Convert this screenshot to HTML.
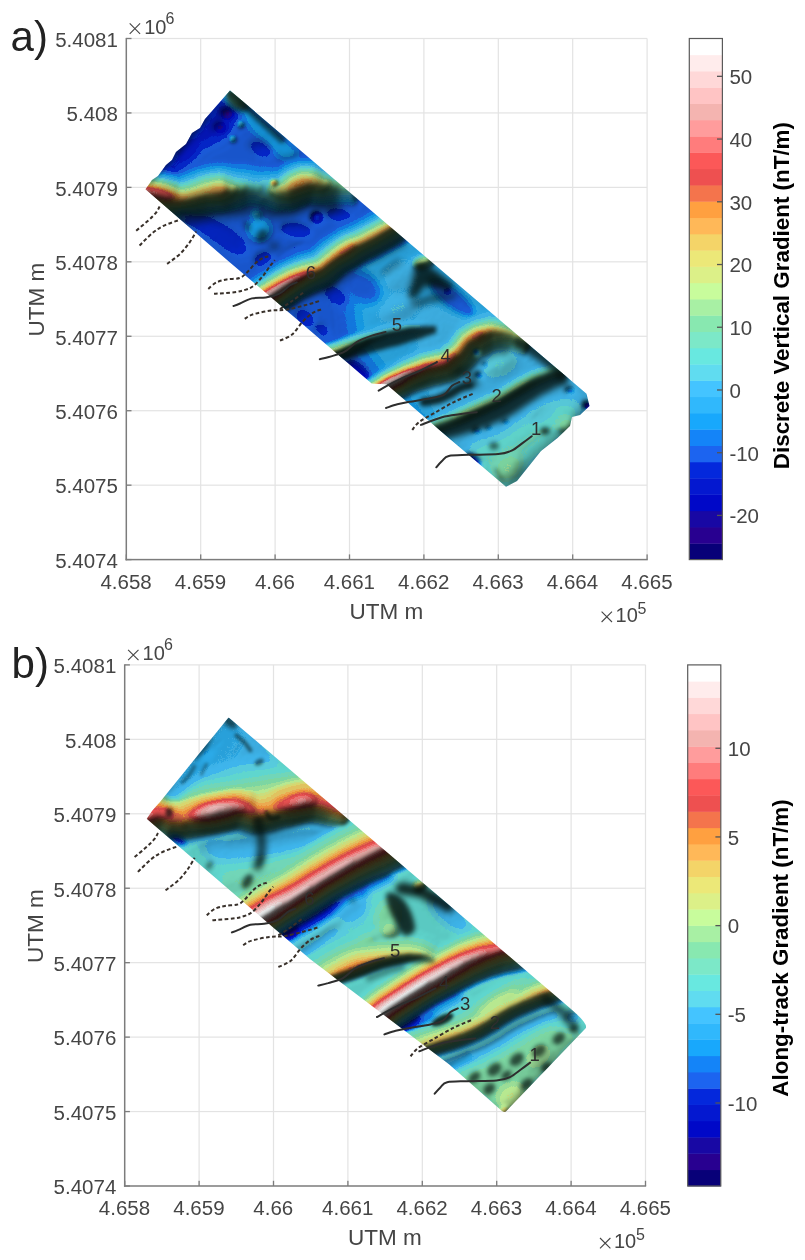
<!DOCTYPE html>
<html><head><meta charset="utf-8"><title>Gradient maps</title>
<style>
html,body{margin:0;padding:0;background:#fff;}
svg{display:block;font-family:"Liberation Sans",sans-serif;}
text{opacity:0.999;}
</style></head><body>
<svg width="805" height="1260" viewBox="0 0 805 1260">
<rect width="805" height="1260" fill="#fff"/>
<defs>
<filter id="cmap" x="100" y="60" width="540" height="460" filterUnits="userSpaceOnUse" color-interpolation-filters="sRGB"><feColorMatrix in="SourceGraphic" type="matrix" values="0 0 0 0 0  0 0 0 0 0  0 0 0 0 0  1 0 0 0 0" result="h0"/><feGaussianBlur in="h0" stdDeviation="1.2" result="h"/><feDiffuseLighting in="h" surfaceScale="26" diffuseConstant="1.3" lighting-color="#fff" result="lt0"><feDistantLight azimuth="225" elevation="45"/></feDiffuseLighting><feGaussianBlur in="lt0" stdDeviation="1.6" result="lt1"/><feComponentTransfer in="lt1" result="lt"><feFuncR type="linear" slope="0.68" intercept="0.32"/><feFuncG type="linear" slope="0.68" intercept="0.32"/><feFuncB type="linear" slope="0.68" intercept="0.32"/></feComponentTransfer><feComponentTransfer in="SourceGraphic" result="c0"><feFuncR type="discrete" tableValues="0.031 0.157 0.094 0.000 0.016 0.016 0.110 0.078 0.094 0.188 0.267 0.376 0.408 0.486 0.533 0.659 0.784 0.863 0.925 0.957 1.000 1.000 0.957 0.933 0.988 1.000 1.000 0.957 1.000 1.000 1.000 1.000"/><feFuncG type="discrete" tableValues="0.000 0.000 0.031 0.031 0.094 0.157 0.392 0.518 0.659 0.722 0.769 0.863 0.910 0.910 0.910 0.941 0.988 0.941 0.910 0.831 0.722 0.627 0.455 0.314 0.345 0.486 0.612 0.706 0.769 0.847 0.925 1.000"/><feFuncB type="discrete" tableValues="0.471 0.565 0.643 0.784 0.816 0.863 0.941 0.973 0.988 0.988 1.000 0.941 0.878 0.784 0.690 0.643 0.612 0.533 0.471 0.408 0.345 0.251 0.298 0.314 0.345 0.486 0.612 0.690 0.769 0.847 0.925 1.000"/></feComponentTransfer><feGaussianBlur in="c0" stdDeviation="0.5" result="col"/><feBlend in="col" in2="lt" mode="multiply"/></filter>
<filter id="b1" filterUnits="userSpaceOnUse" x="100" y="60" width="540" height="460" color-interpolation-filters="sRGB"><feGaussianBlur stdDeviation="1"/></filter>
<filter id="b1_5" filterUnits="userSpaceOnUse" x="100" y="60" width="540" height="460" color-interpolation-filters="sRGB"><feGaussianBlur stdDeviation="1.5"/></filter>
<filter id="b2" filterUnits="userSpaceOnUse" x="100" y="60" width="540" height="460" color-interpolation-filters="sRGB"><feGaussianBlur stdDeviation="2"/></filter>
<filter id="b2_5" filterUnits="userSpaceOnUse" x="100" y="60" width="540" height="460" color-interpolation-filters="sRGB"><feGaussianBlur stdDeviation="2.5"/></filter>
<filter id="b3" filterUnits="userSpaceOnUse" x="100" y="60" width="540" height="460" color-interpolation-filters="sRGB"><feGaussianBlur stdDeviation="3"/></filter>
<filter id="b4" filterUnits="userSpaceOnUse" x="100" y="60" width="540" height="460" color-interpolation-filters="sRGB"><feGaussianBlur stdDeviation="4"/></filter>
<filter id="b5" filterUnits="userSpaceOnUse" x="100" y="60" width="540" height="460" color-interpolation-filters="sRGB"><feGaussianBlur stdDeviation="5"/></filter>
<filter id="b6" filterUnits="userSpaceOnUse" x="100" y="60" width="540" height="460" color-interpolation-filters="sRGB"><feGaussianBlur stdDeviation="6"/></filter>
<filter id="b8" filterUnits="userSpaceOnUse" x="100" y="60" width="540" height="460" color-interpolation-filters="sRGB"><feGaussianBlur stdDeviation="8"/></filter>
<filter id="b10" filterUnits="userSpaceOnUse" x="100" y="60" width="540" height="460" color-interpolation-filters="sRGB"><feGaussianBlur stdDeviation="10"/></filter>
<filter id="b14" filterUnits="userSpaceOnUse" x="100" y="60" width="540" height="460" color-interpolation-filters="sRGB"><feGaussianBlur stdDeviation="14"/></filter>
<clipPath id="clipA"><path d="M230 90.5 L586.5 393.7 L589.5 406 L580 415 L572 417 L570 426 L557.5 438 L541 451 L517 481 L506 486.8 L449.1 438.3 L386.5 384.2 L371.7 383.5 L310 330.4 L230 262.5 L145.5 189.3 L152 180 L158 176 L166 165 L172 160 L176 152 L186 144 L192 133 L200 128 L205 119 Z"/></clipPath>
<clipPath id="clipB"><path d="M230.2 91 L572 382 Q589.5 397 587.5 401.5 L508.5 484 Q506 487 503 484.2 L450.6 437.9 L311.6 332.6 L148.3 192.4 L154 184 L162 175 Z"/></clipPath>
</defs><g id="panelA">
<text x="10.6" y="51.2" font-size="42" fill="#222">a)</text>
<rect x="126.3" y="37.9" width="520.8" height="1.2" fill="#e3e3e3"/>
<rect x="200.1" y="38.5" width="1.2" height="521.1" fill="#e3e3e3"/>
<rect x="126.3" y="112.34" width="520.8" height="1.2" fill="#e3e3e3"/>
<rect x="274.5" y="38.5" width="1.2" height="521.1" fill="#e3e3e3"/>
<rect x="126.3" y="186.79" width="520.8" height="1.2" fill="#e3e3e3"/>
<rect x="348.9" y="38.5" width="1.2" height="521.1" fill="#e3e3e3"/>
<rect x="126.3" y="261.23" width="520.8" height="1.2" fill="#e3e3e3"/>
<rect x="423.3" y="38.5" width="1.2" height="521.1" fill="#e3e3e3"/>
<rect x="126.3" y="335.67" width="520.8" height="1.2" fill="#e3e3e3"/>
<rect x="497.7" y="38.5" width="1.2" height="521.1" fill="#e3e3e3"/>
<rect x="126.3" y="410.11" width="520.8" height="1.2" fill="#e3e3e3"/>
<rect x="572.1" y="38.5" width="1.2" height="521.1" fill="#e3e3e3"/>
<rect x="126.3" y="484.56" width="520.8" height="1.2" fill="#e3e3e3"/>
<rect x="646.5" y="38.5" width="1.2" height="521.1" fill="#e3e3e3"/><g clip-path="url(#clipA)">
<g filter="url(#cmap)">
<rect x="100" y="60" width="540" height="460" fill="#353535"/>
<path d="M350 262 L400 222 L600 390 L510 500 L420 420 L360 340Z" fill="#4f4f4f" filter="url(#b10)"/>
<path d="M420 310 L520 335 L600 400 L510 500 L440 430Z" fill="#555555" filter="url(#b8)"/>
<path d="M232 88 C227.8 89 221 99.3 215 106 C209 112.7 203.2 119.7 196 128 C188.8 136.3 178 148.7 172 156 C166 163.3 159.3 168.7 160 172 C160.7 175.3 169.3 179.7 176 176 C182.7 172.3 192.3 156.3 200 150 C207.7 143.7 216 143.3 222 138 C228 132.7 233 124.3 236 118 C239 111.7 240.7 105 240 100 C239.3 95 236.2 87 232 88Z" fill="#272727" filter="url(#b4)"/>
<ellipse cx="227.5" cy="113.8" rx="6" ry="5.5" fill="#0e0e0e" filter="url(#b2)"/>
<ellipse cx="220.5" cy="127.7" rx="6.5" ry="6" fill="#171717" filter="url(#b2)"/>
<ellipse cx="188" cy="150" rx="10" ry="6" fill="#212121" transform="rotate(-45 188 150)" filter="url(#b3)"/>
<path d="M244 106 C246.7 105.7 255.7 114.7 262 120 C268.3 125.3 276 132.3 282 138 C288 143.7 298 150.7 298 154 C298 157.3 288 160.3 282 158 C276 155.7 268 146 262 140 C256 134 249 127.7 246 122 C243 116.3 241.3 106.3 244 106Z" fill="#454545" filter="url(#b3)"/>
<ellipse cx="261" cy="149" rx="11" ry="6" fill="#272727" transform="rotate(25 261 149)" filter="url(#b3)"/>
<ellipse cx="240.4" cy="123.8" rx="2.8" ry="2.8" fill="#545454" filter="url(#b1_5)"/>
<ellipse cx="232.4" cy="138.7" rx="2.6" ry="2.6" fill="#545454" filter="url(#b1_5)"/>
<ellipse cx="236" cy="99" rx="13" ry="8" fill="#707070" transform="rotate(40 236 99)" filter="url(#b3)"/>
<path d="M127.2 187.6 L143.1 189.4 L152.1 190.4 L160.2 191.9 L168.2 194.4 L174.2 195.9 L180 197.4 L185.8 195.9 L191.8 194.4 L197.8 192.7 L203.8 190.9 L209.9 189.9 L215.9 188.9 L222 188.7 L227.9 188.4 L237.9 187.4 L247 185.4 L256.1 186.4 L266.1 187.4 L277 189.4 L285.8 188.4 L293.7 184.5 L302.8 180.9 L312.1 179.9 L322.1 182.4 L331 182.9 L340 183.4 L356 184.3 L354.7 208.4 L338.7 207.5 L329.7 207.4 L318.2 207.3 L310 205.4 L309.1 206 L304.1 208 L293 212.9 L275.8 214.3 L262.7 211.1 L253.6 209.7 L248.3 209.1 L241.7 211.6 L229.9 213.6 L223 214.4 L218.6 214.5 L214.1 215.2 L209.5 215.9 L204.9 217.2 L198.5 219.1 L192 220.7 L180 223.1 L167.9 221.1 L161 219.5 L153.8 217.3 L148.3 216.3 L140.2 215.5 L124.3 213.7Z" fill="#343434" filter="url(#b2)"/>
<path d="M129.3 168.6 L145.2 170.3 L155.1 169.9 L165.6 170.3 L174.7 171.9 L180.1 172.4 L180 171.6 L179.3 170 L184.6 167.9 L189.9 165.5 L197.3 162.6 L205.1 161.1 L212.9 159.9 L220.8 159.5 L225.7 159.3 L233.5 159.8 L245.5 159 L258.7 161.3 L269.7 162.5 L278.3 164.2 L278.5 163.8 L283.1 160.5 L296.5 155.5 L314 155.2 L325.7 159.5 L332.2 161.5 L341.1 164.2 L357.1 165.1 L355.9 185.9 L340 185 L331 184.5 L321.9 184 L311.9 181.5 L303.2 182.5 L294.3 185.9 L286.2 190 L277 191 L265.9 189 L255.9 188 L247 187 L238.1 189 L228.1 190 L222 190.2 L216.1 190.5 L210.1 191.5 L204.2 192.5 L198.2 194.2 L192.2 196 L186.2 197.5 L180 199 L173.8 197.5 L167.8 196 L159.8 193.5 L151.9 192 L142.9 191 L127 189.2Z" fill="#343434" filter="url(#b2)" style="mix-blend-mode:lighten"/>
<path d="M127.2 187.6 L143.1 189.4 L152.1 190.4 L160.2 191.9 L168.2 194.4 L174.2 195.9 L180 197.4 L185.8 195.9 L191.8 194.4 L197.8 192.7 L203.8 190.9 L209.9 189.9 L215.9 188.9 L222 188.7 L227.9 188.4 L237.9 187.4 L247 185.4 L256.1 186.4 L266.1 187.4 L277 189.4 L285.8 188.4 L293.7 184.5 L302.8 180.9 L312.1 179.9 L322.1 182.4 L331 182.9 L340 183.4 L356 184.3 L354.9 205.3 L338.9 204.4 L329.8 204.5 L318.6 204.8 L310.2 203.3 L308.6 204 L303.2 206.1 L292.3 210.7 L275.9 211.7 L263.2 207.8 L254 206 L248.1 205.6 L241.2 208.7 L229.7 211.2 L223 212.3 L218.4 212.4 L213.7 213.1 L209 213.7 L204.3 215 L197.9 216.9 L191.5 218.6 L180 220.9 L168.4 219.2 L161.6 217.8 L154.3 215.6 L148.6 214.6 L140.4 213.8 L124.5 212Z" fill="#3c3c3c" filter="url(#b2)"/>
<path d="M129.1 170.5 L145 172.2 L154.8 172 L165 172.6 L174 174.2 L179.4 175 L180 174.8 L180.1 173.3 L185.5 171.3 L190.9 169 L198.1 166.2 L205.7 164.7 L213.3 163.3 L220.9 162.9 L226 163.3 L234.3 164.5 L245.8 164.4 L258.1 166.8 L269 167.3 L278.1 168.1 L279.5 167 L284.4 163.3 L297.2 158.5 L313.8 158.3 L325.2 162.7 L332 165.1 L340.9 167.8 L356.9 168.7 L355.9 185.9 L340 185 L331 184.5 L321.9 184 L311.9 181.5 L303.2 182.5 L294.3 185.9 L286.2 190 L277 191 L265.9 189 L255.9 188 L247 187 L238.1 189 L228.1 190 L222 190.2 L216.1 190.5 L210.1 191.5 L204.2 192.5 L198.2 194.2 L192.2 196 L186.2 197.5 L180 199 L173.8 197.5 L167.8 196 L159.8 193.5 L151.9 192 L142.9 191 L127 189.2Z" fill="#3c3c3c" filter="url(#b2)" style="mix-blend-mode:lighten"/>
<path d="M127.2 187.6 L143.1 189.4 L152.1 190.4 L160.2 191.9 L168.2 194.4 L174.2 195.9 L180 197.4 L185.8 195.9 L191.8 194.4 L197.8 192.7 L203.8 190.9 L209.9 189.9 L215.9 188.9 L222 188.7 L227.9 188.4 L237.9 187.4 L247 185.4 L256.1 186.4 L266.1 187.4 L277 189.4 L285.8 188.4 L293.7 184.5 L302.8 180.9 L312.1 179.9 L322.1 182.4 L331 182.9 L340 183.4 L356 184.3 L355 202.5 L339 201.6 L330 202 L318.9 202.7 L310.4 201.4 L308.1 202.3 L302.5 204.5 L291.8 208.8 L276 209.4 L263.6 205 L254.4 202.8 L247.9 202.6 L240.8 206.2 L229.5 209 L222.9 210.5 L218.2 210.6 L213.4 211.2 L208.6 211.9 L203.8 213.2 L197.4 215 L191 216.7 L180 219.1 L168.8 217.5 L162 216.2 L154.7 214.1 L148.8 213.1 L140.5 212.3 L124.6 210.5Z" fill="#444444" filter="url(#b2)"/>
<path d="M128.9 172.1 L144.8 173.9 L154.6 173.8 L164.6 174.5 L173.4 176.3 L178.8 177.3 L180 177.5 L180.8 176.1 L186.3 174.2 L191.7 172 L198.8 169.2 L206.2 167.7 L213.6 166.3 L221 165.9 L226.3 166.8 L234.9 168.6 L246 169 L257.7 171.5 L268.4 171.5 L277.9 171.4 L280.3 169.8 L285.4 165.8 L297.8 161 L313.6 161 L324.8 165.6 L331.9 168.2 L340.7 170.9 L356.7 171.8 L355.9 185.9 L340 185 L331 184.5 L321.9 184 L311.9 181.5 L303.2 182.5 L294.3 185.9 L286.2 190 L277 191 L265.9 189 L255.9 188 L247 187 L238.1 189 L228.1 190 L222 190.2 L216.1 190.5 L210.1 191.5 L204.2 192.5 L198.2 194.2 L192.2 196 L186.2 197.5 L180 199 L173.8 197.5 L167.8 196 L159.8 193.5 L151.9 192 L142.9 191 L127 189.2Z" fill="#444444" filter="url(#b2)" style="mix-blend-mode:lighten"/>
<path d="M127.2 187.6 L143.1 189.4 L152.1 190.4 L160.2 191.9 L168.2 194.4 L174.2 195.9 L180 197.4 L185.8 195.9 L191.8 194.4 L197.8 192.7 L203.8 190.9 L209.9 189.9 L215.9 188.9 L222 188.7 L227.9 188.4 L237.9 187.4 L247 185.4 L256.1 186.4 L266.1 187.4 L277 189.4 L285.8 188.4 L293.7 184.5 L302.8 180.9 L312.1 179.9 L322.1 182.4 L331 182.9 L340 183.4 L356 184.3 L355.1 200 L339.2 199.1 L330.1 199.7 L319.2 200.7 L310.5 199.6 L307.7 200.7 L301.8 203 L291.3 207.1 L276.1 207.3 L264 202.3 L254.7 199.9 L247.8 199.8 L240.5 203.8 L229.4 207.1 L222.8 208.8 L218 208.9 L213.1 209.5 L208.2 210.1 L203.2 211.4 L196.9 213.3 L190.6 215 L180 217.4 L169.2 216 L162.4 214.8 L155 212.7 L149 211.7 L140.7 210.9 L124.8 209.1Z" fill="#4c4c4c" filter="url(#b2)"/>
<path d="M128.8 173.5 L144.7 175.3 L154.3 175.3 L164.2 176.1 L172.9 178 L178.4 179.2 L180 179.7 L181.4 178.4 L187 176.6 L192.5 174.5 L199.4 171.7 L206.6 170.2 L213.8 168.8 L221.1 168.4 L226.5 169.7 L235.4 171.9 L246.3 172.8 L257.2 175.4 L267.9 175 L277.8 174.1 L281 172 L286.3 167.8 L298.4 163.2 L313.4 163.2 L324.4 167.9 L331.7 170.8 L340.6 173.4 L356.6 174.3 L355.9 185.9 L340 185 L331 184.5 L321.9 184 L311.9 181.5 L303.2 182.5 L294.3 185.9 L286.2 190 L277 191 L265.9 189 L255.9 188 L247 187 L238.1 189 L228.1 190 L222 190.2 L216.1 190.5 L210.1 191.5 L204.2 192.5 L198.2 194.2 L192.2 196 L186.2 197.5 L180 199 L173.8 197.5 L167.8 196 L159.8 193.5 L151.9 192 L142.9 191 L127 189.2Z" fill="#4c4c4c" filter="url(#b2)" style="mix-blend-mode:lighten"/>
<path d="M127.2 187.6 L143.1 189.4 L152.1 190.4 L160.2 191.9 L168.2 194.4 L174.2 195.9 L180 197.4 L185.8 195.9 L191.8 194.4 L197.8 192.7 L203.8 190.9 L209.9 189.9 L215.9 188.9 L222 188.7 L227.9 188.4 L237.9 187.4 L247 185.4 L256.1 186.4 L266.1 187.4 L277 189.4 L285.8 188.4 L293.7 184.5 L302.8 180.9 L312.1 179.9 L322.1 182.4 L331 182.9 L340 183.4 L356 184.3 L355.3 197.6 L339.3 196.7 L330.2 197.5 L319.5 198.9 L310.6 198 L307.4 199.2 L301.2 201.5 L290.8 205.4 L276.2 205.3 L264.3 199.8 L255 197.1 L247.6 197.2 L240.1 201.6 L229.3 205.3 L222.7 207.2 L217.8 207.3 L212.9 207.9 L207.9 208.5 L202.8 209.8 L196.5 211.6 L190.2 213.3 L180 215.8 L169.5 214.5 L162.8 213.4 L155.3 211.4 L149.2 210.4 L140.8 209.6 L124.9 207.8Z" fill="#545454" filter="url(#b2)"/>
<path d="M128.6 174.7 L144.5 176.5 L154.1 176.6 L163.8 177.5 L172.5 179.5 L178 180.9 L180 181.7 L182 180.5 L187.6 178.8 L193.1 176.7 L199.9 174 L207 172.5 L214.1 171 L221.2 170.6 L226.7 172.3 L235.9 174.9 L246.4 176.3 L256.9 178.9 L267.5 178 L277.7 176.5 L281.6 174.1 L287.1 169.6 L298.8 165 L313.2 165.1 L324.1 170 L331.6 173.1 L340.5 175.7 L356.4 176.6 L355.9 185.9 L340 185 L331 184.5 L321.9 184 L311.9 181.5 L303.2 182.5 L294.3 185.9 L286.2 190 L277 191 L265.9 189 L255.9 188 L247 187 L238.1 189 L228.1 190 L222 190.2 L216.1 190.5 L210.1 191.5 L204.2 192.5 L198.2 194.2 L192.2 196 L186.2 197.5 L180 199 L173.8 197.5 L167.8 196 L159.8 193.5 L151.9 192 L142.9 191 L127 189.2Z" fill="#545454" filter="url(#b2)" style="mix-blend-mode:lighten"/>
<path d="M127.2 187.6 L143.1 189.4 L152.1 190.4 L160.2 191.9 L168.2 194.4 L174.2 195.9 L180 197.4 L185.8 195.9 L191.8 194.4 L197.8 192.7 L203.8 190.9 L209.9 189.9 L215.9 188.9 L222 188.7 L227.9 188.4 L237.9 187.4 L247 185.4 L256.1 186.4 L266.1 187.4 L277 189.4 L285.8 188.4 L293.7 184.5 L302.8 180.9 L312.1 179.9 L322.1 182.4 L331 182.9 L340 183.4 L356 184.3 L355.4 195.4 L339.4 194.5 L330.3 195.4 L319.8 197.1 L310.8 196.4 L307 197.7 L300.6 200.2 L290.3 203.9 L276.3 203.4 L264.7 197.5 L255.2 194.5 L247.5 194.8 L239.8 199.6 L229.1 203.5 L222.7 205.7 L217.7 205.8 L212.6 206.4 L207.5 207 L202.3 208.3 L196 210.1 L189.8 211.8 L180 214.2 L169.9 213.2 L163.2 212.2 L155.6 210.1 L149.4 209.1 L141 208.3 L125.1 206.6Z" fill="#5c5c5c" filter="url(#b2)"/>
<path d="M128.5 175.8 L144.4 177.6 L154 177.8 L163.5 178.8 L172.1 180.9 L177.6 182.4 L180 183.6 L182.4 182.5 L188.1 180.8 L193.7 178.7 L200.4 176.1 L207.3 174.6 L214.3 173.1 L221.3 172.6 L226.9 174.6 L236.3 177.6 L246.6 179.4 L256.5 182.1 L267 180.9 L277.6 178.8 L282.1 175.9 L287.9 171.3 L299.3 166.8 L313.1 166.9 L323.8 171.9 L331.5 175.2 L340.4 177.8 L356.3 178.6 L355.9 185.9 L340 185 L331 184.5 L321.9 184 L311.9 181.5 L303.2 182.5 L294.3 185.9 L286.2 190 L277 191 L265.9 189 L255.9 188 L247 187 L238.1 189 L228.1 190 L222 190.2 L216.1 190.5 L210.1 191.5 L204.2 192.5 L198.2 194.2 L192.2 196 L186.2 197.5 L180 199 L173.8 197.5 L167.8 196 L159.8 193.5 L151.9 192 L142.9 191 L127 189.2Z" fill="#5c5c5c" filter="url(#b2)" style="mix-blend-mode:lighten"/>
<path d="M127.2 187.6 L143.1 189.4 L152.1 190.4 L160.2 191.9 L168.2 194.4 L174.2 195.9 L180 197.4 L185.8 195.9 L191.8 194.4 L197.8 192.7 L203.8 190.9 L209.9 189.9 L215.9 188.9 L222 188.7 L227.9 188.4 L237.9 187.4 L247 185.4 L256.1 186.4 L266.1 187.4 L277 189.4 L285.8 188.4 L293.7 184.5 L302.8 180.9 L312.1 179.9 L322.1 182.4 L331 182.9 L340 183.4 L356 184.3 L355.5 193.2 L339.5 192.3 L330.5 193.4 L320.1 195.4 L310.9 194.9 L306.7 196.4 L300 198.8 L289.9 202.4 L276.4 201.6 L265 195.2 L255.5 192 L247.3 192.4 L239.5 197.6 L229 201.9 L222.6 204.3 L217.5 204.4 L212.4 204.9 L207.2 205.5 L201.9 206.8 L195.6 208.6 L189.4 210.3 L180 212.8 L170.2 211.9 L163.5 210.9 L155.9 208.9 L149.5 207.9 L141.1 207.1 L125.2 205.4Z" fill="#646464" filter="url(#b2)"/>
<path d="M128.4 176.9 L144.3 178.7 L153.8 179 L163.2 180 L171.7 182.2 L177.2 183.9 L180 185.3 L182.9 184.3 L188.6 182.7 L194.3 180.6 L200.9 178 L207.6 176.5 L214.5 175 L221.4 174.5 L227 176.9 L236.7 180.2 L246.8 182.3 L256.2 185.1 L266.7 183.5 L277.5 180.9 L282.6 177.7 L288.6 172.9 L299.7 168.4 L313 168.6 L323.5 173.7 L331.4 177.2 L340.2 179.7 L356.2 180.6 L355.9 185.9 L340 185 L331 184.5 L321.9 184 L311.9 181.5 L303.2 182.5 L294.3 185.9 L286.2 190 L277 191 L265.9 189 L255.9 188 L247 187 L238.1 189 L228.1 190 L222 190.2 L216.1 190.5 L210.1 191.5 L204.2 192.5 L198.2 194.2 L192.2 196 L186.2 197.5 L180 199 L173.8 197.5 L167.8 196 L159.8 193.5 L151.9 192 L142.9 191 L127 189.2Z" fill="#646464" filter="url(#b2)" style="mix-blend-mode:lighten"/>
<path d="M127.2 187.6 L143.1 189.4 L152.1 190.4 L160.2 191.9 L168.2 194.4 L174.2 195.9 L180 197.4 L185.8 195.9 L191.8 194.4 L197.8 192.7 L203.8 190.9 L209.9 189.9 L215.9 188.9 L222 188.7 L227.9 188.4 L237.9 187.4 L247 185.4 L256 187.2 L266.1 187.4 L277 189.4 L285.8 188.4 L293.7 184.5 L302.8 180.9 L312.1 179.9 L322.1 182.4 L331 182.9 L340 183.4 L356 184.3 L355.6 191.1 L339.7 190.2 L330.6 191.5 L320.3 193.8 L311 193.5 L306.3 195.1 L299.5 197.6 L289.5 201 L276.5 199.8 L265.3 193 L256 187.2 L247.2 190.1 L239.2 195.6 L228.9 200.3 L222.6 202.9 L217.4 203 L212.1 203.5 L206.8 204.1 L201.5 205.4 L195.2 207.2 L189 208.9 L180 211.3 L170.5 210.6 L163.8 209.8 L156.2 207.8 L149.7 206.7 L141.2 206 L125.3 204.2Z" fill="#6c6c6c" filter="url(#b2)"/>
<path d="M128.3 177.9 L144.2 179.7 L153.6 180.1 L162.9 181.1 L171.3 183.5 L176.9 185.3 L180 186.9 L183.3 186 L189.1 184.4 L194.8 182.4 L201.3 179.9 L207.9 178.3 L214.7 176.8 L221.5 176.4 L227.2 179 L237.1 182.7 L246.9 185.1 L256 187.2 L266.3 186.1 L277.4 182.9 L283.1 179.4 L289.2 174.4 L300.1 170 L312.8 170.2 L323.2 175.5 L331.3 179.1 L340.1 181.6 L356.1 182.5 L355.9 185.9 L340 185 L331 184.5 L321.9 184 L311.9 181.5 L303.2 182.5 L294.3 185.9 L286.2 190 L277 191 L265.9 189 L256 187.2 L247 187 L238.1 189 L228.1 190 L222 190.2 L216.1 190.5 L210.1 191.5 L204.2 192.5 L198.2 194.2 L192.2 196 L186.2 197.5 L180 199 L173.8 197.5 L167.8 196 L159.8 193.5 L151.9 192 L142.9 191 L127 189.2Z" fill="#6c6c6c" filter="url(#b2)" style="mix-blend-mode:lighten"/>
<path d="M127.2 187.6 L143.1 189.4 L152.1 190.4 L160.2 191.9 L168.2 194.4 L174.2 195.9 L180 197.4 L185.8 195.9 L191.8 194.4 L197.8 192.7 L203.8 190.9 L209.9 189.9 L215.9 188.9 L222 188.7 L227.9 188.4 L237.9 187.4 L247 186.2 L256 187.2 L266 188.2 L277 189.4 L285.8 188.4 L293.7 184.5 L302.8 180.9 L312.1 179.9 L322.1 182.4 L331 182.9 L340 183.4 L356 184.3 L355.8 189.1 L339.8 188.2 L330.7 189.6 L320.6 192.2 L311.1 192.1 L306 193.8 L298.9 196.4 L289 199.6 L276.6 198.1 L266 188.2 L256 187.2 L247 186.2 L238.9 193.8 L228.7 198.7 L222.5 201.6 L217.2 201.7 L211.9 202.2 L206.5 202.7 L201.1 204 L194.9 205.8 L188.7 207.5 L180 210 L170.8 209.4 L164.2 208.6 L156.5 206.7 L149.9 205.6 L141.4 204.9 L125.5 203.1Z" fill="#747474" filter="url(#b2)"/>
<path d="M128.2 178.9 L144.1 180.6 L153.5 181.1 L162.6 182.3 L171 184.7 L176.5 186.6 L180 188.5 L183.7 187.6 L189.5 186.1 L195.3 184.1 L201.7 181.6 L208.2 180.1 L214.8 178.5 L221.5 178.1 L227.4 181 L237.5 185 L247 186.2 L256 187.2 L266 188.2 L277.3 184.8 L283.6 180.9 L289.8 175.8 L300.4 171.4 L312.7 171.8 L323 177.1 L331.2 180.9 L340 183.3 L356 184.2 L355.9 185.9 L340 185 L331 184.5 L321.9 184 L311.9 181.5 L303.2 182.5 L294.3 185.9 L286.2 190 L277 191 L266 188.2 L256 187.2 L247 186.2 L238.1 189 L228.1 190 L222 190.2 L216.1 190.5 L210.1 191.5 L204.2 192.5 L198.2 194.2 L192.2 196 L186.2 197.5 L180 199 L173.8 197.5 L167.8 196 L159.8 193.5 L151.9 192 L142.9 191 L127 189.2Z" fill="#747474" filter="url(#b2)" style="mix-blend-mode:lighten"/>
<path d="M127.2 187.6 L143.1 189.4 L152.1 190.4 L160.2 191.9 L168.2 194.4 L174.2 195.9 L180 197.4 L185.8 195.9 L191.8 194.4 L197.8 192.7 L203.8 190.9 L209.9 189.9 L215.9 188.9 L222 188.7 L227.9 188.4 L237.9 187.4 L247 186.2 L256 187.2 L266 188.2 L277 189.4 L285.8 188.4 L293.7 184.5 L302.8 180.9 L312.1 179.9 L322.1 182.4 L331 182.9 L340 184.2 L356 185.1 L356 185.1 L340 184.2 L330.8 187.8 L320.8 190.7 L311.2 190.7 L305.7 192.6 L298.4 195.2 L288.6 198.2 L276.7 196.5 L266 188.2 L256 187.2 L247 186.2 L238.6 191.9 L228.6 197.2 L222.5 200.3 L217.1 200.4 L211.7 200.8 L206.2 201.4 L200.7 202.7 L194.5 204.4 L188.4 206.2 L180 208.6 L171.1 208.2 L164.5 207.5 L156.8 205.6 L150 204.5 L141.5 203.8 L125.6 202Z" fill="#7c7c7c" filter="url(#b2)"/>
<path d="M128.1 179.8 L144 181.5 L153.3 182.1 L162.3 183.3 L170.7 185.8 L176.2 187.8 L180 190 L184.1 189.2 L190 187.8 L195.8 185.8 L202.1 183.3 L208.5 181.8 L215 180.2 L221.6 179.7 L227.5 182.9 L237.8 187.2 L247 186.2 L256 187.2 L266 188.2 L277.2 186.6 L284 182.5 L290.4 177.1 L300.8 172.8 L312.6 173.2 L322.7 178.7 L331.1 182.6 L340 184.2 L356 185.1 L356 185.1 L340 184.2 L331 184.5 L321.9 184 L311.9 181.5 L303.2 182.5 L294.3 185.9 L286.2 190 L277 191 L266 188.2 L256 187.2 L247 186.2 L238.1 189 L228.1 190 L222 190.2 L216.1 190.5 L210.1 191.5 L204.2 192.5 L198.2 194.2 L192.2 196 L186.2 197.5 L180 199 L173.8 197.5 L167.8 196 L159.8 193.5 L151.9 192 L142.9 191 L127 189.2Z" fill="#7c7c7c" filter="url(#b2)" style="mix-blend-mode:lighten"/>
<path d="M127.2 187.6 L143.1 189.4 L152.1 190.4 L160.2 191.9 L168.2 194.4 L174.2 195.9 L180 197.4 L185.8 195.9 L191.8 194.4 L197.8 192.7 L203.8 190.9 L209.9 189.9 L215.9 188.9 L222 188.7 L227.9 188.4 L238 188.2 L247 186.2 L256 187.2 L266 188.2 L277 189.4 L285.8 188.4 L293.7 184.5 L302.8 180.9 L312.1 179.9 L322.1 182.4 L331 183.7 L340 184.2 L356 185.1 L356 185.1 L340 184.2 L331 183.7 L321.1 189.2 L311.3 189.4 L305.4 191.4 L297.9 194 L288.3 196.9 L276.8 194.9 L266 188.2 L256 187.2 L247 186.2 L238 188.2 L228.5 195.7 L222.4 199 L217 199.1 L211.5 199.5 L205.9 200.1 L200.3 201.3 L194.1 203.1 L188 204.9 L180 207.3 L171.4 207 L164.8 206.4 L157 204.5 L150.2 203.5 L141.6 202.7 L125.7 201Z" fill="#838383" filter="url(#b2)"/>
<path d="M128 180.7 L143.9 182.4 L153.2 183.1 L162.1 184.3 L170.4 186.9 L175.9 189.1 L180 191.5 L184.5 190.7 L190.4 189.3 L196.2 187.4 L202.5 185 L208.8 183.4 L215.2 181.8 L221.7 181.3 L227.7 184.8 L238 188.2 L247 186.2 L256 187.2 L266 188.2 L277.1 188.4 L284.5 183.9 L291 178.5 L301.1 174.2 L312.5 174.7 L322.5 180.2 L331 183.7 L340 184.2 L356 185.1 L356 185.1 L340 184.2 L331 183.7 L321.9 184 L311.9 181.5 L303.2 182.5 L294.3 185.9 L286.2 190 L277 191 L266 188.2 L256 187.2 L247 186.2 L238 188.2 L228.1 190 L222 190.2 L216.1 190.5 L210.1 191.5 L204.2 192.5 L198.2 194.2 L192.2 196 L186.2 197.5 L180 199 L173.8 197.5 L167.8 196 L159.8 193.5 L151.9 192 L142.9 191 L127 189.2Z" fill="#838383" filter="url(#b2)" style="mix-blend-mode:lighten"/>
<path d="M127.2 187.6 L143.1 189.4 L152.1 190.4 L160.2 191.9 L168.2 194.4 L174.2 195.9 L180 197.4 L185.8 195.9 L191.8 194.4 L197.8 192.7 L203.8 190.9 L209.9 189.9 L215.9 188.9 L222 188.7 L227.9 188.4 L238 188.2 L247 186.2 L256 187.2 L266 188.2 L277 189.4 L285.8 188.4 L293.7 184.5 L302.8 180.9 L312.1 179.9 L322.1 182.4 L331 183.7 L340 184.2 L356 185.1 L356 185.1 L340 184.2 L331 183.7 L321.3 187.7 L311.4 188.1 L305.1 190.2 L297.4 192.9 L287.9 195.6 L276.8 193.3 L266 188.2 L256 187.2 L247 186.2 L238 188.2 L228.4 194.3 L222.3 197.8 L216.8 197.8 L211.3 198.3 L205.6 198.8 L199.9 200.1 L193.8 201.8 L187.7 203.6 L180 206.1 L171.7 205.9 L165.1 205.4 L157.3 203.5 L150.3 202.4 L141.7 201.7 L125.8 199.9Z" fill="#8b8b8b" filter="url(#b2)"/>
<path d="M127.9 181.5 L143.8 183.3 L153.1 184 L161.8 185.3 L170.1 188 L175.6 190.3 L180 192.9 L184.9 192.2 L190.8 190.9 L196.7 189 L202.8 186.6 L209.1 185 L215.3 183.4 L221.7 182.9 L227.8 186.6 L238 188.2 L247 186.2 L256 187.2 L266 188.2 L277 190.1 L284.9 185.4 L291.6 179.7 L301.5 175.6 L312.4 176.1 L322.2 181.7 L331 183.7 L340 184.2 L356 185.1 L356 185.1 L340 184.2 L331 183.7 L321.9 184 L311.9 181.5 L303.2 182.5 L294.3 185.9 L286.2 190 L277 191 L266 188.2 L256 187.2 L247 186.2 L238 188.2 L228.1 190 L222 190.2 L216.1 190.5 L210.1 191.5 L204.2 192.5 L198.2 194.2 L192.2 196 L186.2 197.5 L180 199 L173.8 197.5 L167.8 196 L159.8 193.5 L151.9 192 L142.9 191 L127 189.2Z" fill="#8b8b8b" filter="url(#b2)" style="mix-blend-mode:lighten"/>
<path d="M127.2 187.6 L143.1 189.4 L152.1 190.4 L160.2 191.9 L168.2 194.4 L174.2 195.9 L180 197.4 L185.8 195.9 L191.8 194.4 L197.8 192.7 L203.8 190.9 L209.9 189.9 L215.9 188.9 L222 188.7 L227.9 188.4 L238 188.2 L247 186.2 L256 187.2 L266 188.2 L277 190.2 L285.8 188.4 L293.7 184.5 L302.8 180.9 L312.1 179.9 L322.1 182.4 L331 183.7 L340 184.2 L356 185.1 L356 185.1 L340 184.2 L331 183.7 L321.5 186.3 L311.5 186.8 L304.8 189 L296.9 191.8 L287.5 194.3 L277 190.2 L266 188.2 L256 187.2 L247 186.2 L238 188.2 L228.3 192.9 L222.3 196.6 L216.7 196.6 L211.1 197 L205.3 197.6 L199.6 198.8 L193.4 200.6 L187.4 202.3 L180 204.8 L172 204.8 L165.4 204.3 L157.6 202.5 L150.5 201.4 L141.8 200.7 L125.9 198.9Z" fill="#939393" filter="url(#b2)"/>
<path d="M127.8 182.4 L143.7 184.1 L152.9 184.9 L161.6 186.3 L169.8 189 L175.3 191.4 L180 194.3 L185.2 193.6 L191.2 192.3 L197.1 190.5 L203.2 188.1 L209.3 186.6 L215.5 184.9 L221.8 184.4 L227.9 188.4 L238 188.2 L247 186.2 L256 187.2 L266 188.2 L277 190.2 L285.3 186.8 L292.1 181 L301.8 176.8 L312.3 177.4 L322 183.1 L331 183.7 L340 184.2 L356 185.1 L356 185.1 L340 184.2 L331 183.7 L321.9 184 L311.9 181.5 L303.2 182.5 L294.3 185.9 L286.2 190 L277 190.2 L266 188.2 L256 187.2 L247 186.2 L238 188.2 L228.1 190 L222 190.2 L216.1 190.5 L210.1 191.5 L204.2 192.5 L198.2 194.2 L192.2 196 L186.2 197.5 L180 199 L173.8 197.5 L167.8 196 L159.8 193.5 L151.9 192 L142.9 191 L127 189.2Z" fill="#939393" filter="url(#b2)" style="mix-blend-mode:lighten"/>
<path d="M127.2 187.6 L143.1 189.4 L152.1 190.4 L160.2 191.9 L168.2 194.4 L174.2 195.9 L180 197.4 L185.8 195.9 L191.8 194.4 L197.8 192.7 L203.8 190.9 L209.9 189.9 L215.9 188.9 L222 188.7 L228 189.2 L238 188.2 L247 186.2 L256 187.2 L266 188.2 L277 190.2 L285.8 188.4 L293.7 184.5 L302.8 180.9 L312.1 179.9 L322 183.2 L331 183.7 L340 184.2 L356 185.1 L356 185.1 L340 184.2 L331 183.7 L322 183.2 L311.6 185.6 L304.5 187.9 L296.4 190.7 L287.1 193.1 L277 190.2 L266 188.2 L256 187.2 L247 186.2 L238 188.2 L228 189.2 L222.2 195.4 L216.6 195.4 L210.8 195.8 L205.1 196.3 L199.2 197.6 L193.1 199.3 L187.1 201.1 L180 203.6 L172.3 203.7 L165.7 203.3 L157.8 201.5 L150.6 200.4 L141.9 199.7 L126 197.9Z" fill="#9b9b9b" filter="url(#b2)"/>
<path d="M127.7 183.2 L143.6 184.9 L152.8 185.8 L161.4 187.2 L169.5 190 L175 192.5 L180 195.6 L185.6 195 L191.6 193.8 L197.6 192 L203.5 189.6 L209.6 188.1 L215.7 186.3 L221.9 185.9 L228 189.2 L238 188.2 L247 186.2 L256 187.2 L266 188.2 L277 190.2 L285.7 188.1 L292.7 182.2 L302.1 178.1 L312.2 178.7 L322 183.2 L331 183.7 L340 184.2 L356 185.1 L356 185.1 L340 184.2 L331 183.7 L322 183.2 L311.9 181.5 L303.2 182.5 L294.3 185.9 L286.2 190 L277 190.2 L266 188.2 L256 187.2 L247 186.2 L238 188.2 L228 189.2 L222 190.2 L216.1 190.5 L210.1 191.5 L204.2 192.5 L198.2 194.2 L192.2 196 L186.2 197.5 L180 199 L173.8 197.5 L167.8 196 L159.8 193.5 L151.9 192 L142.9 191 L127 189.2Z" fill="#9b9b9b" filter="url(#b2)" style="mix-blend-mode:lighten"/>
<path d="M127.2 187.6 L143.1 189.4 L152.1 190.4 L160.2 191.9 L168.2 194.4 L174.2 195.9 L180 197.4 L185.8 195.9 L191.8 194.4 L197.8 192.7 L203.8 190.9 L209.9 189.9 L215.9 188.9 L222 188.7 L228 189.2 L238 188.2 L247 186.2 L256 187.2 L266 188.2 L277 190.2 L286 189.2 L293.7 184.5 L302.8 180.9 L312.1 179.9 L322 183.2 L331 183.7 L340 184.2 L356 185.1 L356 185.1 L340 184.2 L331 183.7 L322 183.2 L311.7 184.4 L304.3 186.8 L295.9 189.6 L286 189.2 L277 190.2 L266 188.2 L256 187.2 L247 186.2 L238 188.2 L228 189.2 L222.2 194.2 L216.5 194.3 L210.7 194.6 L204.8 195.1 L198.9 196.4 L192.8 198.1 L186.8 199.9 L180 202.4 L172.5 202.6 L166 202.3 L158.1 200.5 L150.8 199.4 L142.1 198.7 L126.2 197Z" fill="#a3a3a3" filter="url(#b2)"/>
<path d="M127.6 184 L143.5 185.7 L152.7 186.6 L161.1 188.2 L169.2 191 L174.8 193.6 L180 196.9 L185.9 196.4 L192 195.2 L198 193.4 L203.9 191.1 L209.8 189.5 L215.8 187.8 L221.9 187.3 L228 189.2 L238 188.2 L247 186.2 L256 187.2 L266 188.2 L277 190.2 L286 189.2 L293.2 183.4 L302.4 179.3 L312.1 180 L322 183.2 L331 183.7 L340 184.2 L356 185.1 L356 185.1 L340 184.2 L331 183.7 L322 183.2 L311.9 181.5 L303.2 182.5 L294.3 185.9 L286 189.2 L277 190.2 L266 188.2 L256 187.2 L247 186.2 L238 188.2 L228 189.2 L222 190.2 L216.1 190.5 L210.1 191.5 L204.2 192.5 L198.2 194.2 L192.2 196 L186.2 197.5 L180 199 L173.8 197.5 L167.8 196 L159.8 193.5 L151.9 192 L142.9 191 L127 189.2Z" fill="#a3a3a3" filter="url(#b2)" style="mix-blend-mode:lighten"/>
<path d="M127.2 187.6 L143.1 189.4 L152.1 190.4 L160.2 191.9 L168.2 194.4 L174.2 195.9 L180 197.4 L186 196.7 L192 195.2 L198 193.4 L204 191.7 L210 190.7 L215.9 188.9 L222 188.7 L228 189.2 L238 188.2 L247 186.2 L256 187.2 L266 188.2 L277 190.2 L286 189.2 L293.7 184.5 L302.8 180.9 L312 180.7 L322 183.2 L331 183.7 L340 184.2 L356 185.1 L356 185.1 L340 184.2 L331 183.7 L322 183.2 L312 180.7 L304 185.7 L295.5 188.6 L286 189.2 L277 190.2 L266 188.2 L256 187.2 L247 186.2 L238 188.2 L228 189.2 L222.1 193 L216.4 193.1 L210 190.7 L204 191.7 L198 193.4 L192 195.2 L186 196.7 L180 201.2 L172.8 201.6 L166.2 201.4 L158.3 199.5 L150.9 198.5 L142.2 197.8 L126.3 196Z" fill="#ababab" filter="url(#b2)"/>
<path d="M127.5 184.7 L143.4 186.5 L152.5 187.5 L160.9 189.1 L168.9 192 L174.5 194.7 L180 198.2 L186 196.7 L192 195.2 L198 193.4 L204 191.7 L210 190.7 L215.9 189.2 L222 188.7 L228 189.2 L238 188.2 L247 186.2 L256 187.2 L266 188.2 L277 190.2 L286 189.2 L293.7 184.5 L302.7 180.5 L312 180.7 L322 183.2 L331 183.7 L340 184.2 L356 185.1 L356 185.1 L340 184.2 L331 183.7 L322 183.2 L312 180.7 L303.2 182.5 L294.3 185.9 L286 189.2 L277 190.2 L266 188.2 L256 187.2 L247 186.2 L238 188.2 L228 189.2 L222 190.2 L216.1 190.5 L210 190.7 L204 191.7 L198 193.4 L192 195.2 L186 196.7 L180 199 L173.8 197.5 L167.8 196 L159.8 193.5 L151.9 192 L142.9 191 L127 189.2Z" fill="#ababab" filter="url(#b2)" style="mix-blend-mode:lighten"/>
<path d="M127.2 187.6 L143.1 189.4 L152.1 190.4 L160.2 191.9 L168.2 194.4 L174.2 195.9 L180 198.2 L186 196.7 L192 195.2 L198 193.4 L204 191.7 L210 190.7 L216 189.7 L222 189.4 L228 189.2 L238 188.2 L247 186.2 L256 187.2 L266 188.2 L277 190.2 L286 189.2 L294 185.2 L303 181.7 L312 180.7 L322 183.2 L331 183.7 L340 184.2 L356 185.1 L356 185.1 L340 184.2 L331 183.7 L322 183.2 L312 180.7 L303 181.7 L294 185.2 L286 189.2 L277 190.2 L266 188.2 L256 187.2 L247 186.2 L238 188.2 L228 189.2 L222 189.4 L216 189.7 L210 190.7 L204 191.7 L198 193.4 L192 195.2 L186 196.7 L180 198.2 L173 200.5 L166.5 200.4 L158.5 198.6 L151.1 197.5 L142.3 196.8 L126.4 195.1Z" fill="#b3b3b3" filter="url(#b2)"/>
<path d="M127.4 185.5 L143.3 187.3 L152.4 188.3 L160.7 189.9 L168.6 193 L174.2 195.8 L180 198.2 L186 196.7 L192 195.2 L198 193.4 L204 191.7 L210 190.7 L216 189.7 L222 189.4 L228 189.2 L238 188.2 L247 186.2 L256 187.2 L266 188.2 L277 190.2 L286 189.2 L294 185.2 L303 181.7 L312 180.7 L322 183.2 L331 183.7 L340 184.2 L356 185.1 L356 185.1 L340 184.2 L331 183.7 L322 183.2 L312 180.7 L303 181.7 L294 185.2 L286 189.2 L277 190.2 L266 188.2 L256 187.2 L247 186.2 L238 188.2 L228 189.2 L222 189.4 L216 189.7 L210 190.7 L204 191.7 L198 193.4 L192 195.2 L186 196.7 L180 198.2 L173.8 197.5 L167.8 196 L159.8 193.5 L151.9 192 L142.9 191 L127 189.2Z" fill="#b3b3b3" filter="url(#b2)" style="mix-blend-mode:lighten"/>
<path d="M127.2 187.6 L143.1 189.4 L152.1 190.4 L160.2 191.9 L168.2 194.4 L174 196.7 L180 198.2 L186 196.7 L192 195.2 L198 193.4 L204 191.7 L210 190.7 L216 189.7 L222 189.4 L228 189.2 L238 188.2 L247 186.2 L256 187.2 L266 188.2 L277 190.2 L286 189.2 L294 185.2 L303 181.7 L312 180.7 L322 183.2 L331 183.7 L340 184.2 L356 185.1 L356 185.1 L340 184.2 L331 183.7 L322 183.2 L312 180.7 L303 181.7 L294 185.2 L286 189.2 L277 190.2 L266 188.2 L256 187.2 L247 186.2 L238 188.2 L228 189.2 L222 189.4 L216 189.7 L210 190.7 L204 191.7 L198 193.4 L192 195.2 L186 196.7 L180 198.2 L174 196.7 L166.8 199.4 L158.8 197.7 L151.2 196.6 L142.4 195.9 L126.5 194.1Z" fill="#bbbbbb" filter="url(#b2)"/>
<path d="M127.3 186.3 L143.2 188 L152.3 189.1 L160.5 190.8 L168.4 193.9 L174 196.7 L180 198.2 L186 196.7 L192 195.2 L198 193.4 L204 191.7 L210 190.7 L216 189.7 L222 189.4 L228 189.2 L238 188.2 L247 186.2 L256 187.2 L266 188.2 L277 190.2 L286 189.2 L294 185.2 L303 181.7 L312 180.7 L322 183.2 L331 183.7 L340 184.2 L356 185.1 L356 185.1 L340 184.2 L331 183.7 L322 183.2 L312 180.7 L303 181.7 L294 185.2 L286 189.2 L277 190.2 L266 188.2 L256 187.2 L247 186.2 L238 188.2 L228 189.2 L222 189.4 L216 189.7 L210 190.7 L204 191.7 L198 193.4 L192 195.2 L186 196.7 L180 198.2 L174 196.7 L167.8 196 L159.8 193.5 L151.9 192 L142.9 191 L127 189.2Z" fill="#bbbbbb" filter="url(#b2)" style="mix-blend-mode:lighten"/>
<path d="M127.2 187.6 L143.1 189.4 L152.1 190.4 L160.2 191.9 L168.2 194.4 L174 196.7 L180 198.2 L186 196.7 L192 195.2 L198 193.4 L204 191.7 L210 190.7 L216 189.7 L222 189.4 L228 189.2 L238 188.2 L247 186.2 L256 187.2 L266 188.2 L277 190.2 L286 189.2 L294 185.2 L303 181.7 L312 180.7 L322 183.2 L331 183.7 L340 184.2 L356 185.1 L356 185.1 L340 184.2 L331 183.7 L322 183.2 L312 180.7 L303 181.7 L294 185.2 L286 189.2 L277 190.2 L266 188.2 L256 187.2 L247 186.2 L238 188.2 L228 189.2 L222 189.4 L216 189.7 L210 190.7 L204 191.7 L198 193.4 L192 195.2 L186 196.7 L180 198.2 L174 196.7 L167.1 198.5 L159 196.7 L151.3 195.6 L142.5 195 L126.6 193.2Z" fill="#c3c3c3" filter="url(#b2)"/>
<path d="M127.3 187 L143.2 188.8 L152.2 189.9 L160.3 191.7 L168.1 194.8 L174 196.7 L180 198.2 L186 196.7 L192 195.2 L198 193.4 L204 191.7 L210 190.7 L216 189.7 L222 189.4 L228 189.2 L238 188.2 L247 186.2 L256 187.2 L266 188.2 L277 190.2 L286 189.2 L294 185.2 L303 181.7 L312 180.7 L322 183.2 L331 183.7 L340 184.2 L356 185.1 L356 185.1 L340 184.2 L331 183.7 L322 183.2 L312 180.7 L303 181.7 L294 185.2 L286 189.2 L277 190.2 L266 188.2 L256 187.2 L247 186.2 L238 188.2 L228 189.2 L222 189.4 L216 189.7 L210 190.7 L204 191.7 L198 193.4 L192 195.2 L186 196.7 L180 198.2 L174 196.7 L167.8 196 L159.8 193.5 L151.9 192 L142.9 191 L127 189.2Z" fill="#c3c3c3" filter="url(#b2)" style="mix-blend-mode:lighten"/>
<path d="M127.2 187.6 L143.1 189.4 L152.1 190.4 L160.2 191.9 L168 195.2 L174 196.7 L180 198.2 L186 196.7 L192 195.2 L198 193.4 L204 191.7 L210 190.7 L216 189.7 L222 189.4 L228 189.2 L238 188.2 L247 186.2 L256 187.2 L266 188.2 L277 190.2 L286 189.2 L294 185.2 L303 181.7 L312 180.7 L322 183.2 L331 183.7 L340 184.2 L356 185.1 L356 185.1 L340 184.2 L331 183.7 L322 183.2 L312 180.7 L303 181.7 L294 185.2 L286 189.2 L277 190.2 L266 188.2 L256 187.2 L247 186.2 L238 188.2 L228 189.2 L222 189.4 L216 189.7 L210 190.7 L204 191.7 L198 193.4 L192 195.2 L186 196.7 L180 198.2 L174 196.7 L168 195.2 L159.2 195.8 L151.5 194.7 L142.6 194.1 L126.7 192.3Z" fill="#cbcbcb" filter="url(#b2)"/>
<path d="M127.2 187.7 L143.1 189.5 L152.1 190.7 L160 192.5 L168 195.2 L174 196.7 L180 198.2 L186 196.7 L192 195.2 L198 193.4 L204 191.7 L210 190.7 L216 189.7 L222 189.4 L228 189.2 L238 188.2 L247 186.2 L256 187.2 L266 188.2 L277 190.2 L286 189.2 L294 185.2 L303 181.7 L312 180.7 L322 183.2 L331 183.7 L340 184.2 L356 185.1 L356 185.1 L340 184.2 L331 183.7 L322 183.2 L312 180.7 L303 181.7 L294 185.2 L286 189.2 L277 190.2 L266 188.2 L256 187.2 L247 186.2 L238 188.2 L228 189.2 L222 189.4 L216 189.7 L210 190.7 L204 191.7 L198 193.4 L192 195.2 L186 196.7 L180 198.2 L174 196.7 L168 195.2 L159.8 193.5 L151.9 192 L142.9 191 L127 189.2Z" fill="#cbcbcb" filter="url(#b2)" style="mix-blend-mode:lighten"/>
<path d="M127.2 187.6 L143.1 189.4 L152 191.2 L160 192.7 L168 195.2 L174 196.7 L180 198.2 L186 196.7 L192 195.2 L198 193.4 L204 191.7 L210 190.7 L216 189.7 L222 189.4 L228 189.2 L238 188.2 L247 186.2 L256 187.2 L266 188.2 L277 190.2 L286 189.2 L294 185.2 L303 181.7 L312 180.7 L322 183.2 L331 183.7 L340 184.2 L356 185.1 L356 185.1 L340 184.2 L331 183.7 L322 183.2 L312 180.7 L303 181.7 L294 185.2 L286 189.2 L277 190.2 L266 188.2 L256 187.2 L247 186.2 L238 188.2 L228 189.2 L222 189.4 L216 189.7 L210 190.7 L204 191.7 L198 193.4 L192 195.2 L186 196.7 L180 198.2 L174 196.7 L168 195.2 L160 192.7 L152 191.2 L142.7 193.2 L126.8 191.4Z" fill="#d3d3d3" filter="url(#b2)"/>
<path d="M127.1 188.4 L143 190.2 L152 191.2 L160 192.7 L168 195.2 L174 196.7 L180 198.2 L186 196.7 L192 195.2 L198 193.4 L204 191.7 L210 190.7 L216 189.7 L222 189.4 L228 189.2 L238 188.2 L247 186.2 L256 187.2 L266 188.2 L277 190.2 L286 189.2 L294 185.2 L303 181.7 L312 180.7 L322 183.2 L331 183.7 L340 184.2 L356 185.1 L356 185.1 L340 184.2 L331 183.7 L322 183.2 L312 180.7 L303 181.7 L294 185.2 L286 189.2 L277 190.2 L266 188.2 L256 187.2 L247 186.2 L238 188.2 L228 189.2 L222 189.4 L216 189.7 L210 190.7 L204 191.7 L198 193.4 L192 195.2 L186 196.7 L180 198.2 L174 196.7 L168 195.2 L160 192.7 L152 191.2 L142.9 191 L127 189.2Z" fill="#d3d3d3" filter="url(#b2)" style="mix-blend-mode:lighten"/>
<ellipse cx="273.6" cy="183" rx="3.4" ry="3" fill="#a3a3a3" filter="url(#b1_5)"/>
<ellipse cx="264" cy="189" rx="3.5" ry="11" fill="#5c5c5c" transform="rotate(8 264 189)" filter="url(#b2)"/>
<path d="M176 212 C178 211 188.3 212 196 214 C203.7 216 214.7 220 222 224 C229.3 228 236 233.3 240 238 C244 242.7 247.3 249.7 246 252 C244.7 254.3 238.7 255 232 252 C225.3 249 214 239.3 206 234 C198 228.7 189 223.7 184 220 C179 216.3 174 213 176 212Z" fill="#292929" filter="url(#b3)"/>
<ellipse cx="259" cy="229" rx="12" ry="11" fill="#454545" filter="url(#b3)"/>
<ellipse cx="256" cy="214" rx="5" ry="4" fill="#4c4c4c" filter="url(#b2)"/>
<ellipse cx="296" cy="230" rx="15" ry="6.5" fill="#292929" transform="rotate(8 296 230)" filter="url(#b2)"/>
<ellipse cx="317" cy="217.5" rx="7" ry="7" fill="#373737" filter="url(#b1)"/>
<ellipse cx="317" cy="217.5" rx="5.8" ry="5.8" fill="#1c1c1c" filter="url(#b1)"/>
<ellipse cx="317.5" cy="218" rx="3" ry="3" fill="#2c2c2c" filter="url(#b1)"/>
<ellipse cx="339" cy="215" rx="12" ry="6" fill="#292929" transform="rotate(12 339 215)" filter="url(#b2)"/>
<ellipse cx="263" cy="259" rx="9" ry="6" fill="#292929" transform="rotate(-35 263 259)" filter="url(#b2)"/>
<ellipse cx="296" cy="252" rx="14" ry="6" fill="#2c2c2c" transform="rotate(-25 296 252)" filter="url(#b3)"/>
<path d="M248.4 307.4 L261.5 298.3 L269.6 292.8 L279.6 286.3 L285.6 282.6 L291.6 278.8 L298.2 275.8 L304.7 272.8 L312.2 270 L319.6 267.3 L326.8 261.6 L334.1 255.8 L342.2 250.8 L350.3 245.8 L356.6 242.8 L362.8 239.8 L369 236.8 L376.3 232.8 L383.6 228.8 L389.6 225.5 L395.6 222.3 L409.7 214.7 L420.9 235.4 L406.9 243.1 L400.9 246.4 L395 249.7 L387.8 253.7 L380 257.9 L373.1 261.2 L366.9 264.2 L362 266.8 L354.9 271.3 L347.9 275.4 L341.6 280.4 L331.5 288 L320.5 292.5 L313.9 295.1 L308.3 297.8 L303.2 300.2 L298.5 303.3 L292.8 307 L283.2 313.3 L275.5 318.6 L262.3 327.7Z" fill="#343434" filter="url(#b1_5)"/>
<path d="M233.5 285.8 L246.7 276.8 L255 271 L265.4 264.3 L271.7 260.4 L279.2 255.7 L287.2 252 L294.7 248.5 L303.2 245.4 L306.6 244.6 L310.6 241 L319.1 234.4 L328.4 228.6 L337.5 222.9 L345.2 219.2 L351.5 216.2 L357 213.5 L363.7 209.8 L371.1 205.8 L377.1 202.5 L383.1 199.3 L397.2 191.6 L410.4 216.1 L396.4 223.7 L390.4 227 L384.4 230.2 L377.1 234.2 L369.8 238.2 L363.5 241.2 L357.3 244.2 L351.1 247.2 L343.1 252.2 L335.1 257.2 L327.8 262.9 L320.4 268.7 L312.8 271.5 L305.3 274.2 L298.8 277.2 L292.4 280.2 L286.4 283.9 L280.4 287.7 L270.4 294.2 L262.5 299.7 L249.3 308.7Z" fill="#343434" filter="url(#b1_5)" style="mix-blend-mode:lighten"/>
<path d="M248.4 307.4 L261.5 298.3 L269.6 292.8 L279.6 286.3 L285.6 282.6 L291.6 278.8 L298.2 275.8 L304.7 272.8 L312.2 270 L319.6 267.3 L326.8 261.6 L334.1 255.8 L342.2 250.8 L350.3 245.8 L356.6 242.8 L362.8 239.8 L369 236.8 L376.3 232.8 L383.6 228.8 L389.6 225.5 L395.6 222.3 L409.7 214.7 L419.8 233.3 L405.7 240.9 L399.8 244.3 L393.9 247.6 L386.6 251.7 L378.9 255.9 L372.1 259.1 L365.9 262.2 L361 264.9 L353.8 269.5 L346.6 273.6 L340.2 278.6 L330.4 286.1 L319.8 290.5 L313.1 293.3 L307.5 296.1 L302.3 298.6 L297.6 301.8 L291.9 305.5 L282.3 311.9 L274.6 317.3 L261.4 326.3Z" fill="#3c3c3c" filter="url(#b1_5)"/>
<path d="M235.9 289.3 L249.1 280.2 L257.4 274.6 L267.8 267.9 L274.1 264.1 L281.3 259.8 L289.2 256.3 L296.6 253.1 L305 250.2 L309.2 249.2 L313.9 245.3 L322.2 238.7 L331.1 232.9 L340 227.4 L347.6 224.1 L353.8 221.1 L359.5 218.3 L366.4 214.6 L373.7 210.6 L379.8 207.5 L385.9 204.3 L399.9 196.7 L410.4 216.1 L396.4 223.7 L390.4 227 L384.4 230.2 L377.1 234.2 L369.8 238.2 L363.5 241.2 L357.3 244.2 L351.1 247.2 L343.1 252.2 L335.1 257.2 L327.8 262.9 L320.4 268.7 L312.8 271.5 L305.3 274.2 L298.8 277.2 L292.4 280.2 L286.4 283.9 L280.4 287.7 L270.4 294.2 L262.5 299.7 L249.3 308.7Z" fill="#3c3c3c" filter="url(#b1_5)" style="mix-blend-mode:lighten"/>
<path d="M248.4 307.4 L261.5 298.3 L269.6 292.8 L279.6 286.3 L285.6 282.6 L291.6 278.8 L298.2 275.8 L304.7 272.8 L312.2 270 L319.6 267.3 L326.8 261.6 L334.1 255.8 L342.2 250.8 L350.3 245.8 L356.6 242.8 L362.8 239.8 L369 236.8 L376.3 232.8 L383.6 228.8 L389.6 225.5 L395.6 222.3 L409.7 214.7 L418.8 231.5 L404.7 239.1 L398.8 242.5 L392.9 245.9 L385.7 250 L378.1 254.2 L371.3 257.4 L365.1 260.5 L360.1 263.3 L352.9 268 L345.5 272.1 L339 277.1 L329.5 284.5 L319.1 288.8 L312.5 291.7 L306.9 294.6 L301.6 297.2 L296.8 300.5 L291.1 304.3 L281.5 310.7 L273.8 316.1 L260.6 325.2Z" fill="#444444" filter="url(#b1_5)"/>
<path d="M237.2 291.2 L250.4 282.1 L258.7 276.6 L269.1 270 L275.4 266.3 L282.6 262 L290.3 258.7 L297.6 255.6 L306 253 L310.7 251.8 L315.8 247.7 L323.9 241.2 L332.6 235.3 L341.4 229.9 L348.9 226.8 L355.2 223.9 L360.9 221.1 L367.8 217.3 L375.2 213.4 L381.3 210.2 L387.4 207.2 L401.5 199.5 L410.4 216.1 L396.4 223.7 L390.4 227 L384.4 230.2 L377.1 234.2 L369.8 238.2 L363.5 241.2 L357.3 244.2 L351.1 247.2 L343.1 252.2 L335.1 257.2 L327.8 262.9 L320.4 268.7 L312.8 271.5 L305.3 274.2 L298.8 277.2 L292.4 280.2 L286.4 283.9 L280.4 287.7 L270.4 294.2 L262.5 299.7 L249.3 308.7Z" fill="#444444" filter="url(#b1_5)" style="mix-blend-mode:lighten"/>
<path d="M248.4 307.4 L261.5 298.3 L269.6 292.8 L279.6 286.3 L285.6 282.6 L291.6 278.8 L298.2 275.8 L304.7 272.8 L312.2 270 L319.6 267.3 L326.8 261.6 L334.1 255.8 L342.2 250.8 L350.3 245.8 L356.6 242.8 L362.8 239.8 L369 236.8 L376.3 232.8 L383.6 228.8 L389.6 225.5 L395.6 222.3 L409.7 214.7 L417.9 229.9 L403.9 237.5 L398 241 L392.1 244.4 L384.9 248.5 L377.3 252.7 L370.5 255.8 L364.4 258.9 L359.4 262 L352.1 266.7 L344.6 270.8 L337.9 275.8 L328.6 283 L318.6 287.3 L311.9 290.3 L306.3 293.3 L300.9 296 L296.1 299.4 L290.4 303.2 L280.8 309.6 L273.1 315.1 L259.9 324.2Z" fill="#4c4c4c" filter="url(#b1_5)"/>
<path d="M238.2 292.7 L251.4 283.6 L259.7 278.1 L270.1 271.5 L276.4 267.9 L283.5 263.8 L291.1 260.5 L298.4 257.5 L306.7 255 L311.9 253.8 L317.2 249.5 L325.2 243 L333.7 237.1 L342.5 231.9 L349.9 228.9 L356.2 226 L362 223.1 L369 219.4 L376.3 215.5 L382.5 212.4 L388.6 209.3 L402.7 201.7 L410.4 216.1 L396.4 223.7 L390.4 227 L384.4 230.2 L377.1 234.2 L369.8 238.2 L363.5 241.2 L357.3 244.2 L351.1 247.2 L343.1 252.2 L335.1 257.2 L327.8 262.9 L320.4 268.7 L312.8 271.5 L305.3 274.2 L298.8 277.2 L292.4 280.2 L286.4 283.9 L280.4 287.7 L270.4 294.2 L262.5 299.7 L249.3 308.7Z" fill="#4c4c4c" filter="url(#b1_5)" style="mix-blend-mode:lighten"/>
<path d="M248.4 307.4 L261.5 298.3 L269.6 292.8 L279.6 286.3 L285.6 282.6 L291.6 278.8 L298.2 275.8 L304.7 272.8 L312.2 270 L319.6 267.3 L326.8 261.6 L334.1 255.8 L342.2 250.8 L350.3 245.8 L356.6 242.8 L362.8 239.8 L369 236.8 L376.3 232.8 L383.6 228.8 L389.6 225.5 L395.6 222.3 L409.7 214.7 L417.1 228.4 L403.1 236 L397.2 239.5 L391.3 243 L384.1 247.1 L376.5 251.3 L369.9 254.4 L363.7 257.5 L358.6 260.7 L351.3 265.4 L343.7 269.5 L337 274.5 L327.8 281.7 L318.1 286 L311.4 289 L305.7 292.1 L300.3 294.9 L295.4 298.3 L289.7 302.2 L280.1 308.7 L272.4 314.2 L259.2 323.2Z" fill="#545454" filter="url(#b1_5)"/>
<path d="M239.1 293.9 L252.3 284.9 L260.6 279.4 L271 272.9 L277.3 269.3 L284.3 265.2 L291.8 262.1 L299.1 259.2 L307.4 256.8 L312.8 255.5 L318.5 251 L326.3 244.6 L334.7 238.7 L343.4 233.5 L350.8 230.7 L357.1 227.8 L362.9 224.9 L369.9 221.1 L377.3 217.2 L383.5 214.2 L389.6 211.2 L403.7 203.6 L410.4 216.1 L396.4 223.7 L390.4 227 L384.4 230.2 L377.1 234.2 L369.8 238.2 L363.5 241.2 L357.3 244.2 L351.1 247.2 L343.1 252.2 L335.1 257.2 L327.8 262.9 L320.4 268.7 L312.8 271.5 L305.3 274.2 L298.8 277.2 L292.4 280.2 L286.4 283.9 L280.4 287.7 L270.4 294.2 L262.5 299.7 L249.3 308.7Z" fill="#545454" filter="url(#b1_5)" style="mix-blend-mode:lighten"/>
<path d="M248.4 307.4 L261.5 298.3 L269.6 292.8 L279.6 286.3 L285.6 282.6 L291.6 278.8 L298.2 275.8 L304.7 272.8 L312.2 270 L319.6 267.3 L326.8 261.6 L334.1 255.8 L342.2 250.8 L350.3 245.8 L356.6 242.8 L362.8 239.8 L369 236.8 L376.3 232.8 L383.6 228.8 L389.6 225.5 L395.6 222.3 L409.7 214.7 L416.4 227 L402.3 234.6 L396.5 238.2 L390.6 241.7 L383.4 245.8 L375.9 250 L369.2 253.1 L363 256.2 L358 259.5 L350.6 264.3 L342.9 268.3 L336.1 273.4 L327.1 280.4 L317.6 284.7 L310.9 287.8 L305.2 291 L299.7 293.8 L294.8 297.3 L289.1 301.2 L279.5 307.7 L271.8 313.3 L258.6 322.3Z" fill="#5c5c5c" filter="url(#b1_5)"/>
<path d="M239.9 295 L253 286 L261.3 280.5 L271.7 274.1 L278 270.5 L285 266.6 L292.5 263.5 L299.7 260.7 L308 258.4 L313.7 257 L319.5 252.4 L327.3 246 L335.6 240.1 L344.2 234.9 L351.5 232.3 L357.8 229.4 L363.7 226.5 L370.8 222.7 L378.2 218.8 L384.3 215.8 L390.5 212.8 L404.6 205.2 L410.4 216.1 L396.4 223.7 L390.4 227 L384.4 230.2 L377.1 234.2 L369.8 238.2 L363.5 241.2 L357.3 244.2 L351.1 247.2 L343.1 252.2 L335.1 257.2 L327.8 262.9 L320.4 268.7 L312.8 271.5 L305.3 274.2 L298.8 277.2 L292.4 280.2 L286.4 283.9 L280.4 287.7 L270.4 294.2 L262.5 299.7 L249.3 308.7Z" fill="#5c5c5c" filter="url(#b1_5)" style="mix-blend-mode:lighten"/>
<path d="M248.4 307.4 L261.5 298.3 L269.6 292.8 L279.6 286.3 L285.6 282.6 L291.6 278.8 L298.2 275.8 L304.7 272.8 L312.2 270 L319.6 267.3 L326.8 261.6 L334.1 255.8 L342.2 250.8 L350.3 245.8 L356.6 242.8 L362.8 239.8 L369 236.8 L376.3 232.8 L383.6 228.8 L389.6 225.5 L395.6 222.3 L409.7 214.7 L415.7 225.7 L401.6 233.3 L395.8 236.9 L389.9 240.4 L382.7 244.5 L375.2 248.8 L368.6 251.8 L362.4 254.9 L357.3 258.3 L349.9 263.2 L342.1 267.2 L335.2 272.3 L326.4 279.2 L317.1 283.4 L310.4 286.7 L304.7 289.9 L299.2 292.8 L294.2 296.4 L288.5 300.3 L278.9 306.9 L271.2 312.4 L258 321.5Z" fill="#646464" filter="url(#b1_5)"/>
<path d="M240.6 296.1 L253.7 287 L262 281.6 L272.4 275.1 L278.7 271.6 L285.6 267.7 L293.1 264.7 L300.3 262 L308.5 259.8 L314.5 258.4 L320.5 253.6 L328.1 247.3 L336.3 241.4 L345 236.3 L352.2 233.7 L358.5 230.9 L364.4 227.9 L371.5 224.1 L378.9 220.2 L385.1 217.2 L391.3 214.3 L405.4 206.7 L410.4 216.1 L396.4 223.7 L390.4 227 L384.4 230.2 L377.1 234.2 L369.8 238.2 L363.5 241.2 L357.3 244.2 L351.1 247.2 L343.1 252.2 L335.1 257.2 L327.8 262.9 L320.4 268.7 L312.8 271.5 L305.3 274.2 L298.8 277.2 L292.4 280.2 L286.4 283.9 L280.4 287.7 L270.4 294.2 L262.5 299.7 L249.3 308.7Z" fill="#646464" filter="url(#b1_5)" style="mix-blend-mode:lighten"/>
<path d="M248.4 307.4 L261.5 298.3 L269.6 292.8 L279.6 286.3 L285.6 282.6 L291.6 278.8 L298.2 275.8 L304.7 272.8 L312.2 270 L319.6 267.3 L326.8 261.6 L334.1 255.8 L342.2 250.8 L350.3 245.8 L356.6 242.8 L362.8 239.8 L369 236.8 L376.3 232.8 L383.6 228.8 L389.6 225.5 L395.6 222.3 L409.7 214.7 L415 224.4 L400.9 232.1 L395.1 235.7 L389.3 239.2 L382.1 243.3 L374.6 247.6 L368 250.5 L361.9 253.7 L356.7 257.2 L349.3 262.1 L341.4 266.1 L334.4 271.2 L325.8 278.1 L316.7 282.2 L310 285.6 L304.2 288.8 L298.7 291.9 L293.7 295.5 L288 299.5 L278.4 306 L270.7 311.6 L257.5 320.7Z" fill="#6c6c6c" filter="url(#b1_5)"/>
<path d="M241.2 297 L254.4 287.9 L262.7 282.5 L273 276.1 L279.4 272.6 L286.2 268.8 L293.6 265.9 L300.8 263.2 L309 261.1 L315.2 259.6 L321.4 254.8 L329 248.5 L337.1 242.5 L345.6 237.5 L352.9 235 L359.2 232.2 L365.1 229.2 L372.3 225.4 L379.7 221.5 L385.8 218.6 L392 215.7 L406.1 208.1 L410.4 216.1 L396.4 223.7 L390.4 227 L384.4 230.2 L377.1 234.2 L369.8 238.2 L363.5 241.2 L357.3 244.2 L351.1 247.2 L343.1 252.2 L335.1 257.2 L327.8 262.9 L320.4 268.7 L312.8 271.5 L305.3 274.2 L298.8 277.2 L292.4 280.2 L286.4 283.9 L280.4 287.7 L270.4 294.2 L262.5 299.7 L249.3 308.7Z" fill="#6c6c6c" filter="url(#b1_5)" style="mix-blend-mode:lighten"/>
<path d="M248.4 307.4 L261.5 298.3 L269.6 292.8 L279.6 286.3 L285.6 282.6 L291.6 278.8 L298.2 275.8 L304.7 272.8 L312.2 270 L319.6 267.3 L326.8 261.6 L334.1 255.8 L342.2 250.8 L350.3 245.8 L356.6 242.8 L362.8 239.8 L369 236.8 L376.3 232.8 L383.6 228.8 L389.6 225.5 L395.6 222.3 L409.7 214.7 L414.3 223.2 L400.2 230.8 L394.4 234.5 L388.7 238 L381.5 242.2 L374 246.4 L367.4 249.4 L361.3 252.6 L356.1 256.2 L348.6 261.1 L340.6 265.1 L333.6 270.2 L325.1 277 L316.3 281.1 L309.5 284.5 L303.7 287.9 L298.2 290.9 L293.1 294.6 L287.5 298.6 L277.8 305.2 L270.1 310.8 L257 319.9Z" fill="#747474" filter="url(#b1_5)"/>
<path d="M241.8 297.9 L255 288.8 L263.3 283.4 L273.6 277.1 L280 273.6 L286.8 269.9 L294.1 267 L301.3 264.4 L309.4 262.3 L315.9 260.8 L322.3 255.9 L329.7 249.6 L337.8 243.6 L346.3 238.6 L353.5 236.3 L359.8 233.5 L365.7 230.4 L372.9 226.6 L380.3 222.8 L386.5 219.8 L392.7 217 L406.8 209.3 L410.4 216.1 L396.4 223.7 L390.4 227 L384.4 230.2 L377.1 234.2 L369.8 238.2 L363.5 241.2 L357.3 244.2 L351.1 247.2 L343.1 252.2 L335.1 257.2 L327.8 262.9 L320.4 268.7 L312.8 271.5 L305.3 274.2 L298.8 277.2 L292.4 280.2 L286.4 283.9 L280.4 287.7 L270.4 294.2 L262.5 299.7 L249.3 308.7Z" fill="#747474" filter="url(#b1_5)" style="mix-blend-mode:lighten"/>
<path d="M248.4 307.4 L261.5 298.3 L269.6 292.8 L279.6 286.3 L285.6 282.6 L291.6 278.8 L298.2 275.8 L304.7 272.8 L312.2 270 L319.6 267.3 L326.8 261.6 L334.1 255.8 L342.2 250.8 L350.3 245.8 L356.6 242.8 L362.8 239.8 L369 236.8 L376.3 232.8 L383.6 228.8 L389.6 225.5 L395.6 222.3 L409.7 214.7 L413.7 222 L399.6 229.7 L393.8 233.3 L388 236.9 L380.9 241.1 L373.4 245.3 L366.9 248.2 L360.7 251.4 L355.5 255.1 L348 260.1 L339.9 264.1 L332.8 269.3 L324.5 275.9 L315.9 280 L309.1 283.5 L303.3 286.9 L297.7 290 L292.6 293.8 L286.9 297.8 L277.3 304.5 L269.6 310.1 L256.4 319.2Z" fill="#7c7c7c" filter="url(#b1_5)"/>
<path d="M242.4 298.7 L255.6 289.6 L263.9 284.3 L274.2 277.9 L280.5 274.5 L287.3 270.8 L294.6 268 L301.7 265.5 L309.8 263.5 L316.5 261.9 L323.1 256.9 L330.5 250.6 L338.4 244.6 L346.9 239.7 L354 237.5 L360.4 234.7 L366.3 231.6 L373.6 227.8 L381 223.9 L387.2 221 L393.4 218.2 L407.5 210.6 L410.4 216.1 L396.4 223.7 L390.4 227 L384.4 230.2 L377.1 234.2 L369.8 238.2 L363.5 241.2 L357.3 244.2 L351.1 247.2 L343.1 252.2 L335.1 257.2 L327.8 262.9 L320.4 268.7 L312.8 271.5 L305.3 274.2 L298.8 277.2 L292.4 280.2 L286.4 283.9 L280.4 287.7 L270.4 294.2 L262.5 299.7 L249.3 308.7Z" fill="#7c7c7c" filter="url(#b1_5)" style="mix-blend-mode:lighten"/>
<path d="M248.4 307.4 L261.5 298.3 L269.6 292.8 L279.6 286.3 L285.6 282.6 L291.6 278.8 L298.2 275.8 L304.7 272.8 L312.2 270 L319.6 267.3 L326.8 261.6 L334.1 255.8 L342.2 250.8 L350.3 245.8 L356.6 242.8 L362.8 239.8 L369 236.8 L376.3 232.8 L383.6 228.8 L389.6 225.5 L395.6 222.3 L409.7 214.7 L413.1 220.9 L399 228.5 L393.2 232.2 L387.5 235.8 L380.3 240 L372.9 244.2 L366.4 247.1 L360.2 250.3 L355 254.2 L347.4 259.2 L339.3 263.2 L332.1 268.3 L323.9 274.9 L315.5 278.9 L308.7 282.5 L302.9 286 L297.2 289.2 L292.1 293 L286.4 297.1 L276.8 303.7 L269.1 309.4 L255.9 318.4Z" fill="#838383" filter="url(#b1_5)"/>
<path d="M242.9 299.5 L256.1 290.4 L264.4 285.1 L274.7 278.8 L281.1 275.4 L287.8 271.8 L295 269 L302.1 266.5 L310.2 264.6 L317.1 263 L323.8 257.9 L331.2 251.6 L339 245.6 L347.5 240.7 L354.6 238.6 L360.9 235.8 L366.9 232.7 L374.1 228.8 L381.6 225 L387.8 222.2 L394 219.3 L408.1 211.7 L410.4 216.1 L396.4 223.7 L390.4 227 L384.4 230.2 L377.1 234.2 L369.8 238.2 L363.5 241.2 L357.3 244.2 L351.1 247.2 L343.1 252.2 L335.1 257.2 L327.8 262.9 L320.4 268.7 L312.8 271.5 L305.3 274.2 L298.8 277.2 L292.4 280.2 L286.4 283.9 L280.4 287.7 L270.4 294.2 L262.5 299.7 L249.3 308.7Z" fill="#838383" filter="url(#b1_5)" style="mix-blend-mode:lighten"/>
<path d="M248.4 307.4 L261.5 298.3 L269.6 292.8 L279.6 286.3 L285.6 282.6 L291.6 278.8 L298.2 275.8 L304.7 272.8 L312.2 270 L319.6 267.3 L326.8 261.6 L334.1 255.8 L342.2 250.8 L350.3 245.8 L356.6 242.8 L362.8 239.8 L369 236.8 L376.3 232.8 L383.6 228.8 L389.6 225.5 L395.6 222.3 L409.7 214.7 L412.5 219.8 L398.4 227.4 L392.6 231.1 L386.9 234.8 L379.7 239 L372.3 243.2 L365.8 246 L359.7 249.3 L354.5 253.2 L346.9 258.3 L338.6 262.2 L331.4 267.4 L323.4 273.9 L315.1 277.9 L308.3 281.5 L302.5 285.1 L296.8 288.3 L291.6 292.2 L286 296.3 L276.3 303 L268.6 308.7 L255.5 317.7Z" fill="#8b8b8b" filter="url(#b1_5)"/>
<path d="M243.4 300.2 L256.6 291.2 L264.9 285.9 L275.2 279.6 L281.6 276.2 L288.3 272.6 L295.5 269.9 L302.5 267.5 L310.6 265.7 L317.7 264 L324.6 258.8 L331.8 252.5 L339.6 246.6 L348 241.7 L355.1 239.6 L361.4 236.9 L367.4 233.7 L374.7 229.9 L382.1 226.1 L388.4 223.2 L394.6 220.4 L408.7 212.8 L410.4 216.1 L396.4 223.7 L390.4 227 L384.4 230.2 L377.1 234.2 L369.8 238.2 L363.5 241.2 L357.3 244.2 L351.1 247.2 L343.1 252.2 L335.1 257.2 L327.8 262.9 L320.4 268.7 L312.8 271.5 L305.3 274.2 L298.8 277.2 L292.4 280.2 L286.4 283.9 L280.4 287.7 L270.4 294.2 L262.5 299.7 L249.3 308.7Z" fill="#8b8b8b" filter="url(#b1_5)" style="mix-blend-mode:lighten"/>
<path d="M248.4 307.4 L261.5 298.3 L269.6 292.8 L279.6 286.3 L285.6 282.6 L291.6 278.8 L298.2 275.8 L304.7 272.8 L312.2 270 L319.6 267.3 L326.8 261.6 L334.1 255.8 L342.2 250.8 L350.3 245.8 L356.6 242.8 L362.8 239.8 L369 236.8 L376.3 232.8 L383.6 228.8 L389.6 225.5 L395.6 222.3 L409.7 214.7 L411.9 218.7 L397.8 226.3 L392.1 230.1 L386.3 233.8 L379.1 238 L371.8 242.2 L365.3 245 L359.2 248.2 L353.9 252.3 L346.3 257.4 L338 261.3 L330.6 266.5 L322.8 272.9 L314.7 276.9 L307.9 280.6 L302 284.2 L296.3 287.5 L291.1 291.4 L285.5 295.6 L275.9 302.3 L268.2 308 L255 317Z" fill="#939393" filter="url(#b1_5)"/>
<path d="M243.9 300.9 L257.1 291.9 L265.4 286.6 L275.7 280.3 L282.1 277 L288.7 273.5 L295.9 270.8 L302.9 268.4 L311 266.7 L318.3 265 L325.3 259.7 L332.5 253.4 L340.1 247.5 L348.5 242.6 L355.6 240.7 L361.9 237.9 L368 234.7 L375.3 230.9 L382.7 227.1 L388.9 224.3 L395.2 221.5 L409.2 213.9 L410.4 216.1 L396.4 223.7 L390.4 227 L384.4 230.2 L377.1 234.2 L369.8 238.2 L363.5 241.2 L357.3 244.2 L351.1 247.2 L343.1 252.2 L335.1 257.2 L327.8 262.9 L320.4 268.7 L312.8 271.5 L305.3 274.2 L298.8 277.2 L292.4 280.2 L286.4 283.9 L280.4 287.7 L270.4 294.2 L262.5 299.7 L249.3 308.7Z" fill="#939393" filter="url(#b1_5)" style="mix-blend-mode:lighten"/>
<path d="M248.4 307.4 L261.5 298.3 L269.6 292.8 L279.6 286.3 L285.6 282.6 L291.6 278.8 L298.2 275.8 L304.7 272.8 L312.2 270 L319.6 267.3 L326.8 261.6 L334.1 255.8 L342.2 250.8 L350.3 245.8 L356.6 242.8 L362.8 239.8 L369 236.8 L376.3 232.8 L383.6 228.8 L389.6 225.5 L395.6 222.3 L409.7 214.7 L411.3 217.7 L397.2 225.3 L391.5 229 L385.8 232.7 L378.6 237 L371.3 241.2 L364.8 244 L358.7 247.2 L353.4 251.3 L345.8 256.5 L337.3 260.4 L330 265.6 L322.3 271.9 L314.4 275.9 L307.5 279.7 L301.6 283.3 L295.9 286.7 L290.6 290.7 L285 294.8 L275.4 301.6 L267.7 307.3 L254.5 316.4Z" fill="#9b9b9b" filter="url(#b1_5)"/>
<path d="M244.4 301.6 L257.6 292.6 L265.9 287.3 L276.2 281.1 L282.5 277.7 L289.2 274.3 L296.3 271.7 L303.3 269.3 L311.4 267.6 L318.8 265.9 L325.9 260.5 L333.1 254.3 L340.7 248.3 L349 243.5 L356 241.7 L362.4 238.9 L368.5 235.7 L375.8 231.9 L383.2 228.1 L389.5 225.3 L395.7 222.5 L409.8 214.9 L410.4 216.1 L396.4 223.7 L390.4 227 L384.4 230.2 L377.1 234.2 L369.8 238.2 L363.5 241.2 L357.3 244.2 L351.1 247.2 L343.1 252.2 L335.1 257.2 L327.8 262.9 L320.4 268.7 L312.8 271.5 L305.3 274.2 L298.8 277.2 L292.4 280.2 L286.4 283.9 L280.4 287.7 L270.4 294.2 L262.5 299.7 L249.3 308.7Z" fill="#9b9b9b" filter="url(#b1_5)" style="mix-blend-mode:lighten"/>
<path d="M248.4 307.4 L261.5 298.3 L269.6 292.8 L279.6 286.3 L285.6 282.6 L291.6 278.8 L298.2 275.8 L304.7 272.8 L312.2 270 L319.6 267.3 L326.8 261.6 L334.1 255.8 L342.2 250.8 L350.3 245.8 L356.6 242.8 L362.8 239.8 L369 236.8 L376.3 232.8 L383.6 228.8 L389.6 225.5 L396 223 L410.1 215.4 L410.1 215.4 L396 223 L391 228 L385.2 231.8 L378.1 236 L370.8 240.2 L364.4 243 L358.3 246.2 L352.9 250.5 L345.2 255.7 L336.7 259.5 L329.3 264.8 L321.7 271 L314 274.9 L307.2 278.8 L301.3 282.5 L295.5 285.9 L290.2 289.9 L284.6 294.1 L274.9 300.9 L267.3 306.6 L254.1 315.7Z" fill="#a3a3a3" filter="url(#b1_5)"/>
<path d="M244.9 302.3 L258 293.2 L266.3 288 L276.7 281.8 L283 278.5 L289.6 275.1 L296.7 272.5 L303.7 270.2 L311.7 268.6 L319.3 266.8 L326.6 261.4 L333.7 255.2 L341.2 249.2 L349.5 244.4 L356.5 242.6 L362.9 239.9 L369 236.6 L376.3 232.8 L383.7 229 L390 226.2 L396 223 L410.1 215.4 L410.1 215.4 L396 223 L390.4 227 L384.4 230.2 L377.1 234.2 L369.8 238.2 L363.5 241.2 L357.3 244.2 L351.1 247.2 L343.1 252.2 L335.1 257.2 L327.8 262.9 L320.4 268.7 L312.8 271.5 L305.3 274.2 L298.8 277.2 L292.4 280.2 L286.4 283.9 L280.4 287.7 L270.4 294.2 L262.5 299.7 L249.3 308.7Z" fill="#a3a3a3" filter="url(#b1_5)" style="mix-blend-mode:lighten"/>
<path d="M248.4 307.4 L261.5 298.3 L269.6 292.8 L279.6 286.3 L285.6 282.6 L291.6 278.8 L298.2 275.8 L304.7 272.8 L312.2 270 L319.6 267.3 L326.8 261.6 L334.1 255.8 L342.2 250.8 L350.3 245.8 L356.9 243.5 L363.2 240.5 L369.4 237.5 L376.7 233.5 L384 229.5 L390 226.2 L396 223 L410.1 215.4 L410.1 215.4 L396 223 L390 226.2 L384 229.5 L376.7 233.5 L369.4 237.5 L363.2 240.5 L356.9 243.5 L352.4 249.6 L344.7 254.8 L336.1 258.7 L328.6 263.9 L321.2 270.1 L313.7 274 L306.8 277.9 L300.9 281.7 L295 285.1 L289.7 289.2 L284.1 293.4 L274.5 300.2 L266.8 306 L253.6 315.1Z" fill="#ababab" filter="url(#b1_5)"/>
<path d="M245.3 302.9 L258.5 293.9 L266.8 288.7 L277.1 282.5 L283.5 279.2 L290 275.8 L297 273.3 L304 271.1 L312 269.5 L319.8 267.7 L327.2 262.1 L334.2 256 L341.7 250 L350 245.2 L356.9 243.5 L363.2 240.5 L369.4 237.5 L376.7 233.5 L384 229.5 L390 226.2 L396 223 L410.1 215.4 L410.1 215.4 L396 223 L390 226.2 L384 229.5 L376.7 233.5 L369.4 237.5 L363.2 240.5 L356.9 243.5 L351.1 247.2 L343.1 252.2 L335.1 257.2 L327.8 262.9 L320.4 268.7 L312.8 271.5 L305.3 274.2 L298.8 277.2 L292.4 280.2 L286.4 283.9 L280.4 287.7 L270.4 294.2 L262.5 299.7 L249.3 308.7Z" fill="#ababab" filter="url(#b1_5)" style="mix-blend-mode:lighten"/>
<path d="M248.4 307.4 L261.5 298.3 L269.6 292.8 L279.6 286.3 L285.6 282.6 L291.6 278.8 L298.2 275.8 L304.7 272.8 L312.2 270 L320 268 L327.3 262.2 L334.6 256.5 L342.2 250.8 L350.3 245.8 L356.9 243.5 L363.2 240.5 L369.4 237.5 L376.7 233.5 L384 229.5 L390 226.2 L396 223 L410.1 215.4 L410.1 215.4 L396 223 L390 226.2 L384 229.5 L376.7 233.5 L369.4 237.5 L363.2 240.5 L356.9 243.5 L351.9 248.7 L344.2 254 L334.6 256.5 L327.3 262.2 L320 268 L313.3 273 L306.5 277.1 L300.5 280.8 L294.6 284.4 L289.3 288.5 L283.7 292.8 L274.1 299.6 L266.4 305.4 L253.2 314.4Z" fill="#b3b3b3" filter="url(#b1_5)"/>
<path d="M245.7 303.6 L258.9 294.5 L267.2 289.3 L277.5 283.1 L283.9 279.9 L290.4 276.6 L297.4 274.1 L304.3 271.9 L312.4 270.4 L320 268 L327.3 262.2 L334.6 256.5 L342.2 250.8 L350.5 246.1 L356.9 243.5 L363.2 240.5 L369.4 237.5 L376.7 233.5 L384 229.5 L390 226.2 L396 223 L410.1 215.4 L410.1 215.4 L396 223 L390 226.2 L384 229.5 L376.7 233.5 L369.4 237.5 L363.2 240.5 L356.9 243.5 L351.1 247.2 L343.1 252.2 L334.6 256.5 L327.3 262.2 L320 268 L312.8 271.5 L305.3 274.2 L298.8 277.2 L292.4 280.2 L286.4 283.9 L280.4 287.7 L270.4 294.2 L262.5 299.7 L249.3 308.7Z" fill="#b3b3b3" filter="url(#b1_5)" style="mix-blend-mode:lighten"/>
<path d="M248.4 307.4 L261.5 298.3 L269.6 292.8 L279.6 286.3 L285.6 282.6 L291.6 278.8 L298.2 275.8 L304.7 272.8 L312.5 270.8 L320 268 L327.3 262.2 L334.6 256.5 L342.6 251.5 L350.7 246.5 L356.9 243.5 L363.2 240.5 L369.4 237.5 L376.7 233.5 L384 229.5 L390 226.2 L396 223 L410.1 215.4 L410.1 215.4 L396 223 L390 226.2 L384 229.5 L376.7 233.5 L369.4 237.5 L363.2 240.5 L356.9 243.5 L350.7 246.5 L342.6 251.5 L334.6 256.5 L327.3 262.2 L320 268 L312.5 270.8 L306.1 276.2 L300.1 280 L294.2 283.6 L288.9 287.8 L283.3 292.1 L273.6 298.9 L265.9 304.7 L252.8 313.8Z" fill="#bbbbbb" filter="url(#b1_5)"/>
<path d="M246.1 304.2 L259.3 295.1 L267.6 289.9 L277.9 283.8 L284.3 280.5 L290.8 277.3 L297.7 274.9 L304.7 272.7 L312.5 270.8 L320 268 L327.3 262.2 L334.6 256.5 L342.6 251.5 L350.7 246.5 L356.9 243.5 L363.2 240.5 L369.4 237.5 L376.7 233.5 L384 229.5 L390 226.2 L396 223 L410.1 215.4 L410.1 215.4 L396 223 L390 226.2 L384 229.5 L376.7 233.5 L369.4 237.5 L363.2 240.5 L356.9 243.5 L350.7 246.5 L342.6 251.5 L334.6 256.5 L327.3 262.2 L320 268 L312.5 270.8 L305.3 274.2 L298.8 277.2 L292.4 280.2 L286.4 283.9 L280.4 287.7 L270.4 294.2 L262.5 299.7 L249.3 308.7Z" fill="#bbbbbb" filter="url(#b1_5)" style="mix-blend-mode:lighten"/>
<path d="M248.4 307.4 L261.5 298.3 L269.6 292.8 L279.6 286.3 L285.6 282.6 L291.6 278.8 L298.2 275.8 L304.7 272.8 L312.5 270.8 L320 268 L327.3 262.2 L334.6 256.5 L342.6 251.5 L350.7 246.5 L356.9 243.5 L363.2 240.5 L369.4 237.5 L376.7 233.5 L384 229.5 L390 226.2 L396 223 L410.1 215.4 L410.1 215.4 L396 223 L390 226.2 L384 229.5 L376.7 233.5 L369.4 237.5 L363.2 240.5 L356.9 243.5 L350.7 246.5 L342.6 251.5 L334.6 256.5 L327.3 262.2 L320 268 L312.5 270.8 L305.8 275.4 L299.8 279.3 L293.8 282.9 L288.4 287.1 L282.8 291.4 L273.2 298.3 L265.5 304.1 L252.3 313.2Z" fill="#c3c3c3" filter="url(#b1_5)"/>
<path d="M246.6 304.8 L259.7 295.7 L268 290.5 L278.3 284.4 L284.7 281.2 L291.2 278 L298.1 275.6 L305 273.5 L312.5 270.8 L320 268 L327.3 262.2 L334.6 256.5 L342.6 251.5 L350.7 246.5 L356.9 243.5 L363.2 240.5 L369.4 237.5 L376.7 233.5 L384 229.5 L390 226.2 L396 223 L410.1 215.4 L410.1 215.4 L396 223 L390 226.2 L384 229.5 L376.7 233.5 L369.4 237.5 L363.2 240.5 L356.9 243.5 L350.7 246.5 L342.6 251.5 L334.6 256.5 L327.3 262.2 L320 268 L312.5 270.8 L305.3 274.2 L298.8 277.2 L292.4 280.2 L286.4 283.9 L280.4 287.7 L270.4 294.2 L262.5 299.7 L249.3 308.7Z" fill="#c3c3c3" filter="url(#b1_5)" style="mix-blend-mode:lighten"/>
<path d="M248.4 307.4 L261.5 298.3 L269.6 292.8 L279.6 286.3 L285.6 282.6 L291.6 278.8 L298.2 275.8 L305 273.5 L312.5 270.8 L320 268 L327.3 262.2 L334.6 256.5 L342.6 251.5 L350.7 246.5 L356.9 243.5 L363.2 240.5 L369.4 237.5 L376.7 233.5 L384 229.5 L390 226.2 L396 223 L410.1 215.4 L410.1 215.4 L396 223 L390 226.2 L384 229.5 L376.7 233.5 L369.4 237.5 L363.2 240.5 L356.9 243.5 L350.7 246.5 L342.6 251.5 L334.6 256.5 L327.3 262.2 L320 268 L312.5 270.8 L305 273.5 L299.4 278.5 L293.4 282.2 L288 286.5 L282.4 290.8 L272.8 297.7 L265.1 303.5 L251.9 312.6Z" fill="#cbcbcb" filter="url(#b1_5)"/>
<path d="M247 305.4 L260.1 296.3 L268.4 291.1 L278.7 285 L285.1 281.8 L291.5 278.6 L298.4 276.3 L305 273.5 L312.5 270.8 L320 268 L327.3 262.2 L334.6 256.5 L342.6 251.5 L350.7 246.5 L356.9 243.5 L363.2 240.5 L369.4 237.5 L376.7 233.5 L384 229.5 L390 226.2 L396 223 L410.1 215.4 L410.1 215.4 L396 223 L390 226.2 L384 229.5 L376.7 233.5 L369.4 237.5 L363.2 240.5 L356.9 243.5 L350.7 246.5 L342.6 251.5 L334.6 256.5 L327.3 262.2 L320 268 L312.5 270.8 L305 273.5 L298.8 277.2 L292.4 280.2 L286.4 283.9 L280.4 287.7 L270.4 294.2 L262.5 299.7 L249.3 308.7Z" fill="#cbcbcb" filter="url(#b1_5)" style="mix-blend-mode:lighten"/>
<path d="M248.4 307.4 L261.5 298.3 L269.6 292.8 L279.6 286.3 L285.6 282.6 L291.6 278.8 L298.5 276.5 L305 273.5 L312.5 270.8 L320 268 L327.3 262.2 L334.6 256.5 L342.6 251.5 L350.7 246.5 L356.9 243.5 L363.2 240.5 L369.4 237.5 L376.7 233.5 L384 229.5 L390 226.2 L396 223 L410.1 215.4 L410.1 215.4 L396 223 L390 226.2 L384 229.5 L376.7 233.5 L369.4 237.5 L363.2 240.5 L356.9 243.5 L350.7 246.5 L342.6 251.5 L334.6 256.5 L327.3 262.2 L320 268 L312.5 270.8 L305 273.5 L298.5 276.5 L293.1 281.5 L287.6 285.8 L282 290.2 L272.4 297.1 L264.7 302.9 L251.5 312Z" fill="#d3d3d3" filter="url(#b1_5)"/>
<path d="M247.3 305.9 L260.5 296.9 L268.8 291.7 L279.1 285.6 L285.5 282.4 L291.9 279.3 L298.5 276.5 L305 273.5 L312.5 270.8 L320 268 L327.3 262.2 L334.6 256.5 L342.6 251.5 L350.7 246.5 L356.9 243.5 L363.2 240.5 L369.4 237.5 L376.7 233.5 L384 229.5 L390 226.2 L396 223 L410.1 215.4 L410.1 215.4 L396 223 L390 226.2 L384 229.5 L376.7 233.5 L369.4 237.5 L363.2 240.5 L356.9 243.5 L350.7 246.5 L342.6 251.5 L334.6 256.5 L327.3 262.2 L320 268 L312.5 270.8 L305 273.5 L298.5 276.5 L292.4 280.2 L286.4 283.9 L280.4 287.7 L270.4 294.2 L262.5 299.7 L249.3 308.7Z" fill="#d3d3d3" filter="url(#b1_5)" style="mix-blend-mode:lighten"/>
<path d="M248.4 307.4 L261.5 298.3 L269.6 292.8 L279.6 286.3 L285.6 282.6 L292 279.5 L298.5 276.5 L305 273.5 L312.5 270.8 L320 268 L327.3 262.2 L334.6 256.5 L342.6 251.5 L350.7 246.5 L356.9 243.5 L363.2 240.5 L369.4 237.5 L376.7 233.5 L384 229.5 L390 226.2 L396 223 L410.1 215.4 L410.1 215.4 L396 223 L390 226.2 L384 229.5 L376.7 233.5 L369.4 237.5 L363.2 240.5 L356.9 243.5 L350.7 246.5 L342.6 251.5 L334.6 256.5 L327.3 262.2 L320 268 L312.5 270.8 L305 273.5 L298.5 276.5 L292 279.5 L287.2 285.2 L281.6 289.5 L272 296.5 L264.3 302.4 L251.1 311.4Z" fill="#dbdbdb" filter="url(#b1_5)"/>
<path d="M247.7 306.5 L260.9 297.4 L269.2 292.3 L279.5 286.2 L285.9 283 L292 279.5 L298.5 276.5 L305 273.5 L312.5 270.8 L320 268 L327.3 262.2 L334.6 256.5 L342.6 251.5 L350.7 246.5 L356.9 243.5 L363.2 240.5 L369.4 237.5 L376.7 233.5 L384 229.5 L390 226.2 L396 223 L410.1 215.4 L410.1 215.4 L396 223 L390 226.2 L384 229.5 L376.7 233.5 L369.4 237.5 L363.2 240.5 L356.9 243.5 L350.7 246.5 L342.6 251.5 L334.6 256.5 L327.3 262.2 L320 268 L312.5 270.8 L305 273.5 L298.5 276.5 L292 279.5 L286.4 283.9 L280.4 287.7 L270.4 294.2 L262.5 299.7 L249.3 308.7Z" fill="#dbdbdb" filter="url(#b1_5)" style="mix-blend-mode:lighten"/>
<path d="M248.4 307.4 L261.5 298.3 L269.6 292.8 L279.6 286.3 L286 283.2 L292 279.5 L298.5 276.5 L305 273.5 L312.5 270.8 L320 268 L327.3 262.2 L334.6 256.5 L342.6 251.5 L350.7 246.5 L356.9 243.5 L363.2 240.5 L369.4 237.5 L376.7 233.5 L384 229.5 L390 226.2 L396 223 L410.1 215.4 L410.1 215.4 L396 223 L390 226.2 L384 229.5 L376.7 233.5 L369.4 237.5 L363.2 240.5 L356.9 243.5 L350.7 246.5 L342.6 251.5 L334.6 256.5 L327.3 262.2 L320 268 L312.5 270.8 L305 273.5 L298.5 276.5 L292 279.5 L286 283.2 L281.2 288.9 L271.6 295.9 L263.9 301.8 L250.7 310.8Z" fill="#e3e3e3" filter="url(#b1_5)"/>
<path d="M248.1 307 L261.3 298 L269.6 292.8 L279.9 286.8 L286 283.2 L292 279.5 L298.5 276.5 L305 273.5 L312.5 270.8 L320 268 L327.3 262.2 L334.6 256.5 L342.6 251.5 L350.7 246.5 L356.9 243.5 L363.2 240.5 L369.4 237.5 L376.7 233.5 L384 229.5 L390 226.2 L396 223 L410.1 215.4 L410.1 215.4 L396 223 L390 226.2 L384 229.5 L376.7 233.5 L369.4 237.5 L363.2 240.5 L356.9 243.5 L350.7 246.5 L342.6 251.5 L334.6 256.5 L327.3 262.2 L320 268 L312.5 270.8 L305 273.5 L298.5 276.5 L292 279.5 L286 283.2 L280.4 287.7 L270.4 294.2 L262.5 299.7 L249.3 308.7Z" fill="#e3e3e3" filter="url(#b1_5)" style="mix-blend-mode:lighten"/>
<path d="M248.4 307.4 L261.5 298.3 L269.6 292.8 L280 287 L286 283.2 L292 279.5 L298.5 276.5 L305 273.5 L312.5 270.8 L320 268 L327.3 262.2 L334.6 256.5 L342.6 251.5 L350.7 246.5 L356.9 243.5 L363.2 240.5 L369.4 237.5 L376.7 233.5 L384 229.5 L390 226.2 L396 223 L410.1 215.4 L410.1 215.4 L396 223 L390 226.2 L384 229.5 L376.7 233.5 L369.4 237.5 L363.2 240.5 L356.9 243.5 L350.7 246.5 L342.6 251.5 L334.6 256.5 L327.3 262.2 L320 268 L312.5 270.8 L305 273.5 L298.5 276.5 L292 279.5 L286 283.2 L280 287 L271.2 295.3 L263.5 301.2 L250.3 310.3Z" fill="#ebebeb" filter="url(#b1_5)"/>
<path d="M248.5 307.5 L261.6 298.5 L269.9 293.4 L280 287 L286 283.2 L292 279.5 L298.5 276.5 L305 273.5 L312.5 270.8 L320 268 L327.3 262.2 L334.6 256.5 L342.6 251.5 L350.7 246.5 L356.9 243.5 L363.2 240.5 L369.4 237.5 L376.7 233.5 L384 229.5 L390 226.2 L396 223 L410.1 215.4 L410.1 215.4 L396 223 L390 226.2 L384 229.5 L376.7 233.5 L369.4 237.5 L363.2 240.5 L356.9 243.5 L350.7 246.5 L342.6 251.5 L334.6 256.5 L327.3 262.2 L320 268 L312.5 270.8 L305 273.5 L298.5 276.5 L292 279.5 L286 283.2 L280 287 L270.4 294.2 L262.5 299.7 L249.3 308.7Z" fill="#ebebeb" filter="url(#b1_5)" style="mix-blend-mode:lighten"/>
<path d="M248.4 307.4 L261.5 298.3 L270 293.5 L280 287 L286 283.2 L292 279.5 L298.5 276.5 L305 273.5 L312.5 270.8 L320 268 L327.3 262.2 L334.6 256.5 L342.6 251.5 L350.7 246.5 L356.9 243.5 L363.2 240.5 L369.4 237.5 L376.7 233.5 L384 229.5 L390 226.2 L396 223 L410.1 215.4 L410.1 215.4 L396 223 L390 226.2 L384 229.5 L376.7 233.5 L369.4 237.5 L363.2 240.5 L356.9 243.5 L350.7 246.5 L342.6 251.5 L334.6 256.5 L327.3 262.2 L320 268 L312.5 270.8 L305 273.5 L298.5 276.5 L292 279.5 L286 283.2 L280 287 L270 293.5 L263.1 300.6 L249.9 309.7Z" fill="#f3f3f3" filter="url(#b1_5)"/>
<path d="M248.8 308.1 L262 299 L270 293.5 L280 287 L286 283.2 L292 279.5 L298.5 276.5 L305 273.5 L312.5 270.8 L320 268 L327.3 262.2 L334.6 256.5 L342.6 251.5 L350.7 246.5 L356.9 243.5 L363.2 240.5 L369.4 237.5 L376.7 233.5 L384 229.5 L390 226.2 L396 223 L410.1 215.4 L410.1 215.4 L396 223 L390 226.2 L384 229.5 L376.7 233.5 L369.4 237.5 L363.2 240.5 L356.9 243.5 L350.7 246.5 L342.6 251.5 L334.6 256.5 L327.3 262.2 L320 268 L312.5 270.8 L305 273.5 L298.5 276.5 L292 279.5 L286 283.2 L280 287 L270 293.5 L262.5 299.7 L249.3 308.7Z" fill="#f3f3f3" filter="url(#b1_5)" style="mix-blend-mode:lighten"/>
<ellipse cx="362" cy="287" rx="22" ry="15" fill="#353535" transform="rotate(35 362 287)" filter="url(#b4)"/>
<ellipse cx="336" cy="296" rx="12" ry="7" fill="#292929" transform="rotate(35 336 296)" filter="url(#b3)"/>
<ellipse cx="305" cy="318" rx="10" ry="7" fill="#292929" transform="rotate(40 305 318)" filter="url(#b3)"/>
<ellipse cx="322" cy="330" rx="8" ry="5" fill="#2a2a2a" transform="rotate(40 322 330)" filter="url(#b3)"/>
<ellipse cx="400" cy="277" rx="14" ry="9" fill="#545454" transform="rotate(-30 400 277)" filter="url(#b4)"/>
<ellipse cx="398" cy="308" rx="16" ry="9" fill="#585858" transform="rotate(-20 398 308)" filter="url(#b4)"/>
<ellipse cx="423" cy="261.5" rx="10" ry="5" fill="#838383" transform="rotate(-15 423 261.5)" filter="url(#b2)"/>
<ellipse cx="452" cy="298" rx="28" ry="9" fill="#313131" transform="rotate(38 452 298)" filter="url(#b3)"/>
<ellipse cx="448" cy="291" rx="2.5" ry="2.5" fill="#242424" filter="url(#b1)"/>
<path d="M325.7 353.2 L331.7 351.2 L337.7 349.3 L344.7 346.3 L351.7 343.3 L358.7 340.3 L365.7 337.2 L372.4 335.2 L379.1 333.2 L385.8 331.2 L393.8 329.6 L401.8 327.9 L409.9 326.2 L418.6 325.9 L427.3 325.5 L436 325.2 L436.1 328.7 L427.5 330.1 L418.8 331.2 L410.6 331.9 L403 333.7 L395.1 335.6 L387.3 337.3 L381 339.4 L374.4 341.6 L368.1 343.8 L361.5 346.9 L354.6 350.2 L347.7 353.4 L340.5 356.6 L334.3 358.8 L328.3 360.8Z" fill="#545454" filter="url(#b1_5)"/>
<path d="M323.2 345.5 L329.2 343.5 L334.8 341.8 L341.6 339.1 L348.7 336.3 L355.8 333.6 L363.3 330.7 L370.5 328.9 L377.3 327.2 L384.3 325.3 L392.6 323.8 L400.7 322.4 L409.3 320.9 L418.4 321 L427.2 321.6 L435.9 322.7 L436 326.8 L427.4 327.1 L418.7 327.5 L410.1 327.8 L402.2 329.4 L394.2 331.1 L386.2 332.8 L379.6 334.8 L372.9 336.8 L366.3 338.8 L359.3 341.7 L352.3 344.7 L345.3 347.7 L338.3 350.7 L332.3 352.8 L326.3 354.8Z" fill="#545454" filter="url(#b1_5)" style="mix-blend-mode:lighten"/>
<path d="M325.7 353.2 L331.7 351.2 L337.7 349.3 L344.7 346.3 L351.7 343.3 L358.7 340.3 L365.7 337.2 L372.4 335.2 L379.1 333.2 L385.8 331.2 L393.8 329.6 L401.8 327.9 L409.9 326.2 L418.6 325.9 L427.3 326.3 L436 326 L436 326 L427.3 326.3 L418.7 327.7 L410.2 328.8 L402.5 330.9 L394.5 332.9 L386.7 334.9 L380.3 337.2 L373.8 339.6 L367.5 342.1 L360.9 345.4 L354.1 349 L347.3 352.4 L340.2 355.7 L334 357.9 L328 360.1Z" fill="#5c5c5c" filter="url(#b1_5)"/>
<path d="M323.5 346.4 L329.5 344.6 L335.3 342.9 L342.1 340.3 L349.3 337.8 L356.6 335.5 L364.1 332.9 L371.3 331.5 L378.2 330.1 L385.1 328.4 L393.3 327.1 L401.4 325.9 L409.7 324.7 L418.6 325.4 L427.3 326.3 L436 326 L436 326 L427.3 326.3 L418.7 327.5 L410.1 327.8 L402.2 329.4 L394.2 331.1 L386.2 332.8 L379.6 334.8 L372.9 336.8 L366.3 338.8 L359.3 341.7 L352.3 344.7 L345.3 347.7 L338.3 350.7 L332.3 352.8 L326.3 354.8Z" fill="#5c5c5c" filter="url(#b1_5)" style="mix-blend-mode:lighten"/>
<path d="M325.7 353.2 L331.7 351.2 L337.7 349.3 L344.7 346.3 L351.7 343.3 L358.7 340.3 L365.7 337.2 L372.4 335.2 L379.1 333.2 L385.8 331.2 L394 330.3 L402 328.7 L410 327 L418.7 326.7 L427.3 326.3 L436 326 L436 326 L427.3 326.3 L418.7 326.7 L410 327 L402 328.7 L394 330.3 L386.1 332.5 L379.6 334.9 L373.2 337.6 L366.9 340.4 L360.3 343.9 L353.6 347.8 L346.9 351.4 L339.8 354.8 L333.7 357.1 L327.8 359.3Z" fill="#646464" filter="url(#b1_5)"/>
<path d="M323.8 347.4 L329.9 345.6 L335.7 344 L342.7 341.5 L350 339.3 L357.4 337.3 L364.9 335 L372.1 334 L379 332.9 L385.8 331.4 L394 330.3 L402 328.7 L410 327 L418.7 326.7 L427.3 326.3 L436 326 L436 326 L427.3 326.3 L418.7 326.7 L410 327 L402 328.7 L394 330.3 L386.2 332.8 L379.6 334.8 L372.9 336.8 L366.3 338.8 L359.3 341.7 L352.3 344.7 L345.3 347.7 L338.3 350.7 L332.3 352.8 L326.3 354.8Z" fill="#646464" filter="url(#b1_5)" style="mix-blend-mode:lighten"/>
<path d="M325.7 353.2 L331.7 351.2 L337.7 349.3 L344.7 346.3 L351.7 343.3 L358.7 340.3 L365.7 337.2 L372.7 336 L379.3 334 L386 332 L394 330.3 L402 328.7 L410 327 L418.7 326.7 L427.3 326.3 L436 326 L436 326 L427.3 326.3 L418.7 326.7 L410 327 L402 328.7 L394 330.3 L386 332 L379.3 334 L372.7 336 L366.2 338.7 L359.6 342.5 L353.1 346.6 L346.4 350.4 L339.5 353.9 L333.4 356.3 L327.5 358.6Z" fill="#6c6c6c" filter="url(#b1_5)"/>
<path d="M324.1 348.3 L330.2 346.6 L336.1 345.1 L343.2 342.8 L350.6 340.7 L358.2 339.2 L365.7 337.1 L372.7 336 L379.3 334 L386 332 L394 330.3 L402 328.7 L410 327 L418.7 326.7 L427.3 326.3 L436 326 L436 326 L427.3 326.3 L418.7 326.7 L410 327 L402 328.7 L394 330.3 L386 332 L379.3 334 L372.7 336 L366.3 338.8 L359.3 341.7 L352.3 344.7 L345.3 347.7 L338.3 350.7 L332.3 352.8 L326.3 354.8Z" fill="#6c6c6c" filter="url(#b1_5)" style="mix-blend-mode:lighten"/>
<path d="M325.7 353.2 L331.7 351.2 L337.7 349.3 L344.7 346.3 L351.7 343.3 L359 341 L366 338 L372.7 336 L379.3 334 L386 332 L394 330.3 L402 328.7 L410 327 L418.7 326.7 L427.3 326.3 L436 326 L436 326 L427.3 326.3 L418.7 326.7 L410 327 L402 328.7 L394 330.3 L386 332 L379.3 334 L372.7 336 L366 338 L359 341 L352.6 345.4 L346 349.4 L339.2 353 L333.2 355.5 L327.3 357.8Z" fill="#747474" filter="url(#b1_5)"/>
<path d="M324.4 349.3 L330.6 347.7 L336.5 346.2 L343.7 344 L351.2 342.2 L359 341 L366 338 L372.7 336 L379.3 334 L386 332 L394 330.3 L402 328.7 L410 327 L418.7 326.7 L427.3 326.3 L436 326 L436 326 L427.3 326.3 L418.7 326.7 L410 327 L402 328.7 L394 330.3 L386 332 L379.3 334 L372.7 336 L366 338 L359 341 L352.3 344.7 L345.3 347.7 L338.3 350.7 L332.3 352.8 L326.3 354.8Z" fill="#747474" filter="url(#b1_5)" style="mix-blend-mode:lighten"/>
<path d="M325.7 353.2 L331.7 351.2 L337.7 349.3 L344.7 346.3 L351.7 343.3 L359 341 L366 338 L372.7 336 L379.3 334 L386 332 L394 330.3 L402 328.7 L410 327 L418.7 326.7 L427.3 326.3 L436 326 L436 326 L427.3 326.3 L418.7 326.7 L410 327 L402 328.7 L394 330.3 L386 332 L379.3 334 L372.7 336 L366 338 L359 341 L352.1 344.2 L345.6 348.4 L338.8 352.1 L332.9 354.6 L327 357Z" fill="#7c7c7c" filter="url(#b1_5)"/>
<path d="M324.7 350.2 L330.9 348.7 L337 347.3 L344.3 345.3 L351.9 343.7 L359 341 L366 338 L372.7 336 L379.3 334 L386 332 L394 330.3 L402 328.7 L410 327 L418.7 326.7 L427.3 326.3 L436 326 L436 326 L427.3 326.3 L418.7 326.7 L410 327 L402 328.7 L394 330.3 L386 332 L379.3 334 L372.7 336 L366 338 L359 341 L352.3 344.7 L345.3 347.7 L338.3 350.7 L332.3 352.8 L326.3 354.8Z" fill="#7c7c7c" filter="url(#b1_5)" style="mix-blend-mode:lighten"/>
<path d="M325.7 353.2 L331.7 351.2 L337.7 349.3 L344.7 346.3 L352 344 L359 341 L366 338 L372.7 336 L379.3 334 L386 332 L394 330.3 L402 328.7 L410 327 L418.7 326.7 L427.3 326.3 L436 326 L436 326 L427.3 326.3 L418.7 326.7 L410 327 L402 328.7 L394 330.3 L386 332 L379.3 334 L372.7 336 L366 338 L359 341 L352 344 L345.2 347.4 L338.5 351.2 L332.6 353.8 L326.8 356.3Z" fill="#838383" filter="url(#b1_5)"/>
<path d="M325.1 351.2 L331.2 349.7 L337.4 348.4 L344.8 346.5 L352 344 L359 341 L366 338 L372.7 336 L379.3 334 L386 332 L394 330.3 L402 328.7 L410 327 L418.7 326.7 L427.3 326.3 L436 326 L436 326 L427.3 326.3 L418.7 326.7 L410 327 L402 328.7 L394 330.3 L386 332 L379.3 334 L372.7 336 L366 338 L359 341 L352 344 L345.3 347.7 L338.3 350.7 L332.3 352.8 L326.3 354.8Z" fill="#838383" filter="url(#b1_5)" style="mix-blend-mode:lighten"/>
<path d="M325.7 353.2 L331.7 351.2 L337.7 349.3 L345 347 L352 344 L359 341 L366 338 L372.7 336 L379.3 334 L386 332 L394 330.3 L402 328.7 L410 327 L418.7 326.7 L427.3 326.3 L436 326 L436 326 L427.3 326.3 L418.7 326.7 L410 327 L402 328.7 L394 330.3 L386 332 L379.3 334 L372.7 336 L366 338 L359 341 L352 344 L345 347 L338.1 350.4 L332.3 353 L326.5 355.5Z" fill="#8b8b8b" filter="url(#b1_5)"/>
<path d="M325.4 352.1 L331.6 350.8 L337.8 349.6 L345 347 L352 344 L359 341 L366 338 L372.7 336 L379.3 334 L386 332 L394 330.3 L402 328.7 L410 327 L418.7 326.7 L427.3 326.3 L436 326 L436 326 L427.3 326.3 L418.7 326.7 L410 327 L402 328.7 L394 330.3 L386 332 L379.3 334 L372.7 336 L366 338 L359 341 L352 344 L345 347 L338.3 350.7 L332.3 352.8 L326.3 354.8Z" fill="#8b8b8b" filter="url(#b1_5)" style="mix-blend-mode:lighten"/>
<path d="M325.7 353.2 L331.7 351.2 L338 350 L345 347 L352 344 L359 341 L366 338 L372.7 336 L379.3 334 L386 332 L394 330.3 L402 328.7 L410 327 L418.7 326.7 L427.3 326.3 L436 326 L436 326 L427.3 326.3 L418.7 326.7 L410 327 L402 328.7 L394 330.3 L386 332 L379.3 334 L372.7 336 L366 338 L359 341 L352 344 L345 347 L338 350 L332.1 352.2 L326.3 354.8Z" fill="#939393" filter="url(#b1_5)"/>
<path d="M325.7 353.1 L331.9 351.8 L338 350 L345 347 L352 344 L359 341 L366 338 L372.7 336 L379.3 334 L386 332 L394 330.3 L402 328.7 L410 327 L418.7 326.7 L427.3 326.3 L436 326 L436 326 L427.3 326.3 L418.7 326.7 L410 327 L402 328.7 L394 330.3 L386 332 L379.3 334 L372.7 336 L366 338 L359 341 L352 344 L345 347 L338 350 L332.3 352.8 L326.3 354.8Z" fill="#939393" filter="url(#b1_5)" style="mix-blend-mode:lighten"/>
<ellipse cx="347" cy="372" rx="12" ry="6" fill="#343434" transform="rotate(-30 347 372)" filter="url(#b3)"/>
<ellipse cx="365" cy="385" rx="8" ry="5" fill="#272727" transform="rotate(-30 365 385)" filter="url(#b3)"/>
<ellipse cx="358" cy="371" rx="13" ry="5.5" fill="#191919" transform="rotate(41 358 371)" filter="url(#b2_5)"/>
<path d="M366 395.8 L379.6 387.3 L388.2 381.9 L397.6 377.3 L406.9 372.6 L413.1 370.1 L419.4 367.6 L425.7 365.1 L435 362.9 L444.2 360.8 L450.5 356.1 L456.9 351.3 L461.5 345.4 L466.3 339.2 L472 336.2 L477.7 333.3 L484.2 331 L490.9 328.8 L497.6 329.5 L504.2 330.2 L514.2 333.2 L529.6 337.8 L523.5 358.1 L508.1 353.5 L499.2 352.3 L495 353.2 L493.7 353.2 L492.3 354.9 L487.6 356.8 L483.7 358.8 L482.8 358.1 L481.1 360.4 L474 368.9 L465.2 375.9 L454.1 383.2 L440.6 386.4 L432.5 387.8 L427.9 389.1 L421.3 390.8 L415.9 392 L406.9 395.8 L397.8 399.1 L389.5 403.2 L376 411.7Z" fill="#545454" filter="url(#b1_5)"/>
<path d="M359 384.7 L372.6 376.1 L381.5 369.9 L391.2 364.4 L400.6 359 L407.4 355.7 L413.5 352.7 L421 349.6 L431.3 347.2 L437.6 346 L440.9 343 L445.6 339.7 L448.4 335.3 L455 326.3 L464.1 320.9 L471 317.4 L478.7 314.8 L489 312 L499.3 313.2 L507.5 315.2 L518.3 319.6 L533.6 324.2 L529.1 339.4 L513.8 334.8 L503.8 331.8 L497.4 331.1 L491.1 330.4 L484.8 332.6 L478.3 334.7 L472.8 337.6 L467.3 340.4 L462.8 346.3 L458.1 352.5 L451.5 357.3 L444.8 362.2 L435.4 364.5 L426.1 366.7 L420 369.1 L413.7 371.6 L407.5 374 L398.4 378.7 L389 383.3 L380.4 388.7 L366.9 397.2Z" fill="#545454" filter="url(#b1_5)" style="mix-blend-mode:lighten"/>
<path d="M366 395.8 L379.6 387.3 L388.2 381.9 L397.6 377.3 L406.9 372.6 L413.1 370.1 L419.4 367.6 L425.7 365.1 L435 362.9 L444.2 360.8 L450.5 356.1 L456.9 351.3 L461.5 345.4 L466.3 339.2 L472 336.2 L477.7 333.3 L484.2 331 L490.9 328.8 L497.6 329.5 L504.2 330.2 L514.2 333.2 L529.6 337.8 L524.5 354.8 L509.1 350.2 L500 349 L495.4 350 L493.4 350.1 L491.4 352.2 L486.6 354.4 L482.5 356.4 L480.9 356 L478.8 358.7 L472.1 366.9 L463.7 373.9 L453.1 381 L440 384.1 L431.8 385.6 L427.1 387.1 L420.6 388.9 L415.1 390.4 L406.2 394.4 L397.1 397.9 L388.8 402.1 L375.3 410.6Z" fill="#5c5c5c" filter="url(#b1_5)"/>
<path d="M360.2 386.6 L373.8 378.1 L382.7 371.9 L392.4 366.7 L401.8 361.6 L408.6 358.6 L414.7 355.8 L422 352.9 L432.1 350.6 L439 349.2 L443.1 345.9 L448.3 342.5 L451.6 337.7 L457.7 329.4 L465.9 324.4 L472.5 320.9 L480.1 318.7 L489.5 316.4 L498.9 317.7 L506.5 319.7 L517 324.1 L532.3 328.7 L529.1 339.4 L513.8 334.8 L503.8 331.8 L497.4 331.1 L491.1 330.4 L484.8 332.6 L478.3 334.7 L472.8 337.6 L467.3 340.4 L462.8 346.3 L458.1 352.5 L451.5 357.3 L444.8 362.2 L435.4 364.5 L426.1 366.7 L420 369.1 L413.7 371.6 L407.5 374 L398.4 378.7 L389 383.3 L380.4 388.7 L366.9 397.2Z" fill="#5c5c5c" filter="url(#b1_5)" style="mix-blend-mode:lighten"/>
<path d="M366 395.8 L379.6 387.3 L388.2 381.9 L397.6 377.3 L406.9 372.6 L413.1 370.1 L419.4 367.6 L425.7 365.1 L435 362.9 L444.2 360.8 L450.5 356.1 L456.9 351.3 L461.5 345.4 L466.3 339.2 L472 336.2 L477.7 333.3 L484.2 331 L490.9 328.8 L497.6 329.5 L504.2 330.2 L514.2 333.2 L529.6 337.8 L525.3 351.9 L510 347.3 L500.6 346.3 L495.7 347.3 L493.1 347.5 L490.6 349.8 L485.7 352.3 L481.4 354.3 L479.3 354.1 L476.9 357.2 L470.5 365.3 L462.4 372.1 L452.3 379.1 L439.6 382.1 L431.3 383.7 L426.4 385.4 L420 387.4 L414.5 389 L405.6 393.2 L396.5 396.9 L388.3 401.2 L374.7 409.7Z" fill="#646464" filter="url(#b1_5)"/>
<path d="M360.8 387.5 L374.4 379 L383.3 373 L393 367.9 L402.4 363 L409.2 360.1 L415.3 357.4 L422.5 354.6 L432.5 352.3 L439.8 350.9 L444.2 347.5 L449.7 343.9 L453.2 339 L459.1 331 L466.9 326.2 L473.3 322.8 L480.8 320.7 L489.7 318.6 L498.6 320.1 L506 322 L516.3 326.4 L531.6 331 L529.1 339.4 L513.8 334.8 L503.8 331.8 L497.4 331.1 L491.1 330.4 L484.8 332.6 L478.3 334.7 L472.8 337.6 L467.3 340.4 L462.8 346.3 L458.1 352.5 L451.5 357.3 L444.8 362.2 L435.4 364.5 L426.1 366.7 L420 369.1 L413.7 371.6 L407.5 374 L398.4 378.7 L389 383.3 L380.4 388.7 L366.9 397.2Z" fill="#646464" filter="url(#b1_5)" style="mix-blend-mode:lighten"/>
<path d="M366 395.8 L379.6 387.3 L388.2 381.9 L397.6 377.3 L406.9 372.6 L413.1 370.1 L419.4 367.6 L425.7 365.1 L435 362.9 L444.2 360.8 L450.5 356.1 L456.9 351.3 L461.5 345.4 L466.3 339.2 L472 336.2 L477.7 333.3 L484.2 331 L490.9 328.8 L497.6 329.5 L504.2 330.2 L514.2 333.2 L529.6 337.8 L526.1 349.4 L510.8 344.8 L501.1 343.8 L495.9 344.8 L492.8 345.2 L489.9 347.7 L484.9 350.5 L480.5 352.4 L477.9 352.5 L475.2 355.9 L469 363.8 L461.2 370.6 L451.5 377.3 L439.1 380.3 L430.8 382.1 L425.8 383.8 L419.4 385.9 L413.9 387.8 L405.1 392.1 L396 395.9 L387.7 400.3 L374.2 408.8Z" fill="#6c6c6c" filter="url(#b1_5)"/>
<path d="M361.3 388.3 L374.9 379.8 L383.8 373.9 L393.4 368.9 L402.9 364.1 L409.7 361.3 L415.8 358.7 L422.9 356 L432.8 353.7 L440.4 352.2 L445.1 348.7 L450.8 345 L454.5 340 L460.3 332.3 L467.6 327.7 L473.9 324.2 L481.3 322.4 L489.9 320.5 L498.4 321.9 L505.6 323.9 L515.7 328.3 L531 332.9 L529.1 339.4 L513.8 334.8 L503.8 331.8 L497.4 331.1 L491.1 330.4 L484.8 332.6 L478.3 334.7 L472.8 337.6 L467.3 340.4 L462.8 346.3 L458.1 352.5 L451.5 357.3 L444.8 362.2 L435.4 364.5 L426.1 366.7 L420 369.1 L413.7 371.6 L407.5 374 L398.4 378.7 L389 383.3 L380.4 388.7 L366.9 397.2Z" fill="#6c6c6c" filter="url(#b1_5)" style="mix-blend-mode:lighten"/>
<path d="M366 395.8 L379.6 387.3 L388.2 381.9 L397.6 377.3 L406.9 372.6 L413.1 370.1 L419.4 367.6 L425.7 365.1 L435 362.9 L444.2 360.8 L450.5 356.1 L456.9 351.3 L461.5 345.4 L466.3 339.2 L472 336.2 L477.7 333.3 L484.2 331 L490.9 328.8 L497.6 329.5 L504.2 330.2 L514.2 333.2 L529.6 337.8 L526.8 347 L511.5 342.4 L501.7 341.4 L496.2 342.5 L492.5 343 L489.2 345.8 L484.2 348.7 L479.6 350.7 L476.5 350.9 L473.6 354.7 L467.7 362.4 L460.2 369.1 L450.8 375.7 L438.8 378.7 L430.3 380.5 L425.2 382.4 L418.9 384.6 L413.4 386.7 L404.6 391.2 L395.5 395 L387.2 399.5 L373.7 408Z" fill="#747474" filter="url(#b1_5)"/>
<path d="M361.8 389 L375.3 380.5 L384.2 374.6 L393.9 369.7 L403.3 365 L410.1 362.4 L416.3 359.9 L423.3 357.2 L433.1 355 L440.9 353.4 L445.9 349.7 L451.8 346 L455.7 340.9 L461.3 333.5 L468.3 329 L474.4 325.5 L481.8 323.8 L490.1 322.1 L498.2 323.6 L505.2 325.5 L515.2 329.9 L530.6 334.5 L529.1 339.4 L513.8 334.8 L503.8 331.8 L497.4 331.1 L491.1 330.4 L484.8 332.6 L478.3 334.7 L472.8 337.6 L467.3 340.4 L462.8 346.3 L458.1 352.5 L451.5 357.3 L444.8 362.2 L435.4 364.5 L426.1 366.7 L420 369.1 L413.7 371.6 L407.5 374 L398.4 378.7 L389 383.3 L380.4 388.7 L366.9 397.2Z" fill="#747474" filter="url(#b1_5)" style="mix-blend-mode:lighten"/>
<path d="M366 395.8 L379.6 387.3 L388.2 381.9 L397.6 377.3 L406.9 372.6 L413.1 370.1 L419.4 367.6 L425.7 365.1 L435 362.9 L444.2 360.8 L450.5 356.1 L456.9 351.3 L461.5 345.4 L466.3 339.2 L472 336.2 L477.7 333.3 L484.2 331 L490.9 328.8 L497.6 329.5 L504.2 330.2 L514.2 333.2 L529.6 337.8 L527.5 344.7 L512.2 340.1 L502.2 339.2 L496.4 340.4 L492.3 340.9 L488.6 343.9 L483.5 347.1 L478.7 349.1 L475.2 349.5 L472.1 353.5 L466.4 361.1 L459.1 367.7 L450.1 374.2 L438.4 377.2 L429.9 379.1 L424.7 381 L418.4 383.4 L412.9 385.6 L404.1 390.2 L395.1 394.2 L386.8 398.8 L373.2 407.3Z" fill="#7c7c7c" filter="url(#b1_5)"/>
<path d="M362.2 389.7 L375.7 381.2 L384.6 375.3 L394.2 370.5 L403.7 365.9 L410.5 363.3 L416.7 360.9 L423.6 358.3 L433.4 356.1 L441.4 354.5 L446.6 350.7 L452.7 347 L456.7 341.7 L462.2 334.5 L468.9 330.1 L474.9 326.7 L482.2 325.1 L490.3 323.5 L498.1 325 L504.9 327 L514.8 331.4 L530.1 336 L529.1 339.4 L513.8 334.8 L503.8 331.8 L497.4 331.1 L491.1 330.4 L484.8 332.6 L478.3 334.7 L472.8 337.6 L467.3 340.4 L462.8 346.3 L458.1 352.5 L451.5 357.3 L444.8 362.2 L435.4 364.5 L426.1 366.7 L420 369.1 L413.7 371.6 L407.5 374 L398.4 378.7 L389 383.3 L380.4 388.7 L366.9 397.2Z" fill="#7c7c7c" filter="url(#b1_5)" style="mix-blend-mode:lighten"/>
<path d="M366 395.8 L379.6 387.3 L388.2 381.9 L397.6 377.3 L406.9 372.6 L413.1 370.1 L419.4 367.6 L425.7 365.1 L435 362.9 L444.2 360.8 L450.5 356.1 L456.9 351.3 L461.5 345.4 L466.3 339.2 L472 336.2 L477.7 333.3 L484.2 331 L490.9 328.8 L497.6 329.5 L504.2 330.2 L514.2 333.2 L529.6 337.8 L528.1 342.6 L512.8 338 L502.6 337.2 L496.6 338.4 L492.1 338.9 L488 342.2 L482.9 345.5 L477.9 347.6 L474 348.1 L470.7 352.4 L465.2 359.8 L458.2 366.4 L449.5 372.8 L438 375.7 L429.4 377.7 L424.2 379.8 L417.9 382.2 L412.4 384.6 L403.7 389.4 L394.6 393.4 L386.3 398.1 L372.8 406.6Z" fill="#838383" filter="url(#b1_5)"/>
<path d="M362.5 390.2 L376.1 381.7 L384.9 376 L394.6 371.2 L404.1 366.7 L410.8 364.2 L417.1 361.8 L423.9 359.3 L433.6 357.1 L441.8 355.4 L447.2 351.6 L453.5 347.8 L457.7 342.4 L463 335.4 L469.4 331.2 L475.4 327.8 L482.6 326.3 L490.5 324.9 L497.9 326.4 L504.6 328.3 L514.4 332.7 L529.7 337.3 L529.1 339.4 L513.8 334.8 L503.8 331.8 L497.4 331.1 L491.1 330.4 L484.8 332.6 L478.3 334.7 L472.8 337.6 L467.3 340.4 L462.8 346.3 L458.1 352.5 L451.5 357.3 L444.8 362.2 L435.4 364.5 L426.1 366.7 L420 369.1 L413.7 371.6 L407.5 374 L398.4 378.7 L389 383.3 L380.4 388.7 L366.9 397.2Z" fill="#838383" filter="url(#b1_5)" style="mix-blend-mode:lighten"/>
<path d="M366 395.8 L379.6 387.3 L388.2 381.9 L397.6 377.3 L406.9 372.6 L413.1 370.1 L419.4 367.6 L425.7 365.1 L435 362.9 L444.2 360.8 L450.5 356.1 L456.9 351.3 L461.5 345.4 L466.3 339.2 L472 336.2 L477.7 333.3 L484.2 331 L490.9 328.8 L497.6 329.5 L504.2 330.2 L514.2 333.2 L529.6 337.8 L528.8 340.5 L513.4 335.9 L503.1 335.2 L496.8 336.4 L491.9 337 L487.4 340.5 L482.2 344.1 L477.2 346.1 L472.9 346.8 L469.3 351.4 L464.1 358.6 L457.2 365.1 L448.9 371.4 L437.7 374.3 L429 376.3 L423.7 378.5 L417.5 381.1 L412 383.6 L403.3 388.5 L394.2 392.7 L385.9 397.4 L372.4 405.9Z" fill="#8b8b8b" filter="url(#b1_5)"/>
<path d="M362.9 390.8 L376.4 382.3 L385.2 376.6 L394.9 371.8 L404.5 367.4 L411.2 365.1 L417.4 362.7 L424.2 360.2 L433.9 358.1 L442.2 356.4 L447.8 352.4 L454.3 348.6 L458.6 343.1 L463.8 336.3 L470 332.2 L475.8 328.8 L483 327.4 L490.6 326.1 L497.8 327.7 L504.3 329.6 L514 334 L529.3 338.6 L529.1 339.4 L513.8 334.8 L503.8 331.8 L497.4 331.1 L491.1 330.4 L484.8 332.6 L478.3 334.7 L472.8 337.6 L467.3 340.4 L462.8 346.3 L458.1 352.5 L451.5 357.3 L444.8 362.2 L435.4 364.5 L426.1 366.7 L420 369.1 L413.7 371.6 L407.5 374 L398.4 378.7 L389 383.3 L380.4 388.7 L366.9 397.2Z" fill="#8b8b8b" filter="url(#b1_5)" style="mix-blend-mode:lighten"/>
<path d="M366 395.8 L379.6 387.3 L388.2 381.9 L397.6 377.3 L406.9 372.6 L413.1 370.1 L419.4 367.6 L425.7 365.1 L435 362.9 L444.2 360.8 L450.5 356.1 L456.9 351.3 L461.5 345.4 L466.3 339.2 L472 336.2 L477.7 333.3 L484.2 331 L490.9 328.8 L497.6 329.5 L504.2 330.2 L514 334 L529.3 338.6 L529.3 338.6 L514 334 L503.5 333.2 L497 334.5 L491.6 335.2 L486.9 338.9 L481.6 342.6 L476.4 344.6 L471.8 345.5 L468 350.4 L462.9 357.5 L456.3 363.9 L448.3 370.1 L437.4 373 L428.7 375.1 L423.2 377.3 L417.1 380 L411.5 382.6 L402.9 387.7 L393.8 392 L385.5 396.8 L372 405.3Z" fill="#939393" filter="url(#b1_5)"/>
<path d="M363.2 391.3 L376.7 382.8 L385.6 377.1 L395.2 372.4 L404.8 368.1 L411.5 365.9 L417.8 363.6 L424.5 361.1 L434.1 359 L442.6 357.2 L448.4 353.2 L455 349.3 L459.5 343.8 L464.5 337.2 L470.4 333.1 L476.2 329.7 L483.4 328.5 L490.7 327.3 L497.7 328.9 L504 330.8 L514 334 L529.3 338.6 L529.3 338.6 L514 334 L503.8 331.8 L497.4 331.1 L491.1 330.4 L484.8 332.6 L478.3 334.7 L472.8 337.6 L467.3 340.4 L462.8 346.3 L458.1 352.5 L451.5 357.3 L444.8 362.2 L435.4 364.5 L426.1 366.7 L420 369.1 L413.7 371.6 L407.5 374 L398.4 378.7 L389 383.3 L380.4 388.7 L366.9 397.2Z" fill="#939393" filter="url(#b1_5)" style="mix-blend-mode:lighten"/>
<path d="M366 395.8 L379.6 387.3 L388.2 381.9 L397.6 377.3 L406.9 372.6 L413.1 370.1 L419.4 367.6 L425.7 365.1 L435 362.9 L444.2 360.8 L450.5 356.1 L456.9 351.3 L461.5 345.4 L466.3 339.2 L472 336.2 L477.7 333.3 L484.2 331 L490.9 328.8 L497.6 329.5 L504 331 L514 334 L529.3 338.6 L529.3 338.6 L514 334 L504 331 L497.2 332.7 L491.4 333.5 L486.4 337.3 L481.1 341.2 L475.7 343.3 L470.7 344.2 L466.8 349.4 L461.9 356.4 L455.5 362.8 L447.8 368.9 L437.1 371.6 L428.3 373.8 L422.8 376.2 L416.6 378.9 L411.1 381.7 L402.5 386.9 L393.4 391.3 L385.1 396.2 L371.6 404.7Z" fill="#9b9b9b" filter="url(#b1_5)"/>
<path d="M363.5 391.8 L377 383.3 L385.9 377.7 L395.5 373 L405.1 368.8 L411.8 366.6 L418.1 364.4 L424.7 362 L434.3 359.9 L443 358 L449 354 L455.7 350 L460.3 344.4 L465.2 338 L470.9 334 L476.6 330.6 L483.7 329.5 L490.9 328.4 L497.5 330 L504 331 L514 334 L529.3 338.6 L529.3 338.6 L514 334 L504 331 L497.4 331.1 L491.1 330.4 L484.8 332.6 L478.3 334.7 L472.8 337.6 L467.3 340.4 L462.8 346.3 L458.1 352.5 L451.5 357.3 L444.8 362.2 L435.4 364.5 L426.1 366.7 L420 369.1 L413.7 371.6 L407.5 374 L398.4 378.7 L389 383.3 L380.4 388.7 L366.9 397.2Z" fill="#9b9b9b" filter="url(#b1_5)" style="mix-blend-mode:lighten"/>
<path d="M366 395.8 L379.6 387.3 L388.2 381.9 L397.6 377.3 L406.9 372.6 L413.1 370.1 L419.4 367.6 L425.7 365.1 L435 362.9 L444.2 360.8 L450.5 356.1 L456.9 351.3 L461.5 345.4 L466.3 339.2 L472 336.2 L477.7 333.3 L484.2 331 L490.9 328.8 L497.5 330.3 L504 331 L514 334 L529.3 338.6 L529.3 338.6 L514 334 L504 331 L497.5 330.3 L491.2 331.8 L485.9 335.8 L480.5 339.9 L475 341.9 L469.6 343 L465.5 348.4 L460.8 355.3 L454.6 361.6 L447.2 367.6 L436.8 370.4 L427.9 372.6 L422.3 375.1 L416.2 377.9 L410.7 380.8 L402.1 386.2 L393 390.6 L384.7 395.6 L371.2 404.1Z" fill="#a3a3a3" filter="url(#b1_5)"/>
<path d="M363.8 392.2 L377.3 383.7 L386.1 378.2 L395.8 373.6 L405.4 369.4 L412 367.3 L418.4 365.1 L425 362.8 L434.5 360.7 L443.3 358.8 L449.5 354.7 L456.3 350.7 L461 345 L465.9 338.7 L471.3 334.9 L476.9 331.5 L484.1 330.5 L491 329.5 L497.5 330.3 L504 331 L514 334 L529.3 338.6 L529.3 338.6 L514 334 L504 331 L497.5 330.3 L491.1 330.4 L484.8 332.6 L478.3 334.7 L472.8 337.6 L467.3 340.4 L462.8 346.3 L458.1 352.5 L451.5 357.3 L444.8 362.2 L435.4 364.5 L426.1 366.7 L420 369.1 L413.7 371.6 L407.5 374 L398.4 378.7 L389 383.3 L380.4 388.7 L366.9 397.2Z" fill="#a3a3a3" filter="url(#b1_5)" style="mix-blend-mode:lighten"/>
<path d="M366 395.8 L379.6 387.3 L388.2 381.9 L397.6 377.3 L406.9 372.6 L413.1 370.1 L419.4 367.6 L425.7 365.1 L435 362.9 L444.2 360.8 L450.5 356.1 L456.9 351.3 L461.5 345.4 L466.3 339.2 L472 336.2 L477.7 333.3 L484.2 331 L491 329.6 L497.5 330.3 L504 331 L514 334 L529.3 338.6 L529.3 338.6 L514 334 L504 331 L497.5 330.3 L491 329.6 L485.4 334.3 L479.9 338.6 L474.3 340.6 L468.6 341.9 L464.3 347.5 L459.8 354.3 L453.8 360.5 L446.7 366.4 L436.5 369.1 L427.6 371.4 L421.9 374 L415.8 376.9 L410.3 380 L401.7 385.4 L392.7 389.9 L384.4 395 L370.8 403.5Z" fill="#ababab" filter="url(#b1_5)"/>
<path d="M364.1 392.7 L377.6 384.2 L386.4 378.6 L396 374.1 L405.7 370 L412.3 368 L418.7 365.9 L425.2 363.6 L434.7 361.5 L443.7 359.6 L450 355.4 L456.9 351.3 L461.8 345.6 L466.5 339.4 L471.8 335.7 L477.3 332.3 L484.4 331.4 L491 329.6 L497.5 330.3 L504 331 L514 334 L529.3 338.6 L529.3 338.6 L514 334 L504 331 L497.5 330.3 L491 329.6 L484.8 332.6 L478.3 334.7 L472.8 337.6 L467.3 340.4 L462.8 346.3 L458.1 352.5 L451.5 357.3 L444.8 362.2 L435.4 364.5 L426.1 366.7 L420 369.1 L413.7 371.6 L407.5 374 L398.4 378.7 L389 383.3 L380.4 388.7 L366.9 397.2Z" fill="#ababab" filter="url(#b1_5)" style="mix-blend-mode:lighten"/>
<path d="M366 395.8 L379.6 387.3 L388.2 381.9 L397.6 377.3 L406.9 372.6 L413.1 370.1 L419.4 367.6 L425.7 365.1 L435 362.9 L444.2 360.8 L450.5 356.1 L457.5 351.9 L462.1 345.9 L466.8 339.8 L472 336.2 L477.7 333.3 L484.5 331.8 L491 329.6 L497.5 330.3 L504 331 L514 334 L529.3 338.6 L529.3 338.6 L514 334 L504 331 L497.5 330.3 L491 329.6 L484.5 331.8 L479.4 337.3 L473.7 339.4 L466.8 339.8 L462.1 345.9 L457.5 351.9 L453 359.4 L446.2 365.2 L436.2 367.9 L427.2 370.3 L421.5 372.9 L415.5 375.9 L409.9 379.1 L401.3 384.7 L392.3 389.3 L384 394.4 L370.5 402.9Z" fill="#b3b3b3" filter="url(#b1_5)"/>
<path d="M364.3 393.1 L377.9 384.6 L386.7 379.1 L396.3 374.6 L405.9 370.6 L412.6 368.7 L419 366.6 L425.4 364.3 L434.9 362.3 L444 360.3 L450.5 356 L457.5 351.9 L462.1 345.9 L466.8 339.8 L472.2 336.5 L477.6 333.1 L484.5 331.8 L491 329.6 L497.5 330.3 L504 331 L514 334 L529.3 338.6 L529.3 338.6 L514 334 L504 331 L497.5 330.3 L491 329.6 L484.5 331.8 L478.3 334.7 L472.8 337.6 L466.8 339.8 L462.1 345.9 L457.5 351.9 L451.5 357.3 L444.8 362.2 L435.4 364.5 L426.1 366.7 L420 369.1 L413.7 371.6 L407.5 374 L398.4 378.7 L389 383.3 L380.4 388.7 L366.9 397.2Z" fill="#b3b3b3" filter="url(#b1_5)" style="mix-blend-mode:lighten"/>
<path d="M366 395.8 L379.6 387.3 L388.2 381.9 L397.6 377.3 L406.9 372.6 L413.1 370.1 L419.4 367.6 L425.7 365.1 L435 362.9 L444.2 360.8 L450.5 356.1 L457.5 351.9 L462.1 345.9 L466.8 339.8 L472.4 336.9 L477.7 333.3 L484.5 331.8 L491 329.6 L497.5 330.3 L504 331 L514 334 L529.3 338.6 L529.3 338.6 L514 334 L504 331 L497.5 330.3 L491 329.6 L484.5 331.8 L478.9 336.1 L472.4 336.9 L466.8 339.8 L462.1 345.9 L457.5 351.9 L452.2 358.4 L445.7 364.1 L435.9 366.8 L426.9 369.2 L421.1 371.9 L415.1 375 L409.5 378.3 L401 384 L392 388.7 L383.7 393.8 L370.1 402.3Z" fill="#bbbbbb" filter="url(#b1_5)"/>
<path d="M364.6 393.5 L378.1 385 L386.9 379.6 L396.6 375.1 L406.2 371.2 L412.8 369.3 L419.2 367.3 L425.6 365 L435 363 L444.3 361 L451 356.7 L457.5 351.9 L462.1 345.9 L466.8 339.8 L472.4 336.9 L477.9 333.9 L484.5 331.8 L491 329.6 L497.5 330.3 L504 331 L514 334 L529.3 338.6 L529.3 338.6 L514 334 L504 331 L497.5 330.3 L491 329.6 L484.5 331.8 L478.3 334.7 L472.4 336.9 L466.8 339.8 L462.1 345.9 L457.5 351.9 L451.5 357.3 L444.8 362.2 L435.4 364.5 L426.1 366.7 L420 369.1 L413.7 371.6 L407.5 374 L398.4 378.7 L389 383.3 L380.4 388.7 L366.9 397.2Z" fill="#bbbbbb" filter="url(#b1_5)" style="mix-blend-mode:lighten"/>
<path d="M366 395.8 L379.6 387.3 L388.2 381.9 L397.6 377.3 L406.9 372.6 L413.1 370.1 L419.4 367.6 L425.7 365.1 L435.2 363.7 L444.5 361.5 L451 356.7 L457.5 351.9 L462.1 345.9 L466.8 339.8 L472.4 336.9 L478 334 L484.5 331.8 L491 329.6 L497.5 330.3 L504 331 L514 334 L529.3 338.6 L529.3 338.6 L514 334 L504 331 L497.5 330.3 L491 329.6 L484.5 331.8 L478 334 L472.4 336.9 L466.8 339.8 L462.1 345.9 L457.5 351.9 L451 356.7 L444.5 361.5 L435.2 363.7 L426.6 368.1 L420.7 370.9 L414.7 374.1 L409.1 377.5 L400.6 383.3 L391.6 388 L383.3 393.3 L369.8 401.8Z" fill="#c3c3c3" filter="url(#b1_5)"/>
<path d="M364.8 393.9 L378.4 385.4 L387.2 380 L396.8 375.6 L406.5 371.7 L413.1 369.9 L419.5 367.9 L425.8 365.7 L435.2 363.7 L444.5 361.5 L451 356.7 L457.5 351.9 L462.1 345.9 L466.8 339.8 L472.4 336.9 L478 334 L484.5 331.8 L491 329.6 L497.5 330.3 L504 331 L514 334 L529.3 338.6 L529.3 338.6 L514 334 L504 331 L497.5 330.3 L491 329.6 L484.5 331.8 L478 334 L472.4 336.9 L466.8 339.8 L462.1 345.9 L457.5 351.9 L451 356.7 L444.5 361.5 L435.2 363.7 L426.1 366.7 L420 369.1 L413.7 371.6 L407.5 374 L398.4 378.7 L389 383.3 L380.4 388.7 L366.9 397.2Z" fill="#c3c3c3" filter="url(#b1_5)" style="mix-blend-mode:lighten"/>
<path d="M366 395.8 L379.6 387.3 L388.2 381.9 L397.6 377.3 L406.9 372.6 L413.1 370.1 L419.7 368.4 L425.9 365.9 L435.2 363.7 L444.5 361.5 L451 356.7 L457.5 351.9 L462.1 345.9 L466.8 339.8 L472.4 336.9 L478 334 L484.5 331.8 L491 329.6 L497.5 330.3 L504 331 L514 334 L529.3 338.6 L529.3 338.6 L514 334 L504 331 L497.5 330.3 L491 329.6 L484.5 331.8 L478 334 L472.4 336.9 L466.8 339.8 L462.1 345.9 L457.5 351.9 L451 356.7 L444.5 361.5 L435.2 363.7 L425.9 365.9 L419.7 368.4 L414.4 373.2 L408.8 376.7 L400.3 382.6 L391.3 387.4 L383 392.7 L369.4 401.2Z" fill="#cbcbcb" filter="url(#b1_5)"/>
<path d="M365.1 394.3 L378.6 385.8 L387.4 380.4 L397 376.1 L406.7 372.2 L413.3 370.5 L419.7 368.4 L425.9 365.9 L435.2 363.7 L444.5 361.5 L451 356.7 L457.5 351.9 L462.1 345.9 L466.8 339.8 L472.4 336.9 L478 334 L484.5 331.8 L491 329.6 L497.5 330.3 L504 331 L514 334 L529.3 338.6 L529.3 338.6 L514 334 L504 331 L497.5 330.3 L491 329.6 L484.5 331.8 L478 334 L472.4 336.9 L466.8 339.8 L462.1 345.9 L457.5 351.9 L451 356.7 L444.5 361.5 L435.2 363.7 L425.9 365.9 L419.7 368.4 L413.7 371.6 L407.5 374 L398.4 378.7 L389 383.3 L380.4 388.7 L366.9 397.2Z" fill="#cbcbcb" filter="url(#b1_5)" style="mix-blend-mode:lighten"/>
<path d="M366 395.8 L379.6 387.3 L388.2 381.9 L397.6 377.3 L406.9 372.6 L413.4 370.8 L419.7 368.4 L425.9 365.9 L435.2 363.7 L444.5 361.5 L451 356.7 L457.5 351.9 L462.1 345.9 L466.8 339.8 L472.4 336.9 L478 334 L484.5 331.8 L491 329.6 L497.5 330.3 L504 331 L514 334 L529.3 338.6 L529.3 338.6 L514 334 L504 331 L497.5 330.3 L491 329.6 L484.5 331.8 L478 334 L472.4 336.9 L466.8 339.8 L462.1 345.9 L457.5 351.9 L451 356.7 L444.5 361.5 L435.2 363.7 L425.9 365.9 L419.7 368.4 L413.4 370.8 L408.4 375.9 L400 381.9 L391 386.9 L382.6 392.2 L369.1 400.7Z" fill="#d3d3d3" filter="url(#b1_5)"/>
<path d="M365.3 394.7 L378.9 386.2 L387.6 380.9 L397.3 376.5 L407 372.8 L413.4 370.8 L419.7 368.4 L425.9 365.9 L435.2 363.7 L444.5 361.5 L451 356.7 L457.5 351.9 L462.1 345.9 L466.8 339.8 L472.4 336.9 L478 334 L484.5 331.8 L491 329.6 L497.5 330.3 L504 331 L514 334 L529.3 338.6 L529.3 338.6 L514 334 L504 331 L497.5 330.3 L491 329.6 L484.5 331.8 L478 334 L472.4 336.9 L466.8 339.8 L462.1 345.9 L457.5 351.9 L451 356.7 L444.5 361.5 L435.2 363.7 L425.9 365.9 L419.7 368.4 L413.4 370.8 L407.5 374 L398.4 378.7 L389 383.3 L380.4 388.7 L366.9 397.2Z" fill="#d3d3d3" filter="url(#b1_5)" style="mix-blend-mode:lighten"/>
<path d="M366 395.8 L379.6 387.3 L388.2 381.9 L397.6 377.3 L406.9 372.6 L413.4 370.8 L419.7 368.4 L425.9 365.9 L435.2 363.7 L444.5 361.5 L451 356.7 L457.5 351.9 L462.1 345.9 L466.8 339.8 L472.4 336.9 L478 334 L484.5 331.8 L491 329.6 L497.5 330.3 L504 331 L514 334 L529.3 338.6 L529.3 338.6 L514 334 L504 331 L497.5 330.3 L491 329.6 L484.5 331.8 L478 334 L472.4 336.9 L466.8 339.8 L462.1 345.9 L457.5 351.9 L451 356.7 L444.5 361.5 L435.2 363.7 L425.9 365.9 L419.7 368.4 L413.4 370.8 L408.1 375.2 L399.6 381.3 L390.6 386.3 L382.3 391.7 L368.8 400.2Z" fill="#dbdbdb" filter="url(#b1_5)"/>
<path d="M365.6 395.1 L379.1 386.6 L387.9 381.3 L397.5 377 L407.2 373.3 L413.4 370.8 L419.7 368.4 L425.9 365.9 L435.2 363.7 L444.5 361.5 L451 356.7 L457.5 351.9 L462.1 345.9 L466.8 339.8 L472.4 336.9 L478 334 L484.5 331.8 L491 329.6 L497.5 330.3 L504 331 L514 334 L529.3 338.6 L529.3 338.6 L514 334 L504 331 L497.5 330.3 L491 329.6 L484.5 331.8 L478 334 L472.4 336.9 L466.8 339.8 L462.1 345.9 L457.5 351.9 L451 356.7 L444.5 361.5 L435.2 363.7 L425.9 365.9 L419.7 368.4 L413.4 370.8 L407.5 374 L398.4 378.7 L389 383.3 L380.4 388.7 L366.9 397.2Z" fill="#dbdbdb" filter="url(#b1_5)" style="mix-blend-mode:lighten"/>
<path d="M366 395.8 L379.6 387.3 L388.2 381.9 L397.6 377.3 L407.2 373.3 L413.4 370.8 L419.7 368.4 L425.9 365.9 L435.2 363.7 L444.5 361.5 L451 356.7 L457.5 351.9 L462.1 345.9 L466.8 339.8 L472.4 336.9 L478 334 L484.5 331.8 L491 329.6 L497.5 330.3 L504 331 L514 334 L529.3 338.6 L529.3 338.6 L514 334 L504 331 L497.5 330.3 L491 329.6 L484.5 331.8 L478 334 L472.4 336.9 L466.8 339.8 L462.1 345.9 L457.5 351.9 L451 356.7 L444.5 361.5 L435.2 363.7 L425.9 365.9 L419.7 368.4 L413.4 370.8 L407.2 373.3 L399.3 380.7 L390.3 385.7 L382 391.2 L368.4 399.7Z" fill="#e3e3e3" filter="url(#b1_5)"/>
<path d="M365.8 395.5 L379.3 387 L388.1 381.7 L397.7 377.4 L407.2 373.3 L413.4 370.8 L419.7 368.4 L425.9 365.9 L435.2 363.7 L444.5 361.5 L451 356.7 L457.5 351.9 L462.1 345.9 L466.8 339.8 L472.4 336.9 L478 334 L484.5 331.8 L491 329.6 L497.5 330.3 L504 331 L514 334 L529.3 338.6 L529.3 338.6 L514 334 L504 331 L497.5 330.3 L491 329.6 L484.5 331.8 L478 334 L472.4 336.9 L466.8 339.8 L462.1 345.9 L457.5 351.9 L451 356.7 L444.5 361.5 L435.2 363.7 L425.9 365.9 L419.7 368.4 L413.4 370.8 L407.2 373.3 L398.4 378.7 L389 383.3 L380.4 388.7 L366.9 397.2Z" fill="#e3e3e3" filter="url(#b1_5)" style="mix-blend-mode:lighten"/>
<path d="M366 395.8 L379.6 387.3 L388.2 381.9 L397.6 377.3 L407.2 373.3 L413.4 370.8 L419.7 368.4 L425.9 365.9 L435.2 363.7 L444.5 361.5 L451 356.7 L457.5 351.9 L462.1 345.9 L466.8 339.8 L472.4 336.9 L478 334 L484.5 331.8 L491 329.6 L497.5 330.3 L504 331 L514 334 L529.3 338.6 L529.3 338.6 L514 334 L504 331 L497.5 330.3 L491 329.6 L484.5 331.8 L478 334 L472.4 336.9 L466.8 339.8 L462.1 345.9 L457.5 351.9 L451 356.7 L444.5 361.5 L435.2 363.7 L425.9 365.9 L419.7 368.4 L413.4 370.8 L407.2 373.3 L399 380 L390 385.1 L381.7 390.7 L368.1 399.2Z" fill="#ebebeb" filter="url(#b1_5)"/>
<path d="M366 395.8 L379.6 387.3 L388.3 382.1 L397.9 377.8 L407.2 373.3 L413.4 370.8 L419.7 368.4 L425.9 365.9 L435.2 363.7 L444.5 361.5 L451 356.7 L457.5 351.9 L462.1 345.9 L466.8 339.8 L472.4 336.9 L478 334 L484.5 331.8 L491 329.6 L497.5 330.3 L504 331 L514 334 L529.3 338.6 L529.3 338.6 L514 334 L504 331 L497.5 330.3 L491 329.6 L484.5 331.8 L478 334 L472.4 336.9 L466.8 339.8 L462.1 345.9 L457.5 351.9 L451 356.7 L444.5 361.5 L435.2 363.7 L425.9 365.9 L419.7 368.4 L413.4 370.8 L407.2 373.3 L398.4 378.7 L389 383.3 L380.4 388.7 L366.9 397.2Z" fill="#ebebeb" filter="url(#b1_5)" style="mix-blend-mode:lighten"/>
<path d="M366 395.8 L379.6 387.3 L388.2 381.9 L398 378 L407.2 373.3 L413.4 370.8 L419.7 368.4 L425.9 365.9 L435.2 363.7 L444.5 361.5 L451 356.7 L457.5 351.9 L462.1 345.9 L466.8 339.8 L472.4 336.9 L478 334 L484.5 331.8 L491 329.6 L497.5 330.3 L504 331 L514 334 L529.3 338.6 L529.3 338.6 L514 334 L504 331 L497.5 330.3 L491 329.6 L484.5 331.8 L478 334 L472.4 336.9 L466.8 339.8 L462.1 345.9 L457.5 351.9 L451 356.7 L444.5 361.5 L435.2 363.7 L425.9 365.9 L419.7 368.4 L413.4 370.8 L407.2 373.3 L398 378 L389.7 384.6 L381.4 390.2 L367.8 398.7Z" fill="#f3f3f3" filter="url(#b1_5)"/>
<path d="M366.2 396.2 L379.8 387.7 L388.5 382.4 L398 378 L407.2 373.3 L413.4 370.8 L419.7 368.4 L425.9 365.9 L435.2 363.7 L444.5 361.5 L451 356.7 L457.5 351.9 L462.1 345.9 L466.8 339.8 L472.4 336.9 L478 334 L484.5 331.8 L491 329.6 L497.5 330.3 L504 331 L514 334 L529.3 338.6 L529.3 338.6 L514 334 L504 331 L497.5 330.3 L491 329.6 L484.5 331.8 L478 334 L472.4 336.9 L466.8 339.8 L462.1 345.9 L457.5 351.9 L451 356.7 L444.5 361.5 L435.2 363.7 L425.9 365.9 L419.7 368.4 L413.4 370.8 L407.2 373.3 L398 378 L389 383.3 L380.4 388.7 L366.9 397.2Z" fill="#f3f3f3" filter="url(#b1_5)" style="mix-blend-mode:lighten"/>
<path d="M366 395.8 L379.6 387.3 L388.6 382.6 L398 378 L407.2 373.3 L413.4 370.8 L419.7 368.4 L425.9 365.9 L435.2 363.7 L444.5 361.5 L451 356.7 L457.5 351.9 L462.1 345.9 L466.8 339.8 L472.4 336.9 L478 334 L484.5 331.8 L491 329.6 L497.5 330.3 L504 331 L514 334 L529.3 338.6 L529.3 338.6 L514 334 L504 331 L497.5 330.3 L491 329.6 L484.5 331.8 L478 334 L472.4 336.9 L466.8 339.8 L462.1 345.9 L457.5 351.9 L451 356.7 L444.5 361.5 L435.2 363.7 L425.9 365.9 L419.7 368.4 L413.4 370.8 L407.2 373.3 L398 378 L388.6 382.6 L381.1 389.7 L367.5 398.2Z" fill="#fbfbfb" filter="url(#b1_5)"/>
<path d="M366.4 396.5 L380 388 L388.6 382.6 L398 378 L407.2 373.3 L413.4 370.8 L419.7 368.4 L425.9 365.9 L435.2 363.7 L444.5 361.5 L451 356.7 L457.5 351.9 L462.1 345.9 L466.8 339.8 L472.4 336.9 L478 334 L484.5 331.8 L491 329.6 L497.5 330.3 L504 331 L514 334 L529.3 338.6 L529.3 338.6 L514 334 L504 331 L497.5 330.3 L491 329.6 L484.5 331.8 L478 334 L472.4 336.9 L466.8 339.8 L462.1 345.9 L457.5 351.9 L451 356.7 L444.5 361.5 L435.2 363.7 L425.9 365.9 L419.7 368.4 L413.4 370.8 L407.2 373.3 L398 378 L388.6 382.6 L380.4 388.7 L366.9 397.2Z" fill="#fbfbfb" filter="url(#b1_5)" style="mix-blend-mode:lighten"/>
<ellipse cx="479" cy="375.5" rx="3" ry="3" fill="#3c3c3c" filter="url(#b1)"/>
<ellipse cx="485.5" cy="364.5" rx="2.6" ry="2.6" fill="#3c3c3c" filter="url(#b1)"/>
<ellipse cx="476" cy="352" rx="3" ry="3" fill="#3c3c3c" filter="url(#b1)"/>
<ellipse cx="500" cy="364" rx="16" ry="9" fill="#606060" transform="rotate(-25 500 364)" filter="url(#b4)"/>
<path d="M388.9 442.3 L403.7 436.3 L411 433.3 L418.4 430.3 L425.7 427.3 L434.4 424.2 L443.1 421.2 L451.7 418.3 L458.4 415.3 L465.2 412.3 L471.9 409.3 L478.7 406.3 L485.3 403.3 L492 400.3 L498.6 397.3 L504.6 393.7 L510.6 390 L516.6 386.3 L525.1 381.6 L533.7 376.8 L542.7 373.5 L551.8 370.2 L558.9 369.2 L565.9 368.2 L581.7 365.9 L582.5 371.7 L566.7 373.9 L559.9 376.3 L553.8 377.9 L545.6 381.4 L537.3 384.7 L529.5 389.4 L521.2 394.2 L515.3 397.7 L509.3 401.3 L502.8 405.3 L495.7 408.6 L489.1 411.6 L482.4 414.7 L475.7 417.7 L468.9 420.7 L462.1 423.6 L454.9 426.6 L445.9 429.5 L437.2 432.3 L428.7 435.1 L421.4 437.6 L413.7 439.9 L405.9 441.6 L391.1 447.7Z" fill="#5c5c5c" filter="url(#b1_5)"/>
<path d="M387.5 438.9 L402.3 432.8 L409.2 428.7 L416.2 425.1 L423.6 421.6 L432.4 418.4 L441 415.3 L449.4 412.2 L455.7 409.2 L462.4 406.1 L469.2 403.1 L475.9 400.1 L482.6 397.2 L489.3 394.2 L495.6 391.4 L501.2 388 L507.1 384.3 L513.2 380.5 L521.9 375.8 L531 371 L540.7 367.8 L550.4 364.8 L558.2 364.4 L565.4 364.5 L581.2 362.3 L582 367.5 L566.1 369.8 L559.1 370.8 L552.2 371.8 L543.3 375 L534.3 378.2 L525.9 382.9 L517.4 387.7 L511.4 391.3 L505.4 395 L499.4 398.7 L492.7 401.7 L486 404.7 L479.3 407.7 L472.6 410.7 L465.8 413.7 L459.1 416.7 L452.3 419.7 L443.6 422.8 L434.9 425.8 L426.3 428.7 L419 431.7 L411.6 434.7 L404.3 437.7 L389.5 443.8Z" fill="#5c5c5c" filter="url(#b1_5)" style="mix-blend-mode:lighten"/>
<path d="M389.2 443.1 L404 437 L411 433.3 L418.4 430.3 L425.7 427.3 L434.4 424.2 L443.1 421.2 L451.7 418.3 L458.4 415.3 L465.2 412.3 L471.9 409.3 L478.7 406.3 L485.3 403.3 L492 400.3 L498.6 397.3 L504.6 393.7 L510.6 390 L516.6 386.3 L525.1 381.6 L533.7 376.8 L542.7 373.5 L551.8 370.2 L558.9 369.2 L566 369 L581.8 366.7 L581.8 366.7 L566 369 L559.4 372.6 L553.1 375.1 L544.8 379.2 L536.5 382.9 L528.6 387.9 L520.3 392.7 L514.4 396.2 L508.3 399.8 L502 403.7 L495 407 L488.4 410.1 L481.8 413.2 L475 416.3 L468.3 419.3 L461.4 422 L454.3 424.8 L445.2 427.5 L436.5 430.2 L427.8 432.8 L420.3 434.9 L412.3 436.5 L404 437 L389.2 443.1Z" fill="#646464" filter="url(#b1_5)"/>
<path d="M389.2 443.1 L404 437 L410.4 431.8 L417.2 427.5 L424.4 423.7 L433 420.3 L441.6 417 L450 413.8 L456.4 410.6 L463 407.4 L469.7 404.4 L476.5 401.4 L483.2 398.5 L489.9 395.6 L496.3 392.9 L502 389.4 L507.9 385.7 L514 381.9 L522.7 377.2 L531.8 372.6 L541.4 369.8 L551 367.3 L558.7 367.6 L566 369 L581.8 366.7 L581.8 366.7 L566 369 L559.1 370.8 L552.2 371.8 L543.3 375 L534.3 378.2 L525.9 382.9 L517.4 387.7 L511.4 391.3 L505.4 395 L499.4 398.7 L492.7 401.7 L486 404.7 L479.3 407.7 L472.6 410.7 L465.8 413.7 L459.1 416.7 L452.3 419.7 L443.6 422.8 L434.9 425.8 L426.3 428.7 L419 431.7 L411.6 434.7 L404 437 L389.2 443.1Z" fill="#646464" filter="url(#b1_5)" style="mix-blend-mode:lighten"/>
<path d="M389.2 443.1 L404 437 L411.3 434 L418.4 430.3 L425.7 427.3 L434.4 424.2 L443.1 421.2 L451.7 418.3 L458.4 415.3 L465.2 412.3 L471.9 409.3 L478.7 406.3 L485.3 403.3 L492 400.3 L498.6 397.3 L504.6 393.7 L510.6 390 L516.6 386.3 L525.1 381.6 L533.7 376.8 L542.7 373.5 L551.8 370.2 L559 370 L566 369 L581.8 366.7 L581.8 366.7 L566 369 L559 370 L552.3 372.3 L544 376.9 L535.6 381 L527.8 386.3 L519.5 391.3 L513.5 394.7 L507.4 398.3 L501.2 402.1 L494.3 405.4 L487.7 408.6 L481.1 411.7 L474.4 414.8 L467.6 417.8 L460.7 420.4 L453.6 423 L444.6 425.6 L435.7 428.1 L426.9 430.5 L419.2 432.2 L411.3 434 L404 437 L389.2 443.1Z" fill="#6c6c6c" filter="url(#b1_5)"/>
<path d="M389.2 443.1 L404 437 L411.3 434 L418.2 429.9 L425.2 425.8 L433.7 422.2 L442.2 418.8 L450.6 415.4 L457 412 L463.6 408.7 L470.3 405.7 L477.1 402.8 L483.8 399.9 L490.5 397 L497 394.3 L502.8 390.8 L508.8 387 L514.8 383.2 L523.4 378.6 L532.5 374.3 L542.1 371.9 L551.7 369.9 L559 370 L566 369 L581.8 366.7 L581.8 366.7 L566 369 L559 370 L552.2 371.8 L543.3 375 L534.3 378.2 L525.9 382.9 L517.4 387.7 L511.4 391.3 L505.4 395 L499.4 398.7 L492.7 401.7 L486 404.7 L479.3 407.7 L472.6 410.7 L465.8 413.7 L459.1 416.7 L452.3 419.7 L443.6 422.8 L434.9 425.8 L426.3 428.7 L419 431.7 L411.3 434 L404 437 L389.2 443.1Z" fill="#6c6c6c" filter="url(#b1_5)" style="mix-blend-mode:lighten"/>
<path d="M389.2 443.1 L404 437 L411.3 434 L418.7 431 L425.7 427.3 L434.4 424.2 L443.1 421.2 L451.7 418.3 L458.4 415.3 L465.2 412.3 L471.9 409.3 L478.7 406.3 L485.3 403.3 L492 400.3 L498.6 397.3 L504.6 393.7 L510.6 390 L516.6 386.3 L525.1 381.6 L533.7 376.8 L542.7 373.5 L552 371 L559 370 L566 369 L581.8 366.7 L581.8 366.7 L566 369 L559 370 L552 371 L543.1 374.7 L534.8 379.2 L526.9 384.8 L518.6 389.8 L512.6 393.2 L506.5 396.7 L500.4 400.6 L493.6 403.8 L487 407 L480.4 410.2 L473.8 413.4 L467 416.4 L460 418.9 L452.9 421.2 L443.9 423.6 L435 426 L426.1 428.2 L418.7 431 L411.3 434 L404 437 L389.2 443.1Z" fill="#747474" filter="url(#b1_5)"/>
<path d="M389.2 443.1 L404 437 L411.3 434 L418.7 431 L425.9 427.8 L434.4 424.1 L442.8 420.6 L451.2 417 L457.6 413.4 L464.1 409.9 L470.9 406.9 L477.7 404.1 L484.4 401.3 L491.2 398.4 L497.8 395.7 L503.7 392.2 L509.6 388.4 L515.5 384.5 L524.2 380 L533.3 376 L542.9 373.9 L552 371 L559 370 L566 369 L581.8 366.7 L581.8 366.7 L566 369 L559 370 L552 371 L543.3 375 L534.3 378.2 L525.9 382.9 L517.4 387.7 L511.4 391.3 L505.4 395 L499.4 398.7 L492.7 401.7 L486 404.7 L479.3 407.7 L472.6 410.7 L465.8 413.7 L459.1 416.7 L452.3 419.7 L443.6 422.8 L434.9 425.8 L426.3 428.7 L418.7 431 L411.3 434 L404 437 L389.2 443.1Z" fill="#747474" filter="url(#b1_5)" style="mix-blend-mode:lighten"/>
<path d="M389.2 443.1 L404 437 L411.3 434 L418.7 431 L426 428 L434.7 425 L443.3 422 L451.7 418.3 L458.4 415.3 L465.2 412.3 L471.9 409.3 L478.7 406.3 L485.3 403.3 L492 400.3 L498.6 397.3 L504.6 393.7 L510.6 390 L516.6 386.3 L525.1 381.6 L534 377.5 L543 374.2 L552 371 L559 370 L566 369 L581.8 366.7 L581.8 366.7 L566 369 L559 370 L552 371 L543 374.2 L534 377.5 L526.1 383.2 L517.8 388.3 L511.7 391.8 L505.5 395.2 L499.5 399 L492.9 402.3 L486.4 405.5 L479.8 408.7 L473.1 412 L466.4 415 L459.3 417.3 L452.2 419.5 L443.3 422 L434.7 425 L426 428 L418.7 431 L411.3 434 L404 437 L389.2 443.1Z" fill="#7c7c7c" filter="url(#b1_5)"/>
<path d="M389.2 443.1 L404 437 L411.3 434 L418.7 431 L426 428 L434.7 425 L443.3 422 L451.8 418.6 L458.2 414.8 L464.7 411.2 L471.5 408.2 L478.3 405.4 L485.1 402.6 L491.8 399.8 L498.5 397.1 L504.5 393.6 L510.4 389.7 L516.3 385.8 L525 381.4 L534 377.5 L543 374.2 L552 371 L559 370 L566 369 L581.8 366.7 L581.8 366.7 L566 369 L559 370 L552 371 L543 374.2 L534 377.5 L525.9 382.9 L517.4 387.7 L511.4 391.3 L505.4 395 L499.4 398.7 L492.7 401.7 L486 404.7 L479.3 407.7 L472.6 410.7 L465.8 413.7 L459.1 416.7 L452.3 419.7 L443.3 422 L434.7 425 L426 428 L418.7 431 L411.3 434 L404 437 L389.2 443.1Z" fill="#7c7c7c" filter="url(#b1_5)" style="mix-blend-mode:lighten"/>
<path d="M389.2 443.1 L404 437 L411.3 434 L418.7 431 L426 428 L434.7 425 L443.3 422 L452 419 L458.8 416 L465.2 412.3 L471.9 409.3 L478.7 406.3 L485.7 404 L492.3 401 L499 398 L505 394.3 L511 390.7 L517 387 L525.5 382.2 L534 377.5 L543 374.2 L552 371 L559 370 L566 369 L581.8 366.7 L581.8 366.7 L566 369 L559 370 L552 371 L543 374.2 L534 377.5 L525.5 382.2 L517 387 L511 390.7 L505 394.3 L499 398 L492.3 401 L485.7 404 L479.1 407.3 L472.5 410.5 L465.7 413.5 L458.8 416 L452 419 L443.3 422 L434.7 425 L426 428 L418.7 431 L411.3 434 L404 437 L389.2 443.1Z" fill="#838383" filter="url(#b1_5)"/>
<path d="M389.2 443.1 L404 437 L411.3 434 L418.7 431 L426 428 L434.7 425 L443.3 422 L452 419 L458.8 416 L465.3 412.5 L472 409.5 L478.9 406.8 L485.7 404 L492.3 401 L499 398 L505 394.3 L511 390.7 L517 387 L525.5 382.2 L534 377.5 L543 374.2 L552 371 L559 370 L566 369 L581.8 366.7 L581.8 366.7 L566 369 L559 370 L552 371 L543 374.2 L534 377.5 L525.5 382.2 L517 387 L511 390.7 L505 394.3 L499 398 L492.3 401 L485.7 404 L479.3 407.7 L472.6 410.7 L465.8 413.7 L458.8 416 L452 419 L443.3 422 L434.7 425 L426 428 L418.7 431 L411.3 434 L404 437 L389.2 443.1Z" fill="#838383" filter="url(#b1_5)" style="mix-blend-mode:lighten"/>
<ellipse cx="570" cy="390.5" rx="4" ry="3" fill="#3c3c3c" filter="url(#b1_5)"/>
<ellipse cx="587.5" cy="406" rx="3.5" ry="3" fill="#0c0c0c" transform="rotate(40 587.5 406)" filter="url(#b1_5)"/>
<path d="M470 452 C471.7 445.7 490 445.3 500 440 C510 434.7 520 425.8 530 420 C540 414.2 551.7 406.7 560 405 C568.3 403.3 580 404.8 580 410 C580 415.2 568.3 427.3 560 436 C551.7 444.7 538.7 453.3 530 462 C521.3 470.7 514.7 485.3 508 488 C501.3 490.7 496.3 484 490 478 C483.7 472 468.3 458.3 470 452Z" fill="#686868" filter="url(#b6)"/>
<ellipse cx="508" cy="468" rx="14" ry="10" fill="#787878" transform="rotate(-40 508 468)" filter="url(#b4)"/>
<ellipse cx="566" cy="425" rx="8" ry="6" fill="#787878" transform="rotate(-40 566 425)" filter="url(#b3)"/>
<ellipse cx="541" cy="414" rx="14" ry="8" fill="#585858" transform="rotate(-30 541 414)" filter="url(#b4)"/>
<ellipse cx="477" cy="431" rx="4" ry="3" fill="#3c3c3c" filter="url(#b1_5)"/>
<ellipse cx="489" cy="428" rx="3" ry="2.5" fill="#404040" filter="url(#b1_5)"/>
<ellipse cx="506" cy="422" rx="3" ry="2.5" fill="#404040" filter="url(#b1_5)"/>
<ellipse cx="474" cy="461" rx="8" ry="4" fill="#1c1c1c" transform="rotate(40 474 461)" filter="url(#b2)"/>
</g>
<path d="M143 190.2 L152 191.2 L160 192.7 L168 195.2 L174 196.7 L180 198.2 L186 196.7 L192 195.2 L198 193.4 L204 191.7 L210 190.7 L216 189.7 L222 189.4 L228 189.2 L238 188.2 L247 186.2 L256 187.2 L266 188.2 L277 190.2 L286 189.2 L294 185.2 L303 181.7 L312 180.7 L322 183.2 L331 183.7 L340 184.2 L338.4 213.2 L329.4 212.7 L317.5 211.8 L309.7 209.6 L310 209.8 L305.7 211.7 L294.2 217 L275.6 219.2 L261.9 216.9 L253 216 L248.6 215.2 L242.5 216.8 L230.3 218.1 L223.2 218.4 L219 218.5 L214.8 219.3 L210.5 220 L206.1 221.3 L199.6 223.2 L193 224.8 L180 227.2 L167 224.8 L160 223.1 L153 220.8 L147.8 219.9 L139.8 219Z" fill="#06120e" opacity="0.56" filter="url(#b4)"/>
<ellipse cx="262" cy="236" rx="5" ry="7" fill="#06120e" transform="rotate(20 262 236)" filter="url(#b2)" opacity="0.55"/>
<ellipse cx="247" cy="226" rx="4" ry="6" fill="#06120e" transform="rotate(-20 247 226)" filter="url(#b2)" opacity="0.4"/>
<ellipse cx="274" cy="246" rx="6" ry="5" fill="#06120e" filter="url(#b3)" opacity="0.4"/>
<path d="M262.3 299.4 L270.3 293.9 L280.3 287.4 L286.3 283.7 L292.2 279.9 L298.7 277 L305.2 274 L312.7 271.2 L320.2 268.4 L327.6 262.6 L334.9 256.9 L342.9 251.9 L350.9 246.9 L357.2 244 L363.4 241 L369.6 237.9 L376.9 233.9 L384.2 229.9 L390.2 226.7 L396.2 223.4 L407.9 245 L401.9 248.2 L396 251.5 L388.7 255.4 L380.9 259.7 L374 263 L367.8 266 L362.9 268.3 L355.8 272.7 L348.9 277 L342.8 281.9 L332.5 289.7 L321.1 294.2 L314.5 296.6 L309 299.2 L303.9 301.5 L299.2 304.4 L293.5 308.1 L283.9 314.3 L276.2 319.6Z" fill="#06120e" opacity="0.49" filter="url(#b3)"/>
<path d="M417 262.6 C419.4 262 424.8 263.8 429.1 266.1 C433.4 268.4 438.9 273 443 276.5 C447.1 280 454.1 284.7 453.5 287 C452.9 289.3 444 290.7 439.6 290.4 C435.2 290.1 430.6 284.9 427.4 285.2 C424.2 285.5 422.7 289.9 420.4 292.2 C418.1 294.5 415.5 298.8 413.5 299.1 C411.5 299.4 408.7 297.1 408.5 293.9 C408.3 290.7 411.5 284.1 412.5 280 C413.5 275.9 413.9 272.5 414.6 269.6 C415.4 266.7 414.6 263.2 417 262.6Z" fill="#06120e" filter="url(#b3)" opacity="0.82"/>
<path d="M384 272 L398 262" fill="none" stroke="#06120e" stroke-width="7" stroke-linecap="round" stroke-linejoin="round" filter="url(#b3)" opacity="0.35"/>
<path d="M416 304 C419 303 428 299.3 434 298 C440 296.7 449 296.3 452 296" fill="none" stroke="#06120e" stroke-width="8" stroke-linecap="round" stroke-linejoin="round" filter="url(#b3)" opacity="0.5"/>
<path d="M326 354 L332 352 L338 350 L345 347 L352 344 L359 341 L366 338 L372.7 336 L379.3 334 L386 332 L394 330.3 L402 328.7 L410 327 L418.7 326.7 L427.3 326.3 L436 326 L436.3 333 L427.7 336.1 L419.2 339.3 L411.7 341.3 L405.1 343.5 L397.3 346 L389.9 347.5 L383.9 349.3 L377.2 351.1 L371.3 352.5 L364.9 354.8 L357.6 357.1 L350.3 359.3 L342.5 361.6 L335.5 362.6 L329.2 363.5Z" fill="#06120e" opacity="0.82" filter="url(#b2)"/>
<path d="M380.3 388.4 L388.8 383 L398.2 378.4 L407.4 373.8 L413.6 371.3 L419.9 368.8 L426 366.4 L435.3 364.2 L444.7 362 L451.3 357.1 L457.8 352.3 L462.5 346.2 L467.1 340.2 L472.6 337.3 L478.2 334.5 L484.7 332.3 L491.1 330.1 L497.4 330.8 L503.9 331.5 L513.9 334.5 L507.7 355.1 L498.8 354.2 L494.8 355.3 L494 355.2 L492.8 356.4 L488.1 358 L484.1 359.6 L483.2 358.6 L481.5 360.7 L474.1 368.9 L464.8 375.4 L453.7 382.2 L440.3 385.2 L432.1 386.5 L427.3 387.7 L420.7 389.1 L414.9 389.8 L405.4 392.7 L396 395.9 L387.4 399.9Z" fill="#06120e" opacity="0.49" filter="url(#b3)"/>
<path d="M424 402 C426.3 401.6 433.7 400.8 438 399.5 C442.3 398.2 446.3 395.9 450 394 C453.7 392.1 456.7 389.5 460 388 C463.3 386.5 468.3 385.5 470 385" fill="none" stroke="#06120e" stroke-width="9" stroke-linecap="round" stroke-linejoin="round" filter="url(#b2)" opacity="0.85"/>
<path d="M458 372 C460 372.3 467 372 470 374 C473 376 475 382.3 476 384" fill="none" stroke="#06120e" stroke-width="7" stroke-linecap="round" stroke-linejoin="round" filter="url(#b3)" opacity="0.5"/>
<path d="M404 437 L411.3 434 L418.7 431 L426 428 L434.7 425 L443.3 422 L452 419 L458.8 416 L465.5 413 L472.2 410 L479 407 L485.7 404 L492.3 401 L499 398 L505 394.3 L511 390.7 L517 387 L525.5 382.2 L534 377.5 L543 374.2 L552 371 L559 370 L566 369 L568.1 383.8 L561.3 385.9 L556.4 387.6 L549.2 391.4 L541.9 394.7 L535.1 399.4 L527.1 404.5 L521.7 408.2 L515.9 412.2 L508.8 416.6 L501 420.2 L494.3 423.2 L487.4 425.8 L480.5 428.5 L473.5 431.1 L466.5 433.4 L458.7 436.1 L449 438.5 L440 440.5 L431.4 442.3 L424 444.1 L416.3 446.1 L408.5 448.1Z" fill="#06120e" opacity="0.82" filter="url(#b3)"/>
<path d="M518 342 C521 343.7 530.3 348.3 536 352 C541.7 355.7 547.7 360.3 552 364 C556.3 367.7 560.3 372.3 562 374" fill="none" stroke="#06120e" stroke-width="12" stroke-linecap="round" stroke-linejoin="round" filter="url(#b3)" opacity="0.78"/>
<ellipse cx="545" cy="431" rx="5" ry="4" fill="#06120e" filter="url(#b2)" opacity="0.7"/>
<ellipse cx="494" cy="446" rx="5" ry="4" fill="#06120e" filter="url(#b2)" opacity="0.55"/>
<ellipse cx="562" cy="431" rx="4" ry="3" fill="#06120e" filter="url(#b2)" opacity="0.5"/>
<path d="M496 470 L502 480" fill="none" stroke="#06120e" stroke-width="4" stroke-linecap="round" stroke-linejoin="round" filter="url(#b2)" opacity="0.4"/>
<path d="M231 93 C233.5 95.2 240.8 101.3 246 106 C251.2 110.7 256 115.5 262 121 C268 126.5 278.7 136 282 139" fill="none" stroke="#06120e" stroke-width="8" stroke-linecap="round" stroke-linejoin="round" filter="url(#b2)" opacity="0.62"/>
<ellipse cx="235" cy="99" rx="11" ry="7" fill="#06120e" transform="rotate(40 235 99)" filter="url(#b2)" opacity="0.6"/>
<path d="M150 183 C153.3 179.2 163.3 167.8 170 160 C176.7 152.2 184 143 190 136 C196 129 203.3 121 206 118" fill="none" stroke="#06120e" stroke-width="4" stroke-linecap="round" stroke-linejoin="round" filter="url(#b2)" opacity="0.45"/>
<rect x="100" y="60" width="540" height="460" fill="#06120e" opacity="0.1"/>
</g>
<path d="M136.2 230.7 C138.2 229 145.2 223.3 148.5 220.3 C151.8 217.3 154.1 215.1 155.9 212.8 C157.8 210.5 159 207.6 159.6 206.5" fill="none" stroke="#38302a" stroke-width="2.0" stroke-linecap="butt" stroke-linejoin="round" stroke-dasharray="3.7 2.4"/>
<path d="M139.5 245.5 C141.6 243.5 148.2 236.6 152.2 233.3 C156.2 230 159.1 228.1 163.4 225.9 C167.8 223.7 175.8 221.2 178.3 220.3" fill="none" stroke="#38302a" stroke-width="2.0" stroke-linecap="butt" stroke-linejoin="round" stroke-dasharray="3.7 2.4"/>
<path d="M167.1 263.9 C169.3 262.2 176.4 257.4 180.1 253.8 C183.8 250.2 186.8 246.3 189.5 242.6 C192.2 238.9 195.1 233.3 196.2 231.4" fill="none" stroke="#38302a" stroke-width="2.0" stroke-linecap="butt" stroke-linejoin="round" stroke-dasharray="3.7 2.4"/>
<path d="M208.3 288.9 C209.6 287.8 213.1 284.2 216.1 282.6 C219.1 281 222.6 280.3 226.5 279.5 C230.4 278.7 236.1 279.2 239.6 278 C243.1 276.8 244.8 274.4 247.4 272 C250 269.6 252.8 265.6 255.2 263.4 C257.6 261.1 259.8 259.7 262 258.5 C264.2 257.3 267.2 256.7 268.3 256.3" fill="none" stroke="#38302a" stroke-width="2.0" stroke-linecap="butt" stroke-linejoin="round" stroke-dasharray="3.7 2.4"/>
<path d="M214 293.8 C217.4 293.5 229.1 292.9 234.4 292.2 C239.7 291.5 242.7 290.7 246 289.6 C249.3 288.5 251.2 287.8 254 285.5 C256.8 283.2 260.3 279.1 263 275.9 C265.7 272.6 268 268.6 270 266 C272 263.4 274 261.2 274.8 260.2" fill="none" stroke="#38302a" stroke-width="2.0" stroke-linecap="butt" stroke-linejoin="round" stroke-dasharray="3.7 2.4"/>
<path d="M233.5 306 C234.6 305.6 236.9 304.8 240 303.5 C243.1 302.2 247.7 299.4 252 298.4 C256.3 297.4 261.2 298.2 265.8 297.4 C270.4 296.6 275.8 295.4 279.8 293.4 C283.8 291.4 286.9 287.2 289.7 285.4 C292.5 283.6 295.5 282.9 296.7 282.4" fill="none" stroke="#2e2e2e" stroke-width="2.0" stroke-linecap="round" stroke-linejoin="round"/>
<path d="M244.8 318.9 C245.5 318.4 247.3 316.9 249 316 C250.7 315.1 251.5 314.6 255.2 313.7 C258.8 312.8 265.7 311.2 270.9 310.5 C276.1 309.8 280.4 310.6 286.5 309.6 C292.6 308.6 301.8 306.1 307.4 304.6 C313 303.1 318.2 301.4 320.4 300.7" fill="none" stroke="#38302a" stroke-width="2.0" stroke-linecap="butt" stroke-linejoin="round" stroke-dasharray="3.7 2.4"/>
<path d="M280 340.6 C282.1 339.6 288.7 337.4 292.4 334.3 C296.1 331.2 299.1 325.5 302.4 322 C305.7 318.5 309.2 315.3 312.3 313.2 C315.4 311.1 319.6 310.1 321 309.5" fill="none" stroke="#38302a" stroke-width="2.0" stroke-linecap="butt" stroke-linejoin="round" stroke-dasharray="3.7 2.4"/>
<path d="M280 309 C281.9 307.7 287.8 304.1 291.7 301.3 C295.6 298.5 301.6 293.9 303.6 292.4" fill="none" stroke="#38302a" stroke-width="2.0" stroke-linecap="butt" stroke-linejoin="round" stroke-dasharray="3.7 2.4"/>
<path d="M319.8 359.2 C321.4 358.8 325.6 357.9 329.7 356.7 C333.8 355.4 340.1 354.2 344.6 351.7 C349.2 349.2 352.4 344.5 357 341.8 C361.6 339.1 367.1 337.2 371.9 335.6 C376.7 334 383.3 332.5 385.6 331.9" fill="none" stroke="#2e2e2e" stroke-width="2.0" stroke-linecap="round" stroke-linejoin="round"/>
<path d="M378.6 390.6 C380.1 389.8 383.4 387.8 387.3 385.7 C391.2 383.6 397.2 380.5 402.2 378.2 C407.2 375.9 411.3 374.7 417.1 372 C422.9 369.3 433.7 363.7 437 362" fill="none" stroke="#2e2e2e" stroke-width="2.0" stroke-linecap="round" stroke-linejoin="round"/>
<path d="M386 408 C387.9 407.4 393.4 405.3 397.3 404.3 C401.2 403.3 403.9 402.9 409.7 401.8 C415.5 400.8 426.2 399.2 432 398 C437.8 396.8 441.2 396.4 444.5 394.3 C447.8 392.2 449.5 387.8 452 385.7 C454.5 383.6 458.2 382.6 459.4 382" fill="none" stroke="#2e2e2e" stroke-width="2.0" stroke-linecap="round" stroke-linejoin="round"/>
<path d="M412.2 429.9 C413.4 428.5 415.9 424.5 419.6 421.7 C423.3 418.9 428.7 416.3 434.5 413 C440.3 409.7 447.8 405.1 454.4 401.8 C461 398.5 471 394.6 474.3 393.1" fill="none" stroke="#38302a" stroke-width="2.0" stroke-linecap="butt" stroke-linejoin="round" stroke-dasharray="3.7 2.4"/>
<path d="M420.9 424.9 C424.4 423.6 435.6 419 442 417.2 C448.4 415.4 453.6 415 459.4 414.2 C465.2 413.4 473.9 412.5 476.8 412.2" fill="none" stroke="#2e2e2e" stroke-width="2.0" stroke-linecap="round" stroke-linejoin="round"/>
<path d="M436.3 467.3 C437.2 466.2 439.9 462.9 442 461 C444.1 459.1 444.4 456.9 448.8 455.9 C453.2 454.9 460.4 455.1 468.6 454.8 C476.8 454.5 491 454.8 498.2 454.1 C505.4 453.4 507.5 452.6 511.6 450.7 C515.7 448.8 519.4 445.3 522.8 442.9 C526.1 440.5 530.2 437.3 531.7 436.2" fill="none" stroke="#2e2e2e" stroke-width="2.0" stroke-linecap="round" stroke-linejoin="round"/>
<text x="311" y="278.6" text-anchor="middle" font-size="18.5" fill="#2e2e2e">6</text>
<text x="396.8" y="331" text-anchor="middle" font-size="18.5" fill="#2e2e2e">5</text>
<text x="445.7" y="362.3" text-anchor="middle" font-size="18.5" fill="#2e2e2e">4</text>
<text x="466.8" y="383.5" text-anchor="middle" font-size="18.5" fill="#2e2e2e">3</text>
<text x="496.6" y="402.2" text-anchor="middle" font-size="18.5" fill="#2e2e2e">2</text>
<text x="536.2" y="435" text-anchor="middle" font-size="18.5" fill="#2e2e2e">1</text>
<rect x="125.65" y="554.4" width="1.3" height="5.2" fill="#7c7c7c"/>
<rect x="126.3" y="37.85" width="5.2" height="1.3" fill="#7c7c7c"/>
<rect x="200.05" y="554.4" width="1.3" height="5.2" fill="#7c7c7c"/>
<rect x="126.3" y="112.29" width="5.2" height="1.3" fill="#7c7c7c"/>
<rect x="274.45" y="554.4" width="1.3" height="5.2" fill="#7c7c7c"/>
<rect x="126.3" y="186.74" width="5.2" height="1.3" fill="#7c7c7c"/>
<rect x="348.85" y="554.4" width="1.3" height="5.2" fill="#7c7c7c"/>
<rect x="126.3" y="261.18" width="5.2" height="1.3" fill="#7c7c7c"/>
<rect x="423.25" y="554.4" width="1.3" height="5.2" fill="#7c7c7c"/>
<rect x="126.3" y="335.62" width="5.2" height="1.3" fill="#7c7c7c"/>
<rect x="497.65" y="554.4" width="1.3" height="5.2" fill="#7c7c7c"/>
<rect x="126.3" y="410.06" width="5.2" height="1.3" fill="#7c7c7c"/>
<rect x="572.05" y="554.4" width="1.3" height="5.2" fill="#7c7c7c"/>
<rect x="126.3" y="484.51" width="5.2" height="1.3" fill="#7c7c7c"/>
<rect x="646.45" y="554.4" width="1.3" height="5.2" fill="#7c7c7c"/>
<rect x="126.3" y="558.95" width="5.2" height="1.3" fill="#7c7c7c"/>
<rect x="125.55" y="37.9" width="1.5" height="522.45" fill="#7c7c7c"/>
<rect x="125.55" y="558.85" width="522.2" height="1.5" fill="#7c7c7c"/>
<text x="126.1" y="589" text-anchor="middle" font-size="20.5" fill="#454545">4.658</text>
<text x="117.9" y="46.8" text-anchor="end" font-size="20.5" fill="#454545">5.4081</text>
<text x="200.5" y="589" text-anchor="middle" font-size="20.5" fill="#454545">4.659</text>
<text x="117.9" y="121.24" text-anchor="end" font-size="20.5" fill="#454545">5.408</text>
<text x="274.9" y="589" text-anchor="middle" font-size="20.5" fill="#454545">4.66</text>
<text x="117.9" y="195.69" text-anchor="end" font-size="20.5" fill="#454545">5.4079</text>
<text x="349.3" y="589" text-anchor="middle" font-size="20.5" fill="#454545">4.661</text>
<text x="117.9" y="270.13" text-anchor="end" font-size="20.5" fill="#454545">5.4078</text>
<text x="423.7" y="589" text-anchor="middle" font-size="20.5" fill="#454545">4.662</text>
<text x="117.9" y="344.57" text-anchor="end" font-size="20.5" fill="#454545">5.4077</text>
<text x="498.1" y="589" text-anchor="middle" font-size="20.5" fill="#454545">4.663</text>
<text x="117.9" y="419.01" text-anchor="end" font-size="20.5" fill="#454545">5.4076</text>
<text x="572.5" y="589" text-anchor="middle" font-size="20.5" fill="#454545">4.664</text>
<text x="117.9" y="493.46" text-anchor="end" font-size="20.5" fill="#454545">5.4075</text>
<text x="646.9" y="589" text-anchor="middle" font-size="20.5" fill="#454545">4.665</text>
<text x="117.9" y="567.9" text-anchor="end" font-size="20.5" fill="#454545">5.4074</text>
<text x="386.4" y="618.9" text-anchor="middle" font-size="22.5" fill="#454545">UTM m</text>
<text transform="translate(44.2 299.65) rotate(-90)" text-anchor="middle" font-size="22.5" fill="#454545">UTM m</text>
<path d="M129.7 33.8L140.1 23.4M129.7 23.4L140.1 33.8" stroke="#454545" stroke-width="1.1" fill="none"/>
<text x="144.2" y="33.6" font-size="20" fill="#454545">10</text>
<text x="165.6" y="24" font-size="16" fill="#454545">6</text>
<path d="M601.6 622L612 611.6M601.6 611.6L612 622" stroke="#454545" stroke-width="1.1" fill="none"/>
<text x="615.6" y="621.9" font-size="20" fill="#454545">10</text>
<text x="637.5" y="613.8" font-size="16" fill="#454545">5</text><rect x="689.3" y="543.32" width="33.1" height="16.68" fill="#080078"/>
<rect x="689.3" y="527.03" width="33.1" height="16.68" fill="#280090"/>
<rect x="689.3" y="510.75" width="33.1" height="16.68" fill="#1808a4"/>
<rect x="689.3" y="494.46" width="33.1" height="16.68" fill="#0008c8"/>
<rect x="689.3" y="478.18" width="33.1" height="16.68" fill="#0418d0"/>
<rect x="689.3" y="461.89" width="33.1" height="16.68" fill="#0428dc"/>
<rect x="689.3" y="445.61" width="33.1" height="16.68" fill="#1c64f0"/>
<rect x="689.3" y="429.33" width="33.1" height="16.68" fill="#1484f8"/>
<rect x="689.3" y="413.04" width="33.1" height="16.68" fill="#18a8fc"/>
<rect x="689.3" y="396.76" width="33.1" height="16.68" fill="#30b8fc"/>
<rect x="689.3" y="380.47" width="33.1" height="16.68" fill="#44c4ff"/>
<rect x="689.3" y="364.19" width="33.1" height="16.68" fill="#60dcf0"/>
<rect x="689.3" y="347.9" width="33.1" height="16.68" fill="#68e8e0"/>
<rect x="689.3" y="331.62" width="33.1" height="16.68" fill="#7ce8c8"/>
<rect x="689.3" y="315.33" width="33.1" height="16.68" fill="#88e8b0"/>
<rect x="689.3" y="299.05" width="33.1" height="16.68" fill="#a8f0a4"/>
<rect x="689.3" y="282.77" width="33.1" height="16.68" fill="#c8fc9c"/>
<rect x="689.3" y="266.48" width="33.1" height="16.68" fill="#dcf088"/>
<rect x="689.3" y="250.2" width="33.1" height="16.68" fill="#ece878"/>
<rect x="689.3" y="233.91" width="33.1" height="16.68" fill="#f4d468"/>
<rect x="689.3" y="217.63" width="33.1" height="16.68" fill="#ffb858"/>
<rect x="689.3" y="201.34" width="33.1" height="16.68" fill="#ffa040"/>
<rect x="689.3" y="185.06" width="33.1" height="16.68" fill="#f4744c"/>
<rect x="689.3" y="168.77" width="33.1" height="16.68" fill="#ee5050"/>
<rect x="689.3" y="152.49" width="33.1" height="16.68" fill="#fc5858"/>
<rect x="689.3" y="136.21" width="33.1" height="16.68" fill="#ff7c7c"/>
<rect x="689.3" y="119.92" width="33.1" height="16.68" fill="#ff9c9c"/>
<rect x="689.3" y="103.64" width="33.1" height="16.68" fill="#f4b4b0"/>
<rect x="689.3" y="87.35" width="33.1" height="16.68" fill="#ffc4c4"/>
<rect x="689.3" y="71.07" width="33.1" height="16.68" fill="#ffd8d8"/>
<rect x="689.3" y="54.78" width="33.1" height="16.68" fill="#ffecec"/>
<rect x="689.3" y="38.5" width="33.1" height="16.68" fill="#ffffff"/>
<rect x="689.3" y="38.5" width="33.1" height="521.1" fill="none" stroke="#5a5a5a" stroke-width="1.2"/>
<rect x="717" y="75.68" width="5.4" height="1.3" fill="#555"/>
<text x="729.4" y="84.13" font-size="20.5" fill="#454545">50</text>
<rect x="717" y="138.41" width="5.4" height="1.3" fill="#555"/>
<text x="729.4" y="146.86" font-size="20.5" fill="#454545">40</text>
<rect x="717" y="201.14" width="5.4" height="1.3" fill="#555"/>
<text x="729.4" y="209.59" font-size="20.5" fill="#454545">30</text>
<rect x="717" y="263.87" width="5.4" height="1.3" fill="#555"/>
<text x="729.4" y="272.32" font-size="20.5" fill="#454545">20</text>
<rect x="717" y="326.6" width="5.4" height="1.3" fill="#555"/>
<text x="729.4" y="335.05" font-size="20.5" fill="#454545">10</text>
<rect x="717" y="389.33" width="5.4" height="1.3" fill="#555"/>
<text x="729.4" y="397.78" font-size="20.5" fill="#454545">0</text>
<rect x="717" y="452.06" width="5.4" height="1.3" fill="#555"/>
<text x="729.4" y="460.51" font-size="20.5" fill="#454545">-10</text>
<rect x="717" y="514.79" width="5.4" height="1.3" fill="#555"/>
<text x="729.4" y="523.24" font-size="20.5" fill="#454545">-20</text>
<text transform="translate(789.2 295.6) rotate(-90)" text-anchor="middle" font-size="22.4" font-weight="bold" fill="#000">Discrete Vertical Gradient (nT/m)</text></g>
<g id="panelB" transform="translate(-1.6 626.4)">
<text x="13.2" y="51.2" font-size="42" fill="#222">b)</text>
<rect x="126.3" y="37.9" width="520.8" height="1.2" fill="#e3e3e3"/>
<rect x="200.1" y="38.5" width="1.2" height="521.1" fill="#e3e3e3"/>
<rect x="126.3" y="112.34" width="520.8" height="1.2" fill="#e3e3e3"/>
<rect x="274.5" y="38.5" width="1.2" height="521.1" fill="#e3e3e3"/>
<rect x="126.3" y="186.79" width="520.8" height="1.2" fill="#e3e3e3"/>
<rect x="348.9" y="38.5" width="1.2" height="521.1" fill="#e3e3e3"/>
<rect x="126.3" y="261.23" width="520.8" height="1.2" fill="#e3e3e3"/>
<rect x="423.3" y="38.5" width="1.2" height="521.1" fill="#e3e3e3"/>
<rect x="126.3" y="335.67" width="520.8" height="1.2" fill="#e3e3e3"/>
<rect x="497.7" y="38.5" width="1.2" height="521.1" fill="#e3e3e3"/>
<rect x="126.3" y="410.11" width="520.8" height="1.2" fill="#e3e3e3"/>
<rect x="572.1" y="38.5" width="1.2" height="521.1" fill="#e3e3e3"/>
<rect x="126.3" y="484.56" width="520.8" height="1.2" fill="#e3e3e3"/>
<rect x="646.5" y="38.5" width="1.2" height="521.1" fill="#e3e3e3"/><g clip-path="url(#clipB)">
<g filter="url(#cmap)">
<rect x="100" y="60" width="540" height="460" fill="#626262"/>
<path d="M232 86 C221.7 87 210.3 110 200 122 C189.7 134 170 151.7 170 158 C170 164.3 188.3 163 200 160 C211.7 157 227.5 143.7 240 140 C252.5 136.3 271.3 142 275 138 C278.7 134 269.2 124.7 262 116 C254.8 107.3 242.3 85 232 86Z" fill="#505050" filter="url(#b6)"/>
<path d="M126 201.1 L135.9 199.2 L143.9 197.7 L151.9 196.2 L159.9 194.7 L167.9 193.2 L175.9 191.7 L183.9 190.2 L191.9 188.7 L199.9 187.2 L207.4 186.3 L214.9 185.5 L222.4 184.6 L229.9 183.7 L237.4 182.8 L244.9 182 L252.4 181.1 L259.9 180.2 L267.5 179.1 L275.2 178 L282.8 176.9 L290.4 175.8 L298.1 174.8 L305.7 173.7 L313.3 172.6 L321 171.5 L328.6 170.4 L336.3 169.3 L343.9 168.2 L353.8 166.8 L356.8 187.6 L346.9 189.1 L339.2 190.1 L331.6 191.2 L324 192.3 L316.3 193.4 L308.7 194.5 L301 195.6 L293.4 196.7 L285.8 197.8 L278.1 198.9 L270.5 200 L262.6 201.1 L254.8 202 L247.3 202.9 L239.8 203.7 L232.3 204.6 L224.8 205.5 L217.3 206.4 L209.8 207.2 L203.1 208 L195.7 209.4 L187.7 210.9 L179.7 212.4 L171.7 213.9 L163.7 215.4 L155.7 216.9 L147.7 218.4 L139.7 219.9 L129.9 221.8Z" fill="#4c4c4c" filter="url(#b2_5)"/>
<path d="M118.8 162.5 L128.6 160.7 L136.5 158.5 L144.4 156.4 L152.3 154.2 L160.1 152.1 L168 149.9 L175.9 147.8 L183.8 145.6 L193.1 143.2 L202.2 141.4 L209.6 140.1 L217.1 138.8 L224.5 137.5 L232 136.2 L239.4 134.9 L246.9 133.5 L253.7 132.3 L260.6 130.9 L268.2 129.3 L275.8 128.2 L283.5 127.1 L291.1 126 L298.7 125 L306.4 123.9 L314 122.8 L321.7 121.7 L329.3 120.6 L336.9 119.5 L346.8 118.1 L354 168.4 L344.1 169.8 L336.5 170.9 L328.8 172 L321.2 173.1 L313.6 174.2 L305.9 175.2 L298.3 176.3 L290.7 177.4 L283 178.5 L275.4 179.6 L267.7 180.7 L260.1 181.8 L252.6 182.7 L245.1 183.5 L237.6 184.4 L230.1 185.3 L222.6 186.2 L215.1 187 L207.6 187.9 L200.1 188.8 L192.1 190.3 L184.1 191.8 L176.1 193.3 L168.1 194.8 L160.1 196.3 L152.1 197.8 L144.1 199.3 L136.1 200.8 L126.3 202.6Z" fill="#4c4c4c" filter="url(#b2_5)" style="mix-blend-mode:lighten"/>
<path d="M126 201.1 L135.9 199.2 L143.9 197.7 L151.9 196.2 L159.9 194.7 L167.9 193.2 L175.9 191.7 L183.9 190.2 L191.9 188.7 L199.9 187.2 L207.4 186.3 L214.9 185.5 L222.4 184.6 L229.9 183.7 L237.4 182.8 L244.9 182 L252.4 181.1 L259.9 180.2 L267.5 179.1 L275.2 178 L282.8 176.9 L290.4 175.8 L298.1 174.8 L305.7 173.7 L313.3 172.6 L321 171.5 L328.6 170.4 L336.3 169.3 L343.9 168.2 L353.8 166.8 L356.4 185.2 L346.5 186.6 L338.9 187.7 L331.2 188.8 L323.6 189.9 L316 191 L308.3 192.1 L300.7 193.2 L293.1 194.3 L285.4 195.4 L277.8 196.4 L270.2 197.5 L262.3 198.7 L254.6 199.6 L247.1 200.4 L239.6 201.3 L232.1 202.2 L224.6 203.1 L217.1 203.9 L209.6 204.8 L202.7 205.6 L195.3 207 L187.3 208.5 L179.3 210 L171.3 211.5 L163.3 213 L155.3 214.5 L147.3 216 L139.3 217.5 L129.5 219.3Z" fill="#545454" filter="url(#b2_5)"/>
<path d="M118.8 162.5 L128.6 160.7 L136.5 158.5 L144.4 156.4 L152.3 154.2 L160.1 152.1 L168 149.9 L175.9 147.8 L183.8 145.6 L193.1 143.2 L202.2 141.4 L209.6 140.1 L217.1 138.8 L224.5 137.5 L232 136.2 L239.4 134.9 L246.9 133.5 L253.7 132.3 L260.6 130.9 L268.2 129.3 L275.8 128.2 L283.5 127.1 L291.1 126 L298.7 125 L306.4 123.9 L314 122.8 L321.7 121.7 L329.3 120.6 L336.9 119.5 L346.8 118.1 L354 168.4 L344.1 169.8 L336.5 170.9 L328.8 172 L321.2 173.1 L313.6 174.2 L305.9 175.2 L298.3 176.3 L290.7 177.4 L283 178.5 L275.4 179.6 L267.7 180.7 L260.1 181.8 L252.6 182.7 L245.1 183.5 L237.6 184.4 L230.1 185.3 L222.6 186.2 L215.1 187 L207.6 187.9 L200.1 188.8 L192.1 190.3 L184.1 191.8 L176.1 193.3 L168.1 194.8 L160.1 196.3 L152.1 197.8 L144.1 199.3 L136.1 200.8 L126.3 202.6Z" fill="#545454" filter="url(#b2_5)" style="mix-blend-mode:lighten"/>
<path d="M126 201.1 L135.9 199.2 L143.9 197.7 L151.9 196.2 L159.9 194.7 L167.9 193.2 L175.9 191.7 L183.9 190.2 L191.9 188.7 L199.9 187.2 L207.4 186.3 L214.9 185.5 L222.4 184.6 L229.9 183.7 L237.4 182.8 L244.9 182 L252.4 181.1 L259.9 180.2 L267.5 179.1 L275.2 178 L282.8 176.9 L290.4 175.8 L298.1 174.8 L305.7 173.7 L313.3 172.6 L321 171.5 L328.6 170.4 L336.3 169.3 L343.9 168.2 L353.8 166.8 L356.1 183.1 L346.2 184.5 L338.6 185.6 L330.9 186.7 L323.3 187.8 L315.7 188.9 L308 190 L300.4 191.1 L292.8 192.2 L285.1 193.3 L277.5 194.3 L269.9 195.4 L262 196.6 L254.3 197.5 L246.8 198.3 L239.3 199.2 L231.8 200.1 L224.3 201 L216.8 201.8 L209.3 202.7 L202.4 203.5 L194.9 204.9 L186.9 206.4 L178.9 207.9 L170.9 209.4 L162.9 210.9 L154.9 212.4 L146.9 213.9 L138.9 215.4 L129.1 217.3Z" fill="#5c5c5c" filter="url(#b2_5)"/>
<path d="M120 168.9 L129.8 167 L137.7 165 L145.6 162.9 L153.5 160.9 L161.4 158.8 L169.3 156.8 L177.2 154.7 L185.1 152.7 L194.2 150.4 L203 148.8 L210.5 147.5 L217.9 146.3 L225.4 145.1 L232.9 143.8 L240.3 142.6 L247.8 141.3 L254.7 140.1 L261.8 138.7 L269.3 137.3 L277 136.2 L284.6 135.1 L292.2 134 L299.9 132.9 L307.5 131.8 L315.2 130.7 L322.8 129.7 L330.4 128.6 L338.1 127.5 L348 126.1 L354 168.4 L344.1 169.8 L336.5 170.9 L328.8 172 L321.2 173.1 L313.6 174.2 L305.9 175.2 L298.3 176.3 L290.7 177.4 L283 178.5 L275.4 179.6 L267.7 180.7 L260.1 181.8 L252.6 182.7 L245.1 183.5 L237.6 184.4 L230.1 185.3 L222.6 186.2 L215.1 187 L207.6 187.9 L200.1 188.8 L192.1 190.3 L184.1 191.8 L176.1 193.3 L168.1 194.8 L160.1 196.3 L152.1 197.8 L144.1 199.3 L136.1 200.8 L126.3 202.6Z" fill="#5c5c5c" filter="url(#b2_5)" style="mix-blend-mode:lighten"/>
<path d="M126 201.1 L135.9 199.2 L143.9 197.7 L151.9 196.2 L159.9 194.7 L167.9 193.2 L175.9 191.7 L183.9 190.2 L191.9 188.7 L199.9 187.2 L207.4 186.3 L214.9 185.5 L222.4 184.6 L229.9 183.7 L237.4 182.8 L244.9 182 L252.4 181.1 L259.9 180.2 L267.5 179.1 L275.2 178 L282.8 176.9 L290.4 175.8 L298.1 174.8 L305.7 173.7 L313.3 172.6 L321 171.5 L328.6 170.4 L336.3 169.3 L343.9 168.2 L353.8 166.8 L355.8 181.2 L345.9 182.6 L338.3 183.7 L330.7 184.8 L323 185.9 L315.4 187 L307.8 188.1 L300.1 189.1 L292.5 190.2 L284.9 191.3 L277.2 192.4 L269.6 193.5 L261.8 194.6 L254.1 195.5 L246.6 196.4 L239.1 197.3 L231.6 198.1 L224.1 199 L216.6 199.9 L209.1 200.8 L202.1 201.6 L194.5 203 L186.5 204.5 L178.5 206 L170.5 207.5 L162.5 209 L154.5 210.5 L146.5 212 L138.5 213.5 L128.7 215.3Z" fill="#646464" filter="url(#b2_5)"/>
<path d="M120.8 173.4 L130.7 171.6 L138.6 169.6 L146.5 167.6 L154.4 165.6 L162.3 163.7 L170.2 161.7 L178.1 159.7 L186 157.7 L195 155.6 L203.6 154.1 L211.1 152.9 L218.6 151.7 L226 150.5 L233.5 149.3 L241 148.1 L248.4 146.9 L255.4 145.8 L262.6 144.4 L270.2 143 L277.8 141.9 L285.4 140.8 L293.1 139.7 L300.7 138.6 L308.3 137.5 L316 136.5 L323.6 135.4 L331.2 134.3 L338.9 133.2 L348.8 131.8 L354 168.4 L344.1 169.8 L336.5 170.9 L328.8 172 L321.2 173.1 L313.6 174.2 L305.9 175.2 L298.3 176.3 L290.7 177.4 L283 178.5 L275.4 179.6 L267.7 180.7 L260.1 181.8 L252.6 182.7 L245.1 183.5 L237.6 184.4 L230.1 185.3 L222.6 186.2 L215.1 187 L207.6 187.9 L200.1 188.8 L192.1 190.3 L184.1 191.8 L176.1 193.3 L168.1 194.8 L160.1 196.3 L152.1 197.8 L144.1 199.3 L136.1 200.8 L126.3 202.6Z" fill="#646464" filter="url(#b2_5)" style="mix-blend-mode:lighten"/>
<path d="M126 201.1 L135.9 199.2 L143.9 197.7 L151.9 196.2 L159.9 194.7 L167.9 193.2 L175.9 191.7 L183.9 190.2 L191.9 188.7 L199.9 187.2 L207.4 186.3 L214.9 185.5 L222.4 184.6 L229.9 183.7 L237.4 182.8 L244.9 182 L252.4 181.1 L259.9 180.2 L267.5 179.1 L275.2 178 L282.8 176.9 L290.4 175.8 L298.1 174.8 L305.7 173.7 L313.3 172.6 L321 171.5 L328.6 170.4 L336.3 169.3 L343.9 168.2 L353.8 166.8 L355.6 179.4 L345.7 180.8 L338 181.9 L330.4 183 L322.8 184 L315.1 185.1 L307.5 186.2 L299.9 187.3 L292.2 188.4 L284.6 189.5 L277 190.6 L269.3 191.7 L261.5 192.8 L253.9 193.7 L246.4 194.6 L238.9 195.4 L231.4 196.3 L223.9 197.2 L216.4 198.1 L208.9 198.9 L201.8 199.8 L194.2 201.2 L186.2 202.7 L178.2 204.2 L170.2 205.7 L162.2 207.2 L154.2 208.7 L146.2 210.2 L138.2 211.7 L128.4 213.5Z" fill="#6c6c6c" filter="url(#b2_5)"/>
<path d="M121.6 177.4 L131.4 175.6 L139.3 173.7 L147.3 171.8 L155.2 169.9 L163.1 168 L171 166.1 L179 164.2 L186.9 162.2 L195.7 160.2 L204.2 158.8 L211.7 157.6 L219.1 156.5 L226.6 155.3 L234.1 154.2 L241.5 153 L249 151.9 L256.1 150.8 L263.3 149.5 L270.9 148.1 L278.5 147 L286.2 145.9 L293.8 144.8 L301.4 143.7 L309.1 142.6 L316.7 141.5 L324.3 140.5 L332 139.4 L339.6 138.3 L349.5 136.9 L354 168.4 L344.1 169.8 L336.5 170.9 L328.8 172 L321.2 173.1 L313.6 174.2 L305.9 175.2 L298.3 176.3 L290.7 177.4 L283 178.5 L275.4 179.6 L267.7 180.7 L260.1 181.8 L252.6 182.7 L245.1 183.5 L237.6 184.4 L230.1 185.3 L222.6 186.2 L215.1 187 L207.6 187.9 L200.1 188.8 L192.1 190.3 L184.1 191.8 L176.1 193.3 L168.1 194.8 L160.1 196.3 L152.1 197.8 L144.1 199.3 L136.1 200.8 L126.3 202.6Z" fill="#6c6c6c" filter="url(#b2_5)" style="mix-blend-mode:lighten"/>
<path d="M126 201.1 L135.9 199.2 L143.9 197.7 L151.9 196.2 L159.9 194.7 L167.9 193.2 L175.9 191.7 L183.9 190.2 L191.9 188.7 L199.9 187.2 L207.4 186.3 L214.9 185.5 L222.4 184.6 L229.9 183.7 L237.4 182.8 L244.9 182 L252.4 181.1 L259.9 180.2 L267.5 179.1 L275.2 178 L282.8 176.9 L290.4 175.8 L298.1 174.8 L305.7 173.7 L313.3 172.6 L321 171.5 L328.6 170.4 L336.3 169.3 L343.9 168.2 L353.8 166.8 L355.3 177.6 L345.4 179 L337.8 180.1 L330.2 181.2 L322.5 182.3 L314.9 183.4 L307.3 184.5 L299.6 185.6 L292 186.7 L284.3 187.8 L276.7 188.9 L269.1 189.9 L261.3 191.1 L253.7 191.9 L246.2 192.8 L238.7 193.7 L231.2 194.6 L223.7 195.4 L216.2 196.3 L208.7 197.2 L201.5 198 L193.9 199.5 L185.9 201 L177.9 202.5 L169.9 204 L161.9 205.5 L153.9 207 L145.9 208.5 L137.9 210 L128 211.8Z" fill="#747474" filter="url(#b2_5)"/>
<path d="M122.3 181.2 L132.1 179.3 L140.1 177.5 L148 175.7 L155.9 173.8 L163.9 172 L171.8 170.1 L179.7 168.3 L187.7 166.4 L196.4 164.5 L204.7 163.1 L212.2 162 L219.6 160.9 L227.1 159.8 L234.6 158.7 L242.1 157.6 L249.5 156.5 L256.7 155.4 L264 154.1 L271.6 152.8 L279.2 151.7 L286.8 150.6 L294.5 149.5 L302.1 148.4 L309.7 147.4 L317.4 146.3 L325 145.2 L332.6 144.1 L340.3 143 L350.2 141.6 L354 168.4 L344.1 169.8 L336.5 170.9 L328.8 172 L321.2 173.1 L313.6 174.2 L305.9 175.2 L298.3 176.3 L290.7 177.4 L283 178.5 L275.4 179.6 L267.7 180.7 L260.1 181.8 L252.6 182.7 L245.1 183.5 L237.6 184.4 L230.1 185.3 L222.6 186.2 L215.1 187 L207.6 187.9 L200.1 188.8 L192.1 190.3 L184.1 191.8 L176.1 193.3 L168.1 194.8 L160.1 196.3 L152.1 197.8 L144.1 199.3 L136.1 200.8 L126.3 202.6Z" fill="#747474" filter="url(#b2_5)" style="mix-blend-mode:lighten"/>
<path d="M126 201.1 L135.9 199.2 L143.9 197.7 L151.9 196.2 L159.9 194.7 L167.9 193.2 L175.9 191.7 L183.9 190.2 L191.9 188.7 L199.9 187.2 L207.4 186.3 L214.9 185.5 L222.4 184.6 L229.9 183.7 L237.4 182.8 L244.9 182 L252.4 181.1 L259.9 180.2 L267.5 179.1 L275.2 178 L282.8 176.9 L290.4 175.8 L298.1 174.8 L305.7 173.7 L313.3 172.6 L321 171.5 L328.6 170.4 L336.3 169.3 L343.9 168.2 L353.8 166.8 L355.1 175.9 L345.2 177.4 L337.6 178.4 L329.9 179.5 L322.3 180.6 L314.6 181.7 L307 182.8 L299.4 183.9 L291.7 185 L284.1 186.1 L276.5 187.2 L268.8 188.3 L261.1 189.4 L253.5 190.3 L246 191.1 L238.5 192 L231 192.9 L223.5 193.8 L216 194.6 L208.5 195.5 L201.3 196.3 L193.6 197.8 L185.6 199.3 L177.6 200.8 L169.6 202.3 L161.6 203.8 L153.6 205.3 L145.6 206.8 L137.6 208.3 L127.7 210.1Z" fill="#7c7c7c" filter="url(#b2_5)"/>
<path d="M123 184.7 L132.8 182.9 L140.7 181.1 L148.7 179.3 L156.6 177.5 L164.6 175.8 L172.5 174 L180.5 172.2 L188.4 170.4 L197 168.5 L205.2 167.2 L212.7 166.2 L220.1 165.1 L227.6 164 L235.1 163 L242.6 161.9 L250 160.8 L257.2 159.8 L264.6 158.6 L272.2 157.3 L279.8 156.2 L287.5 155.1 L295.1 154 L302.7 152.9 L310.4 151.8 L318 150.7 L325.7 149.6 L333.3 148.6 L340.9 147.5 L350.8 146 L354 168.4 L344.1 169.8 L336.5 170.9 L328.8 172 L321.2 173.1 L313.6 174.2 L305.9 175.2 L298.3 176.3 L290.7 177.4 L283 178.5 L275.4 179.6 L267.7 180.7 L260.1 181.8 L252.6 182.7 L245.1 183.5 L237.6 184.4 L230.1 185.3 L222.6 186.2 L215.1 187 L207.6 187.9 L200.1 188.8 L192.1 190.3 L184.1 191.8 L176.1 193.3 L168.1 194.8 L160.1 196.3 L152.1 197.8 L144.1 199.3 L136.1 200.8 L126.3 202.6Z" fill="#7c7c7c" filter="url(#b2_5)" style="mix-blend-mode:lighten"/>
<path d="M126 201.1 L135.9 199.2 L143.9 197.7 L151.9 196.2 L159.9 194.7 L167.9 193.2 L175.9 191.7 L183.9 190.2 L191.9 188.7 L199.9 187.2 L207.4 186.3 L214.9 185.5 L222.4 184.6 L229.9 183.7 L237.4 182.8 L244.9 182 L252.4 181.1 L259.9 180.2 L267.5 179.1 L275.2 178 L282.8 176.9 L290.4 175.8 L298.1 174.8 L305.7 173.7 L313.3 172.6 L321 171.5 L328.6 170.4 L336.3 169.3 L343.9 168.2 L353.8 166.8 L354.9 174.3 L345 175.7 L337.3 176.8 L329.7 177.9 L322.1 179 L314.4 180.1 L306.8 181.2 L299.1 182.3 L291.5 183.4 L283.9 184.5 L276.2 185.5 L268.6 186.6 L260.9 187.7 L253.3 188.6 L245.8 189.5 L238.3 190.4 L230.8 191.2 L223.3 192.1 L215.8 193 L208.3 193.9 L201 194.7 L193.3 196.2 L185.3 197.7 L177.3 199.2 L169.3 200.7 L161.3 202.2 L153.3 203.7 L145.3 205.2 L137.3 206.7 L127.4 208.5Z" fill="#838383" filter="url(#b2_5)"/>
<path d="M123.6 188.1 L133.4 186.3 L141.4 184.6 L149.3 182.8 L157.3 181.1 L165.3 179.4 L173.2 177.6 L181.2 175.9 L189.1 174.2 L197.6 172.4 L205.6 171.2 L213.1 170.2 L220.6 169.1 L228.1 168.1 L235.6 167.1 L243.1 166 L250.5 165 L257.8 164 L265.2 162.8 L272.8 161.6 L280.4 160.5 L288.1 159.4 L295.7 158.3 L303.4 157.2 L311 156.1 L318.6 155 L326.3 153.9 L333.9 152.8 L341.5 151.7 L351.4 150.3 L354 168.4 L344.1 169.8 L336.5 170.9 L328.8 172 L321.2 173.1 L313.6 174.2 L305.9 175.2 L298.3 176.3 L290.7 177.4 L283 178.5 L275.4 179.6 L267.7 180.7 L260.1 181.8 L252.6 182.7 L245.1 183.5 L237.6 184.4 L230.1 185.3 L222.6 186.2 L215.1 187 L207.6 187.9 L200.1 188.8 L192.1 190.3 L184.1 191.8 L176.1 193.3 L168.1 194.8 L160.1 196.3 L152.1 197.8 L144.1 199.3 L136.1 200.8 L126.3 202.6Z" fill="#838383" filter="url(#b2_5)" style="mix-blend-mode:lighten"/>
<path d="M126 201.1 L135.9 199.2 L143.9 197.7 L151.9 196.2 L159.9 194.7 L167.9 193.2 L175.9 191.7 L183.9 190.2 L191.9 188.7 L199.9 187.2 L207.4 186.3 L214.9 185.5 L222.4 184.6 L229.9 183.7 L237.4 182.8 L244.9 182 L252.4 181.1 L259.9 180.2 L267.5 179.1 L275.2 178 L282.8 176.9 L290.4 175.8 L298.1 174.8 L305.7 173.7 L313.3 172.6 L321 171.5 L328.6 170.4 L336.3 169.3 L343.9 168.2 L353.8 166.8 L354.6 172.7 L344.7 174.1 L337.1 175.2 L329.5 176.3 L321.8 177.4 L314.2 178.5 L306.6 179.6 L298.9 180.7 L291.3 181.8 L283.6 182.9 L276 184 L268.4 185 L260.7 186.1 L253.1 187 L245.6 187.9 L238.1 188.8 L230.6 189.7 L223.1 190.5 L215.6 191.4 L208.1 192.3 L200.8 193.1 L193 194.6 L185 196.1 L177 197.6 L169 199.1 L161 200.6 L153 202.1 L145 203.6 L137 205.1 L127.1 206.9Z" fill="#8b8b8b" filter="url(#b2_5)"/>
<path d="M124.2 191.4 L134 189.6 L142 187.9 L150 186.2 L157.9 184.5 L165.9 182.9 L173.9 181.2 L181.8 179.5 L189.8 177.8 L198.2 176.1 L206.1 175 L213.6 174 L221.1 173 L228.5 172 L236 171 L243.5 170 L251 169 L258.3 168.1 L265.8 166.9 L273.4 165.7 L281 164.6 L288.7 163.5 L296.3 162.4 L303.9 161.3 L311.6 160.2 L319.2 159.1 L326.8 158 L334.5 156.9 L342.1 155.8 L352 154.4 L354 168.4 L344.1 169.8 L336.5 170.9 L328.8 172 L321.2 173.1 L313.6 174.2 L305.9 175.2 L298.3 176.3 L290.7 177.4 L283 178.5 L275.4 179.6 L267.7 180.7 L260.1 181.8 L252.6 182.7 L245.1 183.5 L237.6 184.4 L230.1 185.3 L222.6 186.2 L215.1 187 L207.6 187.9 L200.1 188.8 L192.1 190.3 L184.1 191.8 L176.1 193.3 L168.1 194.8 L160.1 196.3 L152.1 197.8 L144.1 199.3 L136.1 200.8 L126.3 202.6Z" fill="#8b8b8b" filter="url(#b2_5)" style="mix-blend-mode:lighten"/>
<path d="M126 201.1 L135.9 199.2 L143.9 197.7 L151.9 196.2 L159.9 194.7 L167.9 193.2 L175.9 191.7 L183.9 190.2 L191.9 188.7 L199.9 187.2 L207.4 186.3 L214.9 185.5 L222.4 184.6 L229.9 183.7 L237.4 182.8 L244.9 182 L252.4 181.1 L259.9 180.2 L267.5 179.1 L275.2 178 L282.8 176.9 L290.4 175.8 L298.1 174.8 L305.7 173.7 L313.3 172.6 L321 171.5 L328.6 170.4 L336.3 169.3 L343.9 168.2 L353.8 166.8 L354.4 171.2 L344.5 172.6 L336.9 173.7 L329.2 174.8 L321.6 175.9 L314 177 L306.3 178 L298.7 179.1 L291.1 180.2 L283.4 181.3 L275.8 182.4 L268.1 183.5 L260.5 184.6 L252.9 185.5 L245.4 186.4 L237.9 187.2 L230.4 188.1 L222.9 189 L215.4 189.9 L207.9 190.7 L200.5 191.6 L192.7 193.1 L184.7 194.6 L176.7 196.1 L168.7 197.6 L160.7 199.1 L152.7 200.6 L144.7 202.1 L136.7 203.6 L126.8 205.4Z" fill="#939393" filter="url(#b2_5)"/>
<path d="M124.8 194.6 L134.6 192.7 L142.6 191.1 L150.6 189.5 L158.6 187.9 L166.5 186.2 L174.5 184.6 L182.5 183 L190.5 181.4 L198.7 179.7 L206.5 178.7 L214 177.7 L221.5 176.8 L229 175.8 L236.5 174.8 L244 173.9 L251.5 172.9 L258.8 172 L266.3 170.8 L274 169.7 L281.6 168.6 L289.2 167.5 L296.9 166.4 L304.5 165.3 L312.1 164.2 L319.8 163.1 L327.4 162 L335.1 160.9 L342.7 159.8 L352.6 158.4 L354 168.4 L344.1 169.8 L336.5 170.9 L328.8 172 L321.2 173.1 L313.6 174.2 L305.9 175.2 L298.3 176.3 L290.7 177.4 L283 178.5 L275.4 179.6 L267.7 180.7 L260.1 181.8 L252.6 182.7 L245.1 183.5 L237.6 184.4 L230.1 185.3 L222.6 186.2 L215.1 187 L207.6 187.9 L200.1 188.8 L192.1 190.3 L184.1 191.8 L176.1 193.3 L168.1 194.8 L160.1 196.3 L152.1 197.8 L144.1 199.3 L136.1 200.8 L126.3 202.6Z" fill="#939393" filter="url(#b2_5)" style="mix-blend-mode:lighten"/>
<path d="M126 201.1 L135.9 199.2 L143.9 197.7 L151.9 196.2 L159.9 194.7 L167.9 193.2 L175.9 191.7 L183.9 190.2 L191.9 188.7 L199.9 187.2 L207.4 186.3 L214.9 185.5 L222.4 184.6 L229.9 183.7 L237.4 182.8 L244.9 182 L252.4 181.1 L259.9 180.2 L267.5 179.1 L275.2 178 L282.8 176.9 L290.4 175.8 L298.1 174.8 L305.7 173.7 L313.3 172.6 L321 171.5 L328.6 170.4 L336.3 169.3 L343.9 168.2 L353.8 166.8 L354.2 169.7 L344.3 171.1 L336.7 172.2 L329 173.3 L321.4 174.3 L313.8 175.4 L306.1 176.5 L298.5 177.6 L290.8 178.7 L283.2 179.8 L275.6 180.9 L267.9 182 L260.3 183.1 L252.7 184 L245.2 184.8 L237.7 185.7 L230.2 186.6 L222.7 187.5 L215.2 188.3 L207.7 189.2 L200.3 190.1 L192.4 191.6 L184.4 193.1 L176.4 194.6 L168.4 196.1 L160.4 197.6 L152.4 199.1 L144.4 200.6 L136.4 202.1 L126.6 203.9Z" fill="#9b9b9b" filter="url(#b2_5)"/>
<path d="M125.4 197.7 L135.2 195.8 L143.2 194.2 L151.2 192.7 L159.2 191.1 L167.2 189.5 L175.1 188 L183.1 186.4 L191.1 184.8 L199.3 183.2 L206.9 182.3 L214.4 181.3 L221.9 180.4 L229.4 179.5 L236.9 178.6 L244.4 177.6 L251.9 176.7 L259.3 175.8 L266.9 174.7 L274.5 173.5 L282.2 172.4 L289.8 171.4 L297.4 170.3 L305.1 169.2 L312.7 168.1 L320.3 167 L328 165.9 L335.6 164.8 L343.2 163.7 L353.1 162.3 L354 168.4 L344.1 169.8 L336.5 170.9 L328.8 172 L321.2 173.1 L313.6 174.2 L305.9 175.2 L298.3 176.3 L290.7 177.4 L283 178.5 L275.4 179.6 L267.7 180.7 L260.1 181.8 L252.6 182.7 L245.1 183.5 L237.6 184.4 L230.1 185.3 L222.6 186.2 L215.1 187 L207.6 187.9 L200.1 188.8 L192.1 190.3 L184.1 191.8 L176.1 193.3 L168.1 194.8 L160.1 196.3 L152.1 197.8 L144.1 199.3 L136.1 200.8 L126.3 202.6Z" fill="#9b9b9b" filter="url(#b2_5)" style="mix-blend-mode:lighten"/>
<path d="M126 201.1 L135.9 199.2 L143.9 197.7 L151.9 196.2 L159.9 194.7 L167.9 193.2 L175.9 191.7 L183.9 190.2 L191.9 188.7 L199.9 187.2 L207.4 186.3 L214.9 185.5 L222.4 184.6 L229.9 183.7 L237.4 182.8 L244.9 182 L252.4 181.1 L259.9 180.2 L267.5 179.1 L275.2 178 L282.8 176.9 L290.4 175.8 L298.1 174.8 L305.7 173.7 L313.3 172.6 L321 171.5 L328.6 170.4 L336.3 169.3 L343.9 168.2 L353.8 166.8 L354 168.2 L344.1 169.6 L336.4 170.7 L328.8 171.8 L321.2 172.9 L313.5 174 L305.9 175 L298.3 176.1 L290.6 177.2 L283 178.3 L275.4 179.4 L267.7 180.5 L260.1 181.6 L252.6 182.5 L245.1 183.3 L237.6 184.2 L230.1 185.1 L222.6 186 L215.1 186.8 L207.6 187.7 L200.1 188.6 L192.1 190.1 L184.1 191.6 L176.1 193.1 L168.1 194.6 L160.1 196.1 L152.1 197.6 L144.1 199.1 L136.1 200.6 L126.3 202.4Z" fill="#a3a3a3" filter="url(#b2_5)"/>
<path d="M125.9 200.7 L135.8 198.8 L143.8 197.3 L151.8 195.8 L159.8 194.3 L167.8 192.7 L175.8 191.2 L183.8 189.7 L191.8 188.2 L199.8 186.6 L207.3 185.7 L214.8 184.9 L222.3 184 L229.8 183.1 L237.3 182.2 L244.8 181.3 L252.3 180.4 L259.8 179.5 L267.4 178.4 L275.1 177.3 L282.7 176.2 L290.3 175.1 L298 174.1 L305.6 173 L313.2 171.9 L320.9 170.8 L328.5 169.7 L336.2 168.6 L343.8 167.5 L353.7 166.1 L354 168.4 L344.1 169.8 L336.5 170.9 L328.8 172 L321.2 173.1 L313.6 174.2 L305.9 175.2 L298.3 176.3 L290.7 177.4 L283 178.5 L275.4 179.6 L267.7 180.7 L260.1 181.8 L252.6 182.7 L245.1 183.5 L237.6 184.4 L230.1 185.3 L222.6 186.2 L215.1 187 L207.6 187.9 L200.1 188.8 L192.1 190.3 L184.1 191.8 L176.1 193.3 L168.1 194.8 L160.1 196.3 L152.1 197.8 L144.1 199.3 L136.1 200.8 L126.3 202.6Z" fill="#a3a3a3" filter="url(#b2_5)" style="mix-blend-mode:lighten"/>
<path d="M128.7 195.9 L143.7 190.3 L151.7 187.2 L159.9 184.7 L168.3 185.7 L174.3 189.7 L182 190.7 L188.8 189 L195.8 187.2 L202.8 185.5 L209.8 183.7 L216.8 182.2 L223.8 180.7 L230.9 179.5 L238 178.2 L248.2 180.2 L258.1 184.7 L267.8 183.2 L273.7 181 L279.8 178.7 L286.3 177 L292.8 175.2 L299.3 173.7 L305.9 172.2 L312.1 172.7 L318.2 173.2 L326.2 175.5 L334.2 177.7 L349.6 182.1 L342.4 207.8 L327 203.5 L319 201.2 L313 199.5 L309.8 199.5 L308.1 199 L305.4 200 L299.3 201.3 L293.3 202.9 L287.9 204.2 L283 205.9 L273.9 209.1 L254.2 211.1 L240 205.7 L236.8 205.1 L235.6 206 L229.1 207.3 L222.5 208.7 L215.9 210.1 L209.3 211.6 L202.3 213.2 L195.3 214.8 L183.3 217.3 L165.3 214.9 L159.3 211 L162.4 211.4 L160.5 212.6 L153.1 215.4 L138.2 221Z" fill="#4c4c4c" filter="url(#b2)"/>
<path d="M123.8 182.6 L138.7 177 L147.1 173.8 L158.6 170.6 L173 172.4 L179 176.4 L181.3 176.5 L185.4 175.2 L192.4 173.4 L199.4 171.7 L206.6 169.9 L213.9 168.3 L221.1 166.8 L228.4 165.5 L238.7 164 L252.6 166.7 L260.2 170.7 L264.6 169.4 L268.7 167.7 L275.4 165.2 L282.6 163.3 L289.4 161.4 L296.1 159.9 L304.8 158 L313.2 158.6 L320.9 159.3 L330.1 161.8 L338.1 164.1 L353.5 168.4 L349.2 183.6 L333.8 179.3 L325.8 177 L317.8 174.8 L311.9 174.3 L306.1 173.8 L299.7 175.3 L293.2 176.8 L286.7 178.5 L280.2 180.3 L274.3 182.5 L268.2 184.8 L257.9 186.3 L247.8 181.8 L238 179.8 L231.1 181 L224.2 182.3 L217.2 183.8 L210.2 185.3 L203.2 187 L196.2 188.8 L189.2 190.5 L182 192.3 L173.7 191.3 L167.7 187.3 L160.1 186.3 L152.3 188.8 L144.3 191.7 L129.3 197.4Z" fill="#4c4c4c" filter="url(#b2)" style="mix-blend-mode:lighten"/>
<path d="M128.7 195.9 L143.7 190.3 L151.7 187.2 L159.9 184.7 L168.3 185.7 L174.3 189.7 L182 190.7 L188.8 189 L195.8 187.2 L202.8 185.5 L209.8 183.7 L216.8 182.2 L223.8 180.7 L230.9 179.5 L238 178.2 L248.2 180.2 L258.1 184.7 L267.8 183.2 L273.7 181 L279.8 178.7 L286.3 177 L292.8 175.2 L299.3 173.7 L305.9 172.2 L312.1 172.7 L318.2 173.2 L326.2 175.5 L334.2 177.7 L349.6 182.1 L343 205.6 L327.6 201.3 L319.6 199 L313.4 197.3 L310 197.5 L307.9 197.1 L304.9 198.1 L298.8 199.4 L292.7 200.8 L287.2 202.1 L282.2 203.6 L273.3 206.8 L254.5 208.8 L240.6 203.7 L236.9 203.2 L235.3 204.3 L228.7 205.5 L222.1 207 L215.5 208.4 L208.9 209.8 L201.8 211.2 L194.7 212.5 L183.2 215 L166 212.8 L160 209 L162.2 209.3 L159.8 210.7 L152.4 213.4 L137.4 219.1Z" fill="#545454" filter="url(#b2)"/>
<path d="M123.8 182.6 L138.7 177 L147.1 173.8 L158.6 170.6 L173 172.4 L179 176.4 L181.3 176.5 L185.4 175.2 L192.4 173.4 L199.4 171.7 L206.6 169.9 L213.9 168.3 L221.1 166.8 L228.4 165.5 L238.7 164 L252.6 166.7 L260.2 170.7 L264.6 169.4 L268.7 167.7 L275.4 165.2 L282.6 163.3 L289.4 161.4 L296.1 159.9 L304.8 158 L313.2 158.6 L320.9 159.3 L330.1 161.8 L338.1 164.1 L353.5 168.4 L349.2 183.6 L333.8 179.3 L325.8 177 L317.8 174.8 L311.9 174.3 L306.1 173.8 L299.7 175.3 L293.2 176.8 L286.7 178.5 L280.2 180.3 L274.3 182.5 L268.2 184.8 L257.9 186.3 L247.8 181.8 L238 179.8 L231.1 181 L224.2 182.3 L217.2 183.8 L210.2 185.3 L203.2 187 L196.2 188.8 L189.2 190.5 L182 192.3 L173.7 191.3 L167.7 187.3 L160.1 186.3 L152.3 188.8 L144.3 191.7 L129.3 197.4Z" fill="#545454" filter="url(#b2)" style="mix-blend-mode:lighten"/>
<path d="M128.7 195.9 L143.7 190.3 L151.7 187.2 L159.9 184.7 L168.3 185.7 L174.3 189.7 L182 190.7 L188.8 189 L195.8 187.2 L202.8 185.5 L209.8 183.7 L216.8 182.2 L223.8 180.7 L230.9 179.5 L238 178.2 L248.2 180.2 L258.1 184.7 L267.8 183.2 L273.7 181 L279.8 178.7 L286.3 177 L292.8 175.2 L299.3 173.7 L305.9 172.2 L312.1 172.7 L318.2 173.2 L326.2 175.5 L334.2 177.7 L349.6 182.1 L343.5 203.8 L328.1 199.5 L320.1 197.1 L313.8 195.4 L310.1 195.7 L307.8 195.5 L304.6 196.5 L298.4 197.7 L292.2 199.1 L286.6 200.2 L281.4 201.6 L272.9 204.7 L254.8 206.9 L241.2 202 L237 201.5 L235 202.7 L228.4 204.1 L221.8 205.5 L215.2 206.9 L208.5 208.2 L201.4 209.5 L194.2 210.6 L183.1 213 L166.7 211 L160.6 207.3 L162.1 207.6 L159.2 209 L151.8 211.8 L136.8 217.4Z" fill="#5c5c5c" filter="url(#b2)"/>
<path d="M123.8 182.6 L138.7 177 L147.1 173.8 L158.6 170.6 L173 172.4 L179 176.4 L181.3 176.5 L185.4 175.2 L192.4 173.4 L199.4 171.7 L206.6 169.9 L213.9 168.3 L221.1 166.8 L228.4 165.5 L238.7 164 L252.6 166.7 L260.2 170.7 L264.6 169.4 L268.7 167.7 L275.4 165.2 L282.6 163.3 L289.4 161.4 L296.1 159.9 L304.8 158 L313.2 158.6 L320.9 159.3 L330.1 161.8 L338.1 164.1 L353.5 168.4 L349.2 183.6 L333.8 179.3 L325.8 177 L317.8 174.8 L311.9 174.3 L306.1 173.8 L299.7 175.3 L293.2 176.8 L286.7 178.5 L280.2 180.3 L274.3 182.5 L268.2 184.8 L257.9 186.3 L247.8 181.8 L238 179.8 L231.1 181 L224.2 182.3 L217.2 183.8 L210.2 185.3 L203.2 187 L196.2 188.8 L189.2 190.5 L182 192.3 L173.7 191.3 L167.7 187.3 L160.1 186.3 L152.3 188.8 L144.3 191.7 L129.3 197.4Z" fill="#5c5c5c" filter="url(#b2)" style="mix-blend-mode:lighten"/>
<path d="M128.7 195.9 L143.7 190.3 L151.7 187.2 L159.9 184.7 L168.3 185.7 L174.3 189.7 L182 190.7 L188.8 189 L195.8 187.2 L202.8 185.5 L209.8 183.7 L216.8 182.2 L223.8 180.7 L230.9 179.5 L238 178.2 L248.2 180.2 L258.1 184.7 L267.8 183.2 L273.7 181 L279.8 178.7 L286.3 177 L292.8 175.2 L299.3 173.7 L305.9 172.2 L312.1 172.7 L318.2 173.2 L326.2 175.5 L334.2 177.7 L349.6 182.1 L344 202.1 L328.6 197.8 L320.6 195.4 L314.1 193.7 L310.3 194.1 L307.7 193.9 L304.2 195 L298 196.1 L291.8 197.5 L286.1 198.5 L280.8 199.8 L272.4 202.9 L255.1 205.1 L241.7 200.4 L237.1 199.9 L234.8 201.3 L228.2 202.7 L221.5 204.2 L214.9 205.5 L208.1 206.8 L201 207.9 L193.8 208.8 L183 211.2 L167.3 209.4 L161.1 205.7 L161.9 205.9 L158.7 207.4 L151.2 210.2 L136.2 215.9Z" fill="#646464" filter="url(#b2)"/>
<path d="M123.8 182.6 L138.7 177 L147.1 173.8 L158.6 170.6 L173 172.4 L179 176.4 L181.3 176.5 L185.4 175.2 L192.4 173.4 L199.4 171.7 L206.6 169.9 L213.9 168.3 L221.1 166.8 L228.4 165.5 L238.7 164 L252.6 166.7 L260.2 170.7 L264.6 169.4 L268.7 167.7 L275.4 165.2 L282.6 163.3 L289.4 161.4 L296.1 159.9 L304.8 158 L313.2 158.6 L320.9 159.3 L330.1 161.8 L338.1 164.1 L353.5 168.4 L349.2 183.6 L333.8 179.3 L325.8 177 L317.8 174.8 L311.9 174.3 L306.1 173.8 L299.7 175.3 L293.2 176.8 L286.7 178.5 L280.2 180.3 L274.3 182.5 L268.2 184.8 L257.9 186.3 L247.8 181.8 L238 179.8 L231.1 181 L224.2 182.3 L217.2 183.8 L210.2 185.3 L203.2 187 L196.2 188.8 L189.2 190.5 L182 192.3 L173.7 191.3 L167.7 187.3 L160.1 186.3 L152.3 188.8 L144.3 191.7 L129.3 197.4Z" fill="#646464" filter="url(#b2)" style="mix-blend-mode:lighten"/>
<path d="M128.7 195.9 L143.7 190.3 L151.7 187.2 L159.9 184.7 L168.3 185.7 L174.3 189.7 L182 190.7 L188.8 189 L195.8 187.2 L202.8 185.5 L209.8 183.7 L216.8 182.2 L223.8 180.7 L230.9 179.5 L238 178.2 L248.2 180.2 L258.1 184.7 L267.8 183.2 L273.7 181 L279.8 178.7 L286.3 177 L292.8 175.2 L299.3 173.7 L305.9 172.2 L312.1 172.7 L318.2 173.2 L326.2 175.5 L334.2 177.7 L349.6 182.1 L344.4 200.5 L329 196.2 L321.1 193.7 L314.4 192.1 L310.4 192.6 L307.6 192.5 L303.9 193.6 L297.7 194.7 L291.4 196 L285.6 196.9 L280.1 198 L272 201.1 L255.3 203.4 L242.2 198.9 L237.1 198.5 L234.5 199.9 L227.9 201.4 L221.3 202.9 L214.6 204.3 L207.8 205.4 L200.6 206.4 L193.3 207.1 L182.9 209.5 L167.8 207.8 L161.7 204.2 L161.8 204.4 L158.2 206 L150.7 208.8 L135.7 214.4Z" fill="#6c6c6c" filter="url(#b2)"/>
<path d="M123.8 182.6 L138.7 177 L147.1 173.8 L158.6 170.6 L173 172.4 L179 176.4 L181.3 176.5 L185.4 175.2 L192.4 173.4 L199.4 171.7 L206.6 169.9 L213.9 168.3 L221.1 166.8 L228.4 165.5 L238.7 164 L252.6 166.7 L260.2 170.7 L264.6 169.4 L268.7 167.7 L275.4 165.2 L282.6 163.3 L289.4 161.4 L296.1 159.9 L304.8 158 L313.2 158.6 L320.9 159.3 L330.1 161.8 L338.1 164.1 L353.5 168.4 L349.2 183.6 L333.8 179.3 L325.8 177 L317.8 174.8 L311.9 174.3 L306.1 173.8 L299.7 175.3 L293.2 176.8 L286.7 178.5 L280.2 180.3 L274.3 182.5 L268.2 184.8 L257.9 186.3 L247.8 181.8 L238 179.8 L231.1 181 L224.2 182.3 L217.2 183.8 L210.2 185.3 L203.2 187 L196.2 188.8 L189.2 190.5 L182 192.3 L173.7 191.3 L167.7 187.3 L160.1 186.3 L152.3 188.8 L144.3 191.7 L129.3 197.4Z" fill="#6c6c6c" filter="url(#b2)" style="mix-blend-mode:lighten"/>
<path d="M128.7 195.9 L143.7 190.3 L151.7 187.2 L159.9 184.7 L168.3 185.7 L174.3 189.7 L182 190.7 L188.8 189 L195.8 187.2 L202.8 185.5 L209.8 183.7 L216.8 182.2 L223.8 180.7 L230.9 179.5 L238 178.2 L248.2 180.2 L258.1 184.7 L267.8 183.2 L273.7 181 L279.8 178.7 L286.3 177 L292.8 175.2 L299.3 173.7 L305.9 172.2 L312.1 172.7 L318.2 173.2 L326.2 175.5 L334.2 177.7 L349.6 182.1 L344.9 199 L329.5 194.6 L321.5 192.2 L314.7 190.6 L310.5 191.2 L307.4 191.1 L303.6 192.3 L297.3 193.3 L291 194.5 L285.1 195.4 L279.5 196.4 L271.6 199.4 L255.6 201.8 L242.6 197.5 L237.2 197.1 L234.3 198.6 L227.7 200.2 L221 201.7 L214.3 203 L207.5 204.1 L200.2 204.9 L192.9 205.4 L182.8 207.8 L168.4 206.3 L162.2 202.8 L161.6 202.9 L157.7 204.6 L150.2 207.4 L135.2 213Z" fill="#747474" filter="url(#b2)"/>
<path d="M123.8 182.6 L138.7 177 L147.1 173.8 L158.6 170.6 L173 172.4 L179 176.4 L181.3 176.5 L185.4 175.2 L192.4 173.4 L199.4 171.7 L206.6 169.9 L213.9 168.3 L221.1 166.8 L228.4 165.5 L238.7 164 L252.6 166.7 L260.2 170.7 L264.6 169.4 L268.7 167.7 L275.4 165.2 L282.6 163.3 L289.4 161.4 L296.1 159.9 L304.8 158 L313.2 158.6 L320.9 159.3 L330.1 161.8 L338.1 164.1 L353.5 168.4 L349.2 183.6 L333.8 179.3 L325.8 177 L317.8 174.8 L311.9 174.3 L306.1 173.8 L299.7 175.3 L293.2 176.8 L286.7 178.5 L280.2 180.3 L274.3 182.5 L268.2 184.8 L257.9 186.3 L247.8 181.8 L238 179.8 L231.1 181 L224.2 182.3 L217.2 183.8 L210.2 185.3 L203.2 187 L196.2 188.8 L189.2 190.5 L182 192.3 L173.7 191.3 L167.7 187.3 L160.1 186.3 L152.3 188.8 L144.3 191.7 L129.3 197.4Z" fill="#747474" filter="url(#b2)" style="mix-blend-mode:lighten"/>
<path d="M128.7 195.9 L143.7 190.3 L151.7 187.2 L159.9 184.7 L168.3 185.7 L174.3 189.7 L182 190.7 L188.8 189 L195.8 187.2 L202.8 185.5 L209.8 183.7 L216.8 182.2 L223.8 180.7 L230.9 179.5 L238 178.2 L248.2 180.2 L258.1 184.7 L267.8 183.2 L273.7 181 L279.8 178.7 L286.3 177 L292.8 175.2 L299.3 173.7 L305.9 172.2 L312.1 172.7 L318.2 173.2 L326.2 175.5 L334.2 177.7 L349.6 182.1 L345.3 197.5 L329.9 193.1 L321.9 190.7 L315 189.1 L310.6 189.8 L307.3 189.8 L303.3 191 L297 191.9 L290.6 193.1 L284.6 193.9 L278.9 194.8 L271.2 197.8 L255.8 200.2 L243.1 196.1 L237.3 195.7 L234.1 197.4 L227.4 199 L220.8 200.5 L214 201.9 L207.2 202.9 L199.9 203.5 L192.5 203.9 L182.7 206.3 L168.9 204.9 L162.7 201.4 L161.5 201.5 L157.2 203.2 L149.7 206.1 L134.7 211.7Z" fill="#7c7c7c" filter="url(#b2)"/>
<path d="M123.8 182.6 L138.7 177 L147.1 173.8 L158.6 170.6 L173 172.4 L179 176.4 L181.3 176.5 L185.4 175.2 L192.4 173.4 L199.4 171.7 L206.6 169.9 L213.9 168.3 L221.1 166.8 L228.4 165.5 L238.7 164 L252.6 166.7 L260.2 170.7 L264.6 169.4 L268.7 167.7 L275.4 165.2 L282.6 163.3 L289.4 161.4 L296.1 159.9 L304.8 158 L313.2 158.6 L320.9 159.3 L330.1 161.8 L338.1 164.1 L353.5 168.4 L349.2 183.6 L333.8 179.3 L325.8 177 L317.8 174.8 L311.9 174.3 L306.1 173.8 L299.7 175.3 L293.2 176.8 L286.7 178.5 L280.2 180.3 L274.3 182.5 L268.2 184.8 L257.9 186.3 L247.8 181.8 L238 179.8 L231.1 181 L224.2 182.3 L217.2 183.8 L210.2 185.3 L203.2 187 L196.2 188.8 L189.2 190.5 L182 192.3 L173.7 191.3 L167.7 187.3 L160.1 186.3 L152.3 188.8 L144.3 191.7 L129.3 197.4Z" fill="#7c7c7c" filter="url(#b2)" style="mix-blend-mode:lighten"/>
<path d="M128.7 195.9 L143.7 190.3 L151.7 187.2 L159.9 184.7 L168.3 185.7 L174.3 189.7 L182 190.7 L188.8 189 L195.8 187.2 L202.8 185.5 L209.8 183.7 L216.8 182.2 L223.8 180.7 L230.9 179.5 L238 178.2 L248.2 180.2 L258.1 184.7 L267.8 183.2 L273.7 181 L279.8 178.7 L286.3 177 L292.8 175.2 L299.3 173.7 L305.9 172.2 L312.1 172.7 L318.2 173.2 L326.2 175.5 L334.2 177.7 L349.6 182.1 L345.7 196 L330.3 191.7 L322.4 189.2 L315.3 187.6 L310.8 188.4 L307.2 188.5 L303 189.7 L296.7 190.6 L290.3 191.7 L284.2 192.5 L278.3 193.3 L270.9 196.2 L256 198.7 L243.5 194.8 L237.3 194.4 L233.8 196.2 L227.2 197.8 L220.5 199.4 L213.8 200.7 L206.9 201.7 L199.5 202.2 L192.1 202.3 L182.7 204.7 L169.4 203.5 L163.1 200.1 L161.4 200.1 L156.8 201.9 L149.2 204.8 L134.2 210.4Z" fill="#838383" filter="url(#b2)"/>
<path d="M123.8 182.6 L138.7 177 L147.1 173.8 L158.6 170.6 L173 172.4 L179 176.4 L181.3 176.5 L185.4 175.2 L192.4 173.4 L199.4 171.7 L206.6 169.9 L213.9 168.3 L221.1 166.8 L228.4 165.5 L238.7 164 L252.6 166.7 L260.2 170.7 L264.6 169.4 L268.7 167.7 L275.4 165.2 L282.6 163.3 L289.4 161.4 L296.1 159.9 L304.8 158 L313.2 158.6 L320.9 159.3 L330.1 161.8 L338.1 164.1 L353.5 168.4 L349.2 183.6 L333.8 179.3 L325.8 177 L317.8 174.8 L311.9 174.3 L306.1 173.8 L299.7 175.3 L293.2 176.8 L286.7 178.5 L280.2 180.3 L274.3 182.5 L268.2 184.8 L257.9 186.3 L247.8 181.8 L238 179.8 L231.1 181 L224.2 182.3 L217.2 183.8 L210.2 185.3 L203.2 187 L196.2 188.8 L189.2 190.5 L182 192.3 L173.7 191.3 L167.7 187.3 L160.1 186.3 L152.3 188.8 L144.3 191.7 L129.3 197.4Z" fill="#838383" filter="url(#b2)" style="mix-blend-mode:lighten"/>
<path d="M128.7 195.9 L143.7 190.3 L151.7 187.2 L159.9 184.7 L168.3 185.7 L174.3 189.7 L182 190.7 L188.8 189 L195.8 187.2 L202.8 185.5 L209.8 183.7 L216.8 182.2 L223.8 180.7 L230.9 179.5 L238 178.2 L248.2 180.2 L258.1 184.7 L267.8 183.2 L273.7 181 L279.8 178.7 L286.3 177 L292.8 175.2 L299.3 173.7 L305.9 172.2 L312.1 172.7 L318.2 173.2 L326.2 175.5 L334.2 177.7 L349.6 182.1 L346.1 194.6 L330.7 190.3 L322.8 187.8 L315.6 186.2 L310.9 187.1 L307.1 187.2 L302.7 188.5 L296.3 189.4 L289.9 190.4 L283.7 191.1 L277.8 191.8 L270.5 194.7 L256.2 197.2 L243.9 193.5 L237.4 193.2 L233.6 195 L227 196.7 L220.3 198.3 L213.5 199.6 L206.6 200.5 L199.2 200.9 L191.8 200.8 L182.6 203.2 L169.9 202.1 L163.6 198.8 L161.2 198.7 L156.4 200.7 L148.7 203.5 L133.7 209.1Z" fill="#8b8b8b" filter="url(#b2)"/>
<path d="M123.8 182.6 L138.7 177 L147.1 173.8 L158.6 170.6 L173 172.4 L179 176.4 L181.3 176.5 L185.4 175.2 L192.4 173.4 L199.4 171.7 L206.6 169.9 L213.9 168.3 L221.1 166.8 L228.4 165.5 L238.7 164 L252.6 166.7 L260.2 170.7 L264.6 169.4 L268.7 167.7 L275.4 165.2 L282.6 163.3 L289.4 161.4 L296.1 159.9 L304.8 158 L313.2 158.6 L320.9 159.3 L330.1 161.8 L338.1 164.1 L353.5 168.4 L349.2 183.6 L333.8 179.3 L325.8 177 L317.8 174.8 L311.9 174.3 L306.1 173.8 L299.7 175.3 L293.2 176.8 L286.7 178.5 L280.2 180.3 L274.3 182.5 L268.2 184.8 L257.9 186.3 L247.8 181.8 L238 179.8 L231.1 181 L224.2 182.3 L217.2 183.8 L210.2 185.3 L203.2 187 L196.2 188.8 L189.2 190.5 L182 192.3 L173.7 191.3 L167.7 187.3 L160.1 186.3 L152.3 188.8 L144.3 191.7 L129.3 197.4Z" fill="#8b8b8b" filter="url(#b2)" style="mix-blend-mode:lighten"/>
<path d="M128.7 195.9 L143.7 190.3 L151.7 187.2 L159.9 184.7 L168.3 185.7 L174.3 189.7 L182 190.7 L188.8 189 L195.8 187.2 L202.8 185.5 L209.8 183.7 L216.8 182.2 L223.8 180.7 L230.9 179.5 L238 178.2 L248.2 180.2 L258.1 184.7 L267.8 183.2 L273.7 181 L279.8 178.7 L286.3 177 L292.8 175.2 L299.3 173.7 L305.9 172.2 L312.1 172.7 L318.2 173.2 L326.2 175.5 L334.2 177.7 L349.6 182.1 L346.5 193.3 L331.1 188.9 L323.1 186.4 L315.9 184.9 L311 185.8 L307 186 L302.5 187.3 L296 188.1 L289.6 189.1 L283.3 189.8 L277.2 190.3 L270.2 193.2 L256.5 195.8 L244.4 192.2 L237.4 191.9 L233.4 193.9 L226.8 195.6 L220 197.2 L213.3 198.5 L206.3 199.3 L198.9 199.6 L191.4 199.4 L182.5 201.7 L170.3 200.8 L164.1 197.5 L161.1 197.4 L155.9 199.4 L148.2 202.3 L133.3 207.9Z" fill="#939393" filter="url(#b2)"/>
<path d="M123.8 182.6 L138.7 177 L147.1 173.8 L158.6 170.6 L173 172.4 L179 176.4 L181.3 176.5 L185.4 175.2 L192.4 173.4 L199.4 171.7 L206.6 169.9 L213.9 168.3 L221.1 166.8 L228.4 165.5 L238.7 164 L252.6 166.7 L260.2 170.7 L264.6 169.4 L268.7 167.7 L275.4 165.2 L282.6 163.3 L289.4 161.4 L296.1 159.9 L304.8 158 L313.2 158.6 L320.9 159.3 L330.1 161.8 L338.1 164.1 L353.5 168.4 L349.2 183.6 L333.8 179.3 L325.8 177 L317.8 174.8 L311.9 174.3 L306.1 173.8 L299.7 175.3 L293.2 176.8 L286.7 178.5 L280.2 180.3 L274.3 182.5 L268.2 184.8 L257.9 186.3 L247.8 181.8 L238 179.8 L231.1 181 L224.2 182.3 L217.2 183.8 L210.2 185.3 L203.2 187 L196.2 188.8 L189.2 190.5 L182 192.3 L173.7 191.3 L167.7 187.3 L160.1 186.3 L152.3 188.8 L144.3 191.7 L129.3 197.4Z" fill="#939393" filter="url(#b2)" style="mix-blend-mode:lighten"/>
<path d="M128.7 195.9 L143.7 190.3 L151.7 187.2 L159.9 184.7 L168.3 185.7 L174.3 189.7 L182 190.7 L188.8 189 L195.8 187.2 L202.8 185.5 L209.8 183.7 L216.8 182.2 L223.8 180.7 L230.9 179.5 L238 178.2 L248.2 180.2 L258.1 184.7 L267.8 183.2 L273.7 181 L279.8 178.7 L286.3 177 L292.8 175.2 L299.3 173.7 L305.9 172.2 L312.1 172.7 L318.2 173.2 L326.2 175.5 L334.2 177.7 L349.6 182.1 L346.8 191.9 L331.4 187.6 L323.5 185 L316.1 183.5 L311.1 184.6 L306.9 184.8 L302.2 186.2 L295.7 186.9 L289.2 187.9 L282.9 188.4 L276.7 188.9 L269.8 191.7 L256.7 194.3 L244.8 191 L237.5 190.7 L233.2 192.8 L226.6 194.5 L219.8 196.1 L213 197.4 L206 198.2 L198.6 198.3 L191.1 198 L182.4 200.3 L170.8 199.5 L164.5 196.3 L161 196.1 L155.5 198.2 L147.8 201.1 L132.8 206.7Z" fill="#9b9b9b" filter="url(#b2)"/>
<path d="M124.5 184.6 L139.5 179 L147.8 175.9 L158.8 172.8 L172.3 174.5 L178.2 178.8 L181.4 179.4 L186.1 178.1 L192.9 175.6 L199.8 173.4 L207 171.4 L214.2 169.8 L221.4 168.3 L228.7 167.1 L238.6 165.9 L251.9 168.9 L259.8 173.4 L265.3 172.6 L270 171 L276.2 167.7 L283.2 165.4 L289.9 163.4 L296.5 161.7 L305 159.9 L313.1 160.6 L320.4 161.7 L329.3 164.4 L337.4 166.6 L352.8 170.9 L349.2 183.6 L333.8 179.3 L325.8 177 L317.8 174.8 L311.9 174.3 L306.1 173.8 L299.7 175.3 L293.2 176.8 L286.7 178.5 L280.2 180.3 L274.3 182.5 L268.2 184.8 L257.9 186.3 L247.8 181.8 L238 179.8 L231.1 181 L224.2 182.3 L217.2 183.8 L210.2 185.3 L203.2 187 L196.2 188.8 L189.2 190.5 L182 192.3 L173.7 191.3 L167.7 187.3 L160.1 186.3 L152.3 188.8 L144.3 191.7 L129.3 197.4Z" fill="#9b9b9b" filter="url(#b2)" style="mix-blend-mode:lighten"/>
<path d="M128.7 195.9 L143.7 190.3 L151.7 187.2 L159.9 184.7 L168.3 185.7 L174.3 189.7 L182 190.7 L188.8 189 L195.8 187.2 L202.8 185.5 L209.8 183.7 L216.8 182.2 L223.8 180.7 L230.9 179.5 L238 178.2 L248.2 180.2 L258.1 184.7 L267.8 183.2 L273.7 181 L279.8 178.7 L286.3 177 L292.8 175.2 L299.3 173.7 L305.9 172.2 L312.1 172.7 L318.2 173.2 L326.2 175.5 L334.2 177.7 L349.6 182.1 L347.2 190.6 L331.8 186.3 L323.9 183.7 L316.4 182.2 L311.2 183.3 L306.9 183.6 L301.9 185 L295.4 185.7 L288.9 186.6 L282.4 187.1 L276.1 187.5 L269.5 190.3 L256.9 193 L245.2 189.7 L237.5 189.5 L233 191.7 L226.4 193.5 L219.6 195.1 L212.8 196.4 L205.7 197.1 L198.3 197.1 L190.7 196.6 L182.4 198.9 L171.3 198.2 L164.9 195.1 L160.9 194.8 L155.1 197 L147.3 199.9 L132.4 205.5Z" fill="#a3a3a3" filter="url(#b2)"/>
<path d="M125.4 186.9 L140.4 181.3 L148.6 178.2 L159 175.3 L171.4 177 L177.2 181.6 L181.6 182.7 L186.9 181.5 L193.5 178.1 L200.3 175.4 L207.4 173.2 L214.6 171.6 L221.8 170.1 L229 169.1 L238.5 168.1 L251.1 171.4 L259.3 176.6 L266.2 176.3 L271.4 174.7 L277.2 170.6 L283.9 167.9 L290.4 165.7 L297 163.8 L305.1 162.1 L312.9 163 L319.9 164.6 L328.5 167.5 L336.5 169.4 L351.9 173.8 L349.2 183.6 L333.8 179.3 L325.8 177 L317.8 174.8 L311.9 174.3 L306.1 173.8 L299.7 175.3 L293.2 176.8 L286.7 178.5 L280.2 180.3 L274.3 182.5 L268.2 184.8 L257.9 186.3 L247.8 181.8 L238 179.8 L231.1 181 L224.2 182.3 L217.2 183.8 L210.2 185.3 L203.2 187 L196.2 188.8 L189.2 190.5 L182 192.3 L173.7 191.3 L167.7 187.3 L160.1 186.3 L152.3 188.8 L144.3 191.7 L129.3 197.4Z" fill="#a3a3a3" filter="url(#b2)" style="mix-blend-mode:lighten"/>
<path d="M128.7 195.9 L143.7 190.3 L151.7 187.2 L159.9 184.7 L168.3 185.7 L174.3 189.7 L182 190.7 L188.8 189 L195.8 187.2 L202.8 185.5 L209.8 183.7 L216.8 182.2 L223.8 180.7 L230.9 179.5 L238 178.2 L248.2 180.2 L258.1 184.7 L267.8 183.2 L273.7 181 L279.8 178.7 L286.3 177 L292.8 175.2 L299.3 173.7 L305.9 172.2 L312.1 172.7 L318.2 173.2 L326.2 175.5 L334.2 177.7 L349.6 182.1 L347.6 189.3 L332.2 185 L324.3 182.4 L316.6 180.9 L311.3 182.1 L306.8 182.5 L301.7 183.9 L295.1 184.6 L288.6 185.4 L282 185.9 L275.6 186.1 L269.1 188.9 L257.1 191.6 L245.6 188.5 L237.6 188.4 L232.8 190.6 L226.2 192.5 L219.4 194.1 L212.5 195.4 L205.4 196 L198 195.9 L190.4 195.2 L182.3 197.5 L171.7 196.9 L165.4 193.9 L160.8 193.6 L154.7 195.8 L146.9 198.8 L131.9 204.4Z" fill="#ababab" filter="url(#b2)"/>
<path d="M126.1 188.8 L141.1 183.2 L149.3 180.1 L159.2 177.3 L170.7 179 L176.4 183.8 L181.7 185.3 L187.6 184.2 L194 180 L200.7 177 L207.7 174.6 L214.9 173 L222 171.5 L229.3 170.6 L238.4 169.9 L250.5 173.3 L258.9 179.2 L266.9 179.3 L272.5 177.8 L277.9 172.9 L284.4 170 L290.9 167.5 L297.4 165.4 L305.3 163.8 L312.7 164.9 L319.4 166.9 L327.8 169.9 L335.9 171.8 L351.3 176.1 L349.2 183.6 L333.8 179.3 L325.8 177 L317.8 174.8 L311.9 174.3 L306.1 173.8 L299.7 175.3 L293.2 176.8 L286.7 178.5 L280.2 180.3 L274.3 182.5 L268.2 184.8 L257.9 186.3 L247.8 181.8 L238 179.8 L231.1 181 L224.2 182.3 L217.2 183.8 L210.2 185.3 L203.2 187 L196.2 188.8 L189.2 190.5 L182 192.3 L173.7 191.3 L167.7 187.3 L160.1 186.3 L152.3 188.8 L144.3 191.7 L129.3 197.4Z" fill="#ababab" filter="url(#b2)" style="mix-blend-mode:lighten"/>
<path d="M128.7 195.9 L143.7 190.3 L151.7 187.2 L159.9 184.7 L168.3 185.7 L174.3 189.7 L182 190.7 L188.8 189 L195.8 187.2 L202.8 185.5 L209.8 183.7 L216.8 182.2 L223.8 180.7 L230.9 179.5 L238 178.2 L248.2 180.2 L258.1 184.7 L267.8 183.2 L274 181.8 L279.8 178.7 L286.3 177 L292.8 175.2 L299.3 173.7 L305.9 172.2 L312.1 172.7 L318.2 173.2 L326.2 175.5 L334.2 177.7 L349.6 182.1 L347.9 188.1 L332.5 183.7 L324.6 181.1 L316.9 179.6 L311.4 180.9 L306.7 181.3 L301.4 182.8 L294.9 183.4 L288.2 184.2 L281.6 184.6 L274 181.8 L268.8 187.5 L257.3 190.3 L245.9 187.3 L237.6 187.2 L232.7 189.5 L226 191.4 L219.2 193.1 L212.3 194.4 L205.2 194.9 L197.7 194.7 L190 193.9 L182.2 196.2 L172.1 195.7 L165.8 192.7 L160.6 192.4 L154.3 194.7 L146.5 197.6 L131.5 203.2Z" fill="#b3b3b3" filter="url(#b2)"/>
<path d="M126.7 190.5 L141.7 184.8 L149.9 181.8 L159.4 179.1 L170.1 180.8 L175.7 185.8 L181.8 187.6 L188.2 186.6 L194.4 181.8 L201 178.4 L208 175.9 L215.1 174.2 L222.3 172.8 L229.5 172 L238.3 171.5 L249.9 175.1 L258.6 181.5 L267.5 182 L274 181.8 L278.5 175 L284.9 171.7 L291.3 169.1 L297.8 166.9 L305.4 165.4 L312.6 166.6 L319 168.9 L327.2 172 L335.3 173.8 L350.7 178.1 L349.2 183.6 L333.8 179.3 L325.8 177 L317.8 174.8 L311.9 174.3 L306.1 173.8 L299.7 175.3 L293.2 176.8 L286.7 178.5 L280.2 180.3 L274 181.8 L268.2 184.8 L257.9 186.3 L247.8 181.8 L238 179.8 L231.1 181 L224.2 182.3 L217.2 183.8 L210.2 185.3 L203.2 187 L196.2 188.8 L189.2 190.5 L182 192.3 L173.7 191.3 L167.7 187.3 L160.1 186.3 L152.3 188.8 L144.3 191.7 L129.3 197.4Z" fill="#b3b3b3" filter="url(#b2)" style="mix-blend-mode:lighten"/>
<path d="M128.7 195.9 L143.7 190.3 L151.7 187.2 L159.9 184.7 L168.3 185.7 L174.3 189.7 L182 191.5 L189 189.8 L195.8 187.2 L202.8 185.5 L209.8 183.7 L216.8 182.2 L223.8 180.7 L230.9 179.5 L238 178.2 L248.2 180.2 L258 185.5 L268 184 L274 181.8 L279.8 178.7 L286.3 177 L292.8 175.2 L299.3 173.7 L305.9 172.2 L312.1 172.7 L318.2 173.2 L326.2 175.5 L334.2 177.7 L349.6 182.1 L348.3 186.8 L332.9 182.5 L325 179.8 L317.1 178.4 L311.5 179.7 L306.6 180.2 L301.2 181.7 L294.6 182.3 L287.9 183 L281.2 183.4 L274 181.8 L268 184 L258 185.5 L246.3 186.2 L237.7 186.1 L232.5 188.5 L225.8 190.4 L219 192.1 L212.1 193.4 L204.9 193.8 L197.4 193.5 L189 189.8 L182 191.5 L172.6 194.5 L166.2 191.5 L160.5 191.2 L153.9 193.5 L146.1 196.5 L131.1 202.1Z" fill="#bbbbbb" filter="url(#b2)"/>
<path d="M127.3 192 L142.3 186.4 L150.4 183.3 L159.6 180.7 L169.5 182.4 L175 187.6 L182 191.5 L189 189.8 L194.9 183.4 L201.4 179.7 L208.3 177 L215.4 175.4 L222.5 174 L229.7 173.2 L238.3 172.9 L249.4 176.7 L258 185.5 L268 184 L274 181.8 L279.1 176.8 L285.3 173.4 L291.6 170.6 L298.1 168.3 L305.5 166.8 L312.4 168.2 L318.6 170.7 L326.6 174 L334.8 175.7 L350.2 180 L349.2 183.6 L333.8 179.3 L325.8 177 L317.8 174.8 L311.9 174.3 L306.1 173.8 L299.7 175.3 L293.2 176.8 L286.7 178.5 L280.2 180.3 L274 181.8 L268 184 L258 185.5 L247.8 181.8 L238 179.8 L231.1 181 L224.2 182.3 L217.2 183.8 L210.2 185.3 L203.2 187 L196.2 188.8 L189 189.8 L182 191.5 L173.7 191.3 L167.7 187.3 L160.1 186.3 L152.3 188.8 L144.3 191.7 L129.3 197.4Z" fill="#bbbbbb" filter="url(#b2)" style="mix-blend-mode:lighten"/>
<path d="M128.7 195.9 L143.7 190.3 L151.7 187.2 L159.9 184.7 L168.3 185.7 L174 190.5 L182 191.5 L189 189.8 L195.8 187.2 L202.8 185.5 L209.8 183.7 L216.8 182.2 L223.8 180.7 L230.9 179.5 L238 178.2 L248.2 180.2 L258 185.5 L268 184 L274 181.8 L280 179.5 L286.3 177 L292.8 175.2 L299.3 173.7 L305.9 172.2 L312.1 172.7 L318 174 L326 176.2 L334 178.5 L349.4 182.8 L349.4 182.8 L334 178.5 L326 176.2 L318 174 L311.6 178.6 L306.5 179.1 L300.9 180.6 L294.3 181.2 L287.6 181.9 L280 179.5 L274 181.8 L268 184 L258 185.5 L246.7 185 L237.7 185 L232.3 187.4 L225.6 189.4 L218.7 191.1 L211.8 192.4 L204.6 192.8 L197.1 192.3 L189 189.8 L182 191.5 L174 190.5 L166.6 190.4 L160.4 190 L153.5 192.4 L145.6 195.4 L130.7 201Z" fill="#c3c3c3" filter="url(#b2)"/>
<path d="M127.8 193.4 L142.8 187.8 L150.9 184.8 L159.7 182.3 L168.9 183.9 L174 190.5 L182 191.5 L189 189.8 L195.2 184.9 L201.7 180.9 L208.5 178.1 L215.6 176.4 L222.7 175.1 L230 174.4 L238.2 174.2 L248.9 178.2 L258 185.5 L268 184 L274 181.8 L280 179.5 L285.7 174.9 L292 172 L298.4 169.5 L305.6 168.1 L312.3 169.6 L318 174 L326 176.2 L334 178.5 L349.4 182.8 L349.4 182.8 L334 178.5 L326 176.2 L318 174 L311.9 174.3 L306.1 173.8 L299.7 175.3 L293.2 176.8 L286.7 178.5 L280 179.5 L274 181.8 L268 184 L258 185.5 L247.8 181.8 L238 179.8 L231.1 181 L224.2 182.3 L217.2 183.8 L210.2 185.3 L203.2 187 L196.2 188.8 L189 189.8 L182 191.5 L174 190.5 L167.7 187.3 L160.1 186.3 L152.3 188.8 L144.3 191.7 L129.3 197.4Z" fill="#c3c3c3" filter="url(#b2)" style="mix-blend-mode:lighten"/>
<path d="M128.7 195.9 L143.7 190.3 L151.7 187.2 L160 185.5 L168 186.5 L174 190.5 L182 191.5 L189 189.8 L196 188 L202.8 185.5 L209.8 183.7 L216.8 182.2 L223.8 180.7 L230.9 179.5 L238 178.2 L248 181 L258 185.5 L268 184 L274 181.8 L280 179.5 L286.5 177.8 L292.8 175.2 L299.3 173.7 L305.9 172.2 L312.1 172.7 L318 174 L326 176.2 L334 178.5 L349.4 182.8 L349.4 182.8 L334 178.5 L326 176.2 L318 174 L311.7 177.4 L306.4 178 L300.7 179.6 L294 180.1 L286.5 177.8 L280 179.5 L274 181.8 L268 184 L258 185.5 L248 181 L237.8 183.9 L232.1 186.4 L225.4 188.5 L218.5 190.2 L211.6 191.4 L204.4 191.8 L196 188 L189 189.8 L182 191.5 L174 190.5 L168 186.5 L160 185.5 L153.1 191.3 L145.2 194.3 L130.2 199.9Z" fill="#cbcbcb" filter="url(#b2)"/>
<path d="M128.3 194.7 L143.3 189.1 L151.3 186.1 L160 185.5 L168 186.5 L174 190.5 L182 191.5 L189 189.8 L196 188 L202 182.1 L208.8 179.1 L215.8 177.4 L222.9 176.1 L230.2 175.5 L238.2 175.5 L248 181 L258 185.5 L268 184 L274 181.8 L280 179.5 L286.5 177.8 L292.3 173.3 L298.6 170.7 L305.7 169.3 L312.2 171 L318 174 L326 176.2 L334 178.5 L349.4 182.8 L349.4 182.8 L334 178.5 L326 176.2 L318 174 L311.9 174.3 L306.1 173.8 L299.7 175.3 L293.2 176.8 L286.5 177.8 L280 179.5 L274 181.8 L268 184 L258 185.5 L248 181 L238 179.8 L231.1 181 L224.2 182.3 L217.2 183.8 L210.2 185.3 L203.2 187 L196 188 L189 189.8 L182 191.5 L174 190.5 L168 186.5 L160 185.5 L152.3 188.8 L144.3 191.7 L129.3 197.4Z" fill="#cbcbcb" filter="url(#b2)" style="mix-blend-mode:lighten"/>
<path d="M129 196.6 L144 191 L152 188 L160 185.5 L168 186.5 L174 190.5 L182 191.5 L189 189.8 L196 188 L202.8 185.5 L209.8 183.7 L216.8 182.2 L223.8 180.7 L230.9 179.5 L238 178.2 L248 181 L258 185.5 L268 184 L274 181.8 L280 179.5 L286.5 177.8 L293 176 L299.3 173.7 L305.9 172.2 L312 173.5 L318 174 L326 176.2 L334 178.5 L349.4 182.8 L349.4 182.8 L334 178.5 L326 176.2 L318 174 L312 173.5 L306.3 176.9 L300.4 178.5 L293 176 L286.5 177.8 L280 179.5 L274 181.8 L268 184 L258 185.5 L248 181 L237.8 182.8 L231.9 185.4 L225.2 187.5 L218.3 189.2 L211.4 190.5 L204.1 190.7 L196 188 L189 189.8 L182 191.5 L174 190.5 L168 186.5 L160 185.5 L152 188 L144 191 L129 196.6Z" fill="#d3d3d3" filter="url(#b2)"/>
<path d="M129 196.6 L144 191 L152 188 L160 185.5 L168 186.5 L174 190.5 L182 191.5 L189 189.8 L196 188 L202.2 183.2 L209 180.1 L216 178.4 L223.1 177.1 L230.3 176.5 L238.1 176.7 L248 181 L258 185.5 L268 184 L274 181.8 L280 179.5 L286.5 177.8 L293 176 L298.9 171.9 L305.8 170.5 L312 173.5 L318 174 L326 176.2 L334 178.5 L349.4 182.8 L349.4 182.8 L334 178.5 L326 176.2 L318 174 L312 173.5 L306.1 173.8 L299.7 175.3 L293 176 L286.5 177.8 L280 179.5 L274 181.8 L268 184 L258 185.5 L248 181 L238 179.8 L231.1 181 L224.2 182.3 L217.2 183.8 L210.2 185.3 L203.2 187 L196 188 L189 189.8 L182 191.5 L174 190.5 L168 186.5 L160 185.5 L152 188 L144 191 L129 196.6Z" fill="#d3d3d3" filter="url(#b2)" style="mix-blend-mode:lighten"/>
<path d="M129 196.6 L144 191 L152 188 L160 185.5 L168 186.5 L174 190.5 L182 191.5 L189 189.8 L196 188 L202.8 185.5 L209.8 183.7 L216.8 182.2 L223.8 180.7 L230.9 179.5 L238 179 L248 181 L258 185.5 L268 184 L274 181.8 L280 179.5 L286.5 177.8 L293 176 L299.5 174.5 L306 173 L312 173.5 L318 174 L326 176.2 L334 178.5 L349.4 182.8 L349.4 182.8 L334 178.5 L326 176.2 L318 174 L312 173.5 L306 173 L299.5 174.5 L293 176 L286.5 177.8 L280 179.5 L274 181.8 L268 184 L258 185.5 L248 181 L238 179 L231.7 184.4 L225 186.5 L218.1 188.3 L211.2 189.5 L203.9 189.7 L196 188 L189 189.8 L182 191.5 L174 190.5 L168 186.5 L160 185.5 L152 188 L144 191 L129 196.6Z" fill="#dbdbdb" filter="url(#b2)"/>
<path d="M129 196.6 L144 191 L152 188 L160 185.5 L168 186.5 L174 190.5 L182 191.5 L189 189.8 L196 188 L202.5 184.2 L209.2 181 L216.2 179.3 L223.3 178 L230.5 177.6 L238 179 L248 181 L258 185.5 L268 184 L274 181.8 L280 179.5 L286.5 177.8 L293 176 L299.5 174.5 L306 173 L312 173.5 L318 174 L326 176.2 L334 178.5 L349.4 182.8 L349.4 182.8 L334 178.5 L326 176.2 L318 174 L312 173.5 L306 173 L299.5 174.5 L293 176 L286.5 177.8 L280 179.5 L274 181.8 L268 184 L258 185.5 L248 181 L238 179 L231.1 181 L224.2 182.3 L217.2 183.8 L210.2 185.3 L203.2 187 L196 188 L189 189.8 L182 191.5 L174 190.5 L168 186.5 L160 185.5 L152 188 L144 191 L129 196.6Z" fill="#dbdbdb" filter="url(#b2)" style="mix-blend-mode:lighten"/>
<path d="M129 196.6 L144 191 L152 188 L160 185.5 L168 186.5 L174 190.5 L182 191.5 L189 189.8 L196 188 L203 186.2 L209.8 183.7 L216.8 182.2 L223.8 180.7 L231 180.2 L238 179 L248 181 L258 185.5 L268 184 L274 181.8 L280 179.5 L286.5 177.8 L293 176 L299.5 174.5 L306 173 L312 173.5 L318 174 L326 176.2 L334 178.5 L349.4 182.8 L349.4 182.8 L334 178.5 L326 176.2 L318 174 L312 173.5 L306 173 L299.5 174.5 L293 176 L286.5 177.8 L280 179.5 L274 181.8 L268 184 L258 185.5 L248 181 L238 179 L231 180.2 L224.8 185.6 L217.9 187.3 L210.9 188.6 L203 186.2 L196 188 L189 189.8 L182 191.5 L174 190.5 L168 186.5 L160 185.5 L152 188 L144 191 L129 196.6Z" fill="#e3e3e3" filter="url(#b2)"/>
<path d="M129 196.6 L144 191 L152 188 L160 185.5 L168 186.5 L174 190.5 L182 191.5 L189 189.8 L196 188 L203 186.2 L209.4 181.9 L216.4 180.2 L223.5 178.9 L231 180.2 L238 179 L248 181 L258 185.5 L268 184 L274 181.8 L280 179.5 L286.5 177.8 L293 176 L299.5 174.5 L306 173 L312 173.5 L318 174 L326 176.2 L334 178.5 L349.4 182.8 L349.4 182.8 L334 178.5 L326 176.2 L318 174 L312 173.5 L306 173 L299.5 174.5 L293 176 L286.5 177.8 L280 179.5 L274 181.8 L268 184 L258 185.5 L248 181 L238 179 L231 180.2 L224.2 182.3 L217.2 183.8 L210.2 185.3 L203 186.2 L196 188 L189 189.8 L182 191.5 L174 190.5 L168 186.5 L160 185.5 L152 188 L144 191 L129 196.6Z" fill="#e3e3e3" filter="url(#b2)" style="mix-blend-mode:lighten"/>
<path d="M129 196.6 L144 191 L152 188 L160 185.5 L168 186.5 L174 190.5 L182 191.5 L189 189.8 L196 188 L203 186.2 L210 184.5 L216.8 182.2 L224 181.5 L231 180.2 L238 179 L248 181 L258 185.5 L268 184 L274 181.8 L280 179.5 L286.5 177.8 L293 176 L299.5 174.5 L306 173 L312 173.5 L318 174 L326 176.2 L334 178.5 L349.4 182.8 L349.4 182.8 L334 178.5 L326 176.2 L318 174 L312 173.5 L306 173 L299.5 174.5 L293 176 L286.5 177.8 L280 179.5 L274 181.8 L268 184 L258 185.5 L248 181 L238 179 L231 180.2 L224 181.5 L217.7 186.4 L210 184.5 L203 186.2 L196 188 L189 189.8 L182 191.5 L174 190.5 L168 186.5 L160 185.5 L152 188 L144 191 L129 196.6Z" fill="#ebebeb" filter="url(#b2)"/>
<path d="M129 196.6 L144 191 L152 188 L160 185.5 L168 186.5 L174 190.5 L182 191.5 L189 189.8 L196 188 L203 186.2 L210 184.5 L216.6 181 L224 181.5 L231 180.2 L238 179 L248 181 L258 185.5 L268 184 L274 181.8 L280 179.5 L286.5 177.8 L293 176 L299.5 174.5 L306 173 L312 173.5 L318 174 L326 176.2 L334 178.5 L349.4 182.8 L349.4 182.8 L334 178.5 L326 176.2 L318 174 L312 173.5 L306 173 L299.5 174.5 L293 176 L286.5 177.8 L280 179.5 L274 181.8 L268 184 L258 185.5 L248 181 L238 179 L231 180.2 L224 181.5 L217.2 183.8 L210 184.5 L203 186.2 L196 188 L189 189.8 L182 191.5 L174 190.5 L168 186.5 L160 185.5 L152 188 L144 191 L129 196.6Z" fill="#ebebeb" filter="url(#b2)" style="mix-blend-mode:lighten"/>
<path d="M230 92 C225.7 92.7 218.3 103 212 110 C205.7 117 198 127 192 134 C186 141 180.7 146.3 176 152 C171.3 157.7 164 164.3 164 168 C164 171.7 171 175.7 176 174 C181 172.3 188 163.3 194 158 C200 152.7 206.3 147.7 212 142 C217.7 136.3 223.7 130 228 124 C232.3 118 237.7 111.3 238 106 C238.3 100.7 234.3 91.3 230 92Z" fill="#4f4f4f" filter="url(#b4)"/>
<ellipse cx="207" cy="126" rx="7" ry="5" fill="#474747" transform="rotate(-40 207 126)" filter="url(#b2)"/>
<g style="mix-blend-mode:lighten"><ellipse cx="300" cy="166" rx="26" ry="9" fill="#9f9f9f" transform="rotate(-12 300 166)" filter="url(#b5)"/></g>
<ellipse cx="180" cy="213.5" rx="9" ry="4" fill="#272727" transform="rotate(25 180 213.5)" filter="url(#b2)"/>
<path d="M205 214 C209.2 210.7 225.8 213.5 240 212 C254.2 210.5 273.3 207 290 205 C306.7 203 328.3 198.5 340 200 C351.7 201.5 366.7 209.7 360 214 C353.3 218.3 318.3 223 300 226 C281.7 229 264.2 231 250 232 C235.8 233 222.5 235 215 232 C207.5 229 200.8 217.3 205 214Z" fill="#525252" filter="url(#b5)"/>
<path d="M222 250 C224.8 244.2 247.3 244.2 262 240 C276.7 235.8 295.3 229.2 310 225 C324.7 220.8 339.2 213.8 350 215 C360.8 216.2 380 224.2 375 232 C370 239.8 337.5 253.2 320 262 C302.5 270.8 282.5 282.8 270 285 C257.5 287.2 253 280.8 245 275 C237 269.2 219.2 255.8 222 250Z" fill="#707070" filter="url(#b6)"/>
<path d="M275.4 316.9 C276.5 316.3 279.9 314.3 281.9 313.2 C283.8 312.1 285.3 311.1 286.9 310.1 C288.5 309.1 290.1 308.2 291.5 307.3 C293 306.4 294.4 305.5 295.7 304.7 C297.1 303.9 298.3 303.2 299.8 302.4 C301.2 301.6 302.7 300.8 304.2 299.9 C305.8 299 307.5 298.1 309.2 297.1 C310.9 296.1 312.6 295 314.2 294 C315.8 293 317.2 292.1 318.8 291.2 C320.3 290.2 322 289.2 323.7 288.1 C325.3 287.1 327 285.9 328.6 284.9 C330.2 283.9 331.7 282.8 333.2 281.9 C334.6 281 335.8 280.1 337.1 279.3 C338.5 278.4 339.8 277.7 341.3 276.8 C342.8 275.9 344.5 274.9 346.1 274 C347.6 273.1 349 272.2 350.6 271.3 C352.2 270.3 353.9 269.4 355.6 268.4 C357.3 267.4 359.9 265.9 360.8 265.5" fill="none" stroke="#242424" stroke-width="13" stroke-linecap="round" stroke-linejoin="round" filter="url(#b3)"/>
<path d="M360.3 264.6 C361.1 264.1 363.5 262.7 365 261.9 C366.4 261.1 367.6 260.5 369 259.8 C370.4 259 372.1 258.2 373.5 257.4 C374.9 256.7 376.1 256 377.4 255.3 C378.8 254.7 380 254.1 381.5 253.4 C383 252.7 384.7 251.9 386.1 251.2 C387.6 250.5 389.5 249.6 390.1 249.3" fill="none" stroke="#383838" stroke-width="10" stroke-linecap="round" stroke-linejoin="round" filter="url(#b3)"/>
<ellipse cx="293" cy="306" rx="8" ry="5" fill="#101010" transform="rotate(-35 293 306)" filter="url(#b2)"/>
<path d="M245.7 297.3 L259.6 289.3 L265.7 285.8 L272.6 281.6 L279.6 277.3 L286.3 273.5 L293 269.7 L299.8 265.5 L306.6 261.3 L313.4 256.8 L320.3 252.3 L327.4 248.1 L334.6 243.8 L342.4 239.4 L350.1 234.9 L356.9 231.3 L363.6 227.8 L370.6 224.5 L377.6 221.2 L384.6 218.2 L391.7 215.3 L397.7 212.8 L403.7 210.3 L418.5 204.1 L429.9 231.6 L415.2 237.8 L409.2 240.3 L403.2 242.8 L396.1 245.7 L389.7 248.4 L383.4 251.4 L377 254.4 L370.7 257.7 L364.5 261 L357.2 265.2 L349.6 269.5 L342.7 273.7 L335.9 277.4 L329.4 281.2 L322.2 285.8 L315 290.2 L307.8 294.7 L300.6 298.8 L294.4 302.3 L287.8 306.4 L280.5 310.8 L274.1 314.5 L260.2 322.5Z" fill="#2c2c2c" filter="url(#b1_5)"/>
<path d="M228.7 267.6 L242.6 259.6 L248.2 256.4 L254.8 252.4 L262.2 247.9 L269.4 243.8 L275.6 240.3 L281.8 236.4 L288.2 232.5 L294.6 228.2 L302.2 223.3 L310 218.7 L317.4 214.3 L325.3 209.7 L333.6 205 L341 201.1 L348.3 197.2 L355.9 193.6 L363.6 189.9 L371.4 186.7 L378.5 183.7 L384.5 181.2 L390.5 178.7 L405.3 172.5 L419.1 205.6 L404.3 211.7 L398.3 214.2 L392.3 216.7 L385.3 219.7 L378.2 222.6 L371.3 225.9 L364.4 229.2 L357.6 232.8 L350.9 236.3 L343.1 240.7 L335.4 245.2 L328.3 249.4 L321.1 253.7 L314.3 258.2 L307.4 262.7 L300.6 266.9 L293.8 271.1 L287.1 274.9 L280.4 278.7 L273.5 282.9 L266.5 287.2 L260.4 290.7 L246.5 298.7Z" fill="#2c2c2c" filter="url(#b1_5)" style="mix-blend-mode:lighten"/>
<path d="M245.7 297.3 L259.6 289.3 L265.7 285.8 L272.6 281.6 L279.6 277.3 L286.3 273.5 L293 269.7 L299.8 265.5 L306.6 261.3 L313.4 256.8 L320.3 252.3 L327.4 248.1 L334.6 243.8 L342.4 239.4 L350.1 234.9 L356.9 231.3 L363.6 227.8 L370.6 224.5 L377.6 221.2 L384.6 218.2 L391.7 215.3 L397.7 212.8 L403.7 210.3 L418.5 204.1 L429.9 231.6 L415.2 237.8 L409.2 240.3 L403.2 242.8 L396.1 245.7 L389.7 248.4 L383.4 251.4 L377 254.4 L370.7 257.7 L364.5 261 L357.2 265.2 L349.4 269.2 L342.1 272.6 L335.2 276.2 L328.7 280.1 L321.5 284.7 L314.3 289.1 L307.1 293.6 L300 297.7 L293.7 301.3 L287.2 305.3 L279.9 309.8 L273.5 313.5 L259.6 321.4Z" fill="#343434" filter="url(#b1_5)"/>
<path d="M228.7 267.6 L242.6 259.6 L248.2 256.4 L254.8 252.4 L262.2 247.9 L269.4 243.8 L275.6 240.3 L281.8 236.4 L288.2 232.5 L294.6 228.2 L302.2 223.3 L310 218.7 L317.4 214.3 L325.3 209.7 L333.6 205 L341 201.1 L348.3 197.2 L355.9 193.6 L363.6 189.9 L371.4 186.7 L378.5 183.7 L384.5 181.2 L390.5 178.7 L405.3 172.5 L419.1 205.6 L404.3 211.7 L398.3 214.2 L392.3 216.7 L385.3 219.7 L378.2 222.6 L371.3 225.9 L364.4 229.2 L357.6 232.8 L350.9 236.3 L343.1 240.7 L335.4 245.2 L328.3 249.4 L321.1 253.7 L314.3 258.2 L307.4 262.7 L300.6 266.9 L293.8 271.1 L287.1 274.9 L280.4 278.7 L273.5 282.9 L266.5 287.2 L260.4 290.7 L246.5 298.7Z" fill="#343434" filter="url(#b1_5)" style="mix-blend-mode:lighten"/>
<path d="M245.7 297.3 L259.6 289.3 L265.7 285.8 L272.6 281.6 L279.6 277.3 L286.3 273.5 L293 269.7 L299.8 265.5 L306.6 261.3 L313.4 256.8 L320.3 252.3 L327.4 248.1 L334.6 243.8 L342.4 239.4 L350.1 234.9 L356.9 231.3 L363.6 227.8 L370.6 224.5 L377.6 221.2 L384.6 218.2 L391.7 215.3 L397.7 212.8 L403.7 210.3 L418.5 204.1 L429.9 231.6 L415.2 237.8 L409.2 240.3 L403.2 242.8 L396.1 245.7 L389.7 248.4 L383.4 251.4 L377 254.4 L370.7 257.7 L364.3 260.7 L356.6 264.2 L348.7 267.9 L341.4 271.5 L334.5 275.1 L328 279 L320.8 283.6 L313.7 288 L306.5 292.5 L299.4 296.6 L293.1 300.3 L286.6 304.4 L279.3 308.8 L272.9 312.5 L259 320.5Z" fill="#3c3c3c" filter="url(#b1_5)"/>
<path d="M228.7 267.6 L242.6 259.6 L248.2 256.4 L254.8 252.4 L262.2 247.9 L269.4 243.8 L275.6 240.3 L281.8 236.4 L288.2 232.5 L294.6 228.2 L302.2 223.3 L310 218.7 L317.4 214.3 L325.3 209.7 L333.6 205 L341 201.1 L348.3 197.2 L355.9 193.6 L363.6 189.9 L371.4 186.7 L378.5 183.7 L384.5 181.2 L390.5 178.7 L405.3 172.5 L419.1 205.6 L404.3 211.7 L398.3 214.2 L392.3 216.7 L385.3 219.7 L378.2 222.6 L371.3 225.9 L364.4 229.2 L357.6 232.8 L350.9 236.3 L343.1 240.7 L335.4 245.2 L328.3 249.4 L321.1 253.7 L314.3 258.2 L307.4 262.7 L300.6 266.9 L293.8 271.1 L287.1 274.9 L280.4 278.7 L273.5 282.9 L266.5 287.2 L260.4 290.7 L246.5 298.7Z" fill="#3c3c3c" filter="url(#b1_5)" style="mix-blend-mode:lighten"/>
<path d="M245.7 297.3 L259.6 289.3 L265.7 285.8 L272.6 281.6 L279.6 277.3 L286.3 273.5 L293 269.7 L299.8 265.5 L306.6 261.3 L313.4 256.8 L320.3 252.3 L327.4 248.1 L334.6 243.8 L342.4 239.4 L350.1 234.9 L356.9 231.3 L363.6 227.8 L370.6 224.5 L377.6 221.2 L384.6 218.2 L391.7 215.3 L397.7 212.8 L403.7 210.3 L418.5 204.1 L429.9 231.6 L415.2 237.8 L409.2 240.3 L403.2 242.8 L396.1 245.7 L389.7 248.4 L383.4 251.4 L376.8 254.2 L370.2 256.7 L363.6 259.3 L355.9 262.9 L348 266.8 L340.7 270.4 L333.8 274 L327.3 278 L320.2 282.7 L313.1 287 L305.9 291.5 L298.9 295.6 L292.6 299.3 L286 303.5 L278.8 307.9 L272.4 311.6 L258.5 319.5Z" fill="#444444" filter="url(#b1_5)"/>
<path d="M228.7 267.6 L242.6 259.6 L248.2 256.4 L254.8 252.4 L262.2 247.9 L269.4 243.8 L275.6 240.3 L281.8 236.4 L288.2 232.5 L294.6 228.2 L302.2 223.3 L310 218.7 L317.4 214.3 L325.3 209.7 L333.6 205 L341 201.1 L348.3 197.2 L355.9 193.6 L363.6 189.9 L371.4 186.7 L378.5 183.7 L384.5 181.2 L390.5 178.7 L405.3 172.5 L419.1 205.6 L404.3 211.7 L398.3 214.2 L392.3 216.7 L385.3 219.7 L378.2 222.6 L371.3 225.9 L364.4 229.2 L357.6 232.8 L350.9 236.3 L343.1 240.7 L335.4 245.2 L328.3 249.4 L321.1 253.7 L314.3 258.2 L307.4 262.7 L300.6 266.9 L293.8 271.1 L287.1 274.9 L280.4 278.7 L273.5 282.9 L266.5 287.2 L260.4 290.7 L246.5 298.7Z" fill="#444444" filter="url(#b1_5)" style="mix-blend-mode:lighten"/>
<path d="M245.7 297.3 L259.6 289.3 L265.7 285.8 L272.6 281.6 L279.6 277.3 L286.3 273.5 L293 269.7 L299.8 265.5 L306.6 261.3 L313.4 256.8 L320.3 252.3 L327.4 248.1 L334.6 243.8 L342.4 239.4 L350.1 234.9 L356.9 231.3 L363.6 227.8 L370.6 224.5 L377.6 221.2 L384.6 218.2 L391.7 215.3 L397.7 212.8 L403.7 210.3 L418.5 204.1 L429.9 231.6 L415.2 237.8 L409.2 240.3 L403.2 242.8 L396.1 245.7 L389.6 248.2 L382.9 250.3 L376.1 252.6 L369.5 255.3 L362.9 258.1 L355.2 261.8 L347.4 265.7 L340.1 269.3 L333.2 273 L326.7 277.1 L319.5 281.7 L312.5 286.1 L305.3 290.5 L298.3 294.7 L292 298.4 L285.5 302.6 L278.3 307 L271.9 310.7 L258 318.6Z" fill="#4c4c4c" filter="url(#b1_5)"/>
<path d="M228.7 267.6 L242.6 259.6 L248.2 256.4 L254.8 252.4 L262.2 247.9 L269.4 243.8 L275.6 240.3 L281.8 236.4 L288.2 232.5 L294.6 228.2 L302.2 223.3 L310 218.7 L317.4 214.3 L325.3 209.7 L333.6 205 L341 201.1 L348.3 197.2 L355.9 193.6 L363.6 189.9 L371.4 186.7 L378.5 183.7 L384.5 181.2 L390.5 178.7 L405.3 172.5 L419.1 205.6 L404.3 211.7 L398.3 214.2 L392.3 216.7 L385.3 219.7 L378.2 222.6 L371.3 225.9 L364.4 229.2 L357.6 232.8 L350.9 236.3 L343.1 240.7 L335.4 245.2 L328.3 249.4 L321.1 253.7 L314.3 258.2 L307.4 262.7 L300.6 266.9 L293.8 271.1 L287.1 274.9 L280.4 278.7 L273.5 282.9 L266.5 287.2 L260.4 290.7 L246.5 298.7Z" fill="#4c4c4c" filter="url(#b1_5)" style="mix-blend-mode:lighten"/>
<path d="M245.7 297.3 L259.6 289.3 L265.7 285.8 L272.6 281.6 L279.6 277.3 L286.3 273.5 L293 269.7 L299.8 265.5 L306.6 261.3 L313.4 256.8 L320.3 252.3 L327.4 248.1 L334.6 243.8 L342.4 239.4 L350.1 234.9 L356.9 231.3 L363.6 227.8 L370.6 224.5 L377.6 221.2 L384.6 218.2 L391.7 215.3 L397.7 212.8 L403.7 210.3 L418.5 204.1 L429.1 229.7 L414.4 235.8 L408.4 238.4 L402.4 240.9 L395.4 243.9 L388.9 246.5 L382.2 248.8 L375.4 251.3 L368.8 254 L362.2 256.9 L354.6 260.7 L346.7 264.6 L339.5 268.3 L332.6 272 L326.1 276.1 L318.9 280.7 L311.9 285.1 L304.8 289.6 L297.8 293.7 L291.5 297.5 L284.9 301.7 L277.7 306.1 L271.3 309.8 L257.5 317.7Z" fill="#545454" filter="url(#b1_5)"/>
<path d="M228.7 267.6 L242.6 259.6 L248.2 256.4 L254.8 252.4 L262.2 247.9 L269.4 243.8 L275.6 240.3 L281.8 236.4 L288.2 232.5 L294.6 228.2 L302.2 223.3 L310 218.7 L317.4 214.3 L325.3 209.7 L333.6 205 L341 201.1 L348.3 197.2 L355.9 193.6 L363.6 189.9 L371.4 186.7 L378.5 183.7 L384.5 181.2 L390.5 178.7 L405.3 172.5 L419.1 205.6 L404.3 211.7 L398.3 214.2 L392.3 216.7 L385.3 219.7 L378.2 222.6 L371.3 225.9 L364.4 229.2 L357.6 232.8 L350.9 236.3 L343.1 240.7 L335.4 245.2 L328.3 249.4 L321.1 253.7 L314.3 258.2 L307.4 262.7 L300.6 266.9 L293.8 271.1 L287.1 274.9 L280.4 278.7 L273.5 282.9 L266.5 287.2 L260.4 290.7 L246.5 298.7Z" fill="#545454" filter="url(#b1_5)" style="mix-blend-mode:lighten"/>
<path d="M245.7 297.3 L259.6 289.3 L265.7 285.8 L272.6 281.6 L279.6 277.3 L286.3 273.5 L293 269.7 L299.8 265.5 L306.6 261.3 L313.4 256.8 L320.3 252.3 L327.4 248.1 L334.6 243.8 L342.4 239.4 L350.1 234.9 L356.9 231.3 L363.6 227.8 L370.6 224.5 L377.6 221.2 L384.6 218.2 L391.7 215.3 L397.7 212.8 L403.7 210.3 L418.5 204.1 L428.4 228 L413.7 234.2 L407.7 236.7 L401.7 239.3 L394.7 242.3 L388.2 245 L381.5 247.4 L374.7 250 L368.2 252.8 L361.6 255.7 L354 259.6 L346.1 263.6 L338.9 267.3 L332 271.1 L325.5 275.2 L318.4 279.8 L311.3 284.2 L304.2 288.7 L297.2 292.8 L291 296.6 L284.4 300.8 L277.2 305.2 L270.8 308.9 L257 316.9Z" fill="#5c5c5c" filter="url(#b1_5)"/>
<path d="M228.7 267.6 L242.6 259.6 L248.2 256.4 L254.8 252.4 L262.2 247.9 L269.4 243.8 L275.6 240.3 L281.8 236.4 L288.2 232.5 L294.6 228.2 L302.2 223.3 L310 218.7 L317.4 214.3 L325.3 209.7 L333.6 205 L341 201.1 L348.3 197.2 L355.9 193.6 L363.6 189.9 L371.4 186.7 L378.5 183.7 L384.5 181.2 L390.5 178.7 L405.3 172.5 L419.1 205.6 L404.3 211.7 L398.3 214.2 L392.3 216.7 L385.3 219.7 L378.2 222.6 L371.3 225.9 L364.4 229.2 L357.6 232.8 L350.9 236.3 L343.1 240.7 L335.4 245.2 L328.3 249.4 L321.1 253.7 L314.3 258.2 L307.4 262.7 L300.6 266.9 L293.8 271.1 L287.1 274.9 L280.4 278.7 L273.5 282.9 L266.5 287.2 L260.4 290.7 L246.5 298.7Z" fill="#5c5c5c" filter="url(#b1_5)" style="mix-blend-mode:lighten"/>
<path d="M245.7 297.3 L259.6 289.3 L265.7 285.8 L272.6 281.6 L279.6 277.3 L286.3 273.5 L293 269.7 L299.8 265.5 L306.6 261.3 L313.4 256.8 L320.3 252.3 L327.4 248.1 L334.6 243.8 L342.4 239.4 L350.1 234.9 L356.9 231.3 L363.6 227.8 L370.6 224.5 L377.6 221.2 L384.6 218.2 L391.7 215.3 L397.7 212.8 L403.7 210.3 L418.5 204.1 L427.8 226.4 L413 232.6 L407 235.2 L401.1 237.7 L394.1 240.8 L387.6 243.5 L380.9 246.1 L374.1 248.7 L367.6 251.6 L361 254.6 L353.4 258.5 L345.5 262.5 L338.3 266.3 L331.4 270.1 L324.9 274.3 L317.8 278.9 L310.7 283.3 L303.7 287.7 L296.7 291.9 L290.4 295.7 L283.9 300 L276.7 304.4 L270.3 308 L256.5 316Z" fill="#646464" filter="url(#b1_5)"/>
<path d="M228.7 267.6 L242.6 259.6 L248.2 256.4 L254.8 252.4 L262.2 247.9 L269.4 243.8 L275.6 240.3 L281.8 236.4 L288.2 232.5 L294.6 228.2 L302.2 223.3 L310 218.7 L317.4 214.3 L325.3 209.7 L333.6 205 L341 201.1 L348.3 197.2 L355.9 193.6 L363.6 189.9 L371.4 186.7 L378.5 183.7 L384.5 181.2 L390.5 178.7 L405.3 172.5 L419.1 205.6 L404.3 211.7 L398.3 214.2 L392.3 216.7 L385.3 219.7 L378.2 222.6 L371.3 225.9 L364.4 229.2 L357.6 232.8 L350.9 236.3 L343.1 240.7 L335.4 245.2 L328.3 249.4 L321.1 253.7 L314.3 258.2 L307.4 262.7 L300.6 266.9 L293.8 271.1 L287.1 274.9 L280.4 278.7 L273.5 282.9 L266.5 287.2 L260.4 290.7 L246.5 298.7Z" fill="#646464" filter="url(#b1_5)" style="mix-blend-mode:lighten"/>
<path d="M245.7 297.3 L259.6 289.3 L265.7 285.8 L272.6 281.6 L279.6 277.3 L286.3 273.5 L293 269.7 L299.8 265.5 L306.6 261.3 L313.4 256.8 L320.3 252.3 L327.4 248.1 L334.6 243.8 L342.4 239.4 L350.1 234.9 L356.9 231.3 L363.6 227.8 L370.6 224.5 L377.6 221.2 L384.6 218.2 L391.7 215.3 L397.7 212.8 L403.7 210.3 L418.5 204.1 L427.1 224.9 L412.4 231.1 L406.4 233.7 L400.5 236.3 L393.5 239.4 L386.9 242.2 L380.3 244.8 L373.5 247.5 L366.9 250.5 L360.4 253.5 L352.8 257.5 L344.9 261.5 L337.7 265.4 L330.8 269.2 L324.3 273.4 L317.2 278 L310.2 282.3 L303.1 286.8 L296.2 291 L289.9 294.8 L283.4 299.1 L276.2 303.5 L269.9 307.2 L256 315.1Z" fill="#6c6c6c" filter="url(#b1_5)"/>
<path d="M230.4 270.6 L244.3 262.6 L250 259.4 L256.6 255.3 L264 250.9 L271.2 246.9 L277.5 243.5 L283.8 239.6 L290.2 235.7 L296.7 231.4 L304.2 226.6 L311.9 222 L319.3 217.6 L327.2 213.1 L335.5 208.4 L342.8 204.6 L350.1 200.8 L357.7 197.2 L365.3 193.7 L373 190.5 L380.2 187.6 L386.2 185.2 L392.2 182.7 L407 176.6 L419.1 205.6 L404.3 211.7 L398.3 214.2 L392.3 216.7 L385.3 219.7 L378.2 222.6 L371.3 225.9 L364.4 229.2 L357.6 232.8 L350.9 236.3 L343.1 240.7 L335.4 245.2 L328.3 249.4 L321.1 253.7 L314.3 258.2 L307.4 262.7 L300.6 266.9 L293.8 271.1 L287.1 274.9 L280.4 278.7 L273.5 282.9 L266.5 287.2 L260.4 290.7 L246.5 298.7Z" fill="#6c6c6c" filter="url(#b1_5)" style="mix-blend-mode:lighten"/>
<path d="M245.7 297.3 L259.6 289.3 L265.7 285.8 L272.6 281.6 L279.6 277.3 L286.3 273.5 L293 269.7 L299.8 265.5 L306.6 261.3 L313.4 256.8 L320.3 252.3 L327.4 248.1 L334.6 243.8 L342.4 239.4 L350.1 234.9 L356.9 231.3 L363.6 227.8 L370.6 224.5 L377.6 221.2 L384.6 218.2 L391.7 215.3 L397.7 212.8 L403.7 210.3 L418.5 204.1 L426.5 223.4 L411.7 229.6 L405.8 232.2 L399.9 234.8 L392.9 238 L386.3 240.8 L379.7 243.5 L372.9 246.3 L366.3 249.3 L359.8 252.4 L352.2 256.4 L344.4 260.5 L337.2 264.4 L330.2 268.3 L323.7 272.5 L316.6 277.1 L309.6 281.4 L302.6 285.9 L295.7 290.1 L289.4 294 L282.9 298.3 L275.7 302.7 L269.4 306.3 L255.5 314.3Z" fill="#747474" filter="url(#b1_5)"/>
<path d="M232.1 273.5 L246 265.6 L251.7 262.3 L258.4 258.2 L265.8 253.9 L273 250 L279.3 246.6 L285.7 242.8 L292.2 238.8 L298.7 234.5 L306.2 229.7 L313.9 225.2 L321.2 220.8 L329.1 216.3 L337.3 211.7 L344.6 208 L351.9 204.3 L359.4 200.8 L366.9 197.3 L374.6 194.3 L381.8 191.5 L387.8 189.1 L393.9 186.7 L408.6 180.5 L419.1 205.6 L404.3 211.7 L398.3 214.2 L392.3 216.7 L385.3 219.7 L378.2 222.6 L371.3 225.9 L364.4 229.2 L357.6 232.8 L350.9 236.3 L343.1 240.7 L335.4 245.2 L328.3 249.4 L321.1 253.7 L314.3 258.2 L307.4 262.7 L300.6 266.9 L293.8 271.1 L287.1 274.9 L280.4 278.7 L273.5 282.9 L266.5 287.2 L260.4 290.7 L246.5 298.7Z" fill="#747474" filter="url(#b1_5)" style="mix-blend-mode:lighten"/>
<path d="M245.7 297.3 L259.6 289.3 L265.7 285.8 L272.6 281.6 L279.6 277.3 L286.3 273.5 L293 269.7 L299.8 265.5 L306.6 261.3 L313.4 256.8 L320.3 252.3 L327.4 248.1 L334.6 243.8 L342.4 239.4 L350.1 234.9 L356.9 231.3 L363.6 227.8 L370.6 224.5 L377.6 221.2 L384.6 218.2 L391.7 215.3 L397.7 212.8 L403.7 210.3 L418.5 204.1 L425.9 222 L411.1 228.1 L405.2 230.7 L399.3 233.4 L392.3 236.6 L385.8 239.5 L379.1 242.3 L372.3 245.1 L365.8 248.2 L359.2 251.4 L351.6 255.4 L343.8 259.6 L336.6 263.4 L329.7 267.4 L323.1 271.6 L316.1 276.2 L309.1 280.6 L302.1 285.1 L295.2 289.2 L288.9 293.1 L282.4 297.5 L275.2 301.9 L268.9 305.5 L255 313.5Z" fill="#7c7c7c" filter="url(#b1_5)"/>
<path d="M233.4 275.7 L247.3 267.8 L253 264.5 L259.7 260.4 L267.1 256.2 L274.3 252.4 L280.7 249 L287.2 245.1 L293.7 241.1 L300.3 236.8 L307.7 232.1 L315.3 227.6 L322.6 223.3 L330.5 218.8 L338.7 214.2 L345.9 210.6 L353.2 206.9 L360.6 203.5 L368.1 200.1 L375.8 197.1 L383 194.4 L389 192 L395.1 189.7 L409.9 183.5 L419.1 205.6 L404.3 211.7 L398.3 214.2 L392.3 216.7 L385.3 219.7 L378.2 222.6 L371.3 225.9 L364.4 229.2 L357.6 232.8 L350.9 236.3 L343.1 240.7 L335.4 245.2 L328.3 249.4 L321.1 253.7 L314.3 258.2 L307.4 262.7 L300.6 266.9 L293.8 271.1 L287.1 274.9 L280.4 278.7 L273.5 282.9 L266.5 287.2 L260.4 290.7 L246.5 298.7Z" fill="#7c7c7c" filter="url(#b1_5)" style="mix-blend-mode:lighten"/>
<path d="M245.7 297.3 L259.6 289.3 L265.7 285.8 L272.6 281.6 L279.6 277.3 L286.3 273.5 L293 269.7 L299.8 265.5 L306.6 261.3 L313.4 256.8 L320.3 252.3 L327.4 248.1 L334.6 243.8 L342.4 239.4 L350.1 234.9 L356.9 231.3 L363.6 227.8 L370.6 224.5 L377.6 221.2 L384.6 218.2 L391.7 215.3 L397.7 212.8 L403.7 210.3 L418.5 204.1 L425.3 220.5 L410.5 226.7 L404.6 229.3 L398.7 232 L391.8 235.2 L385.2 238.2 L378.5 241 L371.7 243.9 L365.2 247.1 L358.6 250.3 L351 254.4 L343.2 258.6 L336 262.5 L329.1 266.4 L322.5 270.7 L315.5 275.4 L308.5 279.7 L301.6 284.2 L294.7 288.3 L288.4 292.3 L281.9 296.7 L274.7 301.1 L268.4 304.7 L254.6 312.7Z" fill="#838383" filter="url(#b1_5)"/>
<path d="M234.5 277.6 L248.3 269.7 L254.1 266.3 L260.8 262.3 L268.3 258.1 L275.5 254.4 L281.9 251 L288.4 247.2 L295 243.1 L301.6 238.8 L308.9 234.2 L316.5 229.7 L323.8 225.4 L331.8 220.9 L339.9 216.4 L347.1 212.8 L354.3 209.1 L361.7 205.8 L369.2 202.4 L376.8 199.5 L384 196.9 L390.1 194.5 L396.2 192.2 L410.9 186 L419.1 205.6 L404.3 211.7 L398.3 214.2 L392.3 216.7 L385.3 219.7 L378.2 222.6 L371.3 225.9 L364.4 229.2 L357.6 232.8 L350.9 236.3 L343.1 240.7 L335.4 245.2 L328.3 249.4 L321.1 253.7 L314.3 258.2 L307.4 262.7 L300.6 266.9 L293.8 271.1 L287.1 274.9 L280.4 278.7 L273.5 282.9 L266.5 287.2 L260.4 290.7 L246.5 298.7Z" fill="#838383" filter="url(#b1_5)" style="mix-blend-mode:lighten"/>
<path d="M245.7 297.3 L259.6 289.3 L265.7 285.8 L272.6 281.6 L279.6 277.3 L286.3 273.5 L293 269.7 L299.8 265.5 L306.6 261.3 L313.4 256.8 L320.3 252.3 L327.4 248.1 L334.6 243.8 L342.4 239.4 L350.1 234.9 L356.9 231.3 L363.6 227.8 L370.6 224.5 L377.6 221.2 L384.6 218.2 L391.7 215.3 L397.7 212.8 L403.7 210.3 L418.5 204.1 L424.7 219.1 L409.9 225.3 L404 227.9 L398.1 230.6 L391.2 233.9 L384.6 236.9 L377.9 239.8 L371.1 242.8 L364.6 246 L358 249.3 L350.4 253.4 L342.7 257.6 L335.5 261.6 L328.5 265.6 L322 269.9 L315 274.5 L308 278.8 L301.1 283.3 L294.2 287.5 L287.9 291.5 L281.4 295.9 L274.3 300.3 L268 303.9 L254.1 311.8Z" fill="#8b8b8b" filter="url(#b1_5)"/>
<path d="M235.4 279.3 L249.3 271.4 L255.1 268 L261.9 263.9 L269.3 259.8 L276.5 256.2 L283 252.8 L289.6 249 L296.1 244.9 L302.8 240.6 L310.1 236 L317.6 231.6 L324.9 227.3 L332.8 222.8 L341 218.3 L348.1 214.7 L355.3 211.1 L362.7 207.8 L370.1 204.5 L377.7 201.7 L384.9 199.1 L391 196.8 L397.1 194.5 L411.9 188.3 L419.1 205.6 L404.3 211.7 L398.3 214.2 L392.3 216.7 L385.3 219.7 L378.2 222.6 L371.3 225.9 L364.4 229.2 L357.6 232.8 L350.9 236.3 L343.1 240.7 L335.4 245.2 L328.3 249.4 L321.1 253.7 L314.3 258.2 L307.4 262.7 L300.6 266.9 L293.8 271.1 L287.1 274.9 L280.4 278.7 L273.5 282.9 L266.5 287.2 L260.4 290.7 L246.5 298.7Z" fill="#8b8b8b" filter="url(#b1_5)" style="mix-blend-mode:lighten"/>
<path d="M245.7 297.3 L259.6 289.3 L265.7 285.8 L272.6 281.6 L279.6 277.3 L286.3 273.5 L293 269.7 L299.8 265.5 L306.6 261.3 L313.4 256.8 L320.3 252.3 L327.4 248.1 L334.6 243.8 L342.4 239.4 L350.1 234.9 L356.9 231.3 L363.6 227.8 L370.6 224.5 L377.6 221.2 L384.6 218.2 L391.7 215.3 L397.7 212.8 L403.7 210.3 L418.5 204.1 L424.1 217.7 L409.4 223.9 L403.4 226.6 L397.5 229.3 L390.6 232.6 L384 235.6 L377.3 238.6 L370.6 241.7 L364 244.9 L357.5 248.2 L349.9 252.4 L342.1 256.7 L334.9 260.7 L328 264.7 L321.4 269 L314.4 273.6 L307.4 277.9 L300.5 282.4 L293.7 286.6 L287.4 290.6 L280.9 295.1 L273.8 299.5 L267.5 303.1 L253.6 311Z" fill="#939393" filter="url(#b1_5)"/>
<path d="M236.3 280.9 L250.2 272.9 L256 269.6 L262.8 265.5 L270.2 261.4 L277.4 257.8 L284 254.5 L290.6 250.6 L297.2 246.6 L303.8 242.3 L311.1 237.7 L318.7 233.3 L325.9 229 L333.8 224.5 L341.9 220.1 L349.1 216.5 L356.2 213 L363.6 209.7 L371 206.4 L378.6 203.7 L385.8 201.1 L391.9 198.8 L398 196.6 L412.8 190.4 L419.1 205.6 L404.3 211.7 L398.3 214.2 L392.3 216.7 L385.3 219.7 L378.2 222.6 L371.3 225.9 L364.4 229.2 L357.6 232.8 L350.9 236.3 L343.1 240.7 L335.4 245.2 L328.3 249.4 L321.1 253.7 L314.3 258.2 L307.4 262.7 L300.6 266.9 L293.8 271.1 L287.1 274.9 L280.4 278.7 L273.5 282.9 L266.5 287.2 L260.4 290.7 L246.5 298.7Z" fill="#939393" filter="url(#b1_5)" style="mix-blend-mode:lighten"/>
<path d="M245.7 297.3 L259.6 289.3 L265.7 285.8 L272.6 281.6 L279.6 277.3 L286.3 273.5 L293 269.7 L299.8 265.5 L306.6 261.3 L313.4 256.8 L320.3 252.3 L327.4 248.1 L334.6 243.8 L342.4 239.4 L350.1 234.9 L356.9 231.3 L363.6 227.8 L370.6 224.5 L377.6 221.2 L384.6 218.2 L391.7 215.3 L397.7 212.8 L403.7 210.3 L418.5 204.1 L423.6 216.3 L408.8 222.5 L402.9 225.2 L397 227.9 L390.1 231.3 L383.5 234.4 L376.8 237.4 L370 240.5 L363.5 243.9 L356.9 247.2 L349.3 251.5 L341.6 255.7 L334.4 259.7 L327.4 263.8 L320.9 268.2 L313.9 272.8 L306.9 277.1 L300 281.6 L293.3 285.8 L287 289.8 L280.4 294.3 L273.3 298.7 L267 302.3 L253.2 310.2Z" fill="#9b9b9b" filter="url(#b1_5)"/>
<path d="M237.1 282.3 L251 274.4 L256.9 271 L263.7 266.9 L271.1 262.9 L278.3 259.3 L284.9 256 L291.5 252.2 L298.1 248.1 L304.8 243.8 L312.1 239.2 L319.6 234.9 L326.9 230.6 L334.8 226.2 L342.9 221.7 L350 218.2 L357.1 214.7 L364.4 211.5 L371.8 208.2 L379.3 205.5 L386.6 203 L392.7 200.8 L398.8 198.5 L413.6 192.4 L419.1 205.6 L404.3 211.7 L398.3 214.2 L392.3 216.7 L385.3 219.7 L378.2 222.6 L371.3 225.9 L364.4 229.2 L357.6 232.8 L350.9 236.3 L343.1 240.7 L335.4 245.2 L328.3 249.4 L321.1 253.7 L314.3 258.2 L307.4 262.7 L300.6 266.9 L293.8 271.1 L287.1 274.9 L280.4 278.7 L273.5 282.9 L266.5 287.2 L260.4 290.7 L246.5 298.7Z" fill="#9b9b9b" filter="url(#b1_5)" style="mix-blend-mode:lighten"/>
<path d="M245.7 297.3 L259.6 289.3 L265.7 285.8 L272.6 281.6 L279.6 277.3 L286.3 273.5 L293 269.7 L299.8 265.5 L306.6 261.3 L313.4 256.8 L320.3 252.3 L327.4 248.1 L334.6 243.8 L342.4 239.4 L350.1 234.9 L356.9 231.3 L363.6 227.8 L370.6 224.5 L377.6 221.2 L384.6 218.2 L391.7 215.3 L397.7 212.8 L403.7 210.3 L418.5 204.1 L423 215 L408.2 221.1 L402.3 223.8 L396.4 226.6 L389.6 230 L382.9 233.1 L376.2 236.3 L369.5 239.4 L362.9 242.8 L356.3 246.2 L348.8 250.5 L341 254.8 L333.8 258.8 L326.9 262.9 L320.3 267.3 L313.3 271.9 L306.4 276.2 L299.5 280.7 L292.8 284.9 L286.5 289 L279.9 293.5 L272.9 297.9 L266.6 301.5 L252.7 309.4Z" fill="#a3a3a3" filter="url(#b1_5)"/>
<path d="M237.9 283.7 L251.8 275.7 L257.7 272.4 L264.5 268.2 L271.9 264.3 L279.1 260.8 L285.7 257.5 L292.4 253.6 L299.1 249.6 L305.8 245.2 L313 240.7 L320.5 236.4 L327.8 232.1 L335.7 227.7 L343.7 223.3 L350.8 219.8 L357.9 216.3 L365.2 213.1 L372.6 209.9 L380.1 207.3 L387.3 204.8 L393.5 202.6 L399.6 200.4 L414.3 194.2 L419.1 205.6 L404.3 211.7 L398.3 214.2 L392.3 216.7 L385.3 219.7 L378.2 222.6 L371.3 225.9 L364.4 229.2 L357.6 232.8 L350.9 236.3 L343.1 240.7 L335.4 245.2 L328.3 249.4 L321.1 253.7 L314.3 258.2 L307.4 262.7 L300.6 266.9 L293.8 271.1 L287.1 274.9 L280.4 278.7 L273.5 282.9 L266.5 287.2 L260.4 290.7 L246.5 298.7Z" fill="#a3a3a3" filter="url(#b1_5)" style="mix-blend-mode:lighten"/>
<path d="M245.7 297.3 L259.6 289.3 L265.7 285.8 L272.6 281.6 L279.6 277.3 L286.3 273.5 L293 269.7 L299.8 265.5 L306.6 261.3 L313.4 256.8 L320.3 252.3 L327.4 248.1 L334.6 243.8 L342.4 239.4 L350.1 234.9 L356.9 231.3 L363.6 227.8 L370.6 224.5 L377.6 221.2 L384.6 218.2 L391.7 215.3 L397.7 212.8 L403.7 210.3 L418.5 204.1 L422.4 213.6 L407.6 219.7 L401.8 222.5 L395.9 225.3 L389 228.7 L382.4 231.9 L375.6 235.1 L368.9 238.3 L362.3 241.7 L355.8 245.2 L348.2 249.5 L340.5 253.9 L333.3 257.9 L326.3 262 L319.8 266.5 L312.8 271.1 L305.9 275.4 L299 279.9 L292.3 284.1 L286 288.2 L279.5 292.7 L272.4 297.1 L266.1 300.7 L252.2 308.6Z" fill="#ababab" filter="url(#b1_5)"/>
<path d="M238.7 285 L252.6 277 L258.5 273.6 L265.3 269.5 L272.7 265.6 L279.9 262.2 L286.6 258.8 L293.3 255 L299.9 250.9 L306.7 246.6 L313.9 242.1 L321.4 237.8 L328.6 233.5 L336.5 229.1 L344.5 224.8 L351.6 221.3 L358.7 217.9 L366 214.7 L373.3 211.5 L380.8 208.9 L388 206.5 L394.2 204.3 L400.3 202.1 L415.1 195.9 L419.1 205.6 L404.3 211.7 L398.3 214.2 L392.3 216.7 L385.3 219.7 L378.2 222.6 L371.3 225.9 L364.4 229.2 L357.6 232.8 L350.9 236.3 L343.1 240.7 L335.4 245.2 L328.3 249.4 L321.1 253.7 L314.3 258.2 L307.4 262.7 L300.6 266.9 L293.8 271.1 L287.1 274.9 L280.4 278.7 L273.5 282.9 L266.5 287.2 L260.4 290.7 L246.5 298.7Z" fill="#ababab" filter="url(#b1_5)" style="mix-blend-mode:lighten"/>
<path d="M245.7 297.3 L259.6 289.3 L265.7 285.8 L272.6 281.6 L279.6 277.3 L286.3 273.5 L293 269.7 L299.8 265.5 L306.6 261.3 L313.4 256.8 L320.3 252.3 L327.4 248.1 L334.6 243.8 L342.4 239.4 L350.1 234.9 L356.9 231.3 L363.6 227.8 L370.6 224.5 L377.6 221.2 L384.6 218.2 L391.7 215.3 L397.7 212.8 L403.7 210.3 L418.5 204.1 L421.9 212.3 L407.1 218.4 L401.2 221.2 L395.3 224 L388.5 227.4 L381.8 230.7 L375.1 233.9 L368.3 237.2 L361.8 240.7 L355.2 244.2 L347.7 248.6 L339.9 253 L332.8 257 L325.8 261.2 L319.2 265.7 L312.3 270.3 L305.3 274.5 L298.5 279.1 L291.8 283.3 L285.5 287.4 L279 291.9 L271.9 296.3 L265.7 299.9 L251.8 307.9Z" fill="#b3b3b3" filter="url(#b1_5)"/>
<path d="M239.4 286.2 L253.3 278.3 L259.2 274.9 L266 270.8 L273.4 266.9 L280.6 263.5 L287.3 260.2 L294.1 256.4 L300.8 252.2 L307.5 247.9 L314.7 243.5 L322.2 239.2 L329.4 234.9 L337.3 230.5 L345.3 226.2 L352.4 222.8 L359.4 219.4 L366.7 216.2 L374 213.1 L381.4 210.5 L388.7 208.1 L394.9 206 L401 203.8 L415.8 197.6 L419.1 205.6 L404.3 211.7 L398.3 214.2 L392.3 216.7 L385.3 219.7 L378.2 222.6 L371.3 225.9 L364.4 229.2 L357.6 232.8 L350.9 236.3 L343.1 240.7 L335.4 245.2 L328.3 249.4 L321.1 253.7 L314.3 258.2 L307.4 262.7 L300.6 266.9 L293.8 271.1 L287.1 274.9 L280.4 278.7 L273.5 282.9 L266.5 287.2 L260.4 290.7 L246.5 298.7Z" fill="#b3b3b3" filter="url(#b1_5)" style="mix-blend-mode:lighten"/>
<path d="M245.7 297.3 L259.6 289.3 L265.7 285.8 L272.6 281.6 L279.6 277.3 L286.3 273.5 L293 269.7 L299.8 265.5 L306.6 261.3 L313.4 256.8 L320.3 252.3 L327.4 248.1 L334.6 243.8 L342.4 239.4 L350.1 234.9 L356.9 231.3 L363.6 227.8 L370.6 224.5 L377.6 221.2 L384.6 218.2 L391.7 215.3 L397.7 212.8 L403.7 210.3 L418.5 204.1 L421.3 210.9 L406.5 217.1 L400.6 219.9 L394.8 222.7 L388 226.2 L381.3 229.5 L374.6 232.8 L367.8 236.1 L361.2 239.7 L354.7 243.2 L347.1 247.6 L339.4 252 L332.2 256.1 L325.3 260.3 L318.7 264.8 L311.7 269.4 L304.8 273.7 L298 278.2 L291.4 282.4 L285.1 286.6 L278.5 291.2 L271.5 295.5 L265.2 299.1 L251.3 307.1Z" fill="#bbbbbb" filter="url(#b1_5)"/>
<path d="M240.1 287.4 L254 279.5 L259.9 276.1 L266.7 271.9 L274.2 268.1 L281.3 264.7 L288.1 261.4 L294.9 257.6 L301.6 253.5 L308.4 249.2 L315.5 244.8 L323 240.5 L330.2 236.2 L338 231.9 L346.1 227.6 L353.1 224.2 L360.1 220.8 L367.4 217.7 L374.6 214.6 L382.1 212.1 L389.4 209.7 L395.5 207.5 L401.7 205.4 L416.4 199.2 L419.1 205.6 L404.3 211.7 L398.3 214.2 L392.3 216.7 L385.3 219.7 L378.2 222.6 L371.3 225.9 L364.4 229.2 L357.6 232.8 L350.9 236.3 L343.1 240.7 L335.4 245.2 L328.3 249.4 L321.1 253.7 L314.3 258.2 L307.4 262.7 L300.6 266.9 L293.8 271.1 L287.1 274.9 L280.4 278.7 L273.5 282.9 L266.5 287.2 L260.4 290.7 L246.5 298.7Z" fill="#bbbbbb" filter="url(#b1_5)" style="mix-blend-mode:lighten"/>
<path d="M245.7 297.3 L259.6 289.3 L265.7 285.8 L272.6 281.6 L279.6 277.3 L286.3 273.5 L293 269.7 L299.8 265.5 L306.6 261.3 L313.4 256.8 L320.3 252.3 L327.4 248.1 L334.6 243.8 L342.4 239.4 L350.1 234.9 L356.9 231.3 L363.6 227.8 L370.6 224.5 L377.6 221.2 L384.6 218.2 L391.7 215.3 L397.7 212.8 L403.7 210.3 L418.5 204.1 L420.7 209.6 L406 215.7 L400.1 218.6 L394.2 221.4 L387.4 224.9 L380.7 228.3 L374 231.6 L367.3 235 L360.7 238.6 L354.1 242.2 L346.6 246.7 L338.9 251.1 L331.7 255.3 L324.7 259.5 L318.1 264 L311.2 268.6 L304.3 272.9 L297.5 277.4 L290.9 281.6 L284.6 285.8 L278 290.4 L271 294.8 L264.8 298.3 L250.9 306.3Z" fill="#c3c3c3" filter="url(#b1_5)"/>
<path d="M240.7 288.6 L254.6 280.6 L260.6 277.2 L267.4 273.1 L274.9 269.3 L282 266 L288.8 262.7 L295.7 258.9 L302.4 254.7 L309.2 250.4 L316.3 246 L323.7 241.8 L330.9 237.5 L338.8 233.1 L346.8 228.9 L353.8 225.5 L360.8 222.2 L368 219.1 L375.3 216 L382.7 213.5 L390 211.2 L396.2 209.1 L402.3 206.9 L417.1 200.8 L419.1 205.6 L404.3 211.7 L398.3 214.2 L392.3 216.7 L385.3 219.7 L378.2 222.6 L371.3 225.9 L364.4 229.2 L357.6 232.8 L350.9 236.3 L343.1 240.7 L335.4 245.2 L328.3 249.4 L321.1 253.7 L314.3 258.2 L307.4 262.7 L300.6 266.9 L293.8 271.1 L287.1 274.9 L280.4 278.7 L273.5 282.9 L266.5 287.2 L260.4 290.7 L246.5 298.7Z" fill="#c3c3c3" filter="url(#b1_5)" style="mix-blend-mode:lighten"/>
<path d="M245.7 297.3 L259.6 289.3 L265.7 285.8 L272.6 281.6 L279.6 277.3 L286.3 273.5 L293 269.7 L299.8 265.5 L306.6 261.3 L313.4 256.8 L320.3 252.3 L327.4 248.1 L334.6 243.8 L342.4 239.4 L350.1 234.9 L356.9 231.3 L363.6 227.8 L370.6 224.5 L377.6 221.2 L384.6 218.2 L391.7 215.3 L397.7 212.8 L403.7 210.3 L418.5 204.1 L420.2 208.3 L405.4 214.4 L399.6 217.3 L393.7 220.1 L386.9 223.7 L380.2 227.1 L373.5 230.5 L366.7 233.9 L360.2 237.6 L353.6 241.2 L346 245.8 L338.3 250.2 L331.2 254.4 L324.2 258.6 L317.6 263.2 L310.7 267.8 L303.8 272 L297 276.6 L290.4 280.8 L284.1 285 L277.6 289.6 L270.5 294 L264.3 297.6 L250.5 305.5Z" fill="#cbcbcb" filter="url(#b1_5)"/>
<path d="M241.4 289.7 L255.2 281.7 L261.2 278.3 L268.1 274.2 L275.5 270.4 L282.7 267.1 L289.5 263.9 L296.4 260.1 L303.1 255.9 L309.9 251.6 L317.1 247.2 L324.4 243 L331.6 238.7 L339.5 234.4 L347.5 230.1 L354.5 226.8 L361.5 223.5 L368.7 220.4 L375.9 217.4 L383.3 215 L390.6 212.7 L396.8 210.6 L402.9 208.4 L417.7 202.3 L419.1 205.6 L404.3 211.7 L398.3 214.2 L392.3 216.7 L385.3 219.7 L378.2 222.6 L371.3 225.9 L364.4 229.2 L357.6 232.8 L350.9 236.3 L343.1 240.7 L335.4 245.2 L328.3 249.4 L321.1 253.7 L314.3 258.2 L307.4 262.7 L300.6 266.9 L293.8 271.1 L287.1 274.9 L280.4 278.7 L273.5 282.9 L266.5 287.2 L260.4 290.7 L246.5 298.7Z" fill="#cbcbcb" filter="url(#b1_5)" style="mix-blend-mode:lighten"/>
<path d="M245.7 297.3 L259.6 289.3 L265.7 285.8 L272.6 281.6 L279.6 277.3 L286.3 273.5 L293 269.7 L299.8 265.5 L306.6 261.3 L313.4 256.8 L320.3 252.3 L327.4 248.1 L334.6 243.8 L342.4 239.4 L350.1 234.9 L356.9 231.3 L363.6 227.8 L370.6 224.5 L377.6 221.2 L384.6 218.2 L391.7 215.3 L398 213.5 L404 211 L418.8 204.8 L418.8 204.8 L404 211 L398 213.5 L393.2 218.8 L386.4 222.4 L379.7 225.9 L372.9 229.4 L366.2 232.9 L359.6 236.6 L353.1 240.3 L345.5 244.8 L337.8 249.3 L330.7 253.5 L323.7 257.8 L317 262.4 L310.2 267 L303.3 271.2 L296.6 275.7 L290 280 L283.7 284.2 L277.1 288.9 L270.1 293.2 L263.9 296.8 L250 304.7Z" fill="#d3d3d3" filter="url(#b1_5)"/>
<path d="M242 290.8 L255.9 282.8 L261.9 279.4 L268.8 275.2 L276.2 271.5 L283.3 268.3 L290.2 265 L297.1 261.2 L303.9 257.1 L310.7 252.7 L317.8 248.4 L325.1 244.2 L332.3 239.9 L340.2 235.6 L348.2 231.4 L355.2 228.1 L362.1 224.8 L369.3 221.7 L376.5 218.7 L383.9 216.3 L391.2 214.1 L398 213.5 L404 211 L418.8 204.8 L418.8 204.8 L404 211 L398 213.5 L392.3 216.7 L385.3 219.7 L378.2 222.6 L371.3 225.9 L364.4 229.2 L357.6 232.8 L350.9 236.3 L343.1 240.7 L335.4 245.2 L328.3 249.4 L321.1 253.7 L314.3 258.2 L307.4 262.7 L300.6 266.9 L293.8 271.1 L287.1 274.9 L280.4 278.7 L273.5 282.9 L266.5 287.2 L260.4 290.7 L246.5 298.7Z" fill="#d3d3d3" filter="url(#b1_5)" style="mix-blend-mode:lighten"/>
<path d="M245.7 297.3 L259.6 289.3 L265.7 285.8 L272.6 281.6 L279.6 277.3 L286.3 273.5 L293 269.7 L299.8 265.5 L306.6 261.3 L313.4 256.8 L320.3 252.3 L327.4 248.1 L334.6 243.8 L342.4 239.4 L350.1 234.9 L356.9 231.3 L363.6 227.8 L370.6 224.5 L377.6 221.2 L384.9 218.9 L392 216 L398 213.5 L404 211 L418.8 204.8 L418.8 204.8 L404 211 L398 213.5 L392 216 L384.9 218.9 L379.1 224.7 L372.4 228.3 L365.6 231.8 L359.1 235.5 L352.5 239.3 L345 243.9 L337.3 248.4 L330.2 252.6 L323.1 256.9 L316.5 261.5 L309.6 266.1 L302.8 270.4 L296.1 274.9 L289.5 279.2 L283.2 283.4 L276.6 288.1 L269.6 292.5 L263.5 296 L249.6 304Z" fill="#dbdbdb" filter="url(#b1_5)"/>
<path d="M242.6 291.8 L256.5 283.8 L262.5 280.4 L269.4 276.3 L276.8 272.6 L284 269.4 L290.9 266.1 L297.8 262.3 L304.6 258.2 L311.4 253.8 L318.5 249.5 L325.8 245.4 L333 241.1 L340.9 236.8 L348.8 232.6 L355.8 229.3 L362.8 226 L369.9 223 L377.1 220 L384.9 218.9 L392 216 L398 213.5 L404 211 L418.8 204.8 L418.8 204.8 L404 211 L398 213.5 L392 216 L384.9 218.9 L378.2 222.6 L371.3 225.9 L364.4 229.2 L357.6 232.8 L350.9 236.3 L343.1 240.7 L335.4 245.2 L328.3 249.4 L321.1 253.7 L314.3 258.2 L307.4 262.7 L300.6 266.9 L293.8 271.1 L287.1 274.9 L280.4 278.7 L273.5 282.9 L266.5 287.2 L260.4 290.7 L246.5 298.7Z" fill="#dbdbdb" filter="url(#b1_5)" style="mix-blend-mode:lighten"/>
<path d="M245.7 297.3 L259.6 289.3 L265.7 285.8 L272.6 281.6 L279.6 277.3 L286.3 273.5 L293 269.7 L299.8 265.5 L306.6 261.3 L313.4 256.8 L320.3 252.3 L327.4 248.1 L334.6 243.8 L342.4 239.4 L350.1 234.9 L357.2 232.1 L364 228.5 L370.9 225.2 L377.9 221.9 L384.9 218.9 L392 216 L398 213.5 L404 211 L418.8 204.8 L418.8 204.8 L404 211 L398 213.5 L392 216 L384.9 218.9 L377.9 221.9 L370.9 225.2 L364 228.5 L357.2 232.1 L352 238.3 L344.4 243 L336.8 247.5 L329.6 251.8 L322.6 256.1 L316 260.7 L309.1 265.3 L302.3 269.6 L295.6 274.1 L289 278.3 L282.7 282.6 L276.2 287.4 L269.2 291.7 L263 295.3 L249.1 303.2Z" fill="#e3e3e3" filter="url(#b1_5)"/>
<path d="M243.2 292.8 L257.1 284.9 L263.1 281.4 L270 277.3 L277.4 273.6 L284.6 270.5 L291.5 267.2 L298.5 263.4 L305.3 259.3 L312.1 254.9 L319.2 250.6 L326.5 246.5 L333.7 242.2 L341.5 237.9 L349.5 233.7 L357.2 232.1 L364 228.5 L370.9 225.2 L377.9 221.9 L384.9 218.9 L392 216 L398 213.5 L404 211 L418.8 204.8 L418.8 204.8 L404 211 L398 213.5 L392 216 L384.9 218.9 L377.9 221.9 L370.9 225.2 L364 228.5 L357.2 232.1 L350.9 236.3 L343.1 240.7 L335.4 245.2 L328.3 249.4 L321.1 253.7 L314.3 258.2 L307.4 262.7 L300.6 266.9 L293.8 271.1 L287.1 274.9 L280.4 278.7 L273.5 282.9 L266.5 287.2 L260.4 290.7 L246.5 298.7Z" fill="#e3e3e3" filter="url(#b1_5)" style="mix-blend-mode:lighten"/>
<path d="M245.7 297.3 L259.6 289.3 L265.7 285.8 L272.6 281.6 L279.6 277.3 L286.3 273.5 L293 269.7 L299.8 265.5 L306.6 261.3 L313.9 257.5 L320.7 253 L327.9 248.8 L335 244.5 L342.8 240.1 L350.5 235.6 L357.2 232.1 L364 228.5 L370.9 225.2 L377.9 221.9 L384.9 218.9 L392 216 L398 213.5 L404 211 L418.8 204.8 L418.8 204.8 L404 211 L398 213.5 L392 216 L384.9 218.9 L377.9 221.9 L370.9 225.2 L364 228.5 L357.2 232.1 L350.5 235.6 L342.8 240.1 L335 244.5 L327.9 248.8 L320.7 253 L313.9 257.5 L308.6 264.5 L301.8 268.8 L295.1 273.3 L288.6 277.5 L282.3 281.9 L275.7 286.6 L268.7 291 L262.6 294.5 L248.7 302.5Z" fill="#ebebeb" filter="url(#b1_5)"/>
<path d="M243.8 293.8 L257.6 285.9 L263.7 282.4 L270.6 278.2 L278 274.7 L285.2 271.5 L292.1 268.3 L299.1 264.5 L305.9 260.3 L313.9 257.5 L320.7 253 L327.9 248.8 L335 244.5 L342.8 240.1 L350.5 235.6 L357.2 232.1 L364 228.5 L370.9 225.2 L377.9 221.9 L384.9 218.9 L392 216 L398 213.5 L404 211 L418.8 204.8 L418.8 204.8 L404 211 L398 213.5 L392 216 L384.9 218.9 L377.9 221.9 L370.9 225.2 L364 228.5 L357.2 232.1 L350.5 235.6 L342.8 240.1 L335 244.5 L327.9 248.8 L320.7 253 L313.9 257.5 L307.4 262.7 L300.6 266.9 L293.8 271.1 L287.1 274.9 L280.4 278.7 L273.5 282.9 L266.5 287.2 L260.4 290.7 L246.5 298.7Z" fill="#ebebeb" filter="url(#b1_5)" style="mix-blend-mode:lighten"/>
<path d="M245.7 297.3 L259.6 289.3 L265.7 285.8 L272.6 281.6 L279.6 277.3 L286.7 274.2 L293.4 270.4 L300.2 266.2 L307 262 L313.9 257.5 L320.7 253 L327.9 248.8 L335 244.5 L342.8 240.1 L350.5 235.6 L357.2 232.1 L364 228.5 L370.9 225.2 L377.9 221.9 L384.9 218.9 L392 216 L398 213.5 L404 211 L418.8 204.8 L418.8 204.8 L404 211 L398 213.5 L392 216 L384.9 218.9 L377.9 221.9 L370.9 225.2 L364 228.5 L357.2 232.1 L350.5 235.6 L342.8 240.1 L335 244.5 L327.9 248.8 L320.7 253 L313.9 257.5 L307 262 L300.2 266.2 L293.4 270.4 L286.7 274.2 L281.8 281.1 L275.3 285.9 L268.3 290.2 L262.1 293.7 L248.3 301.7Z" fill="#f3f3f3" filter="url(#b1_5)"/>
<path d="M244.3 294.8 L258.2 286.8 L264.2 283.4 L271.2 279.2 L278.6 275.6 L286.7 274.2 L293.4 270.4 L300.2 266.2 L307 262 L313.9 257.5 L320.7 253 L327.9 248.8 L335 244.5 L342.8 240.1 L350.5 235.6 L357.2 232.1 L364 228.5 L370.9 225.2 L377.9 221.9 L384.9 218.9 L392 216 L398 213.5 L404 211 L418.8 204.8 L418.8 204.8 L404 211 L398 213.5 L392 216 L384.9 218.9 L377.9 221.9 L370.9 225.2 L364 228.5 L357.2 232.1 L350.5 235.6 L342.8 240.1 L335 244.5 L327.9 248.8 L320.7 253 L313.9 257.5 L307 262 L300.2 266.2 L293.4 270.4 L286.7 274.2 L280.4 278.7 L273.5 282.9 L266.5 287.2 L260.4 290.7 L246.5 298.7Z" fill="#f3f3f3" filter="url(#b1_5)" style="mix-blend-mode:lighten"/>
<path d="M245.7 297.3 L259.6 289.3 L265.7 285.8 L272.6 281.6 L280 278 L286.7 274.2 L293.4 270.4 L300.2 266.2 L307 262 L313.9 257.5 L320.7 253 L327.9 248.8 L335 244.5 L342.8 240.1 L350.5 235.6 L357.2 232.1 L364 228.5 L370.9 225.2 L377.9 221.9 L384.9 218.9 L392 216 L398 213.5 L404 211 L418.8 204.8 L418.8 204.8 L404 211 L398 213.5 L392 216 L384.9 218.9 L377.9 221.9 L370.9 225.2 L364 228.5 L357.2 232.1 L350.5 235.6 L342.8 240.1 L335 244.5 L327.9 248.8 L320.7 253 L313.9 257.5 L307 262 L300.2 266.2 L293.4 270.4 L286.7 274.2 L280 278 L274.8 285.1 L267.9 289.5 L261.7 293 L247.8 300.9Z" fill="#fbfbfb" filter="url(#b1_5)"/>
<path d="M244.9 295.8 L258.7 287.8 L264.8 284.3 L271.8 280.1 L280 278 L286.7 274.2 L293.4 270.4 L300.2 266.2 L307 262 L313.9 257.5 L320.7 253 L327.9 248.8 L335 244.5 L342.8 240.1 L350.5 235.6 L357.2 232.1 L364 228.5 L370.9 225.2 L377.9 221.9 L384.9 218.9 L392 216 L398 213.5 L404 211 L418.8 204.8 L418.8 204.8 L404 211 L398 213.5 L392 216 L384.9 218.9 L377.9 221.9 L370.9 225.2 L364 228.5 L357.2 232.1 L350.5 235.6 L342.8 240.1 L335 244.5 L327.9 248.8 L320.7 253 L313.9 257.5 L307 262 L300.2 266.2 L293.4 270.4 L286.7 274.2 L280 278 L273.5 282.9 L266.5 287.2 L260.4 290.7 L246.5 298.7Z" fill="#fbfbfb" filter="url(#b1_5)" style="mix-blend-mode:lighten"/>
<ellipse cx="355" cy="283.5" rx="17" ry="12" fill="#525252" transform="rotate(-35 355 283.5)" filter="url(#b4)"/>
<path d="M296 326 C297.3 322.3 309.3 316.7 316 312 C322.7 307.3 331 299.3 336 298 C341 296.7 347.7 300.3 346 304 C344.3 307.7 332.3 315 326 320 C319.7 325 313 333 308 334 C303 335 294.7 329.7 296 326Z" fill="#545454" filter="url(#b4)"/>
<ellipse cx="389" cy="291" rx="13" ry="19" fill="#727272" transform="rotate(10 389 291)" filter="url(#b4)"/>
<ellipse cx="391" cy="304" rx="8" ry="7" fill="#7f7f7f" filter="url(#b3)"/>
<path d="M330 334 C332.3 329.7 345 322.7 352 318 C359 313.3 367.3 306.3 372 306 C376.7 305.7 382.7 311.7 380 316 C377.3 320.3 363 327.3 356 332 C349 336.7 342.3 343.7 338 344 C333.7 344.3 327.7 338.3 330 334Z" fill="#747474" filter="url(#b4)"/>
<ellipse cx="420.6" cy="258.8" rx="6" ry="3.5" fill="#9f9f9f" transform="rotate(-20 420.6 258.8)" filter="url(#b2)"/>
<ellipse cx="451" cy="288" rx="24" ry="9" fill="#505050" transform="rotate(40 451 288)" filter="url(#b4)"/>
<path d="M312.5 356.1 L321.7 352.3 L331 348.4 L336.9 346.3 L342.7 344.2 L349.3 341.9 L355.8 339.6 L361.8 337.4 L367.7 335.2 L374.2 333 L380.8 330.8 L388.3 329.3 L395.9 327.7 L403.3 326.8 L410.8 325.8 L417.5 326.3 L424.1 326.7 L430.7 328.5 L437.2 330.2 L446.9 332.8 L443.8 344.3 L434.1 341.7 L427.6 340 L422.1 338.6 L416.6 338.3 L411.2 337.9 L404.8 338.8 L397.9 339.7 L390.8 341.2 L384 342.7 L378.2 344.7 L371.8 346.9 L366.1 349 L360 351.3 L353.4 353.6 L346.8 355.9 L341 357.9 L335.5 359.8 L326.4 363.5 L317.2 367.4Z" fill="#545454" filter="url(#b1_5)"/>
<path d="M302.6 332.6 L311.8 328.7 L321.1 323.1 L327.4 319.3 L333 316.4 L339.2 313.3 L345.4 310.6 L351.1 308.6 L358 307.6 L365.3 306.7 L374 305.5 L383.3 304.9 L391.9 304.2 L400.4 303.9 L410 303.3 L418.9 304.9 L427.5 306.8 L435.5 310.7 L441.4 314.5 L451.1 317.1 L446.4 334.4 L436.8 331.8 L430.3 330 L423.9 328.3 L417.3 327.8 L410.8 327.4 L403.5 328.3 L396.1 329.3 L388.7 330.8 L381.2 332.4 L374.8 334.6 L368.3 336.8 L362.3 339 L356.4 341.2 L349.8 343.5 L343.3 345.8 L337.4 347.8 L331.6 349.8 L322.3 353.7 L313.1 357.6Z" fill="#545454" filter="url(#b1_5)" style="mix-blend-mode:lighten"/>
<path d="M312.5 356.1 L321.7 352.3 L331 348.4 L336.9 346.3 L342.7 344.2 L349.3 341.9 L355.8 339.6 L361.8 337.4 L367.7 335.2 L374.2 333 L380.8 330.8 L388.3 329.3 L395.9 327.7 L403.3 326.8 L410.8 325.8 L417.5 326.3 L424.1 326.7 L430.7 328.5 L437.2 330.2 L446.9 332.8 L444.3 342.5 L434.6 339.9 L428 338.5 L422.4 337.1 L416.7 336.9 L411.2 336.6 L404.7 337.5 L397.7 338.5 L390.6 340.1 L383.7 341.6 L377.9 343.7 L371.5 346 L365.7 348.2 L359.7 350.4 L353.1 352.7 L346.5 355 L340.6 357 L335.1 358.8 L326 362.5 L316.8 366.4Z" fill="#5c5c5c" filter="url(#b1_5)"/>
<path d="M302.6 332.6 L311.8 328.7 L321.1 323.1 L327.4 319.3 L333 316.4 L339.2 313.3 L345.4 310.6 L351.1 308.6 L358 307.6 L365.3 306.7 L374 305.5 L383.3 304.9 L391.9 304.2 L400.4 303.9 L410 303.3 L418.9 304.9 L427.5 306.8 L435.5 310.7 L441.4 314.5 L451.1 317.1 L446.4 334.4 L436.8 331.8 L430.3 330 L423.9 328.3 L417.3 327.8 L410.8 327.4 L403.5 328.3 L396.1 329.3 L388.7 330.8 L381.2 332.4 L374.8 334.6 L368.3 336.8 L362.3 339 L356.4 341.2 L349.8 343.5 L343.3 345.8 L337.4 347.8 L331.6 349.8 L322.3 353.7 L313.1 357.6Z" fill="#5c5c5c" filter="url(#b1_5)" style="mix-blend-mode:lighten"/>
<path d="M312.5 356.1 L321.7 352.3 L331 348.4 L336.9 346.3 L342.7 344.2 L349.3 341.9 L355.8 339.6 L361.8 337.4 L367.7 335.2 L374.2 333 L380.8 330.8 L388.3 329.3 L395.9 327.7 L403.3 326.8 L410.8 325.8 L417.5 326.3 L424.1 326.7 L430.7 328.5 L437.2 330.2 L446.9 332.8 L444.7 340.7 L435.1 338.1 L428.4 336.9 L422.6 335.7 L416.8 335.5 L411.1 335.3 L404.5 336.3 L397.5 337.3 L390.3 338.9 L383.4 340.5 L377.5 342.7 L371.2 345 L365.4 347.3 L359.4 349.6 L352.8 351.9 L346.2 354.1 L340.3 356 L334.7 357.8 L325.5 361.4 L316.3 365.3Z" fill="#646464" filter="url(#b1_5)"/>
<path d="M302.6 332.6 L311.8 328.7 L321.1 323.1 L327.4 319.3 L333 316.4 L339.2 313.3 L345.4 310.6 L351.1 308.6 L358 307.6 L365.3 306.7 L374 305.5 L383.3 304.9 L391.9 304.2 L400.4 303.9 L410 303.3 L418.9 304.9 L427.5 306.8 L435.5 310.7 L441.4 314.5 L451.1 317.1 L446.4 334.4 L436.8 331.8 L430.3 330 L423.9 328.3 L417.3 327.8 L410.8 327.4 L403.5 328.3 L396.1 329.3 L388.7 330.8 L381.2 332.4 L374.8 334.6 L368.3 336.8 L362.3 339 L356.4 341.2 L349.8 343.5 L343.3 345.8 L337.4 347.8 L331.6 349.8 L322.3 353.7 L313.1 357.6Z" fill="#646464" filter="url(#b1_5)" style="mix-blend-mode:lighten"/>
<path d="M312.5 356.1 L321.7 352.3 L331 348.4 L336.9 346.3 L342.7 344.2 L349.3 341.9 L355.8 339.6 L361.8 337.4 L367.7 335.2 L374.2 333 L380.8 330.8 L388.3 329.3 L395.9 327.7 L403.3 326.8 L410.8 325.8 L417.5 326.3 L424.1 326.7 L430.7 328.5 L437.2 330.2 L446.9 332.8 L445.2 338.9 L435.6 336.3 L428.9 335.3 L422.9 334.2 L416.9 334.1 L411.1 334 L404.4 335 L397.3 336.1 L390.1 337.8 L383.1 339.5 L377.2 341.8 L370.9 344.1 L365.1 346.5 L359.1 348.7 L352.5 351 L345.9 353.2 L340 355.1 L334.3 356.8 L325.1 360.4 L315.9 364.2Z" fill="#6c6c6c" filter="url(#b1_5)"/>
<path d="M305.2 338.8 L314.4 334.9 L323.6 329.4 L329.7 325.7 L335.2 322.7 L341.4 319.6 L347.6 316.9 L353.4 314.9 L360.2 314 L367.5 313.1 L375.7 312 L384.7 311.4 L393 310.8 L401.2 310.5 L410.2 310 L418.5 311.6 L426.4 313.4 L433.7 317.2 L439.7 321 L449.4 323.6 L446.4 334.4 L436.8 331.8 L430.3 330 L423.9 328.3 L417.3 327.8 L410.8 327.4 L403.5 328.3 L396.1 329.3 L388.7 330.8 L381.2 332.4 L374.8 334.6 L368.3 336.8 L362.3 339 L356.4 341.2 L349.8 343.5 L343.3 345.8 L337.4 347.8 L331.6 349.8 L322.3 353.7 L313.1 357.6Z" fill="#6c6c6c" filter="url(#b1_5)" style="mix-blend-mode:lighten"/>
<path d="M312.5 356.1 L321.7 352.3 L331 348.4 L336.9 346.3 L342.7 344.2 L349.3 341.9 L355.8 339.6 L361.8 337.4 L367.7 335.2 L374.2 333 L380.8 330.8 L388.3 329.3 L395.9 327.7 L403.3 326.8 L410.8 325.8 L417.5 326.3 L424.1 326.7 L430.7 328.5 L437.2 330.2 L446.9 332.8 L445.7 337.2 L436 334.6 L429.3 333.7 L423.1 332.7 L417 332.7 L411 332.6 L404.2 333.7 L397.1 334.8 L389.9 336.6 L382.8 338.4 L376.9 340.8 L370.6 343.2 L364.8 345.6 L358.8 347.9 L352.2 350.1 L345.6 352.3 L339.6 354.1 L333.9 355.8 L324.7 359.3 L315.4 363.2Z" fill="#747474" filter="url(#b1_5)"/>
<path d="M306.8 342.7 L316 338.8 L325.1 333.3 L331.1 329.6 L336.6 326.7 L342.8 323.6 L349.1 320.9 L354.9 318.9 L361.6 317.9 L368.8 317.1 L376.8 316 L385.5 315.6 L393.7 315 L401.8 314.7 L410.4 314.2 L418.2 315.8 L425.7 317.5 L432.6 321.3 L438.6 325 L448.3 327.6 L446.4 334.4 L436.8 331.8 L430.3 330 L423.9 328.3 L417.3 327.8 L410.8 327.4 L403.5 328.3 L396.1 329.3 L388.7 330.8 L381.2 332.4 L374.8 334.6 L368.3 336.8 L362.3 339 L356.4 341.2 L349.8 343.5 L343.3 345.8 L337.4 347.8 L331.6 349.8 L322.3 353.7 L313.1 357.6Z" fill="#747474" filter="url(#b1_5)" style="mix-blend-mode:lighten"/>
<path d="M312.5 356.1 L321.7 352.3 L331 348.4 L336.9 346.3 L342.7 344.2 L349.3 341.9 L355.8 339.6 L361.8 337.4 L367.7 335.2 L374.2 333 L380.8 330.8 L388.3 329.3 L395.9 327.7 L403.3 326.8 L410.8 325.8 L417.5 326.3 L424.1 326.7 L430.7 328.5 L437.2 330.2 L446.9 332.8 L446.2 335.4 L436.5 332.8 L429.7 332.1 L423.4 331.3 L417.1 331.4 L411 331.3 L404 332.4 L396.9 333.6 L389.6 335.5 L382.5 337.3 L376.5 339.8 L370.2 342.3 L364.5 344.8 L358.5 347 L351.9 349.3 L345.2 351.4 L339.3 353.2 L333.6 354.8 L324.2 358.3 L315 362.1Z" fill="#7c7c7c" filter="url(#b1_5)"/>
<path d="M308.1 345.7 L317.3 341.9 L326.3 336.4 L332.1 332.8 L337.7 329.8 L343.9 326.7 L350.2 324 L356.1 322 L362.7 321.1 L369.9 320.2 L377.7 319.2 L386.2 318.8 L394.3 318.3 L402.2 318 L410.5 317.6 L417.9 319.1 L425.1 320.8 L431.8 324.5 L437.7 328.2 L447.4 330.8 L446.4 334.4 L436.8 331.8 L430.3 330 L423.9 328.3 L417.3 327.8 L410.8 327.4 L403.5 328.3 L396.1 329.3 L388.7 330.8 L381.2 332.4 L374.8 334.6 L368.3 336.8 L362.3 339 L356.4 341.2 L349.8 343.5 L343.3 345.8 L337.4 347.8 L331.6 349.8 L322.3 353.7 L313.1 357.6Z" fill="#7c7c7c" filter="url(#b1_5)" style="mix-blend-mode:lighten"/>
<path d="M312.5 356.1 L321.7 352.3 L331 348.4 L336.9 346.3 L342.7 344.2 L349.3 341.9 L355.8 339.6 L361.8 337.4 L367.7 335.2 L374.2 333 L380.8 330.8 L388.3 329.3 L395.9 327.7 L403.3 326.8 L410.8 325.8 L417.5 326.3 L424.1 326.7 L430.7 328.5 L437 331 L446.7 333.6 L446.7 333.6 L437 331 L430.2 330.5 L423.6 329.8 L417.2 330 L410.9 330 L403.9 331.2 L396.7 332.4 L389.4 334.3 L382.2 336.2 L376.2 338.8 L369.9 341.4 L364.2 343.9 L358.2 346.2 L351.5 348.4 L344.9 350.5 L339 352.3 L333.2 353.8 L323.8 357.2 L314.5 361.1Z" fill="#838383" filter="url(#b1_5)"/>
<path d="M309.2 348.4 L318.4 344.5 L327.4 339 L333.1 335.5 L338.6 332.5 L344.9 329.4 L351.2 326.7 L357 324.7 L363.7 323.8 L370.8 322.9 L378.4 322 L386.8 321.6 L394.8 321.1 L402.5 320.8 L410.6 320.4 L417.7 321.9 L424.6 323.6 L431 327.3 L437 331 L446.7 333.6 L446.7 333.6 L437 331 L430.3 330 L423.9 328.3 L417.3 327.8 L410.8 327.4 L403.5 328.3 L396.1 329.3 L388.7 330.8 L381.2 332.4 L374.8 334.6 L368.3 336.8 L362.3 339 L356.4 341.2 L349.8 343.5 L343.3 345.8 L337.4 347.8 L331.6 349.8 L322.3 353.7 L313.1 357.6Z" fill="#838383" filter="url(#b1_5)" style="mix-blend-mode:lighten"/>
<path d="M312.5 356.1 L321.7 352.3 L331 348.4 L336.9 346.3 L342.7 344.2 L349.3 341.9 L355.8 339.6 L361.8 337.4 L367.7 335.2 L374.2 333 L380.8 330.8 L388.3 329.3 L395.9 327.7 L403.3 326.8 L410.8 325.8 L417.5 326.3 L424.1 326.7 L430.5 329.2 L437 331 L446.7 333.6 L446.7 333.6 L437 331 L430.5 329.2 L423.9 328.3 L417.3 328.6 L410.9 328.7 L403.7 329.9 L396.4 331.2 L389.1 333.2 L382 335.2 L375.9 337.8 L369.6 340.5 L363.9 343.1 L357.9 345.3 L351.2 347.5 L344.6 349.6 L338.7 351.3 L332.8 352.9 L323.3 356.2 L314.1 360Z" fill="#8b8b8b" filter="url(#b1_5)"/>
<path d="M310.2 350.7 L319.4 346.9 L328.3 341.4 L333.9 337.9 L339.5 334.9 L345.7 331.8 L352 329.1 L357.9 327.1 L364.5 326.2 L371.6 325.4 L379.1 324.5 L387.3 324.1 L395.2 323.6 L402.9 323.4 L410.7 323 L417.6 324.5 L424.2 326.2 L430.5 329.2 L437 331 L446.7 333.6 L446.7 333.6 L437 331 L430.5 329.2 L423.9 328.3 L417.3 327.8 L410.8 327.4 L403.5 328.3 L396.1 329.3 L388.7 330.8 L381.2 332.4 L374.8 334.6 L368.3 336.8 L362.3 339 L356.4 341.2 L349.8 343.5 L343.3 345.8 L337.4 347.8 L331.6 349.8 L322.3 353.7 L313.1 357.6Z" fill="#8b8b8b" filter="url(#b1_5)" style="mix-blend-mode:lighten"/>
<path d="M312.5 356.1 L321.7 352.3 L331 348.4 L336.9 346.3 L342.7 344.2 L349.3 341.9 L355.8 339.6 L361.8 337.4 L367.7 335.2 L374.2 333 L380.8 330.8 L388.3 329.3 L395.9 327.7 L403.3 326.8 L410.8 325.8 L417.5 326.3 L424 327.5 L430.5 329.2 L437 331 L446.7 333.6 L446.7 333.6 L437 331 L430.5 329.2 L424 327.5 L417.4 327.2 L410.8 327.3 L403.5 328.6 L396.2 329.9 L388.9 332 L381.7 334.1 L375.5 336.9 L369.3 339.6 L363.5 342.2 L357.6 344.5 L350.9 346.7 L344.3 348.7 L338.3 350.4 L332.4 351.9 L322.9 355.1 L313.7 359Z" fill="#939393" filter="url(#b1_5)"/>
<path d="M311.1 352.9 L320.3 349 L329.2 343.6 L334.7 340.1 L340.2 337.2 L346.5 334 L352.8 331.3 L358.8 329.3 L365.3 328.4 L372.4 327.6 L379.7 326.8 L387.8 326.4 L395.6 326 L403.2 325.7 L410.8 325.4 L417.4 326.8 L424 327.5 L430.5 329.2 L437 331 L446.7 333.6 L446.7 333.6 L437 331 L430.5 329.2 L424 327.5 L417.3 327.8 L410.8 327.4 L403.5 328.3 L396.1 329.3 L388.7 330.8 L381.2 332.4 L374.8 334.6 L368.3 336.8 L362.3 339 L356.4 341.2 L349.8 343.5 L343.3 345.8 L337.4 347.8 L331.6 349.8 L322.3 353.7 L313.1 357.6Z" fill="#939393" filter="url(#b1_5)" style="mix-blend-mode:lighten"/>
<path d="M312.5 356.1 L321.7 352.3 L331 348.4 L336.9 346.3 L342.7 344.2 L349.3 341.9 L355.8 339.6 L361.8 337.4 L367.7 335.2 L374.2 333 L380.8 330.8 L388.3 329.3 L395.9 327.7 L403.4 327.6 L410.8 326.6 L417.4 327.1 L424 327.5 L430.5 329.2 L437 331 L446.7 333.6 L446.7 333.6 L437 331 L430.5 329.2 L424 327.5 L417.4 327.1 L410.8 326.6 L403.4 327.6 L396 328.7 L388.7 330.9 L381.4 333 L375.2 335.9 L368.9 338.7 L363.2 341.4 L357.3 343.6 L350.6 345.8 L344 347.8 L338 349.5 L332 350.9 L322.4 354.1 L313.2 357.9Z" fill="#9b9b9b" filter="url(#b1_5)"/>
<path d="M312 354.9 L321.2 351.1 L330 345.7 L335.5 342.2 L341 339.2 L347.2 336.1 L353.6 333.4 L359.5 331.4 L366.1 330.5 L373.1 329.7 L380.3 328.9 L388.2 328.6 L395.9 328.1 L403.4 327.6 L410.8 326.6 L417.4 327.1 L424 327.5 L430.5 329.2 L437 331 L446.7 333.6 L446.7 333.6 L437 331 L430.5 329.2 L424 327.5 L417.4 327.1 L410.8 326.6 L403.4 327.6 L396.1 329.3 L388.7 330.8 L381.2 332.4 L374.8 334.6 L368.3 336.8 L362.3 339 L356.4 341.2 L349.8 343.5 L343.3 345.8 L337.4 347.8 L331.6 349.8 L322.3 353.7 L313.1 357.6Z" fill="#9b9b9b" filter="url(#b1_5)" style="mix-blend-mode:lighten"/>
<path d="M312.8 356.9 L322 353 L331 348.4 L336.9 346.3 L342.7 344.2 L349.3 341.9 L355.8 339.6 L361.8 337.4 L367.7 335.2 L374.2 333 L380.8 330.8 L388.5 330.1 L396 328.5 L403.4 327.6 L410.8 326.6 L417.4 327.1 L424 327.5 L430.5 329.2 L437 331 L446.7 333.6 L446.7 333.6 L437 331 L430.5 329.2 L424 327.5 L417.4 327.1 L410.8 326.6 L403.4 327.6 L396 328.5 L388.5 330.1 L381.1 332 L374.9 334.9 L368.6 337.8 L362.9 340.5 L357 342.8 L350.3 344.9 L343.7 346.9 L337.7 348.5 L331.6 349.9 L322 353 L312.8 356.9Z" fill="#a3a3a3" filter="url(#b1_5)"/>
<path d="M312.8 356.9 L322 353 L330.7 347.6 L336.1 344.2 L341.7 341.2 L347.9 338.1 L354.3 335.4 L360.2 333.3 L366.7 332.5 L373.8 331.7 L380.8 330.9 L388.5 330.1 L396 328.5 L403.4 327.6 L410.8 326.6 L417.4 327.1 L424 327.5 L430.5 329.2 L437 331 L446.7 333.6 L446.7 333.6 L437 331 L430.5 329.2 L424 327.5 L417.4 327.1 L410.8 326.6 L403.4 327.6 L396 328.5 L388.5 330.1 L381.2 332.4 L374.8 334.6 L368.3 336.8 L362.3 339 L356.4 341.2 L349.8 343.5 L343.3 345.8 L337.4 347.8 L331.6 349.8 L322 353 L312.8 356.9Z" fill="#a3a3a3" filter="url(#b1_5)" style="mix-blend-mode:lighten"/>
<path d="M312.8 356.9 L322 353 L331.3 349.1 L336.9 346.3 L342.7 344.2 L349.3 341.9 L355.8 339.6 L361.8 337.4 L367.7 335.2 L374.2 333 L381 331.6 L388.5 330.1 L396 328.5 L403.4 327.6 L410.8 326.6 L417.4 327.1 L424 327.5 L430.5 329.2 L437 331 L446.7 333.6 L446.7 333.6 L437 331 L430.5 329.2 L424 327.5 L417.4 327.1 L410.8 326.6 L403.4 327.6 L396 328.5 L388.5 330.1 L381 331.6 L374.5 333.9 L368.3 336.9 L362.6 339.7 L356.7 341.9 L350 344.1 L343.3 346 L337.3 347.6 L331.3 349.1 L322 353 L312.8 356.9Z" fill="#ababab" filter="url(#b1_5)"/>
<path d="M312.8 356.9 L322 353 L331.3 349.1 L336.8 346 L342.3 343.1 L348.6 340 L355 337.2 L360.9 335.2 L367.4 334.3 L374.4 333.5 L381 331.6 L388.5 330.1 L396 328.5 L403.4 327.6 L410.8 326.6 L417.4 327.1 L424 327.5 L430.5 329.2 L437 331 L446.7 333.6 L446.7 333.6 L437 331 L430.5 329.2 L424 327.5 L417.4 327.1 L410.8 326.6 L403.4 327.6 L396 328.5 L388.5 330.1 L381 331.6 L374.8 334.6 L368.3 336.8 L362.3 339 L356.4 341.2 L349.8 343.5 L343.3 345.8 L337.4 347.8 L331.3 349.1 L322 353 L312.8 356.9Z" fill="#ababab" filter="url(#b1_5)" style="mix-blend-mode:lighten"/>
<path d="M312.8 356.9 L322 353 L331.3 349.1 L337.1 347.1 L342.7 344.2 L349.3 341.9 L355.8 339.6 L361.8 337.4 L368 336 L374.5 333.8 L381 331.6 L388.5 330.1 L396 328.5 L403.4 327.6 L410.8 326.6 L417.4 327.1 L424 327.5 L430.5 329.2 L437 331 L446.7 333.6 L446.7 333.6 L437 331 L430.5 329.2 L424 327.5 L417.4 327.1 L410.8 326.6 L403.4 327.6 L396 328.5 L388.5 330.1 L381 331.6 L374.5 333.8 L368 336 L362.3 338.8 L356.4 341.1 L349.7 343.2 L343 345.1 L337.1 347.1 L331.3 349.1 L322 353 L312.8 356.9Z" fill="#b3b3b3" filter="url(#b1_5)"/>
<path d="M312.8 356.9 L322 353 L331.3 349.1 L337.1 347.1 L342.9 344.8 L349.2 341.7 L355.6 339 L361.6 336.9 L368 336 L374.5 333.8 L381 331.6 L388.5 330.1 L396 328.5 L403.4 327.6 L410.8 326.6 L417.4 327.1 L424 327.5 L430.5 329.2 L437 331 L446.7 333.6 L446.7 333.6 L437 331 L430.5 329.2 L424 327.5 L417.4 327.1 L410.8 326.6 L403.4 327.6 L396 328.5 L388.5 330.1 L381 331.6 L374.5 333.8 L368 336 L362.3 339 L356.4 341.2 L349.8 343.5 L343.3 345.8 L337.1 347.1 L331.3 349.1 L322 353 L312.8 356.9Z" fill="#b3b3b3" filter="url(#b1_5)" style="mix-blend-mode:lighten"/>
<path d="M391.2 414.1 C392.1 413.4 394.8 411.3 396.6 409.9 C398.3 408.5 400.3 407 401.9 405.7 C403.5 404.5 404.9 403.2 406.3 402.2 C407.7 401.2 408.8 400.7 410.3 399.7 C411.7 398.8 413.6 397.6 415.3 396.5 C416.9 395.4 418.6 394.3 420.3 393.2 C421.9 392.2 423.4 391.2 425 390.1 C426.7 389.1 429.3 387.4 430.2 386.9" fill="none" stroke="#212121" stroke-width="11" stroke-linecap="round" stroke-linejoin="round" filter="url(#b3)"/>
<path d="M425 390.1 C425.9 389.6 428.4 388 430.2 386.9 C431.9 385.8 433.8 384.6 435.5 383.6 C437.2 382.5 438.8 381.5 440.3 380.5 C441.9 379.6 443.2 378.9 444.8 378 C446.4 377.1 448.1 376.1 449.8 375.2 C451.5 374.2 453.1 373.3 454.8 372.4 C456.5 371.4 459 370 459.8 369.5" fill="none" stroke="#404040" stroke-width="9" stroke-linecap="round" stroke-linejoin="round" filter="url(#b3)"/>
<path d="M360.9 401.2 L373.5 391.4 L378.8 387.2 L384.2 383 L389.5 378.8 L399.6 372.3 L409.6 365.8 L417.6 360.8 L425.6 355.8 L433.1 351.6 L440.6 347.3 L448.1 343.1 L455.6 338.8 L461.6 335.5 L467.7 332.3 L475.7 329 L483.7 325.7 L491.8 323.5 L499.8 321.2 L507.9 319.7 L515.9 318.2 L531.6 315.3 L536.5 341.6 L520.8 344.6 L512.8 346.1 L505.9 347.3 L499 349.3 L492.5 351.1 L485.8 353.8 L478.9 356.6 L474.4 359.1 L468.6 362.2 L461.3 366.4 L453.8 370.6 L446.3 374.9 L439.2 378.6 L431.5 383.1 L423.7 387.9 L413.8 394.3 L404.5 400.3 L400.3 403.7 L394.9 407.8 L389.6 412 L377 421.8Z" fill="#2c2c2c" filter="url(#b1_5)"/>
<path d="M344.2 379.8 L356.8 369.9 L362.1 365.8 L367.4 361.6 L374 356.5 L384.7 349.5 L394.9 342.9 L403.2 337.8 L411.7 332.5 L419.7 327.9 L427.2 323.6 L434.7 319.4 L442.4 315 L448.7 311.6 L456.2 307.6 L465.5 303.8 L474.9 300 L484.4 297.3 L493.6 294.7 L502.8 293 L510.8 291.5 L526.6 288.5 L531.9 316.8 L516.1 319.8 L508.1 321.3 L500.2 322.8 L492.2 325 L484.3 327.3 L476.3 330.5 L468.3 333.7 L462.4 337 L456.4 340.2 L448.9 344.4 L441.4 348.7 L433.9 352.9 L426.4 357.2 L418.4 362.2 L410.4 367.2 L400.4 373.7 L390.5 380.2 L385.2 384.3 L379.8 388.5 L374.5 392.6 L361.9 402.5Z" fill="#2c2c2c" filter="url(#b1_5)" style="mix-blend-mode:lighten"/>
<path d="M360.9 401.2 L373.5 391.4 L378.8 387.2 L384.2 383 L389.5 378.8 L399.6 372.3 L409.6 365.8 L417.6 360.8 L425.6 355.8 L433.1 351.6 L440.6 347.3 L448.1 343.1 L455.6 338.8 L461.6 335.5 L467.7 332.3 L475.7 329 L483.7 325.7 L491.8 323.5 L499.8 321.2 L507.9 319.7 L515.9 318.2 L531.6 315.3 L536.5 341.6 L520.8 344.6 L512.8 346.1 L505.9 347.3 L499 349.3 L492.5 351.1 L485.8 353.8 L478.9 356.6 L474.4 359.1 L468.6 362.2 L461.3 366.4 L453.6 370.3 L445.8 374 L438.6 377.6 L430.9 382.1 L423.1 386.9 L413.2 393.3 L403.9 399.4 L399.6 402.8 L394.3 407 L389 411.1 L376.3 421Z" fill="#343434" filter="url(#b1_5)"/>
<path d="M344.2 379.8 L356.8 369.9 L362.1 365.8 L367.4 361.6 L374 356.5 L384.7 349.5 L394.9 342.9 L403.2 337.8 L411.7 332.5 L419.7 327.9 L427.2 323.6 L434.7 319.4 L442.4 315 L448.7 311.6 L456.2 307.6 L465.5 303.8 L474.9 300 L484.4 297.3 L493.6 294.7 L502.8 293 L510.8 291.5 L526.6 288.5 L531.9 316.8 L516.1 319.8 L508.1 321.3 L500.2 322.8 L492.2 325 L484.3 327.3 L476.3 330.5 L468.3 333.7 L462.4 337 L456.4 340.2 L448.9 344.4 L441.4 348.7 L433.9 352.9 L426.4 357.2 L418.4 362.2 L410.4 367.2 L400.4 373.7 L390.5 380.2 L385.2 384.3 L379.8 388.5 L374.5 392.6 L361.9 402.5Z" fill="#343434" filter="url(#b1_5)" style="mix-blend-mode:lighten"/>
<path d="M360.9 401.2 L373.5 391.4 L378.8 387.2 L384.2 383 L389.5 378.8 L399.6 372.3 L409.6 365.8 L417.6 360.8 L425.6 355.8 L433.1 351.6 L440.6 347.3 L448.1 343.1 L455.6 338.8 L461.6 335.5 L467.7 332.3 L475.7 329 L483.7 325.7 L491.8 323.5 L499.8 321.2 L507.9 319.7 L515.9 318.2 L531.6 315.3 L536.5 341.6 L520.8 344.6 L512.8 346.1 L505.9 347.3 L499 349.3 L492.5 351.1 L485.8 353.8 L478.9 356.6 L474.4 359.1 L468.6 362.2 L461 365.8 L453 369.3 L445.3 373.1 L438.1 376.7 L430.4 381.3 L422.5 386.1 L412.7 392.5 L403.3 398.6 L399 402 L393.7 406.2 L388.3 410.4 L375.7 420.2Z" fill="#3c3c3c" filter="url(#b1_5)"/>
<path d="M344.2 379.8 L356.8 369.9 L362.1 365.8 L367.4 361.6 L374 356.5 L384.7 349.5 L394.9 342.9 L403.2 337.8 L411.7 332.5 L419.7 327.9 L427.2 323.6 L434.7 319.4 L442.4 315 L448.7 311.6 L456.2 307.6 L465.5 303.8 L474.9 300 L484.4 297.3 L493.6 294.7 L502.8 293 L510.8 291.5 L526.6 288.5 L531.9 316.8 L516.1 319.8 L508.1 321.3 L500.2 322.8 L492.2 325 L484.3 327.3 L476.3 330.5 L468.3 333.7 L462.4 337 L456.4 340.2 L448.9 344.4 L441.4 348.7 L433.9 352.9 L426.4 357.2 L418.4 362.2 L410.4 367.2 L400.4 373.7 L390.5 380.2 L385.2 384.3 L379.8 388.5 L374.5 392.6 L361.9 402.5Z" fill="#3c3c3c" filter="url(#b1_5)" style="mix-blend-mode:lighten"/>
<path d="M360.9 401.2 L373.5 391.4 L378.8 387.2 L384.2 383 L389.5 378.8 L399.6 372.3 L409.6 365.8 L417.6 360.8 L425.6 355.8 L433.1 351.6 L440.6 347.3 L448.1 343.1 L455.6 338.8 L461.6 335.5 L467.7 332.3 L475.7 329 L483.7 325.7 L491.8 323.5 L499.8 321.2 L507.9 319.7 L515.9 318.2 L531.6 315.3 L536.5 341.6 L520.8 344.6 L512.8 346.1 L505.9 347.3 L499 349.3 L492.5 351.1 L485.8 353.8 L478.9 356.6 L474.4 359.1 L468.3 361.7 L460.4 364.7 L452.5 368.3 L444.8 372.2 L437.6 375.9 L429.8 380.4 L422 385.3 L412.1 391.7 L402.7 397.8 L398.4 401.3 L393.1 405.4 L387.8 409.6 L375.1 419.5Z" fill="#444444" filter="url(#b1_5)"/>
<path d="M344.2 379.8 L356.8 369.9 L362.1 365.8 L367.4 361.6 L374 356.5 L384.7 349.5 L394.9 342.9 L403.2 337.8 L411.7 332.5 L419.7 327.9 L427.2 323.6 L434.7 319.4 L442.4 315 L448.7 311.6 L456.2 307.6 L465.5 303.8 L474.9 300 L484.4 297.3 L493.6 294.7 L502.8 293 L510.8 291.5 L526.6 288.5 L531.9 316.8 L516.1 319.8 L508.1 321.3 L500.2 322.8 L492.2 325 L484.3 327.3 L476.3 330.5 L468.3 333.7 L462.4 337 L456.4 340.2 L448.9 344.4 L441.4 348.7 L433.9 352.9 L426.4 357.2 L418.4 362.2 L410.4 367.2 L400.4 373.7 L390.5 380.2 L385.2 384.3 L379.8 388.5 L374.5 392.6 L361.9 402.5Z" fill="#444444" filter="url(#b1_5)" style="mix-blend-mode:lighten"/>
<path d="M360.9 401.2 L373.5 391.4 L378.8 387.2 L384.2 383 L389.5 378.8 L399.6 372.3 L409.6 365.8 L417.6 360.8 L425.6 355.8 L433.1 351.6 L440.6 347.3 L448.1 343.1 L455.6 338.8 L461.6 335.5 L467.7 332.3 L475.7 329 L483.7 325.7 L491.8 323.5 L499.8 321.2 L507.9 319.7 L515.9 318.2 L531.6 315.3 L536.5 341.6 L520.8 344.6 L512.8 346.1 L505.9 347.3 L499 349.3 L492.5 351.1 L485.8 353.8 L478.8 356.3 L473.9 358.2 L467.7 360.5 L459.8 363.8 L452 367.4 L444.3 371.3 L437.1 375.1 L429.3 379.6 L421.5 384.5 L411.6 390.9 L402.2 397 L397.8 400.5 L392.5 404.7 L387.2 408.9 L374.6 418.7Z" fill="#4c4c4c" filter="url(#b1_5)"/>
<path d="M344.2 379.8 L356.8 369.9 L362.1 365.8 L367.4 361.6 L374 356.5 L384.7 349.5 L394.9 342.9 L403.2 337.8 L411.7 332.5 L419.7 327.9 L427.2 323.6 L434.7 319.4 L442.4 315 L448.7 311.6 L456.2 307.6 L465.5 303.8 L474.9 300 L484.4 297.3 L493.6 294.7 L502.8 293 L510.8 291.5 L526.6 288.5 L531.9 316.8 L516.1 319.8 L508.1 321.3 L500.2 322.8 L492.2 325 L484.3 327.3 L476.3 330.5 L468.3 333.7 L462.4 337 L456.4 340.2 L448.9 344.4 L441.4 348.7 L433.9 352.9 L426.4 357.2 L418.4 362.2 L410.4 367.2 L400.4 373.7 L390.5 380.2 L385.2 384.3 L379.8 388.5 L374.5 392.6 L361.9 402.5Z" fill="#4c4c4c" filter="url(#b1_5)" style="mix-blend-mode:lighten"/>
<path d="M360.9 401.2 L373.5 391.4 L378.8 387.2 L384.2 383 L389.5 378.8 L399.6 372.3 L409.6 365.8 L417.6 360.8 L425.6 355.8 L433.1 351.6 L440.6 347.3 L448.1 343.1 L455.6 338.8 L461.6 335.5 L467.7 332.3 L475.7 329 L483.7 325.7 L491.8 323.5 L499.8 321.2 L507.9 319.7 L515.9 318.2 L531.6 315.3 L536.2 339.7 L520.4 342.6 L512.4 344.2 L505.5 345.5 L498.5 347.5 L491.9 349.4 L485.2 352.3 L478.2 354.9 L473.2 357 L467.1 359.5 L459.3 362.8 L451.5 366.5 L443.8 370.5 L436.6 374.2 L428.8 378.9 L421 383.7 L411.1 390.1 L401.7 396.3 L397.3 399.8 L392 404 L386.6 408.2 L374 418Z" fill="#545454" filter="url(#b1_5)"/>
<path d="M344.2 379.8 L356.8 369.9 L362.1 365.8 L367.4 361.6 L374 356.5 L384.7 349.5 L394.9 342.9 L403.2 337.8 L411.7 332.5 L419.7 327.9 L427.2 323.6 L434.7 319.4 L442.4 315 L448.7 311.6 L456.2 307.6 L465.5 303.8 L474.9 300 L484.4 297.3 L493.6 294.7 L502.8 293 L510.8 291.5 L526.6 288.5 L531.9 316.8 L516.1 319.8 L508.1 321.3 L500.2 322.8 L492.2 325 L484.3 327.3 L476.3 330.5 L468.3 333.7 L462.4 337 L456.4 340.2 L448.9 344.4 L441.4 348.7 L433.9 352.9 L426.4 357.2 L418.4 362.2 L410.4 367.2 L400.4 373.7 L390.5 380.2 L385.2 384.3 L379.8 388.5 L374.5 392.6 L361.9 402.5Z" fill="#545454" filter="url(#b1_5)" style="mix-blend-mode:lighten"/>
<path d="M360.9 401.2 L373.5 391.4 L378.8 387.2 L384.2 383 L389.5 378.8 L399.6 372.3 L409.6 365.8 L417.6 360.8 L425.6 355.8 L433.1 351.6 L440.6 347.3 L448.1 343.1 L455.6 338.8 L461.6 335.5 L467.7 332.3 L475.7 329 L483.7 325.7 L491.8 323.5 L499.8 321.2 L507.9 319.7 L515.9 318.2 L531.6 315.3 L535.8 338 L520.1 341 L512.1 342.5 L505.1 343.9 L498.1 346 L491.4 348 L484.6 351 L477.6 353.7 L472.6 355.9 L466.5 358.5 L458.8 361.9 L451 365.7 L443.4 369.6 L436.1 373.5 L428.4 378.1 L420.5 382.9 L410.6 389.4 L401.2 395.6 L396.7 399.1 L391.4 403.3 L386.1 407.5 L373.5 417.3Z" fill="#5c5c5c" filter="url(#b1_5)"/>
<path d="M344.2 379.8 L356.8 369.9 L362.1 365.8 L367.4 361.6 L374 356.5 L384.7 349.5 L394.9 342.9 L403.2 337.8 L411.7 332.5 L419.7 327.9 L427.2 323.6 L434.7 319.4 L442.4 315 L448.7 311.6 L456.2 307.6 L465.5 303.8 L474.9 300 L484.4 297.3 L493.6 294.7 L502.8 293 L510.8 291.5 L526.6 288.5 L531.9 316.8 L516.1 319.8 L508.1 321.3 L500.2 322.8 L492.2 325 L484.3 327.3 L476.3 330.5 L468.3 333.7 L462.4 337 L456.4 340.2 L448.9 344.4 L441.4 348.7 L433.9 352.9 L426.4 357.2 L418.4 362.2 L410.4 367.2 L400.4 373.7 L390.5 380.2 L385.2 384.3 L379.8 388.5 L374.5 392.6 L361.9 402.5Z" fill="#5c5c5c" filter="url(#b1_5)" style="mix-blend-mode:lighten"/>
<path d="M360.9 401.2 L373.5 391.4 L378.8 387.2 L384.2 383 L389.5 378.8 L399.6 372.3 L409.6 365.8 L417.6 360.8 L425.6 355.8 L433.1 351.6 L440.6 347.3 L448.1 343.1 L455.6 338.8 L461.6 335.5 L467.7 332.3 L475.7 329 L483.7 325.7 L491.8 323.5 L499.8 321.2 L507.9 319.7 L515.9 318.2 L531.6 315.3 L535.6 336.4 L519.8 339.4 L511.8 341 L504.8 342.4 L497.7 344.6 L490.9 346.7 L484.1 349.7 L477.1 352.5 L472.1 354.8 L466 357.5 L458.3 361 L450.5 364.8 L442.9 368.8 L435.7 372.7 L427.9 377.3 L420 382.2 L410.1 388.6 L400.7 394.8 L396.2 398.4 L390.9 402.6 L385.5 406.8 L372.9 416.6Z" fill="#646464" filter="url(#b1_5)"/>
<path d="M345.8 381.9 L358.4 372 L363.7 367.8 L369.1 363.7 L375.5 358.7 L386.2 351.8 L396.4 345.2 L404.6 340 L413 334.8 L421 330.2 L428.5 326 L436.1 321.8 L443.8 317.5 L450 314.1 L457.5 310.3 L466.6 306.6 L475.9 303 L485.3 300.4 L494.4 298 L503.5 296.3 L511.5 294.9 L527.2 291.9 L531.9 316.8 L516.1 319.8 L508.1 321.3 L500.2 322.8 L492.2 325 L484.3 327.3 L476.3 330.5 L468.3 333.7 L462.4 337 L456.4 340.2 L448.9 344.4 L441.4 348.7 L433.9 352.9 L426.4 357.2 L418.4 362.2 L410.4 367.2 L400.4 373.7 L390.5 380.2 L385.2 384.3 L379.8 388.5 L374.5 392.6 L361.9 402.5Z" fill="#646464" filter="url(#b1_5)" style="mix-blend-mode:lighten"/>
<path d="M360.9 401.2 L373.5 391.4 L378.8 387.2 L384.2 383 L389.5 378.8 L399.6 372.3 L409.6 365.8 L417.6 360.8 L425.6 355.8 L433.1 351.6 L440.6 347.3 L448.1 343.1 L455.6 338.8 L461.6 335.5 L467.7 332.3 L475.7 329 L483.7 325.7 L491.8 323.5 L499.8 321.2 L507.9 319.7 L515.9 318.2 L531.6 315.3 L535.3 334.9 L519.5 337.9 L511.6 339.5 L504.4 340.9 L497.3 343.2 L490.5 345.4 L483.6 348.5 L476.5 351.4 L471.5 353.8 L465.5 356.6 L457.8 360.1 L450.1 364 L442.4 368 L435.2 371.9 L427.4 376.6 L419.5 381.4 L409.7 387.9 L400.2 394.1 L395.7 397.7 L390.3 401.9 L385 406.1 L372.4 415.9Z" fill="#6c6c6c" filter="url(#b1_5)"/>
<path d="M347.4 383.9 L360 374 L365.3 369.9 L370.6 365.7 L377 360.8 L387.6 354 L397.8 347.4 L406 342.3 L414.4 337 L422.3 332.5 L429.8 328.3 L437.4 324.1 L445.1 319.9 L451.4 316.6 L458.7 312.9 L467.7 309.4 L476.9 305.9 L486.2 303.5 L495.1 301.2 L504.1 299.6 L512.1 298.2 L527.8 295.2 L531.9 316.8 L516.1 319.8 L508.1 321.3 L500.2 322.8 L492.2 325 L484.3 327.3 L476.3 330.5 L468.3 333.7 L462.4 337 L456.4 340.2 L448.9 344.4 L441.4 348.7 L433.9 352.9 L426.4 357.2 L418.4 362.2 L410.4 367.2 L400.4 373.7 L390.5 380.2 L385.2 384.3 L379.8 388.5 L374.5 392.6 L361.9 402.5Z" fill="#6c6c6c" filter="url(#b1_5)" style="mix-blend-mode:lighten"/>
<path d="M360.9 401.2 L373.5 391.4 L378.8 387.2 L384.2 383 L389.5 378.8 L399.6 372.3 L409.6 365.8 L417.6 360.8 L425.6 355.8 L433.1 351.6 L440.6 347.3 L448.1 343.1 L455.6 338.8 L461.6 335.5 L467.7 332.3 L475.7 329 L483.7 325.7 L491.8 323.5 L499.8 321.2 L507.9 319.7 L515.9 318.2 L531.6 315.3 L535 333.4 L519.3 336.4 L511.3 338 L504.1 339.5 L497 341.9 L490.1 344.1 L483.1 347.3 L476 350.2 L471 352.8 L465 355.6 L457.3 359.3 L449.6 363.2 L442 367.2 L434.7 371.1 L427 375.8 L419.1 380.7 L409.2 387.1 L399.7 393.4 L395.1 397.1 L389.8 401.2 L384.5 405.4 L371.9 415.3Z" fill="#747474" filter="url(#b1_5)"/>
<path d="M348.6 385.4 L361.2 375.6 L366.5 371.4 L371.8 367.3 L378.1 362.4 L388.7 355.6 L398.8 349 L407 343.9 L415.4 338.7 L423.3 334.2 L430.8 330 L438.4 325.9 L446.1 321.7 L452.4 318.5 L459.6 314.9 L468.6 311.4 L477.7 308.1 L486.8 305.8 L495.7 303.6 L504.5 302.1 L512.6 300.7 L528.3 297.7 L531.9 316.8 L516.1 319.8 L508.1 321.3 L500.2 322.8 L492.2 325 L484.3 327.3 L476.3 330.5 L468.3 333.7 L462.4 337 L456.4 340.2 L448.9 344.4 L441.4 348.7 L433.9 352.9 L426.4 357.2 L418.4 362.2 L410.4 367.2 L400.4 373.7 L390.5 380.2 L385.2 384.3 L379.8 388.5 L374.5 392.6 L361.9 402.5Z" fill="#747474" filter="url(#b1_5)" style="mix-blend-mode:lighten"/>
<path d="M360.9 401.2 L373.5 391.4 L378.8 387.2 L384.2 383 L389.5 378.8 L399.6 372.3 L409.6 365.8 L417.6 360.8 L425.6 355.8 L433.1 351.6 L440.6 347.3 L448.1 343.1 L455.6 338.8 L461.6 335.5 L467.7 332.3 L475.7 329 L483.7 325.7 L491.8 323.5 L499.8 321.2 L507.9 319.7 L515.9 318.2 L531.6 315.3 L534.7 332 L519 334.9 L511 336.6 L503.8 338.1 L496.6 340.5 L489.6 342.9 L482.6 346.1 L475.5 349.2 L470.4 351.8 L464.4 354.7 L456.8 358.4 L449.2 362.4 L441.6 366.5 L434.3 370.4 L426.5 375.1 L418.6 380 L408.7 386.4 L399.2 392.7 L394.6 396.4 L389.3 400.6 L384 404.7 L371.3 414.6Z" fill="#7c7c7c" filter="url(#b1_5)"/>
<path d="M349.6 386.7 L362.2 376.9 L367.5 372.7 L372.9 368.6 L379.1 363.8 L389.6 357 L399.8 350.5 L407.9 345.4 L416.2 340.2 L424.1 335.7 L431.7 331.5 L439.2 327.4 L446.9 323.2 L453.2 320.1 L460.4 316.5 L469.3 313.2 L478.3 309.9 L487.4 307.7 L496.2 305.7 L504.9 304.2 L513 302.8 L528.7 299.9 L531.9 316.8 L516.1 319.8 L508.1 321.3 L500.2 322.8 L492.2 325 L484.3 327.3 L476.3 330.5 L468.3 333.7 L462.4 337 L456.4 340.2 L448.9 344.4 L441.4 348.7 L433.9 352.9 L426.4 357.2 L418.4 362.2 L410.4 367.2 L400.4 373.7 L390.5 380.2 L385.2 384.3 L379.8 388.5 L374.5 392.6 L361.9 402.5Z" fill="#7c7c7c" filter="url(#b1_5)" style="mix-blend-mode:lighten"/>
<path d="M360.9 401.2 L373.5 391.4 L378.8 387.2 L384.2 383 L389.5 378.8 L399.6 372.3 L409.6 365.8 L417.6 360.8 L425.6 355.8 L433.1 351.6 L440.6 347.3 L448.1 343.1 L455.6 338.8 L461.6 335.5 L467.7 332.3 L475.7 329 L483.7 325.7 L491.8 323.5 L499.8 321.2 L507.9 319.7 L515.9 318.2 L531.6 315.3 L534.4 330.6 L518.7 333.5 L510.8 335.2 L503.4 336.7 L496.2 339.2 L489.2 341.6 L482.2 344.9 L475 348.1 L469.9 350.8 L463.9 353.8 L456.4 357.6 L448.7 361.6 L441.1 365.7 L433.8 369.7 L426 374.4 L418.2 379.3 L408.3 385.7 L398.7 392 L394.1 395.7 L388.8 399.9 L383.4 404.1 L370.8 413.9Z" fill="#838383" filter="url(#b1_5)"/>
<path d="M350.5 387.9 L363.1 378.1 L368.4 373.9 L373.8 369.7 L380 365.1 L390.4 358.3 L400.6 351.7 L408.7 346.6 L417 341.5 L424.9 337 L432.4 332.9 L440 328.7 L447.7 324.6 L454 321.5 L461.1 318 L469.9 314.8 L478.9 311.6 L487.8 309.5 L496.6 307.5 L505.3 306.1 L513.3 304.7 L529 301.8 L531.9 316.8 L516.1 319.8 L508.1 321.3 L500.2 322.8 L492.2 325 L484.3 327.3 L476.3 330.5 L468.3 333.7 L462.4 337 L456.4 340.2 L448.9 344.4 L441.4 348.7 L433.9 352.9 L426.4 357.2 L418.4 362.2 L410.4 367.2 L400.4 373.7 L390.5 380.2 L385.2 384.3 L379.8 388.5 L374.5 392.6 L361.9 402.5Z" fill="#838383" filter="url(#b1_5)" style="mix-blend-mode:lighten"/>
<path d="M360.9 401.2 L373.5 391.4 L378.8 387.2 L384.2 383 L389.5 378.8 L399.6 372.3 L409.6 365.8 L417.6 360.8 L425.6 355.8 L433.1 351.6 L440.6 347.3 L448.1 343.1 L455.6 338.8 L461.6 335.5 L467.7 332.3 L475.7 329 L483.7 325.7 L491.8 323.5 L499.8 321.2 L507.9 319.7 L515.9 318.2 L531.6 315.3 L534.2 329.1 L518.5 332.1 L510.5 333.8 L503.1 335.4 L495.9 338 L488.8 340.4 L481.7 343.8 L474.5 347 L469.4 349.9 L463.4 352.9 L455.9 356.8 L448.3 360.8 L440.7 364.9 L433.4 368.9 L425.6 373.7 L417.7 378.6 L407.8 385 L398.2 391.3 L393.6 395.1 L388.3 399.3 L382.9 403.4 L370.3 413.3Z" fill="#8b8b8b" filter="url(#b1_5)"/>
<path d="M351.3 389 L364 379.1 L369.3 375 L374.6 370.8 L380.7 366.2 L391.2 359.5 L401.3 352.9 L409.4 347.8 L417.7 342.6 L425.6 338.2 L433.1 334.1 L440.7 330 L448.4 325.8 L454.7 322.8 L461.7 319.4 L470.5 316.3 L479.4 313.1 L488.3 311.1 L497 309.2 L505.6 307.8 L513.7 306.5 L529.4 303.5 L531.9 316.8 L516.1 319.8 L508.1 321.3 L500.2 322.8 L492.2 325 L484.3 327.3 L476.3 330.5 L468.3 333.7 L462.4 337 L456.4 340.2 L448.9 344.4 L441.4 348.7 L433.9 352.9 L426.4 357.2 L418.4 362.2 L410.4 367.2 L400.4 373.7 L390.5 380.2 L385.2 384.3 L379.8 388.5 L374.5 392.6 L361.9 402.5Z" fill="#8b8b8b" filter="url(#b1_5)" style="mix-blend-mode:lighten"/>
<path d="M360.9 401.2 L373.5 391.4 L378.8 387.2 L384.2 383 L389.5 378.8 L399.6 372.3 L409.6 365.8 L417.6 360.8 L425.6 355.8 L433.1 351.6 L440.6 347.3 L448.1 343.1 L455.6 338.8 L461.6 335.5 L467.7 332.3 L475.7 329 L483.7 325.7 L491.8 323.5 L499.8 321.2 L507.9 319.7 L515.9 318.2 L531.6 315.3 L533.9 327.7 L518.2 330.7 L510.2 332.4 L502.8 334 L495.5 336.7 L488.4 339.2 L481.2 342.7 L474 346 L468.9 348.9 L463 352 L455.4 356 L447.8 360 L440.3 364.2 L433 368.2 L425.2 372.9 L417.2 377.8 L407.3 384.3 L397.7 390.6 L393.1 394.4 L387.8 398.6 L382.4 402.8 L369.8 412.6Z" fill="#939393" filter="url(#b1_5)"/>
<path d="M352.1 390 L364.7 380.1 L370.1 376 L375.4 371.8 L381.5 367.2 L391.9 360.6 L402 354 L410.1 348.9 L418.4 343.8 L426.2 339.4 L433.8 335.2 L441.3 331.1 L449.1 327 L455.4 324 L462.3 320.7 L471.1 317.6 L479.9 314.6 L488.7 312.6 L497.4 310.8 L505.9 309.4 L514 308.1 L529.7 305.2 L531.9 316.8 L516.1 319.8 L508.1 321.3 L500.2 322.8 L492.2 325 L484.3 327.3 L476.3 330.5 L468.3 333.7 L462.4 337 L456.4 340.2 L448.9 344.4 L441.4 348.7 L433.9 352.9 L426.4 357.2 L418.4 362.2 L410.4 367.2 L400.4 373.7 L390.5 380.2 L385.2 384.3 L379.8 388.5 L374.5 392.6 L361.9 402.5Z" fill="#939393" filter="url(#b1_5)" style="mix-blend-mode:lighten"/>
<path d="M360.9 401.2 L373.5 391.4 L378.8 387.2 L384.2 383 L389.5 378.8 L399.6 372.3 L409.6 365.8 L417.6 360.8 L425.6 355.8 L433.1 351.6 L440.6 347.3 L448.1 343.1 L455.6 338.8 L461.6 335.5 L467.7 332.3 L475.7 329 L483.7 325.7 L491.8 323.5 L499.8 321.2 L507.9 319.7 L515.9 318.2 L531.6 315.3 L533.7 326.4 L517.9 329.3 L510 331 L502.5 332.7 L495.1 335.4 L488 338 L480.8 341.6 L473.5 344.9 L468.3 348 L462.5 351.1 L455 355.1 L447.4 359.3 L439.8 363.4 L432.5 367.5 L424.7 372.2 L416.8 377.1 L406.9 383.6 L397.3 389.9 L392.6 393.8 L387.2 398 L381.9 402.1 L369.3 412Z" fill="#9b9b9b" filter="url(#b1_5)"/>
<path d="M352.9 390.9 L365.5 381.1 L370.8 376.9 L376.1 372.8 L382.2 368.2 L392.6 361.6 L402.7 355 L410.8 349.9 L419 344.8 L426.8 340.4 L434.4 336.3 L442 332.2 L449.7 328.1 L456 325.1 L462.9 321.9 L471.6 318.9 L480.4 315.9 L489.1 314 L497.7 312.3 L506.2 310.9 L514.2 309.6 L530 306.7 L531.9 316.8 L516.1 319.8 L508.1 321.3 L500.2 322.8 L492.2 325 L484.3 327.3 L476.3 330.5 L468.3 333.7 L462.4 337 L456.4 340.2 L448.9 344.4 L441.4 348.7 L433.9 352.9 L426.4 357.2 L418.4 362.2 L410.4 367.2 L400.4 373.7 L390.5 380.2 L385.2 384.3 L379.8 388.5 L374.5 392.6 L361.9 402.5Z" fill="#9b9b9b" filter="url(#b1_5)" style="mix-blend-mode:lighten"/>
<path d="M360.9 401.2 L373.5 391.4 L378.8 387.2 L384.2 383 L389.5 378.8 L399.6 372.3 L409.6 365.8 L417.6 360.8 L425.6 355.8 L433.1 351.6 L440.6 347.3 L448.1 343.1 L455.6 338.8 L461.6 335.5 L467.7 332.3 L475.7 329 L483.7 325.7 L491.8 323.5 L499.8 321.2 L507.9 319.7 L515.9 318.2 L531.6 315.3 L533.4 325 L517.7 328 L509.7 329.7 L502.2 331.4 L494.8 334.2 L487.6 336.9 L480.4 340.5 L473.1 343.9 L467.8 347 L462 350.3 L454.5 354.3 L446.9 358.5 L439.4 362.7 L432.1 366.7 L424.3 371.5 L416.4 376.4 L406.4 382.9 L396.8 389.3 L392.1 393.1 L386.7 397.3 L381.4 401.5 L368.8 411.3Z" fill="#a3a3a3" filter="url(#b1_5)"/>
<path d="M353.6 391.8 L366.2 382 L371.5 377.8 L376.9 373.7 L382.8 369.2 L393.2 362.6 L403.3 356 L411.4 350.9 L419.6 345.8 L427.4 341.5 L434.9 337.3 L442.5 333.2 L450.3 329.2 L456.6 326.2 L463.4 323.1 L472.1 320.1 L480.8 317.2 L489.5 315.4 L498 313.7 L506.5 312.4 L514.5 311.1 L530.2 308.2 L531.9 316.8 L516.1 319.8 L508.1 321.3 L500.2 322.8 L492.2 325 L484.3 327.3 L476.3 330.5 L468.3 333.7 L462.4 337 L456.4 340.2 L448.9 344.4 L441.4 348.7 L433.9 352.9 L426.4 357.2 L418.4 362.2 L410.4 367.2 L400.4 373.7 L390.5 380.2 L385.2 384.3 L379.8 388.5 L374.5 392.6 L361.9 402.5Z" fill="#a3a3a3" filter="url(#b1_5)" style="mix-blend-mode:lighten"/>
<path d="M360.9 401.2 L373.5 391.4 L378.8 387.2 L384.2 383 L389.5 378.8 L399.6 372.3 L409.6 365.8 L417.6 360.8 L425.6 355.8 L433.1 351.6 L440.6 347.3 L448.1 343.1 L455.6 338.8 L461.6 335.5 L467.7 332.3 L475.7 329 L483.7 325.7 L491.8 323.5 L499.8 321.2 L507.9 319.7 L515.9 318.2 L531.6 315.3 L533.2 323.7 L517.4 326.6 L509.5 328.4 L501.9 330.1 L494.5 333 L487.2 335.7 L479.9 339.4 L472.6 342.9 L467.3 346.1 L461.5 349.4 L454 353.5 L446.5 357.7 L439 362 L431.7 366 L423.8 370.8 L415.9 375.8 L406 382.2 L396.3 388.6 L391.6 392.5 L386.3 396.7 L380.9 400.9 L368.3 410.7Z" fill="#ababab" filter="url(#b1_5)"/>
<path d="M354.2 392.7 L366.9 382.8 L372.2 378.7 L377.5 374.5 L383.5 370.1 L393.8 363.5 L403.9 356.9 L412 351.9 L420.2 346.8 L427.9 342.4 L435.5 338.3 L443.1 334.2 L450.8 330.2 L457.1 327.3 L463.9 324.2 L472.6 321.3 L481.2 318.4 L489.9 316.7 L498.4 315 L506.7 313.8 L514.8 312.5 L530.5 309.6 L531.9 316.8 L516.1 319.8 L508.1 321.3 L500.2 322.8 L492.2 325 L484.3 327.3 L476.3 330.5 L468.3 333.7 L462.4 337 L456.4 340.2 L448.9 344.4 L441.4 348.7 L433.9 352.9 L426.4 357.2 L418.4 362.2 L410.4 367.2 L400.4 373.7 L390.5 380.2 L385.2 384.3 L379.8 388.5 L374.5 392.6 L361.9 402.5Z" fill="#ababab" filter="url(#b1_5)" style="mix-blend-mode:lighten"/>
<path d="M360.9 401.2 L373.5 391.4 L378.8 387.2 L384.2 383 L389.5 378.8 L399.6 372.3 L409.6 365.8 L417.6 360.8 L425.6 355.8 L433.1 351.6 L440.6 347.3 L448.1 343.1 L455.6 338.8 L461.6 335.5 L467.7 332.3 L475.7 329 L483.7 325.7 L491.8 323.5 L499.8 321.2 L507.9 319.7 L515.9 318.2 L531.6 315.3 L532.9 322.3 L517.2 325.3 L509.2 327 L501.6 328.8 L494.1 331.8 L486.8 334.6 L479.5 338.3 L472.1 341.9 L466.8 345.2 L461 348.6 L453.6 352.7 L446.1 357 L438.6 361.2 L431.3 365.3 L423.4 370.1 L415.5 375.1 L405.5 381.5 L395.9 387.9 L391.1 391.9 L385.8 396.1 L380.4 400.2 L367.8 410.1Z" fill="#b3b3b3" filter="url(#b1_5)"/>
<path d="M354.9 393.5 L367.5 383.7 L372.8 379.5 L378.2 375.4 L384.1 371 L394.4 364.4 L404.5 357.8 L412.5 352.8 L420.7 347.7 L428.5 343.4 L436 339.2 L443.6 335.2 L451.4 331.2 L457.7 328.3 L464.4 325.3 L473 322.4 L481.6 319.6 L490.2 317.9 L498.7 316.3 L507 315.1 L515 313.9 L530.8 310.9 L531.9 316.8 L516.1 319.8 L508.1 321.3 L500.2 322.8 L492.2 325 L484.3 327.3 L476.3 330.5 L468.3 333.7 L462.4 337 L456.4 340.2 L448.9 344.4 L441.4 348.7 L433.9 352.9 L426.4 357.2 L418.4 362.2 L410.4 367.2 L400.4 373.7 L390.5 380.2 L385.2 384.3 L379.8 388.5 L374.5 392.6 L361.9 402.5Z" fill="#b3b3b3" filter="url(#b1_5)" style="mix-blend-mode:lighten"/>
<path d="M360.9 401.2 L373.5 391.4 L378.8 387.2 L384.2 383 L389.5 378.8 L399.6 372.3 L409.6 365.8 L417.6 360.8 L425.6 355.8 L433.1 351.6 L440.6 347.3 L448.1 343.1 L455.6 338.8 L461.6 335.5 L467.7 332.3 L475.7 329 L483.7 325.7 L491.8 323.5 L499.8 321.2 L507.9 319.7 L515.9 318.2 L531.6 315.3 L532.6 321 L516.9 323.9 L509 325.7 L501.3 327.5 L493.8 330.6 L486.4 333.4 L479 337.2 L471.7 340.9 L466.3 344.3 L460.6 347.7 L453.1 352 L445.7 356.2 L438.2 360.5 L430.8 364.6 L423 369.5 L415 374.4 L405.1 380.8 L395.4 387.3 L390.6 391.2 L385.3 395.4 L379.9 399.6 L367.3 409.4Z" fill="#bbbbbb" filter="url(#b1_5)"/>
<path d="M355.5 394.3 L368.1 384.5 L373.5 380.3 L378.8 376.2 L384.6 371.8 L395 365.2 L405 358.7 L413.1 353.6 L421.3 348.5 L429 344.2 L436.5 340.1 L444.2 336.1 L451.9 332.1 L458.2 329.2 L464.9 326.3 L473.5 323.5 L482 320.7 L490.6 319.1 L499 317.6 L507.2 316.4 L515.3 315.2 L531 312.2 L531.9 316.8 L516.1 319.8 L508.1 321.3 L500.2 322.8 L492.2 325 L484.3 327.3 L476.3 330.5 L468.3 333.7 L462.4 337 L456.4 340.2 L448.9 344.4 L441.4 348.7 L433.9 352.9 L426.4 357.2 L418.4 362.2 L410.4 367.2 L400.4 373.7 L390.5 380.2 L385.2 384.3 L379.8 388.5 L374.5 392.6 L361.9 402.5Z" fill="#bbbbbb" filter="url(#b1_5)" style="mix-blend-mode:lighten"/>
<path d="M360.9 401.2 L373.5 391.4 L378.8 387.2 L384.2 383 L389.5 378.8 L399.6 372.3 L409.6 365.8 L417.6 360.8 L425.6 355.8 L433.1 351.6 L440.6 347.3 L448.1 343.1 L455.6 338.8 L461.6 335.5 L467.7 332.3 L475.7 329 L483.7 325.7 L491.8 323.5 L499.8 321.2 L507.9 319.7 L515.9 318.2 L531.6 315.3 L532.4 319.7 L516.7 322.6 L508.7 324.4 L501 326.3 L493.4 329.4 L486 332.3 L478.6 336.1 L471.2 339.9 L465.9 343.4 L460.1 346.9 L452.7 351.2 L445.2 355.5 L437.8 359.8 L430.4 363.9 L422.5 368.8 L414.6 373.7 L404.7 380.2 L395 386.6 L390.1 390.6 L384.8 394.8 L379.4 399 L366.8 408.8Z" fill="#c3c3c3" filter="url(#b1_5)"/>
<path d="M356.1 395.1 L368.7 385.2 L374.1 381.1 L379.4 376.9 L385.2 372.6 L395.5 366.1 L405.6 359.5 L413.6 354.5 L421.8 349.4 L429.5 345.1 L437 341 L444.7 337 L452.4 333 L458.7 330.2 L465.3 327.3 L473.9 324.5 L482.4 321.8 L490.9 320.3 L499.2 318.8 L507.5 317.6 L515.5 316.4 L531.2 313.5 L531.9 316.8 L516.1 319.8 L508.1 321.3 L500.2 322.8 L492.2 325 L484.3 327.3 L476.3 330.5 L468.3 333.7 L462.4 337 L456.4 340.2 L448.9 344.4 L441.4 348.7 L433.9 352.9 L426.4 357.2 L418.4 362.2 L410.4 367.2 L400.4 373.7 L390.5 380.2 L385.2 384.3 L379.8 388.5 L374.5 392.6 L361.9 402.5Z" fill="#c3c3c3" filter="url(#b1_5)" style="mix-blend-mode:lighten"/>
<path d="M360.9 401.2 L373.5 391.4 L378.8 387.2 L384.2 383 L389.5 378.8 L399.6 372.3 L409.6 365.8 L417.6 360.8 L425.6 355.8 L433.1 351.6 L440.6 347.3 L448.1 343.1 L455.6 338.8 L461.6 335.5 L467.7 332.3 L475.7 329 L483.7 325.7 L491.8 323.5 L499.8 321.2 L508 320.5 L516 319 L531.7 316.1 L531.7 316.1 L516 319 L508 320.5 L500.7 325 L493.1 328.2 L485.6 331.2 L478.2 335.1 L470.7 338.9 L465.4 342.5 L459.6 346 L452.3 350.4 L444.8 354.7 L437.4 359 L430 363.2 L422.1 368.1 L414.2 373 L404.2 379.5 L394.5 386 L389.6 390 L384.3 394.2 L379 398.3 L366.3 408.2Z" fill="#cbcbcb" filter="url(#b1_5)"/>
<path d="M356.7 395.8 L369.3 386 L374.6 381.8 L380 377.7 L385.8 373.4 L396 366.9 L406.1 360.3 L414.1 355.3 L422.3 350.2 L429.9 346 L437.5 341.9 L445.2 337.8 L452.9 333.9 L459.2 331.1 L465.8 328.2 L474.3 325.5 L482.8 322.9 L491.2 321.4 L499.5 320 L508 320.5 L516 319 L531.7 316.1 L531.7 316.1 L516 319 L508 320.5 L500.2 322.8 L492.2 325 L484.3 327.3 L476.3 330.5 L468.3 333.7 L462.4 337 L456.4 340.2 L448.9 344.4 L441.4 348.7 L433.9 352.9 L426.4 357.2 L418.4 362.2 L410.4 367.2 L400.4 373.7 L390.5 380.2 L385.2 384.3 L379.8 388.5 L374.5 392.6 L361.9 402.5Z" fill="#cbcbcb" filter="url(#b1_5)" style="mix-blend-mode:lighten"/>
<path d="M360.9 401.2 L373.5 391.4 L378.8 387.2 L384.2 383 L389.5 378.8 L399.6 372.3 L409.6 365.8 L417.6 360.8 L425.6 355.8 L433.1 351.6 L440.6 347.3 L448.1 343.1 L455.6 338.8 L461.6 335.5 L467.7 332.3 L475.7 329 L483.7 325.7 L492 324.2 L500 322 L508 320.5 L516 319 L531.7 316.1 L531.7 316.1 L516 319 L508 320.5 L500 322 L492 324.2 L485.2 330.1 L477.7 334 L470.3 337.9 L464.9 341.6 L459.2 345.2 L451.8 349.6 L444.4 354 L436.9 358.3 L429.6 362.5 L421.7 367.4 L413.7 372.4 L403.8 378.8 L394 385.3 L389.1 389.4 L383.8 393.6 L378.5 397.7 L365.9 407.6Z" fill="#d3d3d3" filter="url(#b1_5)"/>
<path d="M357.3 396.6 L369.9 386.7 L375.2 382.6 L380.6 378.4 L386.3 374.2 L396.5 367.7 L406.6 361.1 L414.6 356.1 L422.7 351 L430.4 346.8 L438 342.7 L445.6 338.7 L453.4 334.8 L459.7 332 L466.2 329.2 L474.7 326.5 L483.1 323.9 L492 324.2 L500 322 L508 320.5 L516 319 L531.7 316.1 L531.7 316.1 L516 319 L508 320.5 L500 322 L492 324.2 L484.3 327.3 L476.3 330.5 L468.3 333.7 L462.4 337 L456.4 340.2 L448.9 344.4 L441.4 348.7 L433.9 352.9 L426.4 357.2 L418.4 362.2 L410.4 367.2 L400.4 373.7 L390.5 380.2 L385.2 384.3 L379.8 388.5 L374.5 392.6 L361.9 402.5Z" fill="#d3d3d3" filter="url(#b1_5)" style="mix-blend-mode:lighten"/>
<path d="M360.9 401.2 L373.5 391.4 L378.8 387.2 L384.2 383 L389.5 378.8 L399.6 372.3 L409.6 365.8 L417.6 360.8 L425.6 355.8 L433.1 351.6 L440.6 347.3 L448.1 343.1 L455.6 338.8 L461.6 335.5 L467.7 332.3 L475.7 329 L484 326.5 L492 324.2 L500 322 L508 320.5 L516 319 L531.7 316.1 L531.7 316.1 L516 319 L508 320.5 L500 322 L492 324.2 L484 326.5 L477.3 333 L469.8 336.9 L464.4 340.7 L458.7 344.4 L451.4 348.8 L444 353.3 L436.5 357.6 L429.2 361.8 L421.3 366.7 L413.3 371.7 L403.4 378.2 L393.6 384.7 L388.6 388.8 L383.3 392.9 L378 397.1 L365.4 407Z" fill="#dbdbdb" filter="url(#b1_5)"/>
<path d="M357.8 397.3 L370.4 387.4 L375.8 383.3 L381.1 379.1 L386.8 374.9 L397 368.4 L407.1 361.9 L415.1 356.9 L423.2 351.8 L430.9 347.6 L438.4 343.5 L446.1 339.5 L453.8 335.6 L460.1 332.8 L466.6 330.1 L475.1 327.5 L484 326.5 L492 324.2 L500 322 L508 320.5 L516 319 L531.7 316.1 L531.7 316.1 L516 319 L508 320.5 L500 322 L492 324.2 L484 326.5 L476.3 330.5 L468.3 333.7 L462.4 337 L456.4 340.2 L448.9 344.4 L441.4 348.7 L433.9 352.9 L426.4 357.2 L418.4 362.2 L410.4 367.2 L400.4 373.7 L390.5 380.2 L385.2 384.3 L379.8 388.5 L374.5 392.6 L361.9 402.5Z" fill="#dbdbdb" filter="url(#b1_5)" style="mix-blend-mode:lighten"/>
<path d="M360.9 401.2 L373.5 391.4 L378.8 387.2 L384.2 383 L389.5 378.8 L399.6 372.3 L409.6 365.8 L417.6 360.8 L425.6 355.8 L433.1 351.6 L440.6 347.3 L448.1 343.1 L455.6 338.8 L461.6 335.5 L467.7 332.3 L476 329.8 L484 326.5 L492 324.2 L500 322 L508 320.5 L516 319 L531.7 316.1 L531.7 316.1 L516 319 L508 320.5 L500 322 L492 324.2 L484 326.5 L476 329.8 L469.4 336 L463.9 339.8 L458.2 343.5 L450.9 348.1 L443.6 352.5 L436.1 356.9 L428.8 361.1 L420.8 366 L412.9 371 L402.9 377.5 L393.1 384 L388.2 388.1 L382.8 392.3 L377.5 396.5 L364.9 406.3Z" fill="#e3e3e3" filter="url(#b1_5)"/>
<path d="M358.4 398 L371 388.1 L376.3 384 L381.6 379.8 L387.3 375.6 L397.5 369.2 L407.5 362.7 L415.6 357.6 L423.7 352.6 L431.3 348.4 L438.9 344.3 L446.5 340.3 L454.3 336.4 L460.6 333.7 L467.1 331 L476 329.8 L484 326.5 L492 324.2 L500 322 L508 320.5 L516 319 L531.7 316.1 L531.7 316.1 L516 319 L508 320.5 L500 322 L492 324.2 L484 326.5 L476 329.8 L468.3 333.7 L462.4 337 L456.4 340.2 L448.9 344.4 L441.4 348.7 L433.9 352.9 L426.4 357.2 L418.4 362.2 L410.4 367.2 L400.4 373.7 L390.5 380.2 L385.2 384.3 L379.8 388.5 L374.5 392.6 L361.9 402.5Z" fill="#e3e3e3" filter="url(#b1_5)" style="mix-blend-mode:lighten"/>
<path d="M360.9 401.2 L373.5 391.4 L378.8 387.2 L384.2 383 L389.5 378.8 L399.6 372.3 L409.6 365.8 L417.6 360.8 L425.6 355.8 L433.1 351.6 L440.6 347.3 L448.1 343.1 L455.6 338.8 L461.6 335.5 L468 333 L476 329.8 L484 326.5 L492 324.2 L500 322 L508 320.5 L516 319 L531.7 316.1 L531.7 316.1 L516 319 L508 320.5 L500 322 L492 324.2 L484 326.5 L476 329.8 L468 333 L463.4 338.9 L457.8 342.7 L450.5 347.3 L443.2 351.8 L435.7 356.2 L428.4 360.4 L420.4 365.4 L412.5 370.3 L402.5 376.8 L392.7 383.4 L387.7 387.5 L382.4 391.7 L377 395.9 L364.4 405.7Z" fill="#ebebeb" filter="url(#b1_5)"/>
<path d="M358.9 398.6 L371.5 388.8 L376.8 384.6 L382.2 380.5 L387.8 376.3 L398 369.9 L408 363.4 L416 358.4 L424.1 353.3 L431.7 349.1 L439.3 345 L447 341.1 L454.7 337.2 L461 334.5 L468 333 L476 329.8 L484 326.5 L492 324.2 L500 322 L508 320.5 L516 319 L531.7 316.1 L531.7 316.1 L516 319 L508 320.5 L500 322 L492 324.2 L484 326.5 L476 329.8 L468 333 L462.4 337 L456.4 340.2 L448.9 344.4 L441.4 348.7 L433.9 352.9 L426.4 357.2 L418.4 362.2 L410.4 367.2 L400.4 373.7 L390.5 380.2 L385.2 384.3 L379.8 388.5 L374.5 392.6 L361.9 402.5Z" fill="#ebebeb" filter="url(#b1_5)" style="mix-blend-mode:lighten"/>
<path d="M360.9 401.2 L373.5 391.4 L378.8 387.2 L384.2 383 L389.5 378.8 L399.6 372.3 L409.6 365.8 L417.6 360.8 L425.6 355.8 L433.1 351.6 L440.6 347.3 L448.1 343.1 L456 339.5 L462 336.2 L468 333 L476 329.8 L484 326.5 L492 324.2 L500 322 L508 320.5 L516 319 L531.7 316.1 L531.7 316.1 L516 319 L508 320.5 L500 322 L492 324.2 L484 326.5 L476 329.8 L468 333 L462 336.2 L456 339.5 L450.1 346.5 L442.7 351.1 L435.3 355.5 L427.9 359.8 L420 364.7 L412 369.7 L402.1 376.2 L392.3 382.7 L387.2 386.9 L381.9 391.1 L376.6 395.3 L363.9 405.1Z" fill="#f3f3f3" filter="url(#b1_5)"/>
<path d="M359.4 399.3 L372 389.5 L377.3 385.3 L382.7 381.1 L388.3 377 L398.5 370.6 L408.5 364.1 L416.5 359.1 L424.5 354.1 L432.1 349.9 L439.7 345.8 L447.4 341.8 L456 339.5 L462 336.2 L468 333 L476 329.8 L484 326.5 L492 324.2 L500 322 L508 320.5 L516 319 L531.7 316.1 L531.7 316.1 L516 319 L508 320.5 L500 322 L492 324.2 L484 326.5 L476 329.8 L468 333 L462 336.2 L456 339.5 L448.9 344.4 L441.4 348.7 L433.9 352.9 L426.4 357.2 L418.4 362.2 L410.4 367.2 L400.4 373.7 L390.5 380.2 L385.2 384.3 L379.8 388.5 L374.5 392.6 L361.9 402.5Z" fill="#f3f3f3" filter="url(#b1_5)" style="mix-blend-mode:lighten"/>
<path d="M360.9 401.2 L373.5 391.4 L378.8 387.2 L384.2 383 L389.5 378.8 L399.6 372.3 L409.6 365.8 L417.6 360.8 L425.6 355.8 L433.5 352.2 L441 348 L448.5 343.8 L456 339.5 L462 336.2 L468 333 L476 329.8 L484 326.5 L492 324.2 L500 322 L508 320.5 L516 319 L531.7 316.1 L531.7 316.1 L516 319 L508 320.5 L500 322 L492 324.2 L484 326.5 L476 329.8 L468 333 L462 336.2 L456 339.5 L448.5 343.8 L441 348 L433.5 352.2 L427.5 359.1 L419.6 364 L411.6 369 L401.6 375.5 L391.8 382.1 L386.7 386.3 L381.4 390.5 L376.1 394.7 L363.5 404.5Z" fill="#fbfbfb" filter="url(#b1_5)"/>
<path d="M359.9 400 L372.5 390.1 L377.9 385.9 L383.2 381.8 L388.8 377.7 L398.9 371.3 L408.9 364.8 L416.9 359.8 L425 354.8 L433.5 352.2 L441 348 L448.5 343.8 L456 339.5 L462 336.2 L468 333 L476 329.8 L484 326.5 L492 324.2 L500 322 L508 320.5 L516 319 L531.7 316.1 L531.7 316.1 L516 319 L508 320.5 L500 322 L492 324.2 L484 326.5 L476 329.8 L468 333 L462 336.2 L456 339.5 L448.5 343.8 L441 348 L433.5 352.2 L426.4 357.2 L418.4 362.2 L410.4 367.2 L400.4 373.7 L390.5 380.2 L385.2 384.3 L379.8 388.5 L374.5 392.6 L361.9 402.5Z" fill="#fbfbfb" filter="url(#b1_5)" style="mix-blend-mode:lighten"/>
<path d="M440 404 C442.3 399 460 390.7 470 384 C480 377.3 491 369.3 500 364 C509 358.7 517.3 352.3 524 352 C530.7 351.7 542.3 356.7 540 362 C537.7 367.3 520 377.3 510 384 C500 390.7 489 397 480 402 C471 407 462.7 413.7 456 414 C449.3 414.3 437.7 409 440 404Z" fill="#707070" filter="url(#b5)"/>
<ellipse cx="500" cy="379" rx="26" ry="9" fill="#878787" transform="rotate(-32 500 379)" filter="url(#b4)"/>
<path d="M436 447 C438.7 445.8 446 442.8 452 440 C458 437.2 468.7 431.7 472 430" fill="none" stroke="#323232" stroke-width="6" stroke-linecap="round" stroke-linejoin="round" filter="url(#b2_5)"/>
<path d="M433.6 442 C434.6 441.8 437.5 440.9 439.6 440.3 C441.7 439.7 444 439.1 446.2 438.4 C448.4 437.8 450.5 437.1 452.7 436.4 C454.9 435.7 457.1 435 459.3 434.3 C461.6 433.5 463.8 432.7 466.2 431.8 C468.5 431 471 430.1 473.3 429.2 C475.7 428.2 477.9 427.2 480.2 426.1 C482.6 425.1 484.9 424.2 487.3 423 C489.7 421.8 492.2 420.3 494.6 419 C497 417.6 499.5 416.3 501.9 414.9 C504.3 413.5 506.7 411.8 508.7 410.4 C510.8 409.1 512.2 408 513.9 407 C515.6 406 517.4 405.1 519 404.2 C520.7 403.3 522.4 402.3 524.1 401.4 C525.8 400.5 527.5 399.9 529.5 399 C531.4 398.2 533.7 397.2 535.6 396.3 C537.6 395.4 539.5 394.7 541.2 393.9 C542.9 393.2 544.3 392.5 545.9 391.9 C547.5 391.3 549.1 390.8 550.9 390.2 C552.7 389.6 555.9 388.6 556.9 388.2" fill="none" stroke="#505050" stroke-width="9" stroke-linecap="round" stroke-linejoin="round" filter="url(#b3)"/>
<path d="M398.5 426 L413.8 421.2 L420 419.3 L426.2 417.3 L432.5 415.5 L438.8 413.7 L444.9 411.8 L451 409.8 L457.4 407.5 L463.7 405.3 L469.7 402.6 L475.7 399.9 L482.2 396.3 L488.6 392.8 L494.6 388.9 L500.6 384.9 L506.6 381.6 L512.6 378.3 L519 375.5 L525.3 372.7 L531 370.2 L536.7 367.8 L542.7 365.7 L548.7 363.7 L563.9 358.7 L569.1 374.1 L553.9 379.1 L547.9 381.1 L542.5 382.9 L537.4 385.1 L531.7 387.4 L525.5 390.2 L519.8 392.7 L514.4 395.7 L508.9 398.7 L503.4 402.4 L496.9 406.6 L489.9 410.5 L483 414.3 L476.3 417.3 L469.7 420.2 L462.9 422.8 L456.3 425.2 L449.8 427.2 L443.4 429.2 L436.9 431.1 L430.8 432.8 L424.8 434.6 L418.6 436.6 L403.3 441.4Z" fill="#444444" filter="url(#b1_5)"/>
<path d="M393.9 411.5 L409.2 406.7 L415.4 404.8 L421.8 402.8 L428.3 400.9 L434.4 399.2 L440.3 397.3 L446.1 395.5 L452.2 393.3 L458 391.2 L463.5 388.7 L468.9 386.3 L474.8 383 L480.7 379.8 L486.2 376.2 L492.7 371.9 L499.3 368.3 L505.9 364.7 L512.8 361.6 L519.2 358.7 L525 356.3 L531.3 353.5 L537.9 351.3 L543.9 349.3 L559.1 344.3 L564.4 360.2 L549.3 365.3 L543.3 367.3 L537.3 369.2 L531.6 371.7 L525.9 374.1 L519.6 376.9 L513.4 379.7 L507.4 383 L501.4 386.3 L495.4 390.2 L489.4 394.2 L482.9 397.8 L476.5 401.3 L470.4 404 L464.3 406.7 L457.9 409.1 L451.6 411.4 L445.4 413.3 L439.2 415.3 L432.9 417.1 L426.6 418.9 L420.4 420.8 L414.2 422.8 L399 427.6Z" fill="#444444" filter="url(#b1_5)" style="mix-blend-mode:lighten"/>
<path d="M398.5 426 L413.8 421.2 L420 419.3 L426.2 417.3 L432.5 415.5 L438.8 413.7 L444.9 411.8 L451 409.8 L457.4 407.5 L463.7 405.3 L469.7 402.6 L475.7 399.9 L482.2 396.3 L488.6 392.8 L494.6 388.9 L500.6 384.9 L506.6 381.6 L512.6 378.3 L519 375.5 L525.3 372.7 L531 370.2 L536.7 367.8 L542.7 365.7 L548.7 363.7 L563.9 358.7 L568.7 372.9 L553.5 378 L547.5 380 L542 381.7 L536.9 383.9 L531.2 386.2 L525 389 L519.2 391.5 L513.7 394.5 L508.2 397.6 L502.7 401.2 L496.2 405.5 L489.3 409.4 L482.4 413.2 L475.8 416.2 L469.3 419.1 L462.5 421.6 L455.9 424 L449.4 426 L443.1 428.1 L436.6 429.8 L430.4 431.5 L424.4 433.3 L418.1 435.2 L402.9 440Z" fill="#4c4c4c" filter="url(#b1_5)"/>
<path d="M393.9 411.5 L409.2 406.7 L415.4 404.8 L421.8 402.8 L428.3 400.9 L434.4 399.2 L440.3 397.3 L446.1 395.5 L452.2 393.3 L458 391.2 L463.5 388.7 L468.9 386.3 L474.8 383 L480.7 379.8 L486.2 376.2 L492.7 371.9 L499.3 368.3 L505.9 364.7 L512.8 361.6 L519.2 358.7 L525 356.3 L531.3 353.5 L537.9 351.3 L543.9 349.3 L559.1 344.3 L564.4 360.2 L549.3 365.3 L543.3 367.3 L537.3 369.2 L531.6 371.7 L525.9 374.1 L519.6 376.9 L513.4 379.7 L507.4 383 L501.4 386.3 L495.4 390.2 L489.4 394.2 L482.9 397.8 L476.5 401.3 L470.4 404 L464.3 406.7 L457.9 409.1 L451.6 411.4 L445.4 413.3 L439.2 415.3 L432.9 417.1 L426.6 418.9 L420.4 420.8 L414.2 422.8 L399 427.6Z" fill="#4c4c4c" filter="url(#b1_5)" style="mix-blend-mode:lighten"/>
<path d="M398.5 426 L413.8 421.2 L420 419.3 L426.2 417.3 L432.5 415.5 L438.8 413.7 L444.9 411.8 L451 409.8 L457.4 407.5 L463.7 405.3 L469.7 402.6 L475.7 399.9 L482.2 396.3 L488.6 392.8 L494.6 388.9 L500.6 384.9 L506.6 381.6 L512.6 378.3 L519 375.5 L525.3 372.7 L531 370.2 L536.7 367.8 L542.7 365.7 L548.7 363.7 L563.9 358.7 L568.3 371.8 L553.1 376.9 L547.1 378.8 L541.6 380.6 L536.4 382.7 L530.7 385 L524.4 387.7 L518.6 390.2 L513.1 393.3 L507.6 396.4 L502 400.1 L495.5 404.4 L488.7 408.2 L481.8 412 L475.3 415 L468.8 417.9 L462 420.4 L455.5 422.8 L449.1 424.9 L442.7 426.9 L436.2 428.6 L430 430.2 L424 432 L417.7 433.8 L402.4 438.6Z" fill="#545454" filter="url(#b1_5)"/>
<path d="M393.9 411.5 L409.2 406.7 L415.4 404.8 L421.8 402.8 L428.3 400.9 L434.4 399.2 L440.3 397.3 L446.1 395.5 L452.2 393.3 L458 391.2 L463.5 388.7 L468.9 386.3 L474.8 383 L480.7 379.8 L486.2 376.2 L492.7 371.9 L499.3 368.3 L505.9 364.7 L512.8 361.6 L519.2 358.7 L525 356.3 L531.3 353.5 L537.9 351.3 L543.9 349.3 L559.1 344.3 L564.4 360.2 L549.3 365.3 L543.3 367.3 L537.3 369.2 L531.6 371.7 L525.9 374.1 L519.6 376.9 L513.4 379.7 L507.4 383 L501.4 386.3 L495.4 390.2 L489.4 394.2 L482.9 397.8 L476.5 401.3 L470.4 404 L464.3 406.7 L457.9 409.1 L451.6 411.4 L445.4 413.3 L439.2 415.3 L432.9 417.1 L426.6 418.9 L420.4 420.8 L414.2 422.8 L399 427.6Z" fill="#545454" filter="url(#b1_5)" style="mix-blend-mode:lighten"/>
<path d="M398.5 426 L413.8 421.2 L420 419.3 L426.2 417.3 L432.5 415.5 L438.8 413.7 L444.9 411.8 L451 409.8 L457.4 407.5 L463.7 405.3 L469.7 402.6 L475.7 399.9 L482.2 396.3 L488.6 392.8 L494.6 388.9 L500.6 384.9 L506.6 381.6 L512.6 378.3 L519 375.5 L525.3 372.7 L531 370.2 L536.7 367.8 L542.7 365.7 L548.7 363.7 L563.9 358.7 L567.9 370.7 L552.7 375.7 L546.7 377.7 L541.2 379.4 L535.8 381.5 L530.1 383.8 L523.9 386.5 L517.9 389 L512.4 392.1 L506.9 395.3 L501.2 399 L494.8 403.2 L488.1 407.1 L481.3 410.9 L474.7 413.8 L468.3 416.7 L461.6 419.2 L455.1 421.7 L448.7 423.7 L442.4 425.7 L435.9 427.4 L429.7 429 L423.5 430.7 L417.3 432.4 L402 437.2Z" fill="#5c5c5c" filter="url(#b1_5)"/>
<path d="M393.9 411.5 L409.2 406.7 L415.4 404.8 L421.8 402.8 L428.3 400.9 L434.4 399.2 L440.3 397.3 L446.1 395.5 L452.2 393.3 L458 391.2 L463.5 388.7 L468.9 386.3 L474.8 383 L480.7 379.8 L486.2 376.2 L492.7 371.9 L499.3 368.3 L505.9 364.7 L512.8 361.6 L519.2 358.7 L525 356.3 L531.3 353.5 L537.9 351.3 L543.9 349.3 L559.1 344.3 L564.4 360.2 L549.3 365.3 L543.3 367.3 L537.3 369.2 L531.6 371.7 L525.9 374.1 L519.6 376.9 L513.4 379.7 L507.4 383 L501.4 386.3 L495.4 390.2 L489.4 394.2 L482.9 397.8 L476.5 401.3 L470.4 404 L464.3 406.7 L457.9 409.1 L451.6 411.4 L445.4 413.3 L439.2 415.3 L432.9 417.1 L426.6 418.9 L420.4 420.8 L414.2 422.8 L399 427.6Z" fill="#5c5c5c" filter="url(#b1_5)" style="mix-blend-mode:lighten"/>
<path d="M398.5 426 L413.8 421.2 L420 419.3 L426.2 417.3 L432.5 415.5 L438.8 413.7 L444.9 411.8 L451 409.8 L457.4 407.5 L463.7 405.3 L469.7 402.6 L475.7 399.9 L482.2 396.3 L488.6 392.8 L494.6 388.9 L500.6 384.9 L506.6 381.6 L512.6 378.3 L519 375.5 L525.3 372.7 L531 370.2 L536.7 367.8 L542.7 365.7 L548.7 363.7 L563.9 358.7 L567.6 369.6 L552.4 374.6 L546.3 376.5 L540.7 378.3 L535.3 380.4 L529.6 382.6 L523.3 385.2 L517.3 387.7 L511.8 391 L506.2 394.2 L500.5 397.9 L494.2 402.1 L487.4 405.9 L480.7 409.8 L474.2 412.7 L467.8 415.5 L461.2 418 L454.7 420.5 L448.3 422.5 L442 424.5 L435.5 426.1 L429.3 427.7 L423.1 429.3 L416.8 431 L401.6 435.8Z" fill="#646464" filter="url(#b1_5)"/>
<path d="M393.9 411.5 L409.2 406.7 L415.4 404.8 L421.8 402.8 L428.3 400.9 L434.4 399.2 L440.3 397.3 L446.1 395.5 L452.2 393.3 L458 391.2 L463.5 388.7 L468.9 386.3 L474.8 383 L480.7 379.8 L486.2 376.2 L492.7 371.9 L499.3 368.3 L505.9 364.7 L512.8 361.6 L519.2 358.7 L525 356.3 L531.3 353.5 L537.9 351.3 L543.9 349.3 L559.1 344.3 L564.4 360.2 L549.3 365.3 L543.3 367.3 L537.3 369.2 L531.6 371.7 L525.9 374.1 L519.6 376.9 L513.4 379.7 L507.4 383 L501.4 386.3 L495.4 390.2 L489.4 394.2 L482.9 397.8 L476.5 401.3 L470.4 404 L464.3 406.7 L457.9 409.1 L451.6 411.4 L445.4 413.3 L439.2 415.3 L432.9 417.1 L426.6 418.9 L420.4 420.8 L414.2 422.8 L399 427.6Z" fill="#646464" filter="url(#b1_5)" style="mix-blend-mode:lighten"/>
<path d="M398.5 426 L413.8 421.2 L420 419.3 L426.2 417.3 L432.5 415.5 L438.8 413.7 L444.9 411.8 L451 409.8 L457.4 407.5 L463.7 405.3 L469.7 402.6 L475.7 399.9 L482.2 396.3 L488.6 392.8 L494.6 388.9 L500.6 384.9 L506.6 381.6 L512.6 378.3 L519 375.5 L525.3 372.7 L531 370.2 L536.7 367.8 L542.7 365.7 L548.7 363.7 L563.9 358.7 L567.2 368.4 L552 373.5 L546 375.4 L540.3 377.1 L534.8 379.2 L529.1 381.3 L522.8 384 L516.7 386.5 L511.1 389.8 L505.5 393 L499.8 396.8 L493.5 400.9 L486.8 404.8 L480.1 408.6 L473.7 411.5 L467.4 414.3 L460.7 416.9 L454.3 419.3 L447.9 421.3 L441.7 423.3 L435.2 424.9 L428.9 426.4 L422.7 428 L416.4 429.6 L401.1 434.4Z" fill="#6c6c6c" filter="url(#b1_5)"/>
<path d="M393.9 411.5 L409.2 406.7 L415.4 404.8 L421.8 402.8 L428.3 400.9 L434.4 399.2 L440.3 397.3 L446.1 395.5 L452.2 393.3 L458 391.2 L463.5 388.7 L468.9 386.3 L474.8 383 L480.7 379.8 L486.2 376.2 L492.7 371.9 L499.3 368.3 L505.9 364.7 L512.8 361.6 L519.2 358.7 L525 356.3 L531.3 353.5 L537.9 351.3 L543.9 349.3 L559.1 344.3 L564.4 360.2 L549.3 365.3 L543.3 367.3 L537.3 369.2 L531.6 371.7 L525.9 374.1 L519.6 376.9 L513.4 379.7 L507.4 383 L501.4 386.3 L495.4 390.2 L489.4 394.2 L482.9 397.8 L476.5 401.3 L470.4 404 L464.3 406.7 L457.9 409.1 L451.6 411.4 L445.4 413.3 L439.2 415.3 L432.9 417.1 L426.6 418.9 L420.4 420.8 L414.2 422.8 L399 427.6Z" fill="#6c6c6c" filter="url(#b1_5)" style="mix-blend-mode:lighten"/>
<path d="M398.5 426 L413.8 421.2 L420 419.3 L426.2 417.3 L432.5 415.5 L438.8 413.7 L444.9 411.8 L451 409.8 L457.4 407.5 L463.7 405.3 L469.7 402.6 L475.7 399.9 L482.2 396.3 L488.6 392.8 L494.6 388.9 L500.6 384.9 L506.6 381.6 L512.6 378.3 L519 375.5 L525.3 372.7 L531 370.2 L536.7 367.8 L542.7 365.7 L548.7 363.7 L563.9 358.7 L566.8 367.3 L551.6 372.4 L545.6 374.2 L539.8 376 L534.3 378 L528.5 380.1 L522.2 382.7 L516.1 385.2 L510.4 388.6 L504.8 391.9 L499 395.7 L492.8 399.8 L486.2 403.6 L479.5 407.5 L473.2 410.3 L466.9 413.1 L460.3 415.7 L453.9 418.2 L447.6 420.2 L441.3 422.2 L434.8 423.7 L428.5 425.1 L422.3 426.7 L416 428.2 L400.7 433Z" fill="#747474" filter="url(#b1_5)"/>
<path d="M395.2 415.4 L410.4 410.6 L416.5 408.4 L422.8 406.2 L429.2 404.2 L435.3 402.2 L441.3 400.3 L447.2 398.5 L453.3 396.3 L459.3 394.3 L464.9 391.8 L470.5 389.3 L476.5 386.1 L482.6 382.9 L488.2 379.2 L494.6 375 L501.1 371.5 L507.6 368.1 L514.3 365 L520.6 362 L526.3 359.3 L532.4 356.5 L538.9 354.3 L544.9 352.2 L560.1 347.1 L564.4 360.2 L549.3 365.3 L543.3 367.3 L537.3 369.2 L531.6 371.7 L525.9 374.1 L519.6 376.9 L513.4 379.7 L507.4 383 L501.4 386.3 L495.4 390.2 L489.4 394.2 L482.9 397.8 L476.5 401.3 L470.4 404 L464.3 406.7 L457.9 409.1 L451.6 411.4 L445.4 413.3 L439.2 415.3 L432.9 417.1 L426.6 418.9 L420.4 420.8 L414.2 422.8 L399 427.6Z" fill="#747474" filter="url(#b1_5)" style="mix-blend-mode:lighten"/>
<path d="M398.5 426 L413.8 421.2 L420 419.3 L426.2 417.3 L432.5 415.5 L438.8 413.7 L444.9 411.8 L451 409.8 L457.4 407.5 L463.7 405.3 L469.7 402.6 L475.7 399.9 L482.2 396.3 L488.6 392.8 L494.6 388.9 L500.6 384.9 L506.6 381.6 L512.6 378.3 L519 375.5 L525.3 372.7 L531 370.2 L536.7 367.8 L542.7 365.7 L548.7 363.7 L563.9 358.7 L566.4 366.2 L551.2 371.2 L545.2 373.1 L539.4 374.8 L533.8 376.8 L528 378.9 L521.7 381.5 L515.5 384 L509.8 387.4 L504.1 390.7 L498.3 394.6 L492.1 398.6 L485.5 402.5 L479 406.3 L472.7 409.1 L466.4 411.9 L459.9 414.5 L453.5 417 L447.2 419 L441 421 L434.5 422.5 L428.1 423.8 L421.9 425.4 L415.5 426.9 L400.3 431.7Z" fill="#7c7c7c" filter="url(#b1_5)"/>
<path d="M396.1 418.3 L411.3 413.5 L417.4 411.1 L423.6 408.7 L429.9 406.6 L436 404.5 L442 402.6 L447.9 400.7 L454.1 398.6 L460.2 396.6 L465.9 394.1 L471.6 391.5 L477.8 388.3 L484 385.1 L489.6 381.4 L495.9 377.2 L502.4 373.9 L508.8 370.6 L515.4 367.5 L521.7 364.5 L527.3 361.6 L533.3 358.7 L539.7 356.5 L545.6 354.3 L560.8 349.3 L564.4 360.2 L549.3 365.3 L543.3 367.3 L537.3 369.2 L531.6 371.7 L525.9 374.1 L519.6 376.9 L513.4 379.7 L507.4 383 L501.4 386.3 L495.4 390.2 L489.4 394.2 L482.9 397.8 L476.5 401.3 L470.4 404 L464.3 406.7 L457.9 409.1 L451.6 411.4 L445.4 413.3 L439.2 415.3 L432.9 417.1 L426.6 418.9 L420.4 420.8 L414.2 422.8 L399 427.6Z" fill="#7c7c7c" filter="url(#b1_5)" style="mix-blend-mode:lighten"/>
<path d="M398.5 426 L413.8 421.2 L420 419.3 L426.2 417.3 L432.5 415.5 L438.8 413.7 L444.9 411.8 L451 409.8 L457.4 407.5 L463.7 405.3 L469.7 402.6 L475.7 399.9 L482.2 396.3 L488.6 392.8 L494.6 388.9 L500.6 384.9 L506.6 381.6 L512.6 378.3 L519 375.5 L525.3 372.7 L531 370.2 L536.7 367.8 L542.7 365.7 L548.7 363.7 L563.9 358.7 L566.1 365.1 L550.9 370.1 L544.8 371.9 L539 373.7 L533.3 375.7 L527.5 377.7 L521.1 380.2 L514.9 382.7 L509.1 386.2 L503.4 389.6 L497.6 393.4 L491.4 397.5 L484.9 401.3 L478.4 405.2 L472.1 408 L465.9 410.7 L459.5 413.3 L453.1 415.8 L446.8 417.8 L440.6 419.8 L434.1 421.2 L427.7 422.6 L421.5 424 L415.1 425.5 L399.8 430.3Z" fill="#838383" filter="url(#b1_5)"/>
<path d="M396.9 420.9 L412.2 416.1 L418.2 413.6 L424.3 411 L430.5 408.7 L436.6 406.5 L442.6 404.6 L448.6 402.7 L454.9 400.7 L461.1 398.7 L466.8 396.1 L472.6 393.6 L478.9 390.4 L485.2 387.2 L490.9 383.4 L497.2 379.3 L503.6 376.1 L510 372.9 L516.4 369.7 L522.6 366.6 L528.2 363.7 L534 360.7 L540.3 358.4 L546.2 356.2 L561.4 351.2 L564.4 360.2 L549.3 365.3 L543.3 367.3 L537.3 369.2 L531.6 371.7 L525.9 374.1 L519.6 376.9 L513.4 379.7 L507.4 383 L501.4 386.3 L495.4 390.2 L489.4 394.2 L482.9 397.8 L476.5 401.3 L470.4 404 L464.3 406.7 L457.9 409.1 L451.6 411.4 L445.4 413.3 L439.2 415.3 L432.9 417.1 L426.6 418.9 L420.4 420.8 L414.2 422.8 L399 427.6Z" fill="#838383" filter="url(#b1_5)" style="mix-blend-mode:lighten"/>
<path d="M398.5 426 L413.8 421.2 L420 419.3 L426.2 417.3 L432.5 415.5 L438.8 413.7 L444.9 411.8 L451 409.8 L457.4 407.5 L463.7 405.3 L469.7 402.6 L475.7 399.9 L482.2 396.3 L488.6 392.8 L494.6 388.9 L500.6 384.9 L506.6 381.6 L512.6 378.3 L519 375.5 L525.3 372.7 L531 370.2 L536.7 367.8 L542.7 365.7 L548.7 363.7 L563.9 358.7 L565.7 363.9 L550.5 369 L544.4 370.8 L538.5 372.5 L532.8 374.5 L526.9 376.5 L520.5 379 L514.2 381.5 L508.5 385 L502.7 388.5 L496.8 392.3 L490.7 396.4 L484.3 400.2 L477.8 404 L471.6 406.8 L465.4 409.6 L459 412.1 L452.7 414.7 L446.5 416.7 L440.2 418.6 L433.8 420 L427.4 421.3 L421 422.7 L414.7 424.1 L399.4 428.9Z" fill="#8b8b8b" filter="url(#b1_5)"/>
<path d="M397.7 423.4 L412.9 418.6 L418.9 415.8 L424.9 413.2 L431.1 410.7 L437.2 408.4 L443.2 406.5 L449.3 404.6 L455.6 402.6 L461.8 400.6 L467.7 398 L473.5 395.4 L479.9 392.3 L486.3 389.1 L492.2 385.2 L498.3 381.2 L504.7 378.1 L511 375 L517.3 371.8 L523.5 368.7 L529 365.6 L534.8 362.6 L540.9 360.3 L546.8 358 L562 353 L564.4 360.2 L549.3 365.3 L543.3 367.3 L537.3 369.2 L531.6 371.7 L525.9 374.1 L519.6 376.9 L513.4 379.7 L507.4 383 L501.4 386.3 L495.4 390.2 L489.4 394.2 L482.9 397.8 L476.5 401.3 L470.4 404 L464.3 406.7 L457.9 409.1 L451.6 411.4 L445.4 413.3 L439.2 415.3 L432.9 417.1 L426.6 418.9 L420.4 420.8 L414.2 422.8 L399 427.6Z" fill="#8b8b8b" filter="url(#b1_5)" style="mix-blend-mode:lighten"/>
<path d="M398.5 426 L413.8 421.2 L420 419.3 L426.2 417.3 L432.5 415.5 L438.8 413.7 L444.9 411.8 L451 409.8 L457.4 407.5 L463.7 405.3 L469.7 402.6 L475.7 399.9 L482.2 396.3 L488.6 392.8 L494.6 388.9 L500.6 384.9 L506.6 381.6 L512.6 378.3 L519 375.5 L525.3 372.7 L531 370.2 L536.7 367.8 L542.7 365.7 L548.7 363.7 L563.9 358.7 L565.3 362.8 L550.1 367.9 L544.1 369.7 L538.1 371.4 L532.3 373.3 L526.4 375.2 L520 377.8 L513.6 380.2 L507.8 383.8 L502 387.3 L496.1 391.2 L490 395.2 L483.7 399.1 L477.2 402.9 L471.1 405.6 L465 408.4 L458.6 411 L452.3 413.5 L446.1 415.5 L439.9 417.4 L433.4 418.8 L427 420 L420.6 421.4 L414.2 422.7 L399 427.5Z" fill="#939393" filter="url(#b1_5)"/>
<path d="M398.4 425.7 L413.6 420.9 L419.5 418 L425.5 415.2 L431.7 412.7 L437.7 410.3 L443.8 408.3 L449.9 406.4 L456.2 404.4 L462.6 402.5 L468.5 399.9 L474.4 397.2 L480.9 394.1 L487.4 390.9 L493.3 387 L499.4 383 L505.7 380 L512 377.1 L518.2 373.8 L524.4 370.6 L529.8 367.5 L535.4 364.4 L541.5 362 L547.4 359.7 L562.6 354.7 L564.4 360.2 L549.3 365.3 L543.3 367.3 L537.3 369.2 L531.6 371.7 L525.9 374.1 L519.6 376.9 L513.4 379.7 L507.4 383 L501.4 386.3 L495.4 390.2 L489.4 394.2 L482.9 397.8 L476.5 401.3 L470.4 404 L464.3 406.7 L457.9 409.1 L451.6 411.4 L445.4 413.3 L439.2 415.3 L432.9 417.1 L426.6 418.9 L420.4 420.8 L414.2 422.8 L399 427.6Z" fill="#939393" filter="url(#b1_5)" style="mix-blend-mode:lighten"/>
<path d="M398.7 426.8 L414 422 L420.2 420.1 L426.2 417.3 L432.5 415.5 L438.8 413.7 L444.9 411.8 L451 409.8 L457.4 407.5 L463.7 405.3 L469.7 402.6 L475.7 399.9 L482.2 396.3 L488.6 392.8 L494.6 388.9 L500.6 384.9 L506.6 381.6 L513 379 L519 375.5 L525.3 372.7 L531 370.2 L536.7 367.8 L542.7 365.7 L548.7 363.7 L563.9 358.7 L564.9 361.7 L549.7 366.7 L543.7 368.5 L537.7 370.2 L531.8 372.1 L525.9 374 L519.4 376.5 L513 379 L507.2 382.6 L501.3 386.2 L495.4 390.1 L489.3 394.1 L483 397.9 L476.7 401.7 L470.6 404.5 L464.5 407.2 L458.2 409.8 L451.9 412.3 L445.7 414.3 L439.5 416.3 L433.1 417.5 L426.6 418.7 L420.2 420.1 L414 422 L398.7 426.8Z" fill="#9b9b9b" filter="url(#b1_5)"/>
<path d="M398.7 426.8 L414 422 L420.2 420.1 L426.1 417.1 L432.2 414.5 L438.2 412 L444.4 410.1 L450.5 408.1 L456.9 406.2 L463.3 404.3 L469.3 401.6 L475.3 398.9 L481.9 395.8 L488.5 392.6 L494.5 388.7 L500.5 384.8 L506.8 381.8 L513 379 L519.1 375.7 L525.2 372.5 L530.6 369.2 L536.1 366.1 L542.1 363.7 L548 361.4 L563.1 356.3 L564.4 360.2 L549.3 365.3 L543.3 367.3 L537.3 369.2 L531.6 371.7 L525.9 374.1 L519.6 376.9 L513 379 L507.4 383 L501.4 386.3 L495.4 390.2 L489.4 394.2 L482.9 397.8 L476.5 401.3 L470.4 404 L464.3 406.7 L457.9 409.1 L451.6 411.4 L445.4 413.3 L439.2 415.3 L432.9 417.1 L426.6 418.9 L420.2 420.1 L414 422 L398.7 426.8Z" fill="#9b9b9b" filter="url(#b1_5)" style="mix-blend-mode:lighten"/>
<path d="M398.7 426.8 L414 422 L420.2 420.1 L426.4 418.1 L432.7 416.3 L438.8 413.7 L444.9 411.8 L451 409.8 L457.4 407.5 L464 406 L470.1 403.3 L476.1 400.6 L482.6 397.1 L489 393.5 L495 389.6 L501 385.6 L507 382.3 L513 379 L519.3 376.2 L525.6 373.4 L531.3 370.9 L536.7 367.8 L542.7 365.7 L548.7 363.7 L563.9 358.7 L564.6 360.6 L549.4 365.6 L543.3 367.4 L537.2 369.1 L531.3 370.9 L525.6 373.4 L519.3 376.2 L513 379 L507 382.3 L501 385.6 L495 389.6 L489 393.5 L482.6 397.1 L476.1 400.6 L470.1 403.3 L464 406 L457.8 408.6 L451.5 411.2 L445.3 413.1 L439.2 415.1 L432.7 416.3 L426.4 418.1 L420.2 420.1 L414 422 L398.7 426.8Z" fill="#a3a3a3" filter="url(#b1_5)"/>
<path d="M398.7 426.8 L414 422 L420.2 420.1 L426.4 418.1 L432.7 416.3 L438.8 413.7 L444.9 411.7 L451 409.8 L457.5 407.9 L464 406 L470.1 403.3 L476.1 400.6 L482.6 397.1 L489 393.5 L495 389.6 L501 385.6 L507 382.3 L513 379 L519.3 376.2 L525.6 373.4 L531.3 370.9 L536.7 367.7 L542.6 365.3 L548.5 363 L563.7 357.9 L564.4 360.2 L549.3 365.3 L543.3 367.3 L537.3 369.2 L531.3 370.9 L525.6 373.4 L519.3 376.2 L513 379 L507 382.3 L501 385.6 L495 389.6 L489 393.5 L482.6 397.1 L476.1 400.6 L470.1 403.3 L464 406 L457.9 409.1 L451.6 411.4 L445.4 413.3 L439.2 415.3 L432.7 416.3 L426.4 418.1 L420.2 420.1 L414 422 L398.7 426.8Z" fill="#a3a3a3" filter="url(#b1_5)" style="mix-blend-mode:lighten"/>
<ellipse cx="574" cy="391" rx="6" ry="5" fill="#4c4c4c" filter="url(#b2_5)"/>
<path d="M458 452 C459 446.3 479.7 441.7 490 436 C500.3 430.3 510.3 423.7 520 418 C529.7 412.3 539.7 404.3 548 402 C556.3 399.7 564.3 403 570 404 C575.7 405 583.7 403.3 582 408 C580.3 412.7 567.8 423.7 560 432 C552.2 440.3 543.3 449 535 458 C526.7 467 518.5 484 510 486 C501.5 488 492.7 475.7 484 470 C475.3 464.3 457 457.7 458 452Z" fill="#747474" filter="url(#b5)"/>
<ellipse cx="512" cy="470" rx="14" ry="10" fill="#888888" transform="rotate(-40 512 470)" filter="url(#b4)"/>
<ellipse cx="506" cy="484" rx="4" ry="3" fill="#a3a3a3" filter="url(#b2)"/>
<ellipse cx="540" cy="430" rx="12" ry="8" fill="#808080" transform="rotate(-40 540 430)" filter="url(#b4)"/>
</g>
<path d="M146.1 196.6 L154 193.7 L160.6 191.5 L166 192.2 L172 196.2 L182.3 197.5 L190.5 195.6 L197.5 193.8 L204.5 192.1 L211.4 190.3 L218.3 188.9 L225.2 187.4 L232.1 186.2 L237.7 185 L246.1 186.7 L257.1 191.4 L269.4 189.8 L276.1 187.4 L281.8 185.2 L288.1 183.5 L294.5 181.8 L300.8 180.3 L306.5 179 L311.5 179.5 L316.8 179.9 L324.4 182 L332.4 184.3 L329.1 195.8 L320.4 196.1 L313.6 196.2 L310 197.3 L308 197.5 L305.2 199.1 L299.3 201.1 L293.3 202.9 L287.9 204.3 L283.1 206.1 L273.9 209.3 L254.1 211.2 L240 205.7 L236.9 205 L235.6 205.8 L229 207 L222.4 208.4 L215.9 209.7 L209.1 210.7 L202 211.8 L194.8 212.9 L183.1 214 L166.9 210.5 L161.3 205.3 L161.7 204 L157.6 204.4 L149.6 206Z" fill="#06120e" opacity="0.525" filter="url(#b4)"/>
<ellipse cx="170.5" cy="186" rx="3.5" ry="4.5" fill="#06120e" filter="url(#b1_5)" opacity="0.6"/>
<path d="M268 186 C268.7 187 270 191.2 272 192 C274 192.8 278.7 191.2 280 191" fill="none" stroke="#06120e" stroke-width="4.5" stroke-linecap="round" stroke-linejoin="round" filter="url(#b1_5)" opacity="0.6"/>
<path d="M259 192 C259.7 195.3 262.4 205.7 263 212 C263.6 218.3 263.2 225.3 262.5 230 C261.8 234.7 259.6 238.3 259 240" fill="none" stroke="#06120e" stroke-width="9" stroke-linecap="round" stroke-linejoin="round" filter="url(#b3)" opacity="0.7"/>
<ellipse cx="249" cy="255" rx="4.5" ry="8" fill="#06120e" transform="rotate(30 249 255)" filter="url(#b2)" opacity="0.7"/>
<ellipse cx="211" cy="239" rx="3" ry="5" fill="#06120e" transform="rotate(30 211 239)" filter="url(#b2)" opacity="0.45"/>
<ellipse cx="262" cy="234" rx="3" ry="6" fill="#06120e" transform="rotate(20 262 234)" filter="url(#b2)" opacity="0.35"/>
<path d="M263 295.2 L269.2 291.7 L276.2 287.4 L283 283.2 L289.7 279.4 L296.5 275.6 L303.4 271.3 L310.2 267.1 L317.1 262.5 L323.9 258.1 L330.9 253.9 L338 249.7 L345.7 245.3 L353.4 240.9 L360 237.4 L366.7 233.9 L373.5 230.6 L380.3 227.4 L387.3 224.5 L394.3 221.5 L400.3 219 L406.3 216.5 L413.6 234.1 L407.6 236.6 L401.6 239.1 L394.6 242 L388.1 244.7 L381.7 247.8 L375.2 250.9 L368.9 254.2 L362.6 257.5 L355.2 261.7 L347.6 266.1 L340.6 270.2 L333.9 274.2 L327.6 278.4 L320.4 283.1 L313.3 287.5 L306.1 291.9 L299 295.9 L292.7 299.5 L286.1 303.6 L278.9 308 L272.4 311.7Z" fill="#06120e" opacity="0.35" filter="url(#b4)"/>
<path d="M388.4 267 C390.2 265.1 397 266.8 400.9 269.5 C404.8 272.2 408.9 277.7 411.5 283.3 C414.1 288.9 417.4 298.9 416.5 303.2 C415.6 307.5 409 310.2 405.8 309 C402.6 307.8 400.1 300.4 397.5 295.7 C394.9 291 391.5 285.6 390 280.8 C388.5 276 386.6 268.9 388.4 267Z" fill="#06120e" filter="url(#b2_5)" opacity="0.82"/>
<path d="M403 262 C406.5 262.7 416.2 263 424 266 C431.8 269 445.7 277.7 450 280" fill="none" stroke="#06120e" stroke-width="12" stroke-linecap="round" stroke-linejoin="round" filter="url(#b3)" opacity="0.85"/>
<ellipse cx="354" cy="274" rx="4" ry="3" fill="#06120e" filter="url(#b2)" opacity="0.3"/>
<path d="M322.4 353.9 L331.7 350 L337.5 348 L343.3 345.9 L349.9 343.6 L356.4 341.3 L362.4 339.1 L368.3 336.9 L374.8 334.7 L381.3 332.6 L388.7 331 L396.2 329.5 L403.5 328.5 L410.8 327.6 L417.3 328 L423.8 328.5 L430.2 330.2 L436.7 332 L435.4 336.8 L428.5 336.6 L422.5 336.4 L416.7 336.6 L411.2 336.7 L404.8 338.1 L397.8 339.5 L390.9 341.5 L384.1 343.2 L378.3 345.2 L372 347.3 L366.2 349.5 L360.2 351.7 L353.5 354 L346.8 355.9 L340.8 357.5 L335.1 358.9 L325.9 362.2Z" fill="#06120e" opacity="0.6" filter="url(#b2)"/>
<path d="M370 352 C372.7 351 380.3 347.8 386 346 C391.7 344.2 401 341.8 404 341" fill="none" stroke="#06120e" stroke-width="5" stroke-linecap="round" stroke-linejoin="round" filter="url(#b2_5)" opacity="0.45"/>
<path d="M377.7 396.7 L383 392.6 L388.4 388.4 L393.4 384.4 L403.3 378 L413.2 371.6 L421.2 366.6 L429.1 361.7 L436.5 357.5 L444 353.2 L451.5 349 L458.9 344.7 L464.9 341.5 L470.5 338.4 L478.3 335.3 L486 332.2 L493.6 330 L501.4 327.8 L509.1 326.4 L517.1 324.9 L520.4 342.6 L512.4 344.1 L505.5 345.4 L498.5 347.4 L491.8 349.2 L485 352 L478.1 354.8 L473.4 357.4 L467.7 360.5 L460.3 364.6 L452.8 368.9 L445.3 373.1 L438.3 377.1 L430.7 381.9 L422.9 386.7 L413.1 393.1 L403.7 399.2 L399.4 402.6 L394.1 406.7 L388.8 410.9Z" fill="#06120e" opacity="0.35" filter="url(#b4)"/>
<ellipse cx="444" cy="393.5" rx="12" ry="4.6" fill="#06120e" transform="rotate(-25 444 393.5)" filter="url(#b1_5)" opacity="0.85"/>
<path d="M414.3 423 L420.5 421 L426.7 419.1 L433 417.3 L439.3 415.5 L445.5 413.5 L451.6 411.5 L458 409.2 L464.4 406.9 L470.5 404.2 L476.5 401.5 L483 397.9 L489.5 394.4 L495.5 390.4 L501.5 386.5 L507.5 383.2 L513.4 379.9 L519.7 377.1 L526 374.3 L531.7 371.9 L537.4 369.4 L543.3 367.4 L549.3 365.4 L554.1 379.7 L548.2 382.2 L543 384.4 L538.2 387 L532.8 389.9 L526.6 392.6 L521 395.1 L515.7 398.1 L510.3 401 L504.9 404.6 L498.3 408.9 L491.2 412.8 L484.1 416.7 L477.4 419.7 L470.7 422.7 L463.6 424.8 L456.8 426.7 L450.1 428.3 L443.6 429.8 L436.8 430.7 L430.4 431.5 L424.1 432.5 L417.6 433.4Z" fill="#06120e" opacity="0.407" filter="url(#b3)"/>
<path d="M548 372 C550.3 374 557.7 379.7 562 384 C566.3 388.3 572 395.7 574 398" fill="none" stroke="#06120e" stroke-width="9" stroke-linecap="round" stroke-linejoin="round" filter="url(#b3)" opacity="0.62"/>
<ellipse cx="496" cy="443" rx="8" ry="5.5" fill="#06120e" transform="rotate(-40 496 443)" filter="url(#b2)" opacity="0.68"/>
<ellipse cx="518.4" cy="433" rx="8" ry="5.5" fill="#06120e" transform="rotate(-40 518.4 433)" filter="url(#b2)" opacity="0.68"/>
<ellipse cx="540.6" cy="424.6" rx="8" ry="5.5" fill="#06120e" transform="rotate(-40 540.6 424.6)" filter="url(#b2)" opacity="0.68"/>
<ellipse cx="560.6" cy="412.1" rx="7" ry="5" fill="#06120e" transform="rotate(-40 560.6 412.1)" filter="url(#b2)" opacity="0.68"/>
<ellipse cx="575.6" cy="402.2" rx="5" ry="4.5" fill="#06120e" transform="rotate(-40 575.6 402.2)" filter="url(#b2)" opacity="0.68"/>
<ellipse cx="491" cy="462.6" rx="6.5" ry="5" fill="#06120e" transform="rotate(-40 491 462.6)" filter="url(#b2)" opacity="0.68"/>
<ellipse cx="528.3" cy="457.8" rx="7" ry="5" fill="#06120e" transform="rotate(-40 528.3 457.8)" filter="url(#b2)" opacity="0.68"/>
<ellipse cx="476" cy="451" rx="7" ry="4.5" fill="#06120e" transform="rotate(-40 476 451)" filter="url(#b2)" opacity="0.68"/>
<ellipse cx="508" cy="449" rx="6" ry="4" fill="#06120e" transform="rotate(-40 508 449)" filter="url(#b2)" opacity="0.68"/>
<ellipse cx="548" cy="441" rx="6" ry="4.5" fill="#06120e" transform="rotate(-40 548 441)" filter="url(#b2)" opacity="0.68"/>
<ellipse cx="232" cy="96" rx="8" ry="5" fill="#06120e" transform="rotate(40 232 96)" filter="url(#b2)" opacity="0.6"/>
<path d="M238 109 C239.3 110.2 243.7 113.5 246 116 C248.3 118.5 251 122.7 252 124" fill="none" stroke="#06120e" stroke-width="4" stroke-linecap="round" stroke-linejoin="round" filter="url(#b1_5)" opacity="0.5"/>
<ellipse cx="260.8" cy="135.7" rx="5" ry="3" fill="#06120e" transform="rotate(-30 260.8 135.7)" filter="url(#b1_5)" opacity="0.5"/>
<path d="M212 112 C210.7 114 206.7 120.7 204 124 C201.3 127.3 197.3 130.7 196 132" fill="none" stroke="#06120e" stroke-width="4" stroke-linecap="round" stroke-linejoin="round" filter="url(#b2)" opacity="0.45"/>
<path d="M196 140 C195 141.7 192 147.3 190 150 C188 152.7 185 155 184 156" fill="none" stroke="#06120e" stroke-width="3.5" stroke-linecap="round" stroke-linejoin="round" filter="url(#b1_5)" opacity="0.4"/>
<path d="M208 138 L203 148" fill="none" stroke="#06120e" stroke-width="3" stroke-linecap="round" stroke-linejoin="round" filter="url(#b1_5)" opacity="0.35"/>
<rect x="100" y="60" width="540" height="460" fill="#06120e" opacity="0.08"/>
</g>
<path d="M136.2 230.7 C138.2 229 145.2 223.3 148.5 220.3 C151.8 217.3 154.1 215.1 155.9 212.8 C157.8 210.5 159 207.6 159.6 206.5" fill="none" stroke="#38302a" stroke-width="2.0" stroke-linecap="butt" stroke-linejoin="round" stroke-dasharray="3.7 2.4"/>
<path d="M139.5 245.5 C141.6 243.5 148.2 236.6 152.2 233.3 C156.2 230 159.1 228.1 163.4 225.9 C167.8 223.7 175.8 221.2 178.3 220.3" fill="none" stroke="#38302a" stroke-width="2.0" stroke-linecap="butt" stroke-linejoin="round" stroke-dasharray="3.7 2.4"/>
<path d="M167.1 263.9 C169.3 262.2 176.4 257.4 180.1 253.8 C183.8 250.2 186.8 246.3 189.5 242.6 C192.2 238.9 195.1 233.3 196.2 231.4" fill="none" stroke="#38302a" stroke-width="2.0" stroke-linecap="butt" stroke-linejoin="round" stroke-dasharray="3.7 2.4"/>
<path d="M208.3 288.9 C209.6 287.8 213.1 284.2 216.1 282.6 C219.1 281 222.6 280.3 226.5 279.5 C230.4 278.7 236.1 279.2 239.6 278 C243.1 276.8 244.8 274.4 247.4 272 C250 269.6 252.8 265.6 255.2 263.4 C257.6 261.1 259.8 259.7 262 258.5 C264.2 257.3 267.2 256.7 268.3 256.3" fill="none" stroke="#38302a" stroke-width="2.0" stroke-linecap="butt" stroke-linejoin="round" stroke-dasharray="3.7 2.4"/>
<path d="M214 293.8 C217.4 293.5 229.1 292.9 234.4 292.2 C239.7 291.5 242.7 290.7 246 289.6 C249.3 288.5 251.2 287.8 254 285.5 C256.8 283.2 260.3 279.1 263 275.9 C265.7 272.6 268 268.6 270 266 C272 263.4 274 261.2 274.8 260.2" fill="none" stroke="#38302a" stroke-width="2.0" stroke-linecap="butt" stroke-linejoin="round" stroke-dasharray="3.7 2.4"/>
<path d="M233.5 306 C234.6 305.6 236.9 304.8 240 303.5 C243.1 302.2 247.7 299.4 252 298.4 C256.3 297.4 261.2 298.2 265.8 297.4 C270.4 296.6 275.8 295.4 279.8 293.4 C283.8 291.4 286.9 287.2 289.7 285.4 C292.5 283.6 295.5 282.9 296.7 282.4" fill="none" stroke="#2e2e2e" stroke-width="2.0" stroke-linecap="round" stroke-linejoin="round"/>
<path d="M244.8 318.9 C245.5 318.4 247.3 316.9 249 316 C250.7 315.1 251.5 314.6 255.2 313.7 C258.8 312.8 265.7 311.2 270.9 310.5 C276.1 309.8 280.4 310.6 286.5 309.6 C292.6 308.6 301.8 306.1 307.4 304.6 C313 303.1 318.2 301.4 320.4 300.7" fill="none" stroke="#38302a" stroke-width="2.0" stroke-linecap="butt" stroke-linejoin="round" stroke-dasharray="3.7 2.4"/>
<path d="M280 340.6 C282.1 339.6 288.7 337.4 292.4 334.3 C296.1 331.2 299.1 325.5 302.4 322 C305.7 318.5 309.2 315.3 312.3 313.2 C315.4 311.1 319.6 310.1 321 309.5" fill="none" stroke="#38302a" stroke-width="2.0" stroke-linecap="butt" stroke-linejoin="round" stroke-dasharray="3.7 2.4"/>
<path d="M280 309 C281.9 307.7 287.8 304.1 291.7 301.3 C295.6 298.5 301.6 293.9 303.6 292.4" fill="none" stroke="#38302a" stroke-width="2.0" stroke-linecap="butt" stroke-linejoin="round" stroke-dasharray="3.7 2.4"/>
<path d="M319.8 359.2 C321.4 358.8 325.6 357.9 329.7 356.7 C333.8 355.4 340.1 354.2 344.6 351.7 C349.2 349.2 352.4 344.5 357 341.8 C361.6 339.1 367.1 337.2 371.9 335.6 C376.7 334 383.3 332.5 385.6 331.9" fill="none" stroke="#2e2e2e" stroke-width="2.0" stroke-linecap="round" stroke-linejoin="round"/>
<path d="M378.6 390.6 C380.1 389.8 383.4 387.8 387.3 385.7 C391.2 383.6 397.2 380.5 402.2 378.2 C407.2 375.9 411.3 374.7 417.1 372 C422.9 369.3 433.7 363.7 437 362" fill="none" stroke="#2e2e2e" stroke-width="2.0" stroke-linecap="round" stroke-linejoin="round"/>
<path d="M386 408 C387.9 407.4 393.4 405.3 397.3 404.3 C401.2 403.3 403.9 402.9 409.7 401.8 C415.5 400.8 426.2 399.2 432 398 C437.8 396.8 441.2 396.4 444.5 394.3 C447.8 392.2 449.5 387.8 452 385.7 C454.5 383.6 458.2 382.6 459.4 382" fill="none" stroke="#2e2e2e" stroke-width="2.0" stroke-linecap="round" stroke-linejoin="round"/>
<path d="M412.2 429.9 C413.4 428.5 415.9 424.5 419.6 421.7 C423.3 418.9 428.7 416.3 434.5 413 C440.3 409.7 447.8 405.1 454.4 401.8 C461 398.5 471 394.6 474.3 393.1" fill="none" stroke="#38302a" stroke-width="2.0" stroke-linecap="butt" stroke-linejoin="round" stroke-dasharray="3.7 2.4"/>
<path d="M420.9 424.9 C424.4 423.6 435.6 419 442 417.2 C448.4 415.4 453.6 415 459.4 414.2 C465.2 413.4 473.9 412.5 476.8 412.2" fill="none" stroke="#2e2e2e" stroke-width="2.0" stroke-linecap="round" stroke-linejoin="round"/>
<path d="M436.3 467.3 C437.2 466.2 439.9 462.9 442 461 C444.1 459.1 444.4 456.9 448.8 455.9 C453.2 454.9 460.4 455.1 468.6 454.8 C476.8 454.5 491 454.8 498.2 454.1 C505.4 453.4 507.5 452.6 511.6 450.7 C515.7 448.8 519.4 445.3 522.8 442.9 C526.1 440.5 530.2 437.3 531.7 436.2" fill="none" stroke="#2e2e2e" stroke-width="2.0" stroke-linecap="round" stroke-linejoin="round"/>
<text x="311" y="278.6" text-anchor="middle" font-size="18.5" fill="#2e2e2e">6</text>
<text x="396.8" y="331" text-anchor="middle" font-size="18.5" fill="#2e2e2e">5</text>
<text x="445.7" y="362.3" text-anchor="middle" font-size="18.5" fill="#2e2e2e">4</text>
<text x="466.8" y="383.5" text-anchor="middle" font-size="18.5" fill="#2e2e2e">3</text>
<text x="496.6" y="402.2" text-anchor="middle" font-size="18.5" fill="#2e2e2e">2</text>
<text x="536.2" y="435" text-anchor="middle" font-size="18.5" fill="#2e2e2e">1</text>
<rect x="125.65" y="554.4" width="1.3" height="5.2" fill="#7c7c7c"/>
<rect x="126.3" y="37.85" width="5.2" height="1.3" fill="#7c7c7c"/>
<rect x="200.05" y="554.4" width="1.3" height="5.2" fill="#7c7c7c"/>
<rect x="126.3" y="112.29" width="5.2" height="1.3" fill="#7c7c7c"/>
<rect x="274.45" y="554.4" width="1.3" height="5.2" fill="#7c7c7c"/>
<rect x="126.3" y="186.74" width="5.2" height="1.3" fill="#7c7c7c"/>
<rect x="348.85" y="554.4" width="1.3" height="5.2" fill="#7c7c7c"/>
<rect x="126.3" y="261.18" width="5.2" height="1.3" fill="#7c7c7c"/>
<rect x="423.25" y="554.4" width="1.3" height="5.2" fill="#7c7c7c"/>
<rect x="126.3" y="335.62" width="5.2" height="1.3" fill="#7c7c7c"/>
<rect x="497.65" y="554.4" width="1.3" height="5.2" fill="#7c7c7c"/>
<rect x="126.3" y="410.06" width="5.2" height="1.3" fill="#7c7c7c"/>
<rect x="572.05" y="554.4" width="1.3" height="5.2" fill="#7c7c7c"/>
<rect x="126.3" y="484.51" width="5.2" height="1.3" fill="#7c7c7c"/>
<rect x="646.45" y="554.4" width="1.3" height="5.2" fill="#7c7c7c"/>
<rect x="126.3" y="558.95" width="5.2" height="1.3" fill="#7c7c7c"/>
<rect x="125.55" y="37.9" width="1.5" height="522.45" fill="#7c7c7c"/>
<rect x="125.55" y="558.85" width="522.2" height="1.5" fill="#7c7c7c"/>
<text x="126.1" y="589" text-anchor="middle" font-size="20.5" fill="#454545">4.658</text>
<text x="117.9" y="46.8" text-anchor="end" font-size="20.5" fill="#454545">5.4081</text>
<text x="200.5" y="589" text-anchor="middle" font-size="20.5" fill="#454545">4.659</text>
<text x="117.9" y="121.24" text-anchor="end" font-size="20.5" fill="#454545">5.408</text>
<text x="274.9" y="589" text-anchor="middle" font-size="20.5" fill="#454545">4.66</text>
<text x="117.9" y="195.69" text-anchor="end" font-size="20.5" fill="#454545">5.4079</text>
<text x="349.3" y="589" text-anchor="middle" font-size="20.5" fill="#454545">4.661</text>
<text x="117.9" y="270.13" text-anchor="end" font-size="20.5" fill="#454545">5.4078</text>
<text x="423.7" y="589" text-anchor="middle" font-size="20.5" fill="#454545">4.662</text>
<text x="117.9" y="344.57" text-anchor="end" font-size="20.5" fill="#454545">5.4077</text>
<text x="498.1" y="589" text-anchor="middle" font-size="20.5" fill="#454545">4.663</text>
<text x="117.9" y="419.01" text-anchor="end" font-size="20.5" fill="#454545">5.4076</text>
<text x="572.5" y="589" text-anchor="middle" font-size="20.5" fill="#454545">4.664</text>
<text x="117.9" y="493.46" text-anchor="end" font-size="20.5" fill="#454545">5.4075</text>
<text x="646.9" y="589" text-anchor="middle" font-size="20.5" fill="#454545">4.665</text>
<text x="117.9" y="567.9" text-anchor="end" font-size="20.5" fill="#454545">5.4074</text>
<text x="386.4" y="618.9" text-anchor="middle" font-size="22.5" fill="#454545">UTM m</text>
<text transform="translate(44.2 299.65) rotate(-90)" text-anchor="middle" font-size="22.5" fill="#454545">UTM m</text>
<path d="M129.7 33.8L140.1 23.4M129.7 23.4L140.1 33.8" stroke="#454545" stroke-width="1.1" fill="none"/>
<text x="144.2" y="33.6" font-size="20" fill="#454545">10</text>
<text x="165.6" y="24" font-size="16" fill="#454545">6</text>
<path d="M601.6 622L612 611.6M601.6 611.6L612 622" stroke="#454545" stroke-width="1.1" fill="none"/>
<text x="615.6" y="621.9" font-size="20" fill="#454545">10</text>
<text x="637.5" y="613.8" font-size="16" fill="#454545">5</text><rect x="689.3" y="543.32" width="33.1" height="16.68" fill="#080078"/>
<rect x="689.3" y="527.03" width="33.1" height="16.68" fill="#280090"/>
<rect x="689.3" y="510.75" width="33.1" height="16.68" fill="#1808a4"/>
<rect x="689.3" y="494.46" width="33.1" height="16.68" fill="#0008c8"/>
<rect x="689.3" y="478.18" width="33.1" height="16.68" fill="#0418d0"/>
<rect x="689.3" y="461.89" width="33.1" height="16.68" fill="#0428dc"/>
<rect x="689.3" y="445.61" width="33.1" height="16.68" fill="#1c64f0"/>
<rect x="689.3" y="429.33" width="33.1" height="16.68" fill="#1484f8"/>
<rect x="689.3" y="413.04" width="33.1" height="16.68" fill="#18a8fc"/>
<rect x="689.3" y="396.76" width="33.1" height="16.68" fill="#30b8fc"/>
<rect x="689.3" y="380.47" width="33.1" height="16.68" fill="#44c4ff"/>
<rect x="689.3" y="364.19" width="33.1" height="16.68" fill="#60dcf0"/>
<rect x="689.3" y="347.9" width="33.1" height="16.68" fill="#68e8e0"/>
<rect x="689.3" y="331.62" width="33.1" height="16.68" fill="#7ce8c8"/>
<rect x="689.3" y="315.33" width="33.1" height="16.68" fill="#88e8b0"/>
<rect x="689.3" y="299.05" width="33.1" height="16.68" fill="#a8f0a4"/>
<rect x="689.3" y="282.77" width="33.1" height="16.68" fill="#c8fc9c"/>
<rect x="689.3" y="266.48" width="33.1" height="16.68" fill="#dcf088"/>
<rect x="689.3" y="250.2" width="33.1" height="16.68" fill="#ece878"/>
<rect x="689.3" y="233.91" width="33.1" height="16.68" fill="#f4d468"/>
<rect x="689.3" y="217.63" width="33.1" height="16.68" fill="#ffb858"/>
<rect x="689.3" y="201.34" width="33.1" height="16.68" fill="#ffa040"/>
<rect x="689.3" y="185.06" width="33.1" height="16.68" fill="#f4744c"/>
<rect x="689.3" y="168.77" width="33.1" height="16.68" fill="#ee5050"/>
<rect x="689.3" y="152.49" width="33.1" height="16.68" fill="#fc5858"/>
<rect x="689.3" y="136.21" width="33.1" height="16.68" fill="#ff7c7c"/>
<rect x="689.3" y="119.92" width="33.1" height="16.68" fill="#ff9c9c"/>
<rect x="689.3" y="103.64" width="33.1" height="16.68" fill="#f4b4b0"/>
<rect x="689.3" y="87.35" width="33.1" height="16.68" fill="#ffc4c4"/>
<rect x="689.3" y="71.07" width="33.1" height="16.68" fill="#ffd8d8"/>
<rect x="689.3" y="54.78" width="33.1" height="16.68" fill="#ffecec"/>
<rect x="689.3" y="38.5" width="33.1" height="16.68" fill="#ffffff"/>
<rect x="689.3" y="38.5" width="33.1" height="521.1" fill="none" stroke="#5a5a5a" stroke-width="1.2"/>
<rect x="717" y="121.21" width="5.4" height="1.3" fill="#555"/>
<text x="729.4" y="129.66" font-size="20.5" fill="#454545">10</text>
<rect x="717" y="209.89" width="5.4" height="1.3" fill="#555"/>
<text x="729.4" y="218.34" font-size="20.5" fill="#454545">5</text>
<rect x="717" y="298.58" width="5.4" height="1.3" fill="#555"/>
<text x="729.4" y="307.03" font-size="20.5" fill="#454545">0</text>
<rect x="717" y="387.26" width="5.4" height="1.3" fill="#555"/>
<text x="729.4" y="395.71" font-size="20.5" fill="#454545">-5</text>
<rect x="717" y="475.94" width="5.4" height="1.3" fill="#555"/>
<text x="729.4" y="484.39" font-size="20.5" fill="#454545">-10</text>
<text transform="translate(789.2 321.6) rotate(-90)" text-anchor="middle" font-size="22.4" font-weight="bold" fill="#000">Along-track Gradient (nT/m)</text></g>
</svg>
</body></html>
